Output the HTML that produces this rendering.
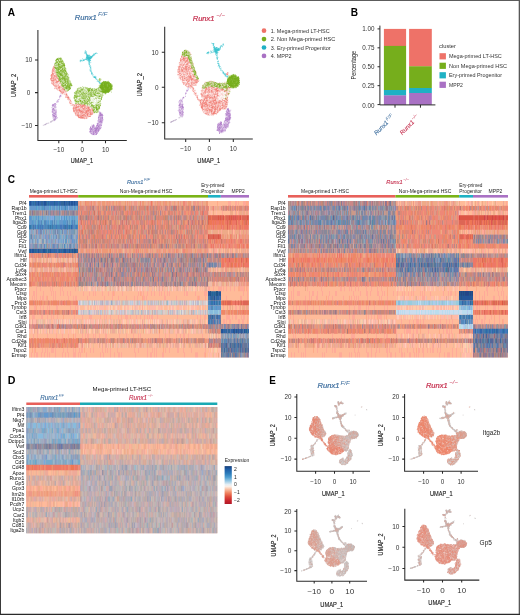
<!DOCTYPE html>
<html lang="en"><head><meta charset="utf-8"><title>Figure</title>
<style>
html,body{margin:0;padding:0;background:#fff}
body{width:520px;height:615px;overflow:hidden}
svg{display:block;font-family:"Liberation Sans", sans-serif;will-change:transform;transform:translateZ(0)}
</style></head><body>
<svg width="520" height="615" viewBox="0 0 520 615">
<rect width="520" height="615" fill="#fff"/>
<defs><filter id="hb" x="-1%" y="-4%" width="102%" height="108%"><feGaussianBlur stdDeviation="0.4 0.05"/></filter>
<filter id="ub" x="-5%" y="-5%" width="110%" height="110%"><feGaussianBlur stdDeviation="0.22"/></filter></defs>
<text x="7.7" y="16.2" font-size="11.2" font-weight="bold" textLength="7.3" lengthAdjust="spacingAndGlyphs" fill="#000">A</text><text x="74.8" y="19.8" font-size="8" font-style="italic" fill="#3f6f9f" stroke="#3f6f9f" stroke-width="0.22" textLength="21.9" lengthAdjust="spacingAndGlyphs">Runx1</text><text x="97.9" y="16" font-size="5.6" font-style="italic" fill="#3f6f9f" textLength="9.6" lengthAdjust="spacingAndGlyphs">F/F</text><text x="192.7" y="21.2" font-size="8" font-style="italic" fill="#c6304f" stroke="#c6304f" stroke-width="0.22" textLength="21.9" lengthAdjust="spacingAndGlyphs">Runx1</text><text x="216.3" y="17.4" font-size="5.6" font-style="italic" fill="#c6304f" textLength="8.7" lengthAdjust="spacingAndGlyphs">&#8722;/&#8722;</text><path d="M37.9 30V140.4H126.8M58.8 140.4v2.9M82.2 140.4v2.9M105.5 140.4v2.9M37.9 59.9h-2.9M37.9 92.6h-2.9M37.9 125.4h-2.9" stroke="#2b2b2b" stroke-width="1.05" fill="none"/><text x="58.8" y="151.7" font-size="6.4" text-anchor="middle" fill="#333">&#8722;10</text><text x="82.2" y="151.7" font-size="6.4" text-anchor="middle" fill="#333">0</text><text x="105.5" y="151.7" font-size="6.4" text-anchor="middle" fill="#333">10</text><text x="32.3" y="62.2" font-size="6.4" text-anchor="end" fill="#333">10</text><text x="30.4" y="94.9" font-size="6.4" text-anchor="end" fill="#333">0</text><text x="32.3" y="127.7" font-size="6.4" text-anchor="end" fill="#333">&#8722;10</text><text x="81.9" y="163.4" font-size="7.9" text-anchor="middle" textLength="22.3" lengthAdjust="spacingAndGlyphs" fill="#222" stroke="#222" stroke-width="0.15">UMAP_1</text><text transform="translate(16.1 85.5) rotate(-90)" font-size="7.9" text-anchor="middle" textLength="23.4" lengthAdjust="spacingAndGlyphs" fill="#222" stroke="#222" stroke-width="0.15">UMAP_2</text><g filter="url(#ub)"><path d="M54.6 64.7L55.8 59.5L58.7 57.6L61.5 58.4L63.9 62.4L66.2 70.5L69 78.6L71.9 84.9L70.8 88.4L67.9 91.3L65 90.7L61.5 85.5L58.7 79.7L56.4 73.9L55 68.8Z" fill="#76ae1c" fill-opacity="0.36"/><path d="M54.6 64.7L55 68.8L56.4 73.9L58.7 79.7L61.5 85.5L65 90.7L66.7 93.6L69.5 98.6L72.8 104.7L71.6 105.7L68 99.7L64.8 95.1L61.7 92.6L58.2 90.6L55.2 88.1L51.7 83.2L50.6 78.6L51.7 72.8L53.2 68.1Z" fill="#ee7268" fill-opacity="0.2"/><path d="M74.8 92.1L78.2 88L84 86.8L91 88.6L96.2 88.6L100.2 87.1L103.2 94.1L100.6 101.6L100 108.6L97.7 113.1L93.7 112.6L92.5 108.6L86.7 105.1L79.8 103.9L75.2 103.9L73.7 98.1Z" fill="#76ae1c" fill-opacity="0.26"/><path d="M73.2 104.1L79.8 103.9L86.7 105.1L92.5 108.6L93.7 113.1L90.2 116.6L84.4 118.9L78.7 117.8L75.2 114.3L72.7 109.1Z" fill="#ee7268" fill-opacity="0.3"/><ellipse cx="105.8" cy="87.2" rx="5.9" ry="5.7" fill="#76ae1c" fill-opacity="0.72"/><path d="M99.8 111.7L102.6 113.9L103.2 121.3L101 128.5L96.8 134.3L92.5 135.3L89.4 132.1L90.4 126.7L94 124.3L95.2 127.7L96.6 125.5L97.8 122.1L98.2 117.1Z" fill="#a971c4" fill-opacity="0.3"/><path d="M52.4 104.5L54.6 103.4L56.2 106.1L56.4 112.1L57 119.1L54.8 120.9L52.6 118.7L51.8 111.1Z" fill="#a971c4" fill-opacity="0.2"/><path transform="scale(.1)" d="M547 651h0m-6 13h0m-5 0h0m-8 19h0m3-2h0m5-1h0m2 2h0m3-9h0m0 4h0m3 0h0m1 1h0m-1 14h0m-1 4h0m-8-2h0m-9 0h0m-1 4h0m-3 9h0m2-4h0m1 1h0m5 0h0m3 8h0m1-11h0m2 2h0m4 5h0m5-8h0m1 0h0m13 27h0m-6-8h0m-1 5h0m0 1h0m-1-9h0m-1 0h0m-6 10h0m-14-12h0m-2 1h0m-2 0h0m0 6h0m-2-2h0m-5 2h0m5 19h0m1-8h0m2 5h0m2 0h0m0-4h0m8 0h0m3 1h0m11 4h0m7 3h0m6 9h0m-20 4h0m-7-4h0m-4 0h0m-1-5h0m-2 5h0m-4 5h0m-5-12h0m-2 4h0m-2-2h0m-1 7h0m-2 2h0m-2-2h0m-4 7h0m5-1h0m1 10h0m7-2h0m3-8h0m0 5h0m15 6h0m3-11h0m1 11h0m2-9h0m2 1h0m5-4h0m6 7h0m1 0h0m2-7h0m2 6h0m7-4h0m1 9h0m7 12h0m-1-1h0m-4 3h0m-4-7h0m-7 0h0m-9 2h0m-1 6h0m-3-12h0m0 9h0m0-3h0m-5 6h0m0-8h0m-7-3h0m-5 9h0m-1-7h0m-11 1h0m-1 8h0m-3-13h0m-2 4h0m-10 13h0m4-2h0m1 10h0m1 2h0m7-1h0m0-12h0m1 5h0m0-1h0m3-3h0m1-1h0m2 3h0m6-2h0m3 5h0m5-4h0m1 6h0m2 0h0m3 0h0m1 2h0m1 3h0m1-6h0m2 6h0m1-12h0m0 3h0m1 2h0m4 6h0m1-12h0m6 4h0m9 2h0m9-4h0m5 10h0m1-7h0m4 22h0m-4-12h0m-3 11h0m-12 0h0m-8-2h0m-1-9h0m-3 1h0m-3-2h0m-8 13h0m-4-13h0m-2 8h0m-6 2h0m-1-6h0m-2 5h0m-6-7h0m-2 7h0m-2 3h0m-2-6h0m-2 6h0m-3-5h0m-5-1h0m11 8h0m2 5h0m13-5h0m2 0h0m6 8h0m5-7h0m3 5h0m1-4h0m1 8h0m4 2h0m1 0h0m2-6h0m3-4h0m1 8h0m7-5h0m2 2h0m0 2h0m2 1h0m1-6h0m2 0h0m2-4h0m6 6h0m2-6h0m19 23h0m-7 4h0m-2-9h0m-8-3h0m-2 0h0m-13 7h0m-10 1h0m0-6h0m-10 0h0m-7 4h0m-9-3h0m-2 3h0m0 6h0m-2-12h0m-4 0h0m-6 2h0m-1 10h0m-4-1h0m-1-11h0m-1 5h0m-1-3h0m-1 3h0m14 10h0m5-2h0m1 5h0m10-5h0m8 2h0m6 6h0m9-5h0m11-2h0m2 0h0m2 11h0m3-9h0m32 18h0m-8 6h0m-1-6h0m-7 3h0m-4 3h0m-8 0h0m0-3h0m-3 3h0m-6-10h0m-10 6h0m-2-5h0m-8 2h0m-3-1h0m-6 6h0m-1 1h0m-3-7h0m0-3h0m-3 1h0m0 3h0m-12-6h0m13 25h0m8-9h0m3 11h0m1-1h0m4-11h0m6 8h0m5-6h0m0-3h0m1 5h0m7-5h0m2 13h0m0-4h0m0 0h0m4-1h0m1-6h0m2 9h0m2-3h0m2 4h0m11 1h0m3-8h0m0 8h0m0-7h0m10 4h0m3 2h0m13-1h0m8 12h0m-8-1h0m-4 5h0m-3-11h0m-8 11h0m-15-8h0m-16-1h0m-4 1h0m-7-4h0m-7 11h0m-3-11h0m-4 3h0m-2 2h0m-17-2h0m32 15h0m11 4h0m2-4h0m1 3h0m2-1h0m1-3h0m7 2h0m2 6h0m10 0h0m3 1h0m1-12h0m16 1h0m5-1h0m6 7h0m2 0h0m16 14h0m-10-3h0m-4 5h0m-8-2h0m0-7h0m-5 9h0m-1 3h0m-4-1h0m-1-12h0m-5 2h0m-10 7h0m-1 4h0m-4-8h0m-3 1h0m-5-3h0m0-2h0m-3 0h0m7 17h0m12 1h0m1 2h0m3-3h0m4 7h0m3-9h0m18 10h0m20 7h0m0-3h0m-3 3h0m-1 0h0m0 5h0m-12-2h0m-3-2h0m-3-5h0m-17 1h0m28 22h0m11-3h0m0-7h0m9 7h0m12 17h0m-3-9h0m-1 6h0m-1 4h0m-1 2h0m0 0h0m-3-4h0m-3-3h0m-2 5h0m-3-9h0m0 3h0m-2 3h0m-8-3h0m-7 3h0m20 18h0m9-2h0m1-2h0m10 3h0m3-10h0m7 24h0m-3-6h0m-3 8h0m-1-8h0m-2 2h0m-4-1h0m2 10h0m7 3h0m2 5h0m10-4h0m6 18h0m-9-1h0m-3 2h0m-1 0h0m-6-3h0m-1-2h0m0-4h0m3 13h0m13 0h0m8 9h0m11-1h0m20 2h0m1 0h0m0-4h0m5 1h0m6-6h0m6 7h0m0-1h0m1 5h0m5-5h0m2-3h0m8 2h0m0-2h0m6 4h0m7-4h0m1 6h0m20-7h0m19 8h0m35 9h0m0 2h0m-11 2h0m-1-11h0m-7 9h0m-1 0h0m-6-4h0m-2-5h0m-1 5h0m-1 5h0m-8-9h0m0 1h0m-2-2h0m-1 11h0m-2-3h0m-4-2h0m-1 0h0m-7 0h0m0-4h0m-10 10h0m-1-11h0m-3 2h0m-1 4h0m-4-3h0m-13 7h0m-4 1h0m-2-3h0m0-1h0m-18-3h0m-2 3h0m-17-4h0m-3-2h0m-7-1h0m-9 5h0m-16-3h0m22 24h0m6-6h0m7-4h0m8 2h0m0 3h0m4-2h0m6 5h0m1-11h0m4 11h0m1-2h0m2 2h0m3-10h0m7 6h0m1 1h0m5 0h0m7-7h0m1 6h0m2-2h0m3 6h0m0-3h0m1-6h0m10-2h0m0 2h0m0 1h0m0 7h0m3-10h0m2 4h0m3 1h0m1 6h0m4-10h0m2 3h0m1 8h0m1-12h0m5 2h0m5 3h0m3 2h0m1 2h0m3-6h0m9-2h0m2 0h0m1 3h0m6-2h0m1-1h0m5 8h0m6-6h0m4 10h0m3-6h0m1-3h0m2 7h0m1-6h0m3 4h0m1-2h0m0-7h0m18 11h0m16 8h0m-10 3h0m-3 2h0m-12-6h0m-4 9h0m-4-5h0m-2-5h0m-1 7h0m-1-5h0m-5 1h0m-3-1h0m-8-4h0m-4 1h0m-2 8h0m-2-3h0m-2-6h0m-3 2h0m-2 0h0m-1 0h0m-12 10h0m-2-10h0m-1 0h0m-4 1h0m0 1h0m-2 0h0m-5 5h0m-1 2h0m-5-9h0m-2-1h0m-2 7h0m-7 4h0m-7-2h0m-1 2h0m-5-2h0m-2-6h0m-2 6h0m-4-10h0m-5 8h0m-6 2h0m-7 0h0m-1-11h0m-3 2h0m-5 11h0m-2-4h0m-1-7h0m0 0h0m-3 2h0m-5-1h0m-2 10h0m-3-5h0m-5-7h0m-6 9h0m-3-8h0m-1 8h0m-3-1h0m4 16h0m2-11h0m3 7h0m7 2h0m1-7h0m2 3h0m7-2h0m3 10h0m2-6h0m0 0h0m1 1h0m4 1h0m4 1h0m5 2h0m5-11h0m3 7h0m1 3h0m1-10h0m2 1h0m2 7h0m3 2h0m2-4h0m0 6h0m4-6h0m1 1h0m1 3h0m7 1h0m4-5h0m16 3h0m7-2h0m3 2h0m1-10h0m13 0h0m1 9h0m11-7h0m6 5h0m5 5h0m2-10h0m8 11h0m0-13h0m1 8h0m2 5h0m5-7h0m1 4h0m2-3h0m2 2h0m2-9h0m2 3h0m1 5h0m4 3h0m1-2h0m6 0h0m5 4h0m0-3h0m1-10h0m2 5h0m1 0h0m1 5h0m6 1h0m-1 10h0m-1 1h0m-2-8h0m-1 9h0m0-3h0m-4-4h0m-2-2h0m-7 10h0m-2-7h0m-4 6h0m-7-4h0m-6-2h0m0 5h0m-2-4h0m-2-1h0m-2 6h0m0-4h0m-2 5h0m-5-1h0m0-5h0m-1 5h0m-1-7h0m-3 11h0m-1-10h0m-5 10h0m-2-12h0m-1 12h0m-2-12h0m0 7h0m-3 0h0m-2-1h0m-5 2h0m-3-6h0m-4 2h0m-3 5h0m-3-3h0m-3 2h0m-2 3h0m-9-12h0m-5 7h0m-3-2h0m-5 4h0m-1-1h0m-1-4h0m-1 5h0m0 4h0m-7-8h0m-2-2h0m-2 2h0m-3 1h0m-2 3h0m0-6h0m-4 6h0m-18-3h0m-8 3h0m-8-2h0m-1 5h0m-1-10h0m-7-1h0m0 2h0m-2 6h0m-4 4h0m-4-3h0m-4-6h0m0-2h0m18 22h0m0 1h0m6-11h0m9 9h0m5-7h0m9 0h0m3 2h0m2 9h0m8-12h0m0 9h0m0-9h0m4 5h0m0 0h0m7-3h0m4 10h0m4-11h0m2 4h0m5-4h0m0 0h0m2 2h0m1-2h0m2 4h0m1 0h0m2-5h0m1 2h0m2-2h0m7 10h0m4-5h0m1-6h0m9 9h0m5 1h0m2-6h0m4 1h0m0-2h0m0 0h0m2-1h0m1-2h0m4 7h0m3 5h0m2-10h0m6 11h0m6-5h0m1 2h0m1-6h0m2 1h0m3 5h0m2-7h0m1 5h0m3-2h0m4 4h0m1 0h0m0 0h0m11 2h0m2-12h0m1 13h0m3-13h0m4 4h0m2 2h0m2-6h0m4 11h0m-7 6h0m-2 1h0m-2 5h0m-11 0h0m-1 1h0m-3-7h0m-4 4h0m-1 5h0m0-4h0m-22-4h0m-7-1h0m0 8h0m-1-1h0m-1-2h0m-1 4h0m-5-7h0m-8-1h0m-4-4h0m-7 12h0m-2 0h0m-7-10h0m-1 1h0m-2 8h0m-5-9h0m-6-1h0m-11-1h0m-8 12h0m-17 1h0m-4-7h0m-1-3h0m-3 7h0m-2 1h0m-5-11h0m-3 8h0m-12-1h0m-1-3h0m-1 14h0m11 5h0m8-8h0m3 9h0m0-4h0m1-4h0m3 5h0m3-6h0m4 4h0m5 3h0m0-6h0m4 10h0m2-4h0m3 5h0m1-6h0m9-4h0m4-2h0m0 8h0m2 3h0m1-9h0m1 9h0m4-5h0m0 4h0m4-6h0m1 2h0m1-6h0m5-1h0m3 7h0m3 6h0m4-1h0m5 0h0m4-6h0m0 7h0m14-1h0m4 0h0m0-3h0m3-7h0m0 6h0m13-8h0m9 1h0m4 11h0m13-12h0m-11 17h0m-5-3h0m-2 2h0m-3-2h0m-5 1h0m-7 3h0m-5 5h0m0-3h0m-12 4h0m-9-3h0m-14 3h0m-1 2h0m-10-5h0m-1 0h0m-1 5h0m0-7h0m-4 7h0m-1-3h0m-1-8h0m-1 5h0m-3 3h0m-1 4h0m-3-5h0m-3-4h0m-1 1h0m-1 3h0m-2 0h0m-8-4h0m-4 0h0m-1 9h0m-1-3h0m-3-10h0m-1 11h0m-3-1h0m-1-3h0m-3-5h0m-1-1h0m8 14h0m3 1h0m13 2h0m1-2h0m2-2h0m3 8h0m2-5h0m11 5h0m4-7h0m3 5h0m5-4h0m7 9h0m4-7h0m12 6h0m4-3h0m6 1h0" stroke="#ee7268" stroke-width="5.5" stroke-linecap="round" fill="none"/><path transform="scale(.1)" d="M612 582h0m-5-2h0m-5 1h0m-5 4h0m-8-1h0m-6 2h0m-1 0h0m-3-2h0m-16 12h0m2-5h0m4 8h0m0-2h0m1 1h0m0-3h0m3-4h0m2 2h0m0 5h0m1-10h0m1 4h0m0 4h0m6-3h0m4 7h0m0-10h0m2 9h0m7-7h0m1-3h0m4 5h0m2 0h0m1-6h0m4 0h0m4 0h0m7 6h0m10 16h0m-3-2h0m-5 1h0m-1 3h0m0 2h0m-4-2h0m-4 1h0m-6-6h0m-4 7h0m-1-1h0m-3 2h0m-6-2h0m-1 0h0m0 2h0m-3-2h0m-2 0h0m-1-7h0m-6 1h0m-10 7h0m0-2h0m-3-10h0m-3 7h0m-3-5h0m-3 2h0m0 21h0m5-5h0m1 6h0m1 0h0m3 1h0m1-9h0m1-2h0m3 3h0m3 4h0m1-9h0m18 8h0m2-4h0m1 2h0m4 5h0m8-3h0m1 2h0m0-8h0m6 6h0m5-3h0m11-3h0m11 21h0m-1-5h0m-5-3h0m-2 2h0m-9 1h0m-1 5h0m-3 3h0m-1-4h0m-1-3h0m-6 5h0m-1-5h0m-3 8h0m-1-11h0m0-1h0m-1 11h0m-4-8h0m-2 3h0m-1-2h0m-1-4h0m-1 10h0m-2-2h0m-5-2h0m-2-3h0m-2 0h0m-2 5h0m-3 2h0m0-4h0m-9-7h0m-6 3h0m-1-1h0m-2 2h0m-4-3h0m0 10h0m-4-6h0m-1 6h0m0-7h0m-3 7h0m-5-8h0m0 9h0m1 15h0m1-10h0m5 6h0m1 3h0m8 1h0m4-9h0m6 3h0m5-4h0m2-1h0m1-1h0m1 3h0m4 4h0m1-2h0m1 6h0m4-9h0m1 5h0m8-5h0m1 4h0m1-6h0m5 5h0m4 6h0m0-12h0m1 7h0m1-7h0m0 5h0m8 2h0m1-3h0m3-1h0m4 8h0m3-10h0m0 7h0m4-5h0m0 7h0m2-9h0m2 9h0m2-5h0m0-1h0m2 7h0m3 2h0m-3 5h0m0-4h0m-1 6h0m-1-6h0m-2 0h0m-3 1h0m-8 4h0m-1-1h0m-1 5h0m-2-6h0m0-3h0m-8 10h0m-2-6h0m-2-4h0m-5 10h0m-3 3h0m-4-2h0m-2-8h0m-1-3h0m0 4h0m-7 2h0m0 0h0m-1 6h0m0-4h0m-1-7h0m-6 8h0m-29 2h0m0-11h0m-1 0h0m-2 13h0m-3-6h0m-2 6h0m0 2h0m4 4h0m0 1h0m4-5h0m1 9h0m1-1h0m0 2h0m3-7h0m5 7h0m2 0h0m3-1h0m1-6h0m2 1h0m4 5h0m5-9h0m5 9h0m2-1h0m1 0h0m4 2h0m2-4h0m3-1h0m1 4h0m3-6h0m3 0h0m0 7h0m1 2h0m1-4h0m5-8h0m1 6h0m0-6h0m6 0h0m8 11h0m3-7h0m11 3h0m3-6h0m3 6h0m1-1h0m2 4h0m3 2h0m4 5h0m-1 0h0m-4 9h0m-9-12h0m0 1h0m0 9h0m-1 0h0m-12-8h0m-3 2h0m0-2h0m-2 5h0m0-7h0m-1 3h0m-3 9h0m-1-12h0m0 4h0m-3 6h0m0 2h0m-3-6h0m-3 5h0m-11-10h0m-2 2h0m0 1h0m-1-5h0m-2 7h0m-2-3h0m-2-2h0m-2 6h0m0 5h0m-1-5h0m0-8h0m-2 2h0m0 7h0m-2-3h0m-3 6h0m-3-4h0m-4 2h0m-7-5h0m-2 8h0m-3-7h0m-4-3h0m-5 10h0m2 14h0m5-1h0m3 0h0m6-4h0m1-3h0m0 1h0m13-3h0m1 8h0m0-9h0m9 10h0m6 0h0m2-3h0m4-3h0m1 4h0m0-9h0m1 4h0m3 4h0m2 0h0m1-8h0m3 5h0m3 4h0m10-4h0m3 2h0m3 2h0m3-2h0m0 1h0m9-5h0m0 0h0m4 8h0m0-10h0m0 11h0m4-11h0m0 10h0m2 1h0m2 6h0m-2 5h0m-3-4h0m-3 0h0m-5 6h0m0-7h0m-5 6h0m-2 0h0m-8-2h0m-2-9h0m-2 2h0m-5 3h0m-1 6h0m0-3h0m-2-2h0m-4 3h0m-6 1h0m-4 2h0m-4-3h0m-1-3h0m-2 6h0m-3-5h0m-5-3h0m0 4h0m-4-3h0m0-4h0m-8 10h0m0-4h0m-2 5h0m-1-6h0m-3 0h0m-3-5h0m-1 1h0m-1 5h0m-1 2h0m-2 3h0m-1-8h0m-4 0h0m-1 7h0m4 10h0m5-6h0m4-1h0m4 3h0m5-3h0m5 8h0m0 2h0m4-6h0m3 6h0m1-9h0m4 0h0m1 4h0m5-4h0m0 5h0m2-2h0m2 3h0m3-7h0m3 10h0m5-2h0m2-6h0m11 9h0m5 2h0m3-12h0m1 9h0m1-2h0m0-3h0m2 4h0m2 3h0m1-6h0m2 0h0m2-1h0m0 7h0m6-9h0m5 1h0m1 5h0m2-7h0m2 6h0m1-4h0m2 4h0m1-3h0m10 13h0m-8-3h0m-7-1h0m0 7h0m-1-3h0m-1 3h0m-2-5h0m-8 11h0m-4-9h0m0-4h0m-4 6h0m-4 2h0m-8-7h0m-5 9h0m-2-3h0m0 1h0m-8 5h0m-6-11h0m-1 6h0m-1 1h0m-2-5h0m0 0h0m-2 1h0m0-2h0m-4-1h0m-2 3h0m0 8h0m-1-3h0m-3-8h0m-1 8h0m-6 1h0m-1 0h0m-1-3h0m-3 4h0m-5-4h0m0 2h0m-6-4h0m-3 4h0m-4-8h0m5 22h0m1 0h0m5-9h0m4 0h0m0 1h0m1-2h0m3 7h0m0-5h0m3-1h0m0 7h0m0-1h0m3 6h0m2 0h0m6 0h0m7-12h0m6 5h0m4-3h0m3-2h0m0 4h0m1-1h0m6 2h0m0-3h0m3 9h0m0 0h0m1-12h0m7 8h0m2 0h0m1-8h0m2 4h0m1-3h0m3 10h0m0-9h0m3 3h0m3 3h0m3-5h0m8-2h0m2 5h0m6 4h0m6-9h0m0 3h0m13 19h0m-6-2h0m-7-3h0m-1-2h0m-1 1h0m0 2h0m-1-2h0m-8 3h0m-7 7h0m-3-3h0m-1-6h0m-2 5h0m0-2h0m-4 6h0m-4-11h0m-1 2h0m-3 9h0m-6 0h0m0-4h0m-1-3h0m-7 1h0m-2-3h0m0 6h0m-3-6h0m-3 2h0m-6 7h0m-3 0h0m-6-13h0m-3 10h0m-3-4h0m-2 1h0m0 0h0m-2 4h0m-2 1h0m-1 0h0m-1 1h0m0-4h0m-9-8h0m-2 0h0m3 13h0m8 8h0m2 4h0m7 0h0m1-4h0m1 5h0m2-3h0m5-9h0m4 6h0m1 3h0m1-10h0m2 3h0m1-1h0m2-2h0m3 6h0m1 2h0m1-1h0m9-4h0m1 5h0m4-6h0m5-2h0m0 8h0m2 5h0m0-9h0m1 8h0m1-8h0m7-2h0m1 10h0m1-7h0m5-2h0m2 1h0m2 1h0m1 0h0m6-3h0m3 2h0m4 1h0m5 1h0m1 0h0m307-1h0m4 3h0m1-3h0m2 1h0m9 3h0m-3 10h0m-8 8h0m-2-10h0m0 8h0m-5-9h0m-4 0h0m-289 6h0m-8 3h0m-5-5h0m-4 3h0m-2-5h0m0-3h0m-4 7h0m-2-8h0m-5 3h0m-3 5h0m-5 4h0m-1-8h0m-1 1h0m-6-3h0m-1 3h0m-9-3h0m-1 5h0m-3 2h0m0 4h0m-1-4h0m-4 1h0m-10 2h0m-1 0h0m-4-9h0m-7 5h0m-3-8h0m-3 13h0m-6-11h0m-2 1h0m-5 4h0m-4-4h0m16 17h0m2-3h0m2 2h0m9 0h0m1-2h0m0 2h0m1 1h0m9-1h0m12 3h0m1-2h0m1-1h0m2-4h0m0 10h0m4-11h0m5 12h0m1-8h0m0 0h0m2 6h0m2 0h0m1-10h0m2 8h0m13 1h0m0-1h0m1 1h0m2-5h0m1-1h0m4 4h0m2 5h0m0-11h0m10 8h0m0-4h0m3-4h0m3 2h0m322 8h0m7-1h0m6-6h0m0 2h0m1-4h0m0 10h0m6-4h0m4 5h0m0-3h0m0 3h0m0-10h0m4 6h0m0-4h0m2-2h0m3 2h0m3 2h0m1 1h0m10-3h0m1 3h0m2 3h0m1 0h0m3 1h0m4-10h0m1-1h0m1 8h0m4 2h0m3 0h0m3 1h0m11 14h0m-3 0h0m-4-1h0m-1-9h0m-3 2h0m-2 9h0m-1 0h0m0-9h0m-4 4h0m-2 0h0m-1-8h0m-3 1h0m-1 6h0m-1-7h0m-1 7h0m-3-5h0m-2 4h0m0 0h0m0 0h0m-2-3h0m-1 10h0m-1-4h0m-1-9h0m0 11h0m-2-2h0m0-9h0m-3 7h0m-2 6h0m-2-1h0m-2-9h0m-2-3h0m-1 4h0m-3 4h0m-2-1h0m0 5h0m-1-3h0m0 1h0m-1 1h0m-1 2h0m-4-9h0m-1 1h0m-6-3h0m-2 1h0m-1 3h0m-1 6h0m0-11h0m-1 12h0m-6-1h0m0-9h0m0-3h0m0 1h0m-2-1h0m-2 3h0m-2 8h0m-1 0h0m-2-2h0m-1 2h0m-10 0h0m-293-2h0m-2-2h0m0-1h0m-8-4h0m-8 5h0m-1-1h0m-5-2h0m-1-4h0m0 12h0m-3-11h0m-5 9h0m-9 1h0m-3-1h0m-15-6h0m-6-2h0m0 0h0m-1 6h0m-2 1h0m0 0h0m-1 1h0m-4-2h0m-3 0h0m0-3h0m-2 2h0m-7-6h0m-1 12h0m-2-11h0m-1 1h0m0 7h0m-6 1h0m-2-10h0m-10 2h0m11 23h0m4-1h0m3-3h0m3-3h0m14 7h0m8-2h0m2 3h0m4-2h0m1 0h0m0-7h0m2 5h0m4-7h0m3 7h0m0 3h0m0-4h0m9 2h0m1-6h0m1 6h0m0-9h0m2 6h0m0 4h0m5 0h0m4-9h0m1 5h0m12 4h0m1 0h0m2-4h0m1-6h0m3 2h0m2 6h0m3-9h0m0 8h0m3 1h0m2-2h0m5 4h0m283-2h0m7-9h0m2 11h0m3-11h0m3 4h0m1 2h0m0 7h0m0-6h0m1-2h0m1 4h0m2-8h0m1 9h0m0-7h0m1-2h0m3-1h0m1 10h0m1-10h0m5 9h0m8-4h0m2 7h0m0-6h0m1 6h0m2-2h0m0-8h0m0 10h0m1-2h0m0-7h0m0-1h0m3 6h0m1 3h0m0-1h0m0-9h0m1 5h0m0 7h0m0-10h0m3 8h0m1-9h0m5 9h0m1-4h0m0 5h0m3 0h0m0 0h0m3-4h0m3-1h0m9 3h0m2-9h0m1 11h0m0-5h0m3-2h0m1-1h0m1 9h0m2-5h0m11-8h0m0 0h0m0 8h0m1-5h0m1 7h0m1-5h0m2-4h0m3 1h0m0 4h0m6-4h0m3 6h0m2 2h0m4 14h0m-4-8h0m-1 1h0m-1 3h0m-1 4h0m-2-1h0m-1-1h0m0-1h0m-1 0h0m-1 3h0m-2-8h0m-4-2h0m-1 5h0m0-2h0m-1 4h0m0 6h0m-1-13h0m-1 7h0m-2-6h0m-1-1h0m-1 7h0m-1 5h0m-1-11h0m0 12h0m-1-9h0m-3 0h0m-2 0h0m0-4h0m-1 2h0m0 2h0m-2 7h0m-1-9h0m0 10h0m-1-4h0m-2-7h0m-2 10h0m-9-6h0m-6 7h0m-1-9h0m-1 7h0m-3 1h0m0-5h0m-2 5h0m-3 0h0m0-2h0m-1 0h0m-3-5h0m-1-2h0m0 5h0m0-4h0m0 3h0m-3-3h0m-1-1h0m0 6h0m-1 0h0m-1 1h0m-1-4h0m-4 6h0m-2-7h0m-4 9h0m0-11h0m-2 0h0m-1-1h0m-1 0h0m0 0h0m-4 7h0m-1-2h0m0 1h0m-2-6h0m-1 9h0m0 3h0m-2-3h0m0 1h0m0-5h0m-2-5h0m-1 0h0m-1 5h0m-2 5h0m-1-9h0m-2 10h0m-3-12h0m-1 11h0m-1 1h0m-3-12h0m0 1h0m-5-1h0m-2 12h0m-5-7h0m-164 8h0m-105-11h0m-7-1h0m0-1h0m-6 1h0m-1 6h0m-8-4h0m-1 8h0m-2-7h0m-3 1h0m-1 8h0m-6-7h0m-3 1h0m-2 2h0m-1-7h0m-1 10h0m-2-6h0m-1 3h0m-2-9h0m-2 13h0m-2-12h0m-3 5h0m-1-3h0m-4 7h0m-1-6h0m-2 5h0m-8-7h0m-11 1h0m-1-2h0m0 10h0m-5-1h0m-1-6h0m-4-1h0m-1 9h0m-1-2h0m-7-7h0m0 1h0m-1-1h0m0-2h0m22 18h0m8-5h0m2 5h0m2 4h0m2-5h0m2 1h0m2 8h0m1 0h0m1-7h0m2 1h0m1 5h0m2-11h0m4 12h0m3-9h0m5 5h0m4 2h0m4-6h0m1 7h0m0-11h0m2 5h0m4-2h0m1 8h0m0 1h0m2-7h0m2 6h0m1-9h0m0 10h0m2-4h0m0 3h0m0 1h0m1-1h0m0-5h0m4-3h0m94 9h0m1-7h0m7 5h0m10 0h0m8 0h0m1 0h0m6-3h0m18-3h0m2 5h0m14 0h0m5 3h0m32 0h0m79-5h0m10-3h0m1 3h0m1-1h0m1-2h0m0-2h0m1 6h0m2-1h0m0 2h0m1 0h0m0 3h0m0-1h0m1 1h0m0-10h0m1 6h0m0-7h0m0 5h0m1-4h0m1 4h0m0 0h0m1 3h0m1-4h0m2-6h0m1 6h0m2-3h0m1 8h0m1-8h0m0 5h0m0 1h0m1 1h0m2-1h0m0-5h0m2 7h0m2-6h0m1 3h0m0-8h0m2 9h0m2 0h0m1-3h0m0 5h0m0-6h0m1 5h0m1-7h0m4 7h0m0 1h0m1-8h0m3-3h0m0 6h0m1 5h0m4-5h0m2-1h0m0-5h0m1 0h0m2 4h0m3 8h0m1-5h0m3 4h0m0-2h0m2 1h0m2 2h0m0-5h0m0 5h0m0-2h0m0 2h0m1-6h0m2-4h0m0-1h0m1 0h0m3 9h0m1 2h0m0 0h0m1-9h0m0-3h0m2 8h0m2-3h0m1-1h0m2-4h0m0 11h0m2-5h0m1 4h0m1-3h0m1 6h0m1-1h0m1-3h0m0-4h0m4 5h0m1-5h0m1-3h0m0 0h0m1 7h0m1-9h0m0 6h0m8 6h0m5-12h0m0 1h0m0 8h0m4-9h0m0 5h0m2 3h0m2-2h0m0 1h0m1 3h0m6-4h0m0 0h0m9 6h0m-5 5h0m-1 9h0m-2-1h0m-1 1h0m-1-10h0m0 7h0m-3-6h0m0-3h0m-4 13h0m-2-10h0m-1-3h0m0 0h0m-2 7h0m-4 4h0m-1-1h0m-1 2h0m-4-9h0m-1 10h0m-2-2h0m-2-3h0m-2-2h0m-4 5h0m0 1h0m-1 0h0m-1-11h0m0-1h0m-2 8h0m-2 1h0m0-8h0m-1 12h0m0-2h0m-1-10h0m0-1h0m0 8h0m-1-3h0m-1 4h0m0-7h0m-2 7h0m-1 2h0m-3-9h0m-1-1h0m-9 7h0m-1 3h0m0-3h0m-3-2h0m-3 5h0m-7-11h0m-2 13h0m-2-11h0m-1 4h0m-2 5h0m-4 1h0m0-12h0m0 6h0m-1-4h0m-1 6h0m-1 5h0m-1-10h0m-1 4h0m-1-4h0m-1 3h0m-3 6h0m-1-7h0m0 0h0m-2 3h0m-2 0h0m-4-1h0m0 3h0m-1-2h0m0 4h0m-1-11h0m-3 3h0m-1 9h0m-2-8h0m-1 8h0m-9-5h0m-6 1h0m-1-2h0m-1 3h0m0 0h0m-6-9h0m-4 7h0m-12 2h0m-3 2h0m-18-3h0m-1-6h0m-5 6h0m-10 1h0m0-5h0m-7 6h0m0-3h0m-2 4h0m-4 0h0m-2 1h0m-9-7h0m-1 5h0m-1-2h0m-3-4h0m-2-3h0m-5 7h0m-1 0h0m-1-7h0m-6 3h0m-1 6h0m-2 2h0m-1-4h0m-5 3h0m-6-10h0m-9-2h0m-22 10h0m-2-3h0m-10 1h0m-2-3h0m-13 7h0m-3-7h0m-3 6h0m-8-9h0m-8 3h0m-2-3h0m-3-2h0m0 3h0m-5 3h0m-6 0h0m-69-2h0m-6 9h0m-6-3h0m-1 2h0m0-3h0m-5 2h0m-9-10h0m-7 5h0m-4-4h0m-1 2h0m-3-4h0m-2 10h0m-4 0h0m-7-1h0m-3-4h0m-1 0h0m-1 7h0m-13-11h0m38 13h0m8 13h0m0-3h0m0-8h0m5-1h0m0 6h0m5-7h0m0 4h0m84 8h0m0-6h0m6-3h0m0 4h0m10-1h0m4-1h0m4 1h0m1-5h0m3 3h0m1 7h0m3 1h0m1-6h0m3 6h0m7-7h0m4-3h0m1-2h0m0 11h0m1-8h0m1 10h0m1 0h0m2 0h0m0-13h0m1 3h0m4-3h0m4 8h0m0-2h0m9-5h0m0 8h0m16 3h0m15-5h0m5 0h0m4 5h0m3-1h0m2-1h0m1 0h0m0-6h0m5 3h0m1 6h0m1-8h0m1 2h0m0-3h0m2 4h0m0 5h0m7-1h0m4-7h0m3-4h0m1 2h0m1 4h0m1 4h0m4-4h0m1 0h0m0 0h0m4 1h0m2 0h0m2 4h0m1-1h0m5 0h0m1-2h0m5 0h0m6-1h0m3-2h0m5-2h0m2 2h0m1-1h0m2 4h0m1-9h0m2 12h0m0-5h0m2-4h0m1 0h0m1 3h0m13 2h0m1 5h0m8-13h0m1 8h0m7 1h0m0-8h0m5 0h0m5 11h0m1-2h0m2 3h0m0-13h0m1 8h0m4-7h0m1 8h0m0-3h0m7 2h0m0-1h0m5-6h0m1 3h0m1-2h0m2 8h0m3-8h0m1-2h0m0 12h0m1 0h0m9-10h0m0 2h0m2 7h0m1-10h0m2 1h0m0 3h0m2 6h0m2 2h0m0-5h0m2 1h0m1 0h0m0 2h0m3-9h0m2 6h0m1 0h0m0 4h0m0-1h0m1-1h0m0 0h0m2 0h0m2-7h0m0-3h0m0 0h0m0 1h0m1 1h0m1 3h0m0 7h0m3-6h0m1 2h0m0-4h0m1 3h0m2 4h0m2-7h0m1 8h0m3 0h0m0-5h0m2 3h0m0-10h0m4 5h0m4-2h0m0-1h0m3 1h0m1 8h0m0 0h0m1-4h0m9-7h0m1 0h0m2 6h0m4 19h0m-13-9h0m-10 5h0m0-3h0m-4 9h0m-2-7h0m-2 3h0m-2-9h0m0 4h0m-1 6h0m-1-9h0m0 4h0m-1-2h0m-1 1h0m-2 1h0m-1 3h0m-1-3h0m0 7h0m-2-9h0m-1-3h0m0 10h0m-5 2h0m-1-11h0m0 5h0m-3 7h0m-2-5h0m0-5h0m0 3h0m-2 0h0m-4 0h0m0 6h0m-1-7h0m-1 5h0m0-9h0m-2 6h0m-1 2h0m0-4h0m-2-2h0m-1 4h0m-1-5h0m-5 2h0m-1 4h0m0 2h0m0 1h0m-1-7h0m-1-3h0m-3 4h0m-3 1h0m-1 3h0m0 2h0m-1-2h0m-1 4h0m-2-5h0m-2-1h0m-1-3h0m0 6h0m-3 3h0m-2-6h0m-1-1h0m-4 3h0m-1-7h0m-3 5h0m0 1h0m-2-4h0m-2-2h0m-3 2h0m0-3h0m-4 2h0m-1 4h0m-2 5h0m-6-8h0m-4 9h0m-15-2h0m-7-8h0m-3 8h0m-1-4h0m-3 3h0m-1 3h0m-5-13h0m-3 13h0m-1-9h0m-7 6h0m0 3h0m-2-7h0m-9-5h0m0 5h0m-4-2h0m-1-2h0m-7 2h0m-27-4h0m-3 9h0m0-2h0m-1 2h0m0-6h0m-18-1h0m-4 5h0m-2-7h0m-8 8h0m-4-7h0m-2 4h0m-10 2h0m-13 0h0m-1 4h0m-3 0h0m-8 0h0m-2-2h0m-2-3h0m0-3h0m-2 3h0m-1 0h0m-4-4h0m-1 1h0m-3 4h0m-2 2h0m-6-4h0m-5 3h0m-4 4h0m-3-6h0m-1-5h0m0 3h0m-1 6h0m-4-5h0m-3 6h0m-1 0h0m-1-4h0m-2-2h0m-3-2h0m-2 10h0m-88-11h0m73 18h0m3-4h0m6 10h0m1-3h0m2-2h0m0 0h0m1-5h0m4-2h0m5 13h0m0-2h0m0-5h0m4-1h0m9-4h0m2 9h0m3-10h0m6 10h0m0 2h0m9-3h0m4-2h0m8 4h0m0-2h0m1-4h0m2 7h0m7-2h0m0-6h0m4 3h0m3-2h0m3-5h0m3 5h0m2 3h0m1-3h0m7 8h0m1-7h0m2 4h0m4 0h0m2 0h0m3-5h0m5 5h0m5-3h0m6 5h0m3 1h0m3-7h0m3-6h0m3 7h0m8 0h0m3 6h0m1-1h0m3-11h0m0 1h0m3 2h0m4 2h0m3-6h0m1 7h0m3 2h0m3-5h0m1 3h0m6-6h0m5 5h0m4-6h0m4 12h0m5-4h0m6-1h0m7-2h0m2 6h0m7 0h0m1-7h0m2 5h0m7-1h0m0-1h0m1 5h0m2-5h0m0 0h0m1-5h0m2 11h0m6-2h0m2 2h0m2-6h0m1 3h0m7 0h0m2-3h0m2-2h0m1 1h0m11 2h0m9 3h0m3-1h0m2 3h0m2-4h0m6-7h0m0-1h0m1-1h0m6 8h0m1-8h0m1 3h0m3-2h0m3 3h0m3-2h0m1 3h0m1 0h0m2 6h0m1-11h0m1 12h0m5-6h0m19-6h0m0 1h0m-30 15h0m-23 8h0m-5-1h0m-2 2h0m-2 0h0m-3-3h0m-1-1h0m-3-6h0m0 5h0m-1-2h0m-12 8h0m-1-2h0m-11-1h0m-10-9h0m-4 5h0m-1 6h0m0-9h0m-4 4h0m-12-2h0m-1 0h0m-4 7h0m0-6h0m-4 1h0m-4 2h0m0-4h0m0 3h0m-3-6h0m-1 9h0m-3-1h0m-14 3h0m0-3h0m-5 1h0m-3-10h0m-1 10h0m-2-8h0m-7 8h0m-3-9h0m-1 5h0m-2-1h0m-5 1h0m-4-1h0m-1-2h0m0 2h0m-1-5h0m0 13h0m-1-10h0m-1-2h0m0 11h0m-10-4h0m-7 1h0m-3-8h0m-9 0h0m-1 2h0m-4-2h0m-10 11h0m0-1h0m-5-10h0m-5 11h0m-7-4h0m-5 1h0m-1-8h0m0 5h0m-4 2h0m-5 3h0m-3 0h0m-3-7h0m-2 6h0m-6-9h0m0 3h0m-1-1h0m-11 10h0m-10-6h0m-5-6h0m-2 7h0m-3-4h0m-2-4h0m-4 13h0m-1-8h0m-11 14h0m1-3h0m2 5h0m0-5h0m1 10h0m2-12h0m5 5h0m3 6h0m9-8h0m1 5h0m4 2h0m6-4h0m1 7h0m1 0h0m8-7h0m4 1h0m2 1h0m3 0h0m5-6h0m8 11h0m3-8h0m2-5h0m9 9h0m4-9h0m0 0h0m0 6h0m2 6h0m2-12h0m0 12h0m1-2h0m6-9h0m0 10h0m6-1h0m0-9h0m4 12h0m1-3h0m2-8h0m5 7h0m3-1h0m0-6h0m3 9h0m1-3h0m2-3h0m3 8h0m1-2h0m2 1h0m3-10h0m2-1h0m1 11h0m4-2h0m1 0h0m1-1h0m3 2h0m5-10h0m10-1h0m1 4h0m3-3h0m2 9h0m5-1h0m3-7h0m0 3h0m2 6h0m6 1h0m0-7h0m1 8h0m1 0h0m1-13h0m0 9h0m8 2h0m8-5h0m7-4h0m3 0h0m1 3h0m0 2h0m1-4h0m7 5h0m3-5h0m5 5h0m1-2h0m0 4h0m5-1h0m2-1h0m0 1h0m2 3h0m3-12h0m1 13h0m5 0h0m3 0h0m1-1h0m1-1h0m1-11h0m0 11h0m6 0h0m8-5h0m3 1h0m6-6h0m5 6h0m1 0h0m1-6h0m2 2h0m-9 20h0m-2-7h0m-2 4h0m-1-4h0m-7 2h0m-3-3h0m-12 11h0m-2 1h0m-2-10h0m-11 10h0m0-13h0m0 6h0m0 5h0m-2-6h0m-11 6h0m-14 0h0m-2 0h0m-1-6h0m-2 3h0m-3-8h0m-5 2h0m-6-2h0m-2 0h0m-3 6h0m-3 4h0m-13-5h0m-4 2h0m-3-5h0m-3 9h0m-3-2h0m-6-4h0m-2 0h0m-3 1h0m0 5h0m-15-11h0m-7 4h0m-3-3h0m-1 10h0m-5-8h0m-3 0h0m-5 6h0m-1 0h0m-2 2h0m-2-7h0m-4 0h0m-4 0h0m0-2h0m0 7h0m-1 1h0m-3 3h0m-9-2h0m0-4h0m-4 3h0m-9-10h0m-5 5h0m-1-2h0m-1-2h0m-1 0h0m-3 4h0m-2 2h0m-3-2h0m-1-2h0m-1 10h0m-10-8h0m-2-4h0m-8 6h0m-4 6h0m0-7h0m-1 0h0m0 3h0m-2-9h0m-2 7h0m-4-1h0m-4-4h0m-2 8h0m-4 3h0m-1-8h0m-4 3h0m-4-2h0m3 13h0m1 1h0m3 4h0m20-4h0m0-6h0m2 3h0m11 10h0m10-10h0m6 1h0m1-1h0m11-1h0m12 3h0m8 1h0m5 2h0m1 1h0m0-3h0m1 0h0m1-5h0m1 12h0m6-5h0m0-3h0m2 2h0m7-7h0m2 6h0m4-1h0m1 0h0m0 1h0m2-5h0m3 10h0m4-2h0m9-7h0m3 11h0m0-7h0m17-2h0m2 5h0m0-8h0m0 4h0m2 8h0m16-12h0m0 10h0m0-5h0m2-6h0m14 12h0m5-1h0m1-8h0m1 1h0m9 2h0m1 7h0m3-7h0m0-6h0m1 0h0m4 4h0m4-1h0m7-3h0m4 7h0m2-7h0m7 8h0m2 2h0m4 1h0m0-8h0m6 8h0m1-6h0m1-1h0m7 2h0m10-5h0m0 9h0m0-3h0m1-3h0m1 9h0m1 1h0m-2 2h0m-5-2h0m-14 12h0m-4-4h0m0 5h0m0-12h0m0 5h0m-3 7h0m-13 0h0m-3-1h0m-1-11h0m0-1h0m-4 7h0m-1-1h0m0 5h0m-5 0h0m-12-6h0m-2-5h0m-1 4h0m-2-3h0m-2 10h0m-1 1h0m-2-8h0m-6 1h0m-24 0h0m-4 2h0m0 3h0m-2-8h0m-1-1h0m-2 12h0m0-3h0m-3 3h0m-2-2h0m-2-10h0m-1 1h0m-2 11h0m-5-4h0m-1-2h0m-4-4h0m-6 4h0m-7 0h0m-3 5h0m-2-12h0m-4 13h0m-5-3h0m-2-9h0m-4 5h0m-2 6h0m-2-3h0m-2 1h0m0-1h0m-4 4h0m-3-3h0m0 3h0m-15-2h0m-1-1h0m-2-2h0m-3 0h0m-8 5h0m-2-2h0m-2-4h0m-1 6h0m-5-8h0m-4 0h0m-1-4h0m-1 1h0m-8 10h0m-18-6h0m-3-4h0m-2 6h0m-7-6h0m-1 6h0m-5-2h0m7 10h0m3 0h0m0-2h0m4 10h0m1-6h0m1 0h0m2-2h0m2 7h0m0-1h0m2 5h0m0-3h0m2-3h0m2-4h0m2 2h0m7 2h0m0 0h0m5-1h0m1 1h0m1 0h0m6-1h0m2-3h0m1 8h0m5-9h0m1-2h0m1 1h0m1-1h0m0 5h0m2-4h0m2-1h0m3 9h0m4-5h0m2 6h0m3-10h0m5 2h0m1 10h0m1-4h0m5-3h0m2 8h0m2-8h0m4-1h0m8 0h0m2-3h0m1 3h0m0 8h0m7-11h0m5 7h0m0 3h0m4 2h0m1-7h0m0-2h0m7 2h0m0 4h0m1-2h0m3-2h0m2-5h0m7 12h0m0-4h0m6 0h0m6 2h0m18 2h0m0 0h0m3-10h0m8 4h0m2 1h0m1-8h0m1 8h0m3-4h0m0 9h0m7-9h0m3 3h0m1-1h0m0-4h0m3 4h0m6-4h0m9 6h0m2 3h0m3-3h0m2-5h0m2 5h0m5-8h0m0 5h0m10 7h0m0-6h0m0-3h0m4 4h0m12-6h0m1 2h0m-3 22h0m-7 2h0m-6-7h0m-1-5h0m-1 7h0m-3-8h0m-4 7h0m-1-7h0m-2 5h0m-9 0h0m0 3h0m-1 2h0m-1 1h0m-8-1h0m-2-3h0m0 6h0m-2-7h0m-7 1h0m0-2h0m0 7h0m-2-1h0m-1 2h0m-1-6h0m-2-7h0m-7 4h0m-1 7h0m-6-5h0m-7-5h0m-5 10h0m-5-6h0m-4 7h0m-14-11h0m-1 7h0m-1-2h0m-2 2h0m0-7h0m-2 4h0m-11 2h0m-3 2h0m-7-4h0m-5-3h0m-7 9h0m-2-2h0m-1 1h0m-2-10h0m-9 4h0m0 7h0m-5-9h0m-2 4h0m-1 7h0m-1-3h0m-1-1h0m-3-2h0m-3 2h0m-7-2h0m0 4h0m-3-7h0m-1 8h0m-1-10h0m-4 8h0m-24-5h0m-1 5h0m-1 0h0m-9-7h0m-2 1h0m-1-4h0m-2 11h0m-1-4h0m-3-3h0m-1 9h0m-9 1h0m5 0h0m22 3h0m10-3h0m2 3h0m7 1h0m14-3h0m3 1h0m6 7h0m20-6h0m0 3h0m4 0h0m2 1h0m8-4h0m4-1h0m2 2h0m6 0h0m0 0h0m1-2h0m0 9h0m5 2h0m2-8h0m2 7h0m3-6h0m2 5h0m12 0h0m12-11h0m2 1h0m5 11h0m1-8h0m1 3h0m4 3h0m2 3h0m5-6h0m1 1h0m16 2h0m3-4h0m7 7h0m2-11h0m4 11h0m1 0h0m4-7h0m1 7h0m3-2h0m5-7h0m9 9h0m4-4h0m9-5h0m1 9h0m5-7h0m6-6h0m-4 19h0m-1-2h0m-3 0h0m-1 7h0m-2-2h0m-9 1h0m0 1h0m-2 3h0m-8-5h0m-4-4h0m-3 2h0m-3 1h0m-3 5h0m-2-4h0m-3-3h0m-8-2h0m-2-2h0m-5 7h0m-4 3h0m-6-5h0m-2 5h0m-4-2h0m-1-1h0m-3 1h0m0 2h0m-8-4h0m0 0h0m0 2h0m0-9h0m-2 8h0m-6-5h0m-2 2h0m-8 2h0m-1-6h0m-1 7h0m-3 1h0m-15-2h0m-3-7h0m-13 5h0m-1-5h0m39 19h0m2-2h0m2-2h0m16 9h0m4 1h0m0 1h0m1-8h0m1 5h0m5-3h0m1 0h0m0 1h0m1 6h0m9-13h0m0 4h0m2 9h0m5 0h0m1-1h0m1-11h0m1 7h0m0 2h0m1-3h0m1 3h0m4 2h0m6-5h0m0 2h0m3 3h0m1-2h0m0 0h0m3-5h0m14-3h0m1 3h0m2 8h0m2-3h0m1 1h0m2 1h0m1-11h0m2 18h0m-2-2h0m-5-3h0m0 12h0m-6-3h0m-4-1h0m0 2h0m-3 2h0m-8-1h0m-2 1h0m-1-10h0m-1 2h0m-1 7h0m0-8h0m-1-2h0m-11 5h0m-8-6h0m-4 5h0m-2-1h0m-2 0h0m-2 0h0m-1 2h0m-2-3h0m-5 5h0m10 15h0m0 2h0m3-11h0m1 13h0m1-11h0m0 0h0m1 0h0m4 6h0m1-5h0m0-2h0m10-1h0m1 11h0m0-11h0m2 1h0m0 1h0m2 2h0m5-2h0m0 0h0m1 7h0m1-5h0m0 2h0m4 7h0m2-2h0m1-9h0m1 0h0m1 2h0m1 3h0m1 4h0m6 5h0m-7 8h0m-10-2h0m-2-2h0m-4 0h0m-3 3h0m0-7h0m-6 8h0m-7-2h0m-1-2h0m-8-4h0m-1 4h0m-1-3h0m0 2h0m-1-5h0m6 18h0m2 4h0m1-4h0m3-2h0m14 2h0m2-1h0m5 3h0m11-5h0" stroke="#76ae1c" stroke-width="5.5" stroke-linecap="round" fill="none"/><path transform="scale(.1)" d="M850 513h0m4-7h0m8 9h0m104 14h0m-10 2h0m-92-7h0m-3 6h0m-3-11h0m-2 7h0m-1-5h0m-4 7h0m-5 2h0m5 2h0m7 5h0m4 4h0m3-5h0m1 4h0m1 5h0m1-2h0m68-3h0m7-1h0m3 1h0m6-1h0m6-3h0m0-1h0m0 0h0m14 0h0m-25 14h0m-5-2h0m-2 2h0m-1-1h0m-3 5h0m-2 6h0m-1-12h0m-3 7h0m-2 0h0m-3 1h0m-26 0h0m-6-1h0m0-3h0m-6 8h0m-2-6h0m-2 2h0m-1 2h0m-4-2h0m0-8h0m-2 8h0m-1 4h0m-1-3h0m0-6h0m0 8h0m-1 1h0m-4-3h0m0-1h0m-1-7h0m-5 25h0m4-12h0m1 9h0m1-10h0m1 0h0m0 13h0m0-3h0m3 1h0m2-1h0m1-8h0m1 4h0m0-4h0m2 6h0m1-4h0m0 6h0m1 2h0m0 0h0m3-5h0m3 6h0m1 0h0m1 0h0m0-5h0m9-5h0m0 8h0m0-9h0m2 8h0m0 2h0m1-7h0m5 4h0m0 3h0m1-1h0m0-4h0m1 5h0m4 1h0m0-3h0m1 1h0m0 2h0m1-6h0m0 3h0m1-7h0m1 1h0m0 8h0m1-3h0m6-4h0m0 4h0m1-8h0m2 2h0m-8 11h0m-1 1h0m-2 4h0m-4 0h0m-2 5h0m0-2h0m-3 0h0m0 3h0m0-1h0m-1-1h0m0 0h0m-1-1h0m-3-5h0m-1 0h0m0 7h0m0-9h0m-2 10h0m-1-9h0m0 3h0m-1 5h0m0-2h0m-1 4h0m0-8h0m0 7h0m0-9h0m0-1h0m-3 4h0m0 7h0m-1-11h0m0 4h0m0 1h0m-2 2h0m-1 3h0m0-4h0m0-4h0m-1 10h0m0-6h0m0 1h0m-1 4h0m-1-8h0m-1 9h0m-1-6h0m-1-1h0m0 6h0m0-5h0m-1-6h0m-1-1h0m-1 9h0m-1-6h0m-1 2h0m-2-1h0m-1 4h0m0-1h0m-1-6h0m-1 9h0m0-7h0m-1 0h0m-1 2h0m-1 4h0m-2-1h0m-1 2h0m0-10h0m-3 6h0m-54 21h0m16-13h0m11 13h0m2-2h0m3-5h0m1 5h0m1 1h0m10-9h0m4 4h0m2-4h0m0 2h0m3 2h0m4 0h0m4-7h0m0 7h0m0 5h0m1-1h0m3-10h0m1 0h0m4 1h0m1-1h0m0 0h0m1 2h0m4 5h0m1-6h0m1 4h0m0 6h0m1-7h0m0-3h0m1 1h0m2 4h0m1-5h0m0 2h0m1 6h0m1-4h0m0 5h0m2-7h0m0 0h0m1 5h0m2-4h0m0 6h0m1-3h0m0-8h0m7 20h0m-2-3h0m-1-1h0m-6 2h0m-3 9h0m-1-5h0m-1-5h0m-2 0h0m-3 5h0m-2 3h0m0-11h0m-4 2h0m-2 3h0m-1-5h0m-36 0h0m-10 3h0m0 1h0m-1-2h0m-1-1h0m-10 10h0m-1-9h0m-5 0h0m-3 2h0m-5 2h0m-1-1h0m-4-4h0m-1 8h0m2 6h0m88 0h0m0 12h0m0-6h0m1-3h0m4-1h0m1 10h0m11-4h0m-11 14h0m0 1h0m-4-10h0m-3 13h0m-3-11h0m5 16h0m3-3h0m4 10h0m3 1h0m7 13h0m-7 1h0m-2-3h0m-2-4h0m7 17h0m0-5h0m1 7h0m5 0h0m-1 12h0m-8 5h0m-2-7h0m1 13h0m7 0h0m3-1h0m8 22h0m-4-10h0m-5-1h0m-7 1h0m11 14h0m3 2h0m0-4h0m1 9h0m1-6h0m0 7h0m4-5h0m13 16h0m-10-6h0m-8 1h0m6 13h0m9 11h0m5 1h0m7-5h0m7-1h0m8 5h0m0 15h0m-2-8h0m-3 5h0m-1-10h0m0 7h0m-1-1h0m-2 1h0m-2-4h0m-2 2h0m-1 0h0m0-3h0m-2-2h0m-1 5h0m0-2h0m-4-3h0m19 16h0m3 5h0m3 2h0m7 2h0m5 9h0m-5 8h0m8 1h0m3 0h0m3 2h0m5 8h0m2-8h0m4 10h0m3-2h0m10 11h0m-8-2h0m-1-3h0m-4 2h0m-3-2h0" stroke="#3cc4cf" stroke-width="5.5" stroke-linecap="round" fill="none"/><path transform="scale(.1)" d="M611 939h0m-15 25h0m6-1h0m0-10h0m1 4h0m2 3h0m4-2h0m1 3h0m-12 11h0m-1 7h0m-6 16h0m-5 1h0m-8 6h0m-8 11h0m6 5h0m1-10h0m8 5h0m-6 9h0m-15 0h0m-37 23h0m4 0h0m1-2h0m7 4h0m1 2h0m4-9h0m2-4h0m9 2h0m0-2h0m4 9h0m0-3h0m-4 19h0m-2-7h0m-13-3h0m-1 9h0m-1-3h0m-2 0h0m-8 1h0m-2 2h0m-1-4h0m-3 1h0m-3 19h0m26-4h0m1-5h0m8 6h0m7-2h0m-20 20h0m-4-3h0m-1-3h0m-3 0h0m-1 2h0m-4 2h0m-5 6h0m3 4h0m3 5h0m3-3h0m4-7h0m5 4h0m4 5h0m13-1h0m5-1h0m436 18h0m-437-1h0m-2-1h0m-2 1h0m-9-12h0m-4 4h0m-12 9h0m-1-10h0m-6 7h0m-5-3h0m1 11h0m5-2h0m10 6h0m1 5h0m0-1h0m5-1h0m3 1h0m8-2h0m3-4h0m4-1h0m430-3h0m6 11h0m1-5h0m8 3h0m1-3h0m11 3h0m4 13h0m-3-1h0m-9 2h0m-4-7h0m-1 3h0m-1-7h0m-2 0h0m-1 10h0m0-6h0m-437 2h0m-7 1h0m-2-4h0m0 8h0m-8-4h0m-4-6h0m-5 11h0m-10-2h0m-4 4h0m3 13h0m2-13h0m5 8h0m2 0h0m3-1h0m0-3h0m2 2h0m2 7h0m1-7h0m5-2h0m7 9h0m11-8h0m423-3h0m5 0h0m3 4h0m2 5h0m3-4h0m1 1h0m2 1h0m2-8h0m1 12h0m2-12h0m0 0h0m1 10h0m2-11h0m2 5h0m6-4h0m0 6h0m0-1h0m1-4h0m7 5h0m-4 20h0m-1-3h0m-2-6h0m-5 8h0m-5 0h0m-15-12h0m-1 9h0m-8-9h0m-1 11h0m-2 0h0m0 1h0m-423-9h0m-2 1h0m-4 0h0m-2-3h0m-1 12h0m0-2h0m-7-6h0m-3-1h0m0 4h0m-10 0h0m-1-8h0m-1 18h0m17 5h0m5 1h0m7-7h0m7 3h0m6-5h0m409 6h0m8-3h0m15 6h0m0-7h0m1-2h0m11 9h0m3 0h0m3-2h0m3-8h0m0 10h0m4 11h0m-7 5h0m-1-2h0m-5-9h0m-4 9h0m-5-1h0m-4-2h0m-1-6h0m-9 6h0m-7-6h0m0 4h0m-436-4h0m-2 4h0m0 2h0m-4-2h0m0 5h0m-3-10h0m-8 6h0m9 10h0m433 3h0m6 1h0m6-4h0m3 6h0m9 2h0m0-3h0m1 2h0m2-3h0m1-3h0m6 9h0m2 1h0m2-9h0m4 8h0m0-8h0m1 14h0m-4 3h0m-7-3h0m-1-2h0m-5-2h0m-2 5h0m-5 4h0m-5-9h0m-2 9h0m-18 12h0m2-6h0m5 7h0m0 3h0m1-7h0m2-1h0m11 10h0m12-5h0m8-7h0m3 20h0m-1 0h0m-5-2h0m-1-3h0m-3 10h0m-10-7h0m-1 3h0m-12-1h0m-2-2h0m-5 2h0m-2-3h0m0 3h0m-2 4h0m-3 1h0m-1-3h0m-27-2h0m-3-2h0m-1 7h0m-2-8h0m-4 3h0m-11-1h0m-14 20h0m1-2h0m18-9h0m1 10h0m1-3h0m3 2h0m2-7h0m1 7h0m5-9h0m5 0h0m8 9h0m13-1h0m5-3h0m8 7h0m4-1h0m4-2h0m1-9h0m0 4h0m2-1h0m1 3h0m1-6h0m4 8h0m5 1h0m14 7h0m-7 10h0m-3-9h0m0 6h0m-7-4h0m-4 0h0m-1 3h0m-10-1h0m-1-1h0m-1-1h0m-2 3h0m-2 3h0m-3-7h0m0 2h0m-3-7h0m-1 12h0m0-4h0m-1 2h0m-2-2h0m-11-8h0m-2 9h0m-1 2h0m-1-3h0m-4 0h0m-6 3h0m-2-10h0m-11 5h0m-1 0h0m-8 5h0m0 1h0m-5 0h0m-6-3h0m-1-6h0m-1-1h0m-4 9h0m-3 7h0m5 2h0m1 6h0m7-9h0m1 5h0m1-1h0m0 2h0m5-8h0m3 10h0m1-4h0m2-2h0m13 4h0m5-2h0m8-2h0m4-5h0m2 8h0m1-7h0m1-1h0m1 11h0m8-1h0m0-4h0m0 7h0m1-5h0m3 4h0m0-3h0m3-5h0m10-1h0m1 9h0m2-2h0m0 0h0m7-10h0m2 4h0m-4 10h0m-3 1h0m-1 3h0m-2 5h0m-6-3h0m-4-1h0m-8 6h0m-3-4h0m-4 2h0m-2-6h0m-4 2h0m0-1h0m-1 6h0m0-4h0m0 0h0m-4-1h0m0 6h0m-3-5h0m-12 2h0m-6-6h0m-5 5h0m-13 2h0m-2-3h0m-1-1h0m-1 5h0m-2 3h0m-5 0h0m-4 5h0m12 9h0m0-1h0m5-12h0m9 0h0m0 6h0m13-2h0m0 0h0m2 9h0m1-10h0m1 4h0m6-3h0m6 1h0m4 4h0m1 3h0m1-6h0m5-2h0m4 1h0m5 0h0m1 8h0m8-11h0m5-2h0m-13 15h0m0 4h0m-6 4h0m0-7h0m-1 10h0m-8 1h0m-11-7h0m-6 6h0m-2-7h0m0 6h0m-5-5h0m-4-4h0m-11 8h0m0-5h0m-5-2h0m16 12h0m6 0h0m1 1h0m14 2h0m12-4h0m4 0h0" stroke="#a971c4" stroke-width="5.5" stroke-linecap="round" fill="none"/><path transform="scale(.1)" d="M554 1197h0m-4-1h0m-13 5h0m-26 15h0m1 1h0m2-1h0m5-7h0m3 0h0m5 0h0m1-1h0m6-2h0m-24 17h0m-5-4h0m0 1h0m-16 8h0m-41 17h0m6 0h0m2-2h0m1 0h0m2-1h0m2-1h0m6-5h0m0-2h0m5 2h0m6-4h0m9 1h0m-37 16h0m-1-2h0m-10 5h0m-7 1h0" stroke="#b9a9c4" stroke-width="5.5" stroke-linecap="round" fill="none"/><path transform="scale(.1)" d="M587 587h0m8 11h0m0 4h0m-18 3h0m-4 3h0m-2 2h0m-14 10h0m31-3h0m29 26h0m-9-13h0m-1 9h0m-7-4h0m-2-1h0m-24 6h0m-6-1h0m-6-7h0m-9 16h0m2 0h0m43 8h0m12-11h0m0 11h0m11-11h0m19 22h0m-80 1h0m-5-6h0m-6 4h0m66 19h0m16-5h0m18 3h0m9 10h0m-45 4h0m-6-5h0m-9-6h0m-41 12h0m-5-3h0m-11 1h0m-15 15h0m16-4h0m23 5h0m7 1h0m21-4h0m0-7h0m61 22h0m-34 2h0m-14-2h0m-48 1h0m-2-10h0m-13 9h0m19 12h0m72-2h0m15-2h0m21 6h0m7 12h0m-6 5h0m-25-7h0m-5 7h0m-7-12h0m-48 8h0m-39-8h0m-5-1h0m-13 17h0m46 4h0m20-7h0m23 10h0m21-6h0m35 18h0m-13 4h0m-2-5h0m-41-5h0m-12-2h0m-18 10h0m-9-5h0m-26 6h0m-3-2h0m0-5h0m-32 18h0m9-4h0m20-4h0m0 13h0m16-5h0m10 3h0m41-3h0m76-2h0m8 17h0m-11 3h0m-20-6h0m-33 7h0m-2-3h0m-5 3h0m-8 0h0m-43-7h0m-48 14h0m16 2h0m4 1h0m2-8h0m3 1h0m0 7h0m29 4h0m63-11h0m45 11h0m7-11h0m1 15h0m-52 9h0m-5-11h0m-22 7h0m-4-8h0m-7 7h0m-15-7h0m-1 0h0m-8 7h0m-1 4h0m-12-1h0m-9 3h0m-6-2h0m-15-1h0m-15-8h0m-7 2h0m28 11h0m13 8h0m18-7h0m3 4h0m18 2h0m0 0h0m1-4h0m65 0h0m1 4h0m3 1h0m39 15h0m-61-1h0m-31-4h0m-9 8h0m-25-4h0m-6 2h0m-26 9h0m4-5h0m11 12h0m6-6h0m3 1h0m39-6h0m9 4h0m30-5h0m53 4h0m115 4h0m5-1h0m0-2h0m5 4h0m20-2h0m145 4h0m11 15h0m-6-10h0m-10 5h0m-11 5h0m-36-7h0m-6-1h0m-4 6h0m-86-8h0m-4 5h0m-17-8h0m-22 4h0m-6-4h0m-6 12h0m-2-1h0m-4-9h0m-106 10h0m-21 1h0m-17-10h0m-30-1h0m-6 2h0m-25 9h0m0-11h0m5 19h0m28 6h0m44-13h0m12 4h0m1 9h0m96-9h0m30-4h0m1 4h0m6 0h0m25 2h0m6-1h0m3 2h0m19 6h0m7 0h0m5-3h0m37-9h0m3 4h0m27 5h0m23 2h0m1-5h0m19 5h0m15-11h0m14 7h0m4-3h0m-8 20h0m-14-2h0m0-4h0m-43 0h0m-20 2h0m0 2h0m-6-9h0m-64 6h0m-11-6h0m-2 6h0m-16-1h0m-8-5h0m-1 4h0m-9 5h0m-29-6h0m-10 3h0m-16 7h0m-112-7h0m0 16h0m6 3h0m122-7h0m19 3h0m10 4h0m2 1h0m14-8h0m9 0h0m24-3h0m4 9h0m20-3h0m10-1h0m6 2h0m7-5h0m16 3h0m34-3h0m13 8h0m8-9h0m4-1h0m25 1h0m10 6h0m4-1h0m3 0h0m5-1h0m9 10h0m-4 0h0m-6 9h0m0-11h0m-3 3h0m-18 6h0m-3 0h0m-11-7h0m-1 7h0m-3-4h0m-4 6h0m-1-4h0m-10-2h0m-1 1h0m-40 5h0m-29-7h0m-18-3h0m-11 7h0m-24-4h0m-24 6h0m-11-10h0m-10 10h0m-11-3h0m-10 1h0m-12-5h0m-3-1h0m-8 8h0m-100-4h0m-9-2h0m143 15h0m15 6h0m10-8h0m9 2h0m14 4h0m8-5h0m15 5h0m11-1h0m4-3h0m5-5h0m1 13h0m7-13h0m5 9h0m11-8h0m25 1h0m13-1h0m14 8h0m20-3h0m3 6h0m9-6h0m31 4h0m5-10h0m6 6h0m-20 15h0m-1 4h0m-2-5h0m-9 3h0m-12-6h0m-1 3h0m-5 4h0m-11-6h0m0 3h0m-8-5h0m-3 0h0m-1-1h0m-5 8h0m0-7h0m-1 5h0m0 3h0m-1-1h0m-1-1h0m-1 4h0m-1-9h0m-2 5h0m0-6h0m0 10h0m-5-8h0m-6 6h0m0-1h0m-1-2h0m-2 5h0m-3-8h0m-7 7h0m0 1h0m-1 1h0m-2-1h0m-2-2h0m0-3h0m-6 2h0m-27-2h0m-33-2h0m-11 7h0m-28-11h0m-5 7h0m-2 2h0m0-3h0m-2 3h0m-5 0h0m-9-3h0m0 3h0m0 1h0m-12-2h0m-101-8h0m21 25h0m51 0h0m13-9h0m2 5h0m7 0h0m14 2h0m3 0h0m4-8h0m11 6h0m51 5h0m4-12h0m11 7h0m1-4h0m21 1h0m20 4h0m6-4h0m1 5h0m1-3h0m6 3h0m1-7h0m3-1h0m2 7h0m0 3h0m6-12h0m1 12h0m4-2h0m1-2h0m3 0h0m8-3h0m1-3h0m3 7h0m4 4h0m5-13h0m8 13h0m5-6h0m2 0h0m2-7h0m0 7h0m2 4h0m12-7h0m14-4h0m2 16h0m-7 0h0m-2 0h0m-2 1h0m-2 5h0m-2 5h0m-1-8h0m-2-2h0m-2-2h0m-2 1h0m-4 1h0m0 10h0m-1-12h0m-1 4h0m-2 4h0m-1-6h0m-2-1h0m-4 8h0m-3-8h0m0 5h0m-5 0h0m-1 0h0m-5-2h0m-1-3h0m0 8h0m-2 1h0m-2-3h0m-3-3h0m0 0h0m-1 5h0m-3-1h0m-2 4h0m-2-9h0m-2 0h0m-3 2h0m-3 1h0m-3 2h0m-13-2h0m-1 1h0m0-6h0m-6 1h0m-1 0h0m-16 3h0m-22 6h0m-4-8h0m-14 6h0m-20-8h0m-7 8h0m-6-1h0m-6-6h0m0 10h0m-21 0h0m-8-4h0m-7-3h0m-3-5h0m-7 8h0m-26-5h0m-47 8h0m-2 3h0m1 0h0m17 11h0m39-6h0m42 1h0m21 6h0m21-9h0m1-4h0m3 9h0m28-1h0m23 5h0m11-10h0m4-1h0m1 8h0m6-8h0m2-2h0m1 2h0m4 5h0m4-7h0m2 2h0m1 6h0m0-5h0m3-2h0m4 7h0m2 1h0m2-7h0m1 2h0m4-1h0m1 10h0m0 0h0m0-11h0m3-1h0m2-1h0m1 8h0m3-2h0m0 6h0m1-4h0m2-3h0m0 2h0m2 0h0m3 1h0m3 1h0m0-5h0m3-3h0m1 10h0m5-8h0m2 3h0m1 1h0m0-7h0m6 2h0m2 3h0m5 3h0m7 13h0m-3 4h0m-7 2h0m-7-12h0m0 10h0m-11-5h0m-3 0h0m-2 4h0m-1-1h0m0-1h0m-8-6h0m-1 5h0m0 6h0m-1-7h0m-1-5h0m-2 0h0m-2 0h0m0 11h0m-6-10h0m0 3h0m-5 4h0m-10 4h0m-36-10h0m-3-1h0m0-1h0m-53 7h0m0 5h0m-21-3h0m-12-5h0m-1 6h0m-4-4h0m-5 2h0m-13 3h0m-4-12h0m-2 10h0m-4-8h0m-58 6h0m-1-8h0m7 15h0m1 9h0m27-3h0m14 3h0m4-7h0m17 10h0m46-11h0m30 11h0m12-1h0m2-4h0m19 0h0m15-5h0m10 7h0m7-10h0m7 3h0m1-2h0m5 6h0m4-6h0m2 4h0m0 2h0m3 0h0m0 4h0m2-6h0m2 0h0m1 0h0m2 1h0m1 0h0m0-4h0m1 0h0m0-1h0m2 3h0m2-2h0m9 2h0m8 0h0m22 1h0m8-5h0m-8 18h0m-38 1h0m-7 5h0m-40-6h0m-2 2h0m-1-6h0m-8 4h0m-1 9h0m-4-5h0m-1 2h0m-3-6h0m-15 4h0m0-8h0m-6 1h0m-3 3h0m-1 9h0m-52-1h0m-24-10h0m-10 2h0m-40-3h0m15 13h0m47 0h0m1 13h0m32 0h0m5-4h0m1-2h0m15-5h0m15 6h0m1-3h0m21-5h0m15 9h0m2-4h0m18 1h0m3 6h0m17-12h0m9 6h0m22-1h0m5 0h0m-24 22h0m-16-7h0m-8 2h0m-11-4h0m-15 6h0m-5-2h0m-1-5h0m-41 3h0m-37 6h0m-5-7h0m-10 5h0m-10-9h0m-2-1h0m-10 10h0m-5-9h0m-3 6h0m-9 3h0m-22 8h0m12 4h0m51-3h0m0-5h0m55 3h0m52-3h0m33 9h0m2-1h0m4-4h0m1 2h0m23 6h0m14-6h0m-4 8h0m-26 11h0m-1-5h0m-18-1h0m-15 2h0m-7 1h0m-7-5h0m-2-1h0m-16 2h0m-48 5h0m-7 0h0m-11-8h0m-77 7h0m-3 5h0m44 8h0m0-7h0m24 4h0m53-3h0m14 1h0m6-2h0m4 12h0m30-4h0m8 6h0m-97 3h0m-6 0h0m-33 5h0m-1-7h0m-11 6h0m-14-1h0m26 18h0m13-7h0m83 3h0m17 1h0m-34 17h0m-3-2h0m-21 3h0m-11-3h0m-20-5h0m-25-2h0" stroke="#fff" stroke-width="7" stroke-linecap="round" stroke-opacity="0.85" fill="none"/></g><path d="M164.7 26.8V139H252.8M185.7 139v2.9M209.4 139v2.9M233.3 139v2.9M164.7 52.2h-2.9M164.7 87.3h-2.9M164.7 122.7h-2.9" stroke="#2b2b2b" stroke-width="1.05" fill="none"/><text x="185.7" y="150.5" font-size="6.4" text-anchor="middle" fill="#333">&#8722;10</text><text x="209.4" y="150.5" font-size="6.4" text-anchor="middle" fill="#333">0</text><text x="233.3" y="150.5" font-size="6.4" text-anchor="middle" fill="#333">10</text><text x="158.5" y="54.5" font-size="6.4" text-anchor="end" fill="#333">10</text><text x="158.5" y="89.6" font-size="6.4" text-anchor="end" fill="#333">0</text><text x="158.5" y="125" font-size="6.4" text-anchor="end" fill="#333">&#8722;10</text><text x="208.8" y="162.6" font-size="7.9" text-anchor="middle" textLength="22.9" lengthAdjust="spacingAndGlyphs" fill="#222" stroke="#222" stroke-width="0.15">UMAP_1</text><text transform="translate(141.7 84.7) rotate(-90)" font-size="7.9" text-anchor="middle" textLength="23.4" lengthAdjust="spacingAndGlyphs" fill="#222" stroke="#222" stroke-width="0.15">UMAP_2</text><g filter="url(#ub)"><path d="M181.3 57.2L182.5 51.6L185.5 49.6L188.3 50.4L190.8 54.7L193.1 63.5L196 72.2L198.9 79L197.8 82.8L194.9 85.9L191.9 85.3L188.3 79.6L185.5 73.4L183.2 67.1L181.7 61.6Z" fill="#ee7268" fill-opacity="0.2"/><path d="M181.3 57.2L181.7 61.6L183.2 67.1L185.5 73.4L188.3 79.6L191.9 85.3L193.6 88.4L196.5 93.8L199.8 100.3L198.6 101.4L195 95L191.7 90L188.5 87.3L185 85.1L181.9 82.4L178.4 77.2L177.3 72.2L178.4 66L179.9 60.9Z" fill="#ee7268" fill-opacity="0.14"/><path d="M181.5 55L182.5 51.6L185.5 49.6L188.3 50.4L190.8 54.7L193.1 63.5L196 72.2L198.9 79L196.6 80.3L193.4 73.3L190.7 65.2L188.4 58.2L186.6 55.7L184.3 56.8Z" fill="#76ae1c" fill-opacity="0.3"/><path d="M201.9 86.8L205.3 82.3L211.2 81L218.4 83L223.6 83L227.7 81.4L230.8 88.9L228.1 97L227.5 104.5L225.2 109.4L221.1 108.9L219.9 104.5L214 100.8L207 99.5L202.3 99.5L200.8 93.2Z" fill="#ee7268" fill-opacity="0.26"/><path d="M200.2 99.7L207 99.5L214 100.8L219.9 104.5L221.1 109.4L217.5 113.2L211.6 115.6L205.8 114.5L202.3 110.7L199.7 105.1Z" fill="#ee7268" fill-opacity="0.26"/><path d="M201.9 86.8L205.3 82.3L211.2 81L218.4 83L223.6 83L227.7 81.4L228.7 87.3L225.7 88.9L220.6 88.4L215.5 87.1L209.4 86.5L205.3 87.6L202.9 90.5Z" fill="#76ae1c" fill-opacity="0.25"/><ellipse cx="233.4" cy="81.5" rx="6" ry="6.1" fill="#76ae1c" fill-opacity="0.72"/><path d="M227.3 107.9L230.1 110.3L230.8 118.2L228.5 126L224.2 132.2L219.9 133.3L216.7 129.9L217.7 124.1L221.4 121.5L222.6 125.1L224 122.8L225.3 119.1L225.7 113.7Z" fill="#a971c4" fill-opacity="0.3"/><path d="M179.1 100.1L181.3 98.9L183 101.9L183.2 108.3L183.8 115.9L181.5 117.8L179.3 115.4L178.5 107.2Z" fill="#a971c4" fill-opacity="0.2"/><path transform="scale(.1)" d="M1897 522h0m6 10h0m8 13h0m-91 11h0m-4 12h0m0-5h0m1 8h0m3-10h0m0 7h0m23 3h0m11-1h0m20 2h0m7 11h0m0-2h0m-13-2h0m0 4h0m-1-2h0m-12 1h0m-2 1h0m-12-9h0m0 12h0m0-1h0m-2-1h0m-4 3h0m0 0h0m-1-12h0m0 6h0m-3-4h0m-10 5h0m-9 2h0m-8 3h0m1 4h0m2-3h0m3 12h0m0-6h0m8 3h0m2-1h0m6-2h0m4 2h0m0-8h0m3 1h0m6 11h0m1-11h0m4 0h0m0 4h0m1 7h0m10-6h0m2-2h0m0 0h0m7 4h0m3-3h0m1 1h0m1-5h0m5 12h0m0-11h0m2 1h0m1-3h0m0 2h0m0-1h0m12 7h0m1 16h0m-11 0h0m0-1h0m-3 1h0m-1-6h0m-4 5h0m-6-9h0m0 6h0m-2-1h0m-1 0h0m0-5h0m0 0h0m-4 13h0m-9-13h0m-1 3h0m-11-3h0m-2 7h0m-3-2h0m-6 6h0m-9-8h0m-2 9h0m-6 0h0m-2-9h0m-1 0h0m-3-3h0m-8 24h0m11 1h0m1-11h0m9 0h0m0 12h0m3-11h0m1 9h0m20 2h0m3 1h0m5-11h0m2 7h0m2-9h0m0 9h0m3 0h0m6-9h0m3 4h0m4-4h0m6 8h0m2 4h0m2-8h0m6 6h0m12-4h0m2 6h0m35 11h0m-34-9h0m-11 0h0m-7 3h0m-2 1h0m-7 3h0m0 6h0m-3-9h0m-5 7h0m-19-4h0m-14 5h0m0-3h0m-8-6h0m-12 6h0m-7-8h0m-12 0h0m6 15h0m9-1h0m1 8h0m1-4h0m2-1h0m8-4h0m2 10h0m1 3h0m8-3h0m1 1h0m2-3h0m0-7h0m0 11h0m10-12h0m10 5h0m4 7h0m5-11h0m2-1h0m6 12h0m1-11h0m2 10h0m1-11h0m8 0h0m2 9h0m15 2h0m5-8h0m5 15h0m-4 2h0m-9-3h0m-4 5h0m-18-4h0m-1 1h0m-5 6h0m0-2h0m-3 4h0m-2-3h0m-1-10h0m-2 11h0m-4-8h0m-2 9h0m-2-10h0m-4 3h0m-6 8h0m-15-2h0m-2-6h0m-2-2h0m-16 2h0m-5-4h0m-4-1h0m-2 11h0m0-5h0m-4 2h0m-1 4h0m-9-3h0m3 7h0m11 5h0m4-7h0m5 8h0m7-2h0m6-1h0m9 0h0m1 0h0m2 6h0m1 0h0m6-1h0m1-8h0m10 8h0m0 3h0m2-5h0m4-7h0m2 12h0m0-2h0m1-11h0m2 1h0m5 8h0m7-2h0m14-5h0m1 1h0m6-1h0m3 3h0m3-3h0m9 10h0m6-7h0m5 14h0m-8-5h0m-5 0h0m-1 13h0m-13-10h0m0 3h0m-1-5h0m-1 10h0m-5-1h0m-4-10h0m-9 13h0m-1-9h0m-2 2h0m-1 1h0m-3-4h0m-1 2h0m-3 4h0m-4 1h0m-9 0h0m-3-9h0m-10 9h0m-1-10h0m-3 3h0m-8 5h0m-2-3h0m-7 7h0m0-11h0m0 6h0m-1-2h0m-17 8h0m-3-13h0m0 13h0m0-2h0m-1-9h0m-1 2h0m-1-4h0m-5 2h0m-2 9h0m-3 1h0m-3 14h0m11-11h0m4 2h0m1 6h0m3 3h0m4-10h0m0 10h0m7-9h0m1 8h0m1-4h0m8 4h0m2-3h0m1 5h0m3-5h0m1 0h0m0-6h0m1-1h0m1 2h0m1 8h0m4 2h0m8 0h0m1-9h0m14-3h0m5 11h0m4-1h0m4-7h0m5 8h0m7-3h0m4-4h0m1 4h0m5 3h0m13-11h0m4 0h0m2 5h0m18 2h0m353 18h0m-317-3h0m-4-8h0m-31 3h0m-11-4h0m-3 0h0m-3 8h0m-8-6h0m-9 3h0m-19 0h0m-2-1h0m-23 5h0m-4-9h0m0 9h0m-6-3h0m-7 6h0m-5-4h0m-9-3h0m-6 8h0m-2-6h0m-2-2h0m-14 3h0m-2-5h0m-4 1h0m-2 6h0m0-5h0m-6 6h0m17 11h0m1-2h0m2-3h0m4 1h0m4 3h0m15 4h0m1-4h0m0 1h0m7 1h0m0-4h0m19-3h0m9-2h0m0 3h0m2 3h0m9-6h0m3 8h0m4 3h0m1 2h0m3-8h0m17-3h0m1 9h0m1-10h0m2 9h0m4-4h0m9-1h0m15-1h0m1 8h0m6 1h0m330-1h0m2-4h0m7-6h0m2 1h0m5 0h0m-4 14h0m-2 0h0m-3-2h0m-3 1h0m-3 0h0m-336 9h0m-1-6h0m-5 2h0m-19 1h0m-5-2h0m-3 2h0m-1 1h0m0-9h0m-9 12h0m-17-7h0m-5 5h0m-5 3h0m-10-9h0m-2 0h0m-3 4h0m-2 5h0m-6-5h0m-4-5h0m-2-3h0m-17 3h0m-5 3h0m-5 7h0m-4-2h0m-8-6h0m-11-2h0m-1 3h0m-2 0h0m20 17h0m1-7h0m9 2h0m1 9h0m7-2h0m5-7h0m7 7h0m2 0h0m0-1h0m0 2h0m4-12h0m1 4h0m1 0h0m2 2h0m1-1h0m1 5h0m4 3h0m0-5h0m7-2h0m15-6h0m11 8h0m2 1h0m5-6h0m3 2h0m1-4h0m3 9h0m2 3h0m3 0h0m5-11h0m4 5h0m0 5h0m1-6h0m3-3h0m2 4h0m6-2h0m3 5h0m0-8h0m5 5h0m10 6h0m0-11h0m0 5h0m2-3h0m3 6h0m2-6h0m0-3h0m5 11h0m4 7h0m-8-5h0m-5 6h0m-2-4h0m-21-1h0m-3 6h0m-3-5h0m-3 4h0m0-4h0m0 10h0m-3-7h0m-4 4h0m0-7h0m-1 9h0m-4-2h0m-6-8h0m-8 7h0m-1-7h0m-3-1h0m-2 3h0m-1-2h0m-1 9h0m-7-7h0m-3 1h0m-3-2h0m-2 2h0m-11 4h0m-2 5h0m-5-8h0m0 8h0m-14-13h0m-3 12h0m0-6h0m-10-1h0m-5 0h0m-3 6h0m-9-2h0m-4 5h0m15 0h0m2 5h0m1 8h0m6-1h0m3-2h0m2 1h0m5-5h0m2-6h0m17 0h0m1 1h0m3 3h0m1 9h0m5-9h0m5-4h0m4 7h0m5 6h0m4-11h0m4-2h0m0 12h0m2-1h0m5 0h0m2-10h0m11 6h0m2 5h0m3-6h0m9 5h0m2-10h0m1 6h0m4 1h0m0 3h0m3-10h0m0 8h0m5-1h0m1-4h0m1 0h0m2 1h0m1 3h0m10 0h0m0-5h0m6 5h0m9-7h0m1 8h0m4 3h0m19-1h0m130 15h0m-121-3h0m-7 4h0m-2-2h0m-4-8h0m-3 5h0m-2 0h0m-6 5h0m-4-11h0m-1 4h0m-2 4h0m-8-5h0m-1-1h0m-3 4h0m0-8h0m-4 3h0m-9 2h0m0 7h0m-13-5h0m-3-2h0m0-5h0m-2 0h0m-18 6h0m-5 5h0m-3-2h0m-2-2h0m0-2h0m-2 8h0m-3-1h0m-4-12h0m0 5h0m-2-1h0m-6-2h0m-4 9h0m0-7h0m-1-2h0m-1 5h0m-11-5h0m-13 4h0m-1 0h0m0 4h0m-4-9h0m-3 4h0m-3 7h0m-4-8h0m-3 1h0m5 18h0m1-7h0m9 9h0m2 0h0m35-4h0m2 3h0m1-4h0m10-2h0m2 3h0m5-1h0m24 6h0m2-8h0m12 1h0m5-1h0m5 8h0m5-3h0m1-3h0m6 4h0m2-8h0m8 9h0m4-1h0m1-3h0m2-6h0m8-1h0m4 2h0m69 8h0m40-9h0m47 1h0m111 9h0m32 14h0m-83-8h0m-226-3h0m-6 4h0m-3-2h0m-1 5h0m-7-6h0m-3 5h0m-1 0h0m-6 0h0m-3-5h0m-6 8h0m-4-5h0m-4-1h0m-2 0h0m-10 9h0m-3-8h0m-2 4h0m-1-5h0m-2-2h0m-12 10h0m-9 2h0m0-3h0m-3 3h0m-10-4h0m-1-8h0m-8 12h0m-1-6h0m0 2h0m-1-2h0m-4 6h0m-6-9h0m-3 3h0m-8-4h0m-5 9h0m-8-10h0m6 13h0m2 0h0m10 6h0m6-7h0m4 6h0m7 4h0m2-6h0m9-1h0m2-1h0m6 2h0m8 2h0m8 6h0m4 1h0m9-6h0m4 0h0m3 6h0m8-4h0m1-5h0m3 9h0m10-1h0m3-11h0m2 12h0m7-1h0m4-10h0m4 10h0m325-8h0m14 21h0m-214 2h0m-59-12h0m-94-1h0m-11 9h0m-5-1h0m-1-6h0m0 11h0m-12-5h0m-1-3h0m-5-2h0m-10 6h0m-2-1h0m-1-4h0m-8 9h0m-9-1h0m-6-6h0m-2-5h0m-6 0h0m23 17h0m14-2h0m10 11h0m7-8h0m2-2h0m7-3h0m6 12h0m0 1h0m1-6h0m2 3h0m2-4h0m1 2h0m124 2h0m2-2h0m9 2h0m4 2h0m17-4h0m4 1h0m4-5h0m0 0h0m4 3h0m3 2h0m4-6h0m3 9h0m0-12h0m6 13h0m2-7h0m7-5h0m0 0h0m1 2h0m6 9h0m4-5h0m4-2h0m0 0h0m6 1h0m18 7h0m1-1h0m3-5h0m9 1h0m98 5h0m14-3h0m2-4h0m4 1h0m4 4h0m2-5h0m2-6h0m0 2h0m-2 22h0m-6 0h0m-7-9h0m-14 5h0m-5 3h0m-27-1h0m-14 5h0m-3-9h0m-2 8h0m-3 1h0m-1 0h0m-1 0h0m-2-8h0m0 3h0m-27-3h0m-3 2h0m-6 6h0m-3-8h0m-1-3h0m-1 9h0m-3-10h0m-2 7h0m-1 4h0m-3-9h0m-1 9h0m-5-9h0m-1 3h0m-3 7h0m-1-3h0m-1 3h0m-12-10h0m0 7h0m-3 1h0m-9-9h0m-1 2h0m-3-4h0m-11 6h0m-2 6h0m-7-1h0m-5-4h0m-4 2h0m0 3h0m-2-12h0m-11 2h0m-1 7h0m0 1h0m-2 2h0m-3-4h0m-9-6h0m-2 10h0m-2-9h0m-2 0h0m-8 10h0m-2-6h0m-4-1h0m-22 4h0m-4 0h0m-83-3h0m-1 0h0m-1 1h0m-1-3h0m-2 8h0m-2-8h0m-2 2h0m-2 17h0m5 2h0m16-3h0m2-3h0m62 6h0m7 1h0m9-4h0m11-2h0m9 6h0m4 0h0m2-6h0m1-7h0m2 8h0m4-5h0m5 7h0m1-7h0m16 5h0m6-3h0m0 8h0m2-4h0m1-1h0m4 5h0m0-9h0m2 3h0m6 3h0m5-5h0m6 7h0m0 1h0m0-2h0m2-1h0m10-7h0m4-3h0m1 4h0m10-3h0m4-1h0m4 2h0m7 5h0m1 2h0m0-6h0m2 0h0m4-2h0m1 12h0m3-10h0m5 5h0m0 3h0m2 1h0m1-2h0m0-4h0m5-3h0m3 2h0m1 5h0m9 0h0m1 3h0m4-11h0m1 3h0m6 6h0m2-7h0m1-4h0m4 10h0m0-1h0m1 3h0m2-10h0m2 5h0m2 4h0m1-8h0m3-3h0m1 4h0m1-1h0m7-3h0m7 9h0m5-1h0m14 3h0m4 2h0m3-9h0m1-4h0m7 9h0m6-8h0m4 8h0m1 18h0m0-4h0m-20-1h0m-12-4h0m-5 8h0m-3-7h0m0 5h0m-1-3h0m0-3h0m-3 8h0m0-1h0m-3 2h0m-6-2h0m-11-11h0m-15 2h0m0-1h0m-8 8h0m-1-4h0m-5-4h0m-3 7h0m-1-2h0m0-2h0m-11 2h0m-1 3h0m-1-8h0m0 1h0m-4 8h0m-2-6h0m-3-3h0m-4 12h0m0-12h0m-7 9h0m-6-8h0m-4 4h0m-2-5h0m-8 1h0m-5 8h0m-3-1h0m-7-8h0m-1-1h0m-1 12h0m-1-1h0m-3 2h0m-5-1h0m0-10h0m-6 11h0m-7-4h0m-2-1h0m-1 5h0m-6-4h0m-1 1h0m-8-7h0m-7 4h0m-2 6h0m-1-5h0m0 0h0m-14-4h0m-2 9h0m-3-3h0m-1-5h0m-1 6h0m-5-11h0m-11 7h0m-6-7h0m-74 13h0m-13-11h0m-3 4h0m-5-5h0m16 17h0m3-2h0m7 9h0m8-4h0m55 6h0m12-10h0m4 4h0m1 2h0m9-2h0m5 1h0m1 3h0m7-10h0m9 6h0m14-4h0m2 5h0m1 0h0m13-8h0m1 7h0m0-5h0m1 4h0m1 1h0m6-3h0m6 1h0m1-4h0m10 1h0m2 6h0m0 3h0m3-10h0m1 1h0m2 10h0m0-5h0m22-2h0m4 3h0m1 5h0m2-5h0m5 2h0m0 1h0m3-1h0m1-2h0m2 3h0m0-5h0m14 3h0m2 3h0m11-10h0m8 6h0m3 5h0m0-5h0m2-2h0m3-2h0m4 0h0m1 1h0m3-4h0m8 7h0m7-1h0m6-6h0m11 8h0m3 3h0m7-12h0m3 7h0m2 0h0m8 5h0m11-4h0m1 7h0m-7 6h0m-10 3h0m-6-5h0m0 7h0m-13-2h0m-1-10h0m-5 7h0m0-2h0m-1 0h0m0-5h0m-11 5h0m-8 5h0m-5-7h0m0 8h0m0 0h0m-11-4h0m-4 6h0m-9-3h0m-9-4h0m0 7h0m-4-1h0m-1-2h0m-5-2h0m0-7h0m0 0h0m-2 0h0m-1-1h0m-5 9h0m-8 1h0m-2-9h0m-4 7h0m-4-7h0m-1 11h0m-9-11h0m-1 3h0m-1 3h0m-2-4h0m-2 5h0m-3 3h0m-2 1h0m-2-9h0m-5 1h0m-2 1h0m-4 1h0m-3-1h0m-2 7h0m-5-8h0m-13 3h0m-5 4h0m-4 0h0m-2-11h0m-6 6h0m-6 4h0m-3 3h0m-8-2h0m0 0h0m-11-1h0m-2-9h0m-1 12h0m-7-10h0m-7 1h0m-7 3h0m-3 3h0m-5-2h0m-5 3h0m-1-9h0m0 1h0m-1-1h0m-4 0h0m-50 8h0m0 3h0m-2-13h0m-3 0h0m0 9h0m-3-6h0m-9-2h0m25 22h0m4 1h0m8-8h0m41-1h0m1 8h0m1 2h0m6-10h0m5 1h0m15 4h0m0 6h0m1-5h0m1 2h0m1 1h0m1-9h0m1 4h0m7 5h0m1-7h0m2 5h0m3 2h0m9 0h0m0-7h0m0 0h0m7-2h0m2 0h0m0 9h0m4 2h0m2-4h0m5 1h0m1 3h0m3-4h0m3-2h0m3-1h0m8 5h0m0 1h0m4-2h0m4-6h0m4-2h0m9 2h0m4 2h0m1 4h0m1-9h0m4 3h0m0 8h0m2 1h0m2-11h0m0 11h0m5-1h0m5 0h0m7-7h0m2 9h0m2-11h0m3-1h0m1 12h0m0-3h0m1-3h0m4 1h0m0-7h0m4-1h0m6 8h0m0-6h0m0 6h0m6-6h0m6 2h0m0 0h0m3-2h0m7 7h0m5-2h0m11 5h0m4-10h0m4 4h0m6 4h0m1-3h0m5-7h0m14 10h0m9-10h0m0 0h0m9 21h0m-8-1h0m0 7h0m-1-7h0m-2-3h0m-11 4h0m-23 0h0m0-3h0m-6 7h0m-8-2h0m-11-9h0m-9 8h0m-2-5h0m0 5h0m-6-5h0m-3 5h0m-4-8h0m-6 7h0m-2-5h0m-8 10h0m-11-1h0m-2-10h0m0 10h0m0-2h0m-2-9h0m-8 3h0m0 5h0m-3-2h0m-1-4h0m0 10h0m-7-9h0m-5 0h0m-1 9h0m-3-1h0m-4-6h0m-4-2h0m-1 9h0m0-11h0m-2 9h0m-3-10h0m-1 3h0m-4 4h0m0 2h0m-2 4h0m-5-8h0m-5-3h0m-1 11h0m-4-6h0m0 0h0m-1-7h0m-9 3h0m-2 0h0m-3 7h0m-2 1h0m-5-4h0m-3 1h0m-6 2h0m-3-3h0m-5 3h0m-4-10h0m-8 0h0m-3 12h0m-4-6h0m-5-4h0m-3 10h0m-4-10h0m-42 1h0m-1 5h0m-1 2h0m-1-4h0m-4 3h0m5 18h0m2-9h0m12 9h0m45-4h0m1 2h0m9-5h0m0-3h0m6 10h0m6-5h0m1-5h0m6 8h0m3-5h0m1 4h0m2-6h0m10 8h0m1-2h0m7-10h0m7 9h0m0-5h0m5 0h0m8-2h0m9 9h0m11 2h0m0-10h0m4 2h0m7 2h0m8-7h0m0 13h0m12-13h0m0 10h0m1-8h0m0 2h0m8 8h0m3-6h0m0-5h0m19 11h0m0-8h0m4 8h0m7-3h0m2 4h0m7-3h0m0-1h0m8-3h0m11 4h0m3 0h0m4 0h0m8-6h0m5 4h0m6 3h0m0-2h0m2-9h0m0 12h0m0-5h0m3 3h0m8-1h0m1-9h0m0 13h0m5-9h0m7 14h0m-4 5h0m0 3h0m-8-2h0m-7-8h0m-2 4h0m-10 2h0m-8-6h0m-1 9h0m-6-2h0m-3-3h0m-5-2h0m-2-1h0m-11 8h0m-1-11h0m-1 1h0m-3 11h0m-1-2h0m-4 1h0m-1-2h0m-2-2h0m-1-7h0m-3 13h0m-8-6h0m-2 2h0m-1 2h0m-4-4h0m-10 4h0m-8-11h0m-3 13h0m-1-2h0m0 0h0m-1-4h0m-2-3h0m-2-1h0m-5 0h0m-1 1h0m-2 6h0m-2 0h0m0-9h0m-2 12h0m-3-7h0m-4 0h0m-3 6h0m0-9h0m-1 9h0m-1-4h0m-31 3h0m-2 0h0m-4-5h0m-1 6h0m-1-9h0m-4-2h0m-2 11h0m-3 1h0m-2-1h0m-6 1h0m-2-4h0m-4 1h0m-8 3h0m-14-6h0m-1-5h0m0-2h0m-3 12h0m-1-7h0m-2 6h0m-1-4h0m-5-6h0m-14 2h0m-3 0h0m-3 3h0m-7 6h0m0 0h0m-3-6h0m-9 6h0m0-7h0m-5 7h0m-7-10h0m19 20h0m2 3h0m2-9h0m5 5h0m13-6h0m5 1h0m6 6h0m2-1h0m1 3h0m12 3h0m7-10h0m5 10h0m1-12h0m2 12h0m2-2h0m2-6h0m0-3h0m2 1h0m4 5h0m7-8h0m0 9h0m6-4h0m13 7h0m2 0h0m0-11h0m2 7h0m9-3h0m3-4h0m6 6h0m10-2h0m1 5h0m1 1h0m3-1h0m8-10h0m14 8h0m2-8h0m2 2h0m1 8h0m3 0h0m4-4h0m4-3h0m1 5h0m4-6h0m1 9h0m2-4h0m2 1h0m7-1h0m1 6h0m5-3h0m1-4h0m1-1h0m3 6h0m1-6h0m13 2h0m1 6h0m0-9h0m1-2h0m10 1h0m12-2h0m0 11h0m0-8h0m2-3h0m1 8h0m3-4h0m1-3h0m4 8h0m5-4h0m1-2h0m1-3h0m1-1h0m7 10h0m14 2h0m-7 8h0m-6-5h0m0 5h0m-2-6h0m-5 4h0m-3 6h0m-2-4h0m-15 5h0m-1-11h0m-4 4h0m-6 2h0m-4 6h0m-1-7h0m-2 3h0m-12 0h0m-8 1h0m-1-1h0m-4 2h0m-2-8h0m-1 7h0m-2-4h0m-1-5h0m-2 0h0m-1 7h0m-2-2h0m-3 1h0m-1 1h0m-6-5h0m-4 0h0m-7 0h0m-1 9h0m0-9h0m0 6h0m-5-7h0m-2 6h0m-3 2h0m-5 4h0m-1 0h0m-2-7h0m-3 0h0m-3-6h0m-5 0h0m-6 9h0m-10 1h0m-5-10h0m-5 7h0m-1 4h0m-1-8h0m-3-3h0m-9 5h0m-1-1h0m0 0h0m0 2h0m-7-4h0m-2-1h0m-10 5h0m-8 6h0m0 0h0m-3-6h0m-3-5h0m-3 0h0m-1 2h0m-6 1h0m-3-3h0m-4 10h0m-6-11h0m-1 9h0m-1 0h0m-5 2h0m-4-9h0m-5 4h0m0 6h0m0-11h0m-7-1h0m-6 12h0m-2-9h0m-1-2h0m-2 4h0m3 12h0m2 5h0m5 3h0m4-9h0m2-1h0m2 11h0m3 0h0m1 0h0m3-7h0m6 0h0m3 6h0m2-4h0m3-7h0m1 8h0m3-6h0m2 7h0m4-4h0m0-4h0m4 3h0m3 3h0m1 4h0m1-3h0m0 0h0m2-2h0m8 2h0m2-3h0m12 7h0m4-12h0m7 3h0m2 10h0m1 0h0m17-8h0m3 6h0m1-3h0m1-8h0m6 0h0m5 13h0m4-7h0m1 1h0m3-1h0m4 4h0m5-1h0m1-4h0m3-4h0m7 9h0m3-7h0m4 9h0m1-12h0m8 4h0m3 3h0m5-5h0m15 7h0m3-6h0m5 8h0m5-3h0m0-4h0m11 3h0m2-2h0m3 7h0m5-12h0m0 3h0m3 6h0m5-5h0m13 0h0m4-2h0m1 9h0m3-1h0m5-4h0m7 0h0m-4 19h0m-1-11h0m-7 10h0m-3-10h0m-1 5h0m-1-3h0m0 4h0m-1-5h0m-2 10h0m-3-9h0m-5 8h0m0-4h0m-3 5h0m-2-9h0m-4-1h0m-1 12h0m-2-8h0m0 3h0m-4-3h0m-4 0h0m-6 2h0m0 0h0m-3-5h0m-12 7h0m-9-7h0m0 0h0m-6-1h0m-1 6h0m-5-3h0m-2 8h0m-1-6h0m0 4h0m-1-9h0m-1 11h0m-10-10h0m-2 2h0m-8 7h0m-5-3h0m0-1h0m-23 0h0m-1-7h0m-1 8h0m-4 2h0m-6-5h0m-2-2h0m-3 5h0m-3 0h0m-2 3h0m-1-4h0m-5-5h0m-7 7h0m-1 1h0m-6-3h0m-2-5h0m-3 8h0m-8-10h0m0 7h0m0-3h0m-5-1h0m-3 2h0m0 6h0m-7-1h0m-1 0h0m-5-10h0m-1 8h0m-6-4h0m-2 3h0m-6 6h0m-1-10h0m-1 0h0m-2 9h0m-5-11h0m-1 7h0m-6 3h0m-2-5h0m0 3h0m-9 2h0m-2-4h0m-15-5h0m15 21h0m2-8h0m0 10h0m0-5h0m2 2h0m2-3h0m1 3h0m3 2h0m4-7h0m1 2h0m20-4h0m3 7h0m3-6h0m4 2h0m0-2h0m0 5h0m8-6h0m6 1h0m4 1h0m1 5h0m4 5h0m13-10h0m1-2h0m4 6h0m5 0h0m8-4h0m2 0h0m3 3h0m4 1h0m2 4h0m0-7h0m2-2h0m2 7h0m0-3h0m2 6h0m4-9h0m4-1h0m1 0h0m0 4h0m3-5h0m0 6h0m5 5h0m2 0h0m4-12h0m1 1h0m2 7h0m6-7h0m5 0h0m6 9h0m2 3h0m0-1h0m1-7h0m4 8h0m10-9h0m4 9h0m1 0h0m9-13h0m5 5h0m6 6h0m0-9h0m18 5h0m3-1h0m1 1h0m3 0h0m3-2h0m11-1h0m3 2h0m5-6h0m0 5h0m2 7h0m1-11h0m-4 18h0m-1-1h0m-6-2h0m-1 10h0m-3-5h0m-4 0h0m-2 2h0m0-1h0m-9-2h0m-2 7h0m-1-13h0m0 11h0m-6-10h0m-1 5h0m-1-6h0m-1 1h0m-1 4h0m-1-1h0m-6 0h0m-7 6h0m-4-5h0m-2 4h0m-3-8h0m-3 4h0m-18 1h0m-7-6h0m-10 8h0m-2 4h0m0-3h0m0-9h0m-5 7h0m-13-1h0m-5 7h0m-2-4h0m-6 0h0m0 4h0m-3-2h0m-1-11h0m-3 4h0m-3 6h0m-2-10h0m-1 0h0m-2 0h0m-3 10h0m0-10h0m-8 4h0m-1 7h0m-11 2h0m-1-7h0m-3-5h0m-11 7h0m-1 5h0m0-9h0m-8 6h0m0-4h0m-5-3h0m-1 8h0m0-3h0m-8-5h0m-4 8h0m-5-6h0m-14-2h0m-1 3h0m-1-5h0m-3 6h0m-3 0h0m-2-2h0m10 18h0m1-5h0m3 3h0m3-5h0m6 0h0m3 0h0m2 0h0m7 3h0m1-3h0m5 5h0m9 0h0m0 0h0m3-3h0m0-4h0m3 8h0m0 5h0m8-2h0m1-3h0m8-3h0m3-1h0m2 7h0m2-6h0m2 7h0m0-8h0m4 6h0m4-9h0m6 9h0m3-7h0m2 1h0m0 5h0m0-9h0m2 0h0m10 0h0m15 1h0m0 1h0m0-2h0m1 11h0m6-3h0m1-5h0m3 5h0m2 0h0m2-5h0m7-3h0m5 2h0m3 4h0m16 5h0m0-9h0m5 2h0m2 0h0m5 5h0m2-4h0m3-2h0m0 2h0m-14 10h0m-5-1h0m-4 12h0m-7-7h0m-2-4h0m-4 12h0m-4-1h0m-1-3h0m-9-8h0m-2 1h0m-1 6h0m-2 1h0m-1-9h0m-5 13h0m-2-3h0m-1 2h0m-1-5h0m-17-7h0m-5 4h0m-3 5h0m0-3h0m-2 7h0m-1-10h0m-1 7h0m0 2h0m0-8h0m-6 1h0m-3-1h0m-5 6h0m-1-6h0m-6 7h0m0-6h0m-17-4h0m-7 2h0m-10 1h0m-7 6h0m-2-10h0m0 2h0m-2 3h0m-8 2h0m-5 4h0m-3 0h0m8 10h0m10-1h0m10 3h0m4 3h0m2-12h0m1 2h0m4 11h0m0-5h0m3-5h0m4-1h0m4-2h0m7 8h0m10-4h0m7-2h0m8 8h0m2-1h0m0-3h0m5 7h0m11-9h0m1-4h0m4 11h0m3-2h0m1 3h0m1-11h0m1 7h0m0 1h0m2 0h0m2-3h0m3 2h0m3 4h0m20-4h0m0-6h0m4 3h0m-14 15h0m0-6h0m-2 5h0m-4-4h0m-16 5h0m-1-5h0m-2 5h0m-2-6h0m-2 8h0m0-4h0m-1 6h0m-2 1h0m0-1h0m-3 0h0m-4-9h0m-12 2h0m-24 1h0m-3 7h0m-4 2h0m-10-12h0m-4 6h0m-6-1h0m-5-4h0m-6-1h0m28 14h0m13 6h0m21-5h0m19 6h0" stroke="#ee7268" stroke-width="5.5" stroke-linecap="round" fill="none"/><path transform="scale(.1)" d="M1846 506h0m0 3h0m1-5h0m3 2h0m10-2h0m4 12h0m2-1h0m25 11h0m0 5h0m-1-6h0m-2-3h0m-6-4h0m-9 8h0m-2 1h0m-1-9h0m-2 3h0m0 2h0m-3 2h0m0 0h0m-2-7h0m-6 4h0m-4 4h0m-4-6h0m-2 11h0m-2-5h0m-1 3h0m-15-1h0m-2-3h0m-1 2h0m-1-4h0m-2 16h0m4 6h0m6-6h0m7 3h0m1-3h0m1 3h0m3 2h0m1-6h0m2 4h0m3-8h0m10-1h0m11-1h0m2 7h0m6-2h0m10 5h0m14 4h0m-3 3h0m-3 10h0m-4-12h0m-2 9h0m-1 2h0m-5-1h0m-2-7h0m-4 8h0m-1-2h0m-2 0h0m-2-10h0m-5 7h0m0 2h0m-2-4h0m-3-1h0m0-1h0m-2 4h0m-2 2h0m-1 0h0m-14 1h0m-16-10h0m-5 2h0m-2 4h0m14 9h0m5 4h0m5-2h0m10-2h0m23 11h0m3 1h0m1-2h0m3-4h0m5 1h0m13 4h0m5 0h0m2 2h0m-12 11h0m-4-4h0m-1 3h0m-1-10h0m-1 4h0m-3 7h0m-4-8h0m0 3h0m1 8h0m6 3h0m0 7h0m3-3h0m1 3h0m5-4h0m2 6h0m0-4h0m9-8h0m1 2h0m3 10h0m-4 6h0m-5-2h0m-1 11h0m-2-2h0m-5 1h0m0-11h0m-2 2h0m2 12h0m2 2h0m3 3h0m1 6h0m10 1h0m5-9h0m7 12h0m-13-1h0m-5 6h0m-1 9h0m5 11h0m6-8h0m2 7h0m8-5h0m3 14h0m-3-7h0m-7 10h0m0-8h0m-9 8h0m2 9h0m1 2h0m5 0h0m2-2h0m8-3h0m1 0h0m2-1h0m7 5h0m4 3h0m1 10h0m-2 8h0m-1-4h0m-2-1h0m-5 5h0m-15-12h0m21 19h0m1-3h0m4 9h0m2 1h0m0-3h0m4 6h0m0 4h0m-1 7h0m-1-3h0m-2-8h0m-3 3h0m-5-5h0m-1 10h0m-1-3h0m-3-7h0m-5 0h0m-1 0h0m-1 0h0m12 15h0m1 12h0m5-10h0m1-2h0m6 11h0m1-7h0m3-1h0m397 21h0m-1-3h0m-4 3h0m-3-1h0m-3-1h0m-5 4h0m-2-7h0m-1 2h0m-3 3h0m0-9h0m0 11h0m-4-9h0m-1 3h0m-2 5h0m-5 0h0m-10-2h0m-350 1h0m-7-2h0m-1-9h0m-3 5h0m-2-1h0m-1 0h0m-2 1h0m-1 8h0m-1-9h0m-1 4h0m-1-3h0m23 13h0m3 7h0m4 2h0m2-5h0m313-4h0m3 0h0m4 4h0m8-3h0m1-1h0m4 9h0m3-8h0m1 8h0m3-9h0m2-1h0m1-1h0m1 10h0m1-4h0m0 2h0m1-7h0m0 8h0m0-5h0m0 0h0m1-5h0m2 9h0m5-2h0m1 0h0m1-2h0m5 0h0m5 3h0m0-5h0m2 7h0m5-5h0m1 5h0m2 0h0m1-6h0m1-1h0m1 3h0m1-2h0m1 2h0m5 4h0m0 0h0m4-8h0m1 1h0m10 9h0m8-2h0m9 16h0m-2 0h0m-5-11h0m-1 11h0m0-9h0m-1-3h0m0 12h0m-1-9h0m-1 4h0m0-4h0m-2 8h0m0-6h0m-1 4h0m-1-4h0m-1 0h0m-1 5h0m-3-8h0m-1 7h0m-3-4h0m-7 3h0m0 4h0m0-3h0m-2 2h0m-4-2h0m0-3h0m-5 3h0m-1-9h0m-4 12h0m-2-4h0m-6 1h0m0-9h0m-4 2h0m-3-3h0m0 11h0m-4-10h0m-3 6h0m0 5h0m-2 0h0m0-2h0m-1 1h0m-1-3h0m0-5h0m-1 0h0m0-2h0m-2 0h0m-3 8h0m-2-5h0m0 2h0m-3 3h0m-1 0h0m-2-3h0m0 4h0m-3-5h0m-1-5h0m0 8h0m-4-6h0m-1 4h0m-1-2h0m0 1h0m-4-3h0m-2 6h0m-5 3h0m-2-1h0m-302 2h0m-5-5h0m-6 3h0m0-5h0m-7 0h0m-2-3h0m8 19h0m3 2h0m8-7h0m3-2h0m1 3h0m291-1h0m1 7h0m4 0h0m1 3h0m2 1h0m4-5h0m0-5h0m2 0h0m0 5h0m4-5h0m0-3h0m0 2h0m2 4h0m1-2h0m2 6h0m2-8h0m1 7h0m2-6h0m3 9h0m2 0h0m0-11h0m3 7h0m3-2h0m4-4h0m2 3h0m3-3h0m1 4h0m2 7h0m1-12h0m0 0h0m3 8h0m0 1h0m0-5h0m6 5h0m3-7h0m0 2h0m1-3h0m2 5h0m2-6h0m0 5h0m1-3h0m1 8h0m0-9h0m2 2h0m3-3h0m2 8h0m0-6h0m3-3h0m0 12h0m1-11h0m2 1h0m1 8h0m2-9h0m0 6h0m3-2h0m0 0h0m0-4h0m6 5h0m0 0h0m8-2h0m1 7h0m2-9h0m2 9h0m2-1h0m1-4h0m0 3h0m1 4h0m3-4h0m3 10h0m-1 2h0m-2 1h0m-1 5h0m-3-11h0m0 9h0m-1 0h0m-3-9h0m0-1h0m0 11h0m-3-3h0m0 3h0m0-8h0m-3-2h0m-1 3h0m-1 7h0m-4-11h0m-1 5h0m-1 3h0m-2-7h0m-2-2h0m-3 12h0m-1-3h0m-2-7h0m0-1h0m0-1h0m-3 7h0m-1 2h0m-1-7h0m-1-2h0m-3 13h0m-2-4h0m-2-6h0m-3 0h0m-2 7h0m-2 1h0m-1-4h0m-3 3h0m0 1h0m-2-7h0m-7 4h0m0-2h0m-5-2h0m-3 8h0m-1-7h0m-1 8h0m-2-9h0m-1 4h0m-2 1h0m-1 3h0m-1 0h0m-1-1h0m-5-10h0m-3 6h0m-1-1h0m-7 3h0m-1 0h0m-3-6h0m-1 9h0m-6-1h0m0-4h0m0 0h0m-1-2h0m-1-3h0m-1 8h0m-1-10h0m-1 13h0m-2-1h0m0-3h0m-204 16h0m2 2h0m19-4h0m1-1h0m2 4h0m18-9h0m13 0h0m2 5h0m8 4h0m130-2h0m6-3h0m5-5h0m0-1h0m0-1h0m1 3h0m1 6h0m1-9h0m0 9h0m4 1h0m1-10h0m1 13h0m1-4h0m0 1h0m1 3h0m5-11h0m1 4h0m1 0h0m7 6h0m0-12h0m1 0h0m1 0h0m1 8h0m5-1h0m1-3h0m0 3h0m2 3h0m0-1h0m0-3h0m1 0h0m1-3h0m5 4h0m1-2h0m1 8h0m1-8h0m10-4h0m1 4h0m0 3h0m0 5h0m2-11h0m0 4h0m1-3h0m1-1h0m1 11h0m1 0h0m4-10h0m1 0h0m1 8h0m2 0h0m0-10h0m1 4h0m2 0h0m1 4h0m0-8h0m4 3h0m1 1h0m3 0h0m4 1h0m1-6h0m9 3h0m3 4h0m3 6h0m5-12h0m1 4h0m0-1h0m2-3h0m1 2h0m0-2h0m5 11h0m2-1h0m2 5h0m-3-1h0m-3 1h0m-1 0h0m0 1h0m-2 6h0m-1 2h0m-4 1h0m-2-11h0m-3 6h0m0-7h0m0 8h0m-1 0h0m0-4h0m-1-2h0m-4 0h0m-1 9h0m-2 0h0m-1 0h0m0 0h0m-3-9h0m-1 8h0m0 3h0m-2-3h0m-1-2h0m-1-5h0m0 3h0m0 0h0m-1-1h0m-1 0h0m-4 1h0m-5 1h0m-4-1h0m-1 0h0m0-1h0m0 5h0m-3 2h0m-6-4h0m-4-2h0m0 6h0m-2-4h0m0 1h0m-1-4h0m-1 0h0m-1 1h0m-1 7h0m-3-6h0m-4-2h0m-2-1h0m-3 0h0m0 4h0m0-1h0m-1 6h0m-2-6h0m0-1h0m-2-6h0m-1 4h0m0 8h0m-1-5h0m-2 2h0m-1-6h0m-1 0h0m-1 1h0m-1 7h0m-3-9h0m0 4h0m-2 2h0m0 4h0m-2-3h0m-2-3h0m-2 7h0m-2-8h0m-1 0h0m-5 8h0m-2 0h0m-1-1h0m0-1h0m-1 1h0m0-6h0m-2 1h0m-5 3h0m-3-4h0m-4-6h0m0 10h0m-16-1h0m-10-1h0m-7 3h0m-5-6h0m-10 3h0m-1 5h0m-5 0h0m-15-7h0m-5 4h0m-10 3h0m-2-1h0m-2-3h0m-10 0h0m-1-4h0m-2 6h0m0 0h0m-4-6h0m-1-4h0m-2 0h0m-7 0h0m-2 12h0m-5-1h0m0-10h0m-2 8h0m-6-3h0m-6-5h0m-10 6h0m-2-4h0m-11 6h0m-4-4h0m-4 2h0m-2-5h0m-2 2h0m-1 6h0m-2-10h0m0 0h0m-4 5h0m-2 3h0m-3-5h0m-4 1h0m-7-2h0m-5 1h0m-2 1h0m-14 3h0m-15 16h0m13-2h0m9-3h0m1-3h0m2 3h0m4 8h0m1-6h0m13-2h0m1-5h0m5 11h0m1-6h0m5 5h0m2-10h0m3 13h0m0 0h0m2-2h0m1-8h0m1 10h0m5-5h0m8-5h0m4-3h0m13 8h0m0 0h0m1 1h0m17-8h0m5 1h0m0 10h0m1-6h0m5 1h0m1 0h0m2 6h0m0-2h0m8-11h0m1 1h0m0 6h0m1 2h0m2-8h0m3 8h0m1-8h0m6 6h0m0 2h0m5-7h0m1 1h0m1 1h0m2 2h0m4 2h0m3 2h0m1-9h0m1 3h0m0 8h0m3-11h0m2 8h0m0-5h0m4 2h0m15-3h0m3 3h0m2 4h0m12-2h0m1-5h0m1 6h0m15 3h0m0-12h0m1 10h0m4-5h0m5 1h0m12-3h0m1-3h0m0 0h0m7 0h0m2 0h0m1 12h0m1-1h0m0 1h0m0-4h0m0 5h0m2-12h0m4 12h0m1-4h0m2 4h0m0-5h0m2 0h0m2-1h0m0-1h0m1-3h0m3 9h0m1-6h0m3 7h0m2-6h0m1 2h0m2 2h0m1-6h0m1-4h0m2 3h0m2-4h0m4 8h0m2-1h0m4 4h0m2-4h0m1-1h0m3-6h0m10 11h0m4 2h0m0-2h0m1-3h0m3 1h0m1 0h0m0 4h0m1-3h0m2-5h0m1 3h0m1-7h0m1 9h0m0 2h0m4 1h0m3-9h0m1 2h0m2 5h0m6-5h0m6 2h0m9-3h0m0-3h0m-8 16h0m-7 3h0m-1-6h0m0 1h0m-1 9h0m-4-2h0m-1-6h0m-1-3h0m-7 0h0m-1 1h0m-2 11h0m-2-9h0m0 4h0m-3-5h0m-2 0h0m-2 2h0m-3 2h0m-4-4h0m-4 10h0m-2-12h0m0 5h0m-6-1h0m0 5h0m-2-9h0m0 12h0m-1-11h0m-2 8h0m-1 0h0m-1-5h0m-3 0h0m-1-2h0m0-1h0m-4 1h0m-1 3h0m0 1h0m-1-1h0m0-5h0m-3 5h0m-1-1h0m0 0h0m-2 1h0m-1 0h0m0-2h0m-1 0h0m-4 6h0m-1-6h0m-1 3h0m0-1h0m-2-4h0m-2 9h0m0-5h0m0 5h0m-2-10h0m-1 10h0m-1-9h0m0 12h0m-1-9h0m-1 6h0m-1-8h0m-1 3h0m0 1h0m-2 3h0m-4-4h0m-1 3h0m-1-4h0m-3 5h0m0-3h0m-1 7h0m-2-2h0m-3 1h0m-7-4h0m0-5h0m-1 4h0m-1-5h0m-2 10h0m-1-5h0m-3-2h0m-3 0h0m-1 3h0m-1 0h0m-1 1h0m-7 0h0m-5 1h0m-3-6h0m-12-2h0m-1 2h0m-3 1h0m-2 8h0m-12-11h0m0 1h0m-3-3h0m-5 3h0m-1 0h0m0 6h0m0 0h0m-4-2h0m0 0h0m-8 6h0m-11-4h0m-3-8h0m-5 8h0m-1-8h0m0 2h0m-1 2h0m-2-2h0m0 9h0m0-7h0m-2 5h0m-4-1h0m-1-5h0m-3 6h0m-2-1h0m-1-5h0m-4-4h0m-1 13h0m-3-6h0m-2 1h0m-1 5h0m0-12h0m-2 6h0m-7-1h0m-2 5h0m-6-11h0m-3 13h0m-3-7h0m-1-6h0m-1 11h0m-16-5h0m-2 0h0m-4-5h0m-6 1h0m-2 11h0m-8-13h0m-7 1h0m-1 3h0m-5 9h0m-1-3h0m-4 1h0m-5-8h0m-14 1h0m-3-4h0m-3 12h0m-7 1h0m0-8h0m-3 16h0m10-5h0m0 7h0m2-3h0m6 6h0m1-8h0m0 8h0m1-3h0m6-5h0m4 4h0m9-3h0m8-5h0m2 0h0m5 1h0m66 1h0m1-1h0m4-1h0m16 2h0m11 0h0m9-2h0m1 7h0m4-7h0m2 3h0m0 4h0m1-7h0m0 2h0m5 7h0m0 4h0m1-8h0m14 8h0m0-5h0m6-6h0m0 11h0m2-6h0m10-3h0m2 0h0m3-1h0m2 7h0m8 3h0m0-6h0m1 6h0m1-11h0m5 0h0m3 2h0m1-1h0m5 5h0m1-6h0m2 6h0m6-6h0m0 8h0m1 2h0m3-12h0m3 8h0m7-5h0m9-3h0m1 1h0m6 3h0m2-2h0m1 0h0m0 2h0m3 2h0m8-3h0m3-2h0m1 7h0m1 0h0m1 4h0m3-8h0m3-4h0m1 0h0m2 12h0m2-5h0m1-4h0m2 4h0m0-4h0m1 6h0m0-8h0m2 4h0m1 7h0m1-9h0m6-3h0m1 8h0m6-5h0m6 7h0m0-4h0m2 0h0m3-6h0m0 5h0m-91 12h0m-6-2h0m-11 1h0m-28 0h0m-9-1h0m-15-1h0m-162 4h0m-4 3h0m197 7h0m15 6h0m8 0h0m5 3h0m8-8h0m2 9h0m7-5h0m8 4h0m1-1h0m12 13h0m-5-7h0m-15 13h0m-29-4h0m-24 11h0m7-1h0m26 3h0m24 1h0m3 2h0m5 1h0m-10 10h0m-27-1h0m-20 17h0m5 3h0m10-4h0m2 3h0m2-8h0m9 1h0m9 8h0m1 4h0m-6 1h0m-13 5h0m-25-8h0m-3 13h0m5 12h0m22-4h0m1-6h0m9 12h0" stroke="#76ae1c" stroke-width="5.5" stroke-linecap="round" fill="none"/><path transform="scale(.1)" d="M2114 432h0m121 11h0m-2-3h0m-2 5h0m-2-3h0m-88-4h0m-7 8h0m-1-10h0m-1 0h0m-1 0h0m0 3h0m-2-1h0m-1-2h0m3 19h0m3-7h0m0 1h0m2 6h0m74 2h0m2 2h0m0 2h0m8-7h0m17 0h0m-13 14h0m0-6h0m-10 0h0m-9 7h0m-2-1h0m0 3h0m-35 4h0m-21-12h0m-1 2h0m0 8h0m-3 1h0m-2 0h0m-2-6h0m-4 7h0m0-6h0m5 19h0m3-8h0m1 8h0m1-12h0m1 7h0m0 6h0m2-9h0m1 5h0m1 4h0m2-5h0m0 1h0m2 4h0m2-12h0m1 10h0m0-4h0m2 3h0m2-6h0m1 1h0m1-3h0m1-1h0m2 1h0m3 7h0m1-4h0m1-5h0m0 5h0m7 6h0m2 1h0m3 0h0m5-4h0m1 2h0m1 3h0m1-8h0m4 8h0m4-6h0m3-5h0m2 5h0m1-7h0m1 17h0m-12 4h0m-1 3h0m-2-4h0m0 7h0m-1-9h0m0 6h0m-1 0h0m-2-10h0m-1 10h0m0-9h0m-1 10h0m-1-10h0m0 2h0m0 2h0m-1-1h0m-1-2h0m0 9h0m-1-1h0m0-7h0m-1 5h0m0-2h0m0 6h0m-1 0h0m-2-7h0m-1 0h0m0 4h0m-1-4h0m0-1h0m-1 3h0m-2-5h0m-2 8h0m0-5h0m0 8h0m-1-5h0m-1-4h0m0 3h0m0 0h0m-1-2h0m-1 1h0m0-1h0m-2-1h0m-2 8h0m0-1h0m0 1h0m-2-2h0m-1-1h0m0 2h0m0-1h0m0-10h0m-2 5h0m-1 3h0m0 0h0m0-2h0m-1-2h0m0 5h0m0-3h0m-1 3h0m-1 3h0m-4-12h0m-1 0h0m-2 13h0m0-8h0m-1 1h0m-1 7h0m-1-5h0m-2 3h0m-1 2h0m-4-12h0m-30 20h0m5 0h0m1 6h0m17-10h0m10 9h0m4-2h0m4-1h0m1 1h0m3 2h0m1-12h0m0 5h0m1-2h0m1 8h0m0 1h0m1-7h0m0 5h0m2-3h0m1 5h0m1 0h0m0-4h0m0 0h0m1 0h0m0 2h0m0-8h0m1 1h0m0-3h0m0 1h0m0 9h0m0 1h0m1-10h0m0-1h0m1 13h0m0-9h0m0 0h0m4-1h0m0 5h0m1-2h0m1 6h0m1-7h0m3-4h0m1 12h0m0-13h0m2 3h0m2-2h0m0-1h0m2 0h0m2 2h0m-1 17h0m-4-1h0m0 9h0m-3-7h0m-3 5h0m-1-3h0m-4-5h0m0-1h0m0 7h0m0-2h0m-2-7h0m0 6h0m-1 7h0m-2-4h0m0 1h0m-1-3h0m-1-1h0m-2-5h0m-2 2h0m-1 9h0m0-12h0m-6 6h0m-11-3h0m-6-1h0m-8 5h0m-5 3h0m-4-8h0m-1 4h0m-9 7h0m-14-3h0m-1-8h0m-3 7h0m-1-7h0m-1 3h0m-1 2h0m-4 0h0m-1 2h0m-1-1h0m-1 3h0m-3-5h0m-6 9h0m4 1h0m7 3h0m5 0h0m72 1h0m8 1h0m1-2h0m3-3h0m3 7h0m6-1h0m-6 12h0m-1 5h0m-1-5h0m-3 7h0m-10-12h0m19 16h0m6 11h0m-4 6h0m-1-1h0m-4 6h0m-3-8h0m0-3h0m2 15h0m2 0h0m2 0h0m1 3h0m11 22h0m-2-4h0m-6 4h0m-2 4h0m4 2h0m11 18h0m-5 5h0m-1-8h0m0-1h0m-4 0h0m-7 1h0m11 20h0m0-3h0m4 5h0m2-11h0m5 11h0m5 8h0m-2 0h0m-1 6h0m-4-10h0m-13 1h0m11 10h0m2 7h0m7 6h0m10-4h0m-2 12h0m-3-4h0m2 16h0m4-4h0m10 4h0m0 6h0m14 9h0m0 7h0m-1-3h0m-5 0h0m-1-9h0m1 14h0m1 2h0m1-1h0m5 4h0m4 1h0m2-3h0m5 7h0m8-1h0m14 17h0m-13-4h0m-1-9h0m0 8h0m-4-2h0m-1 6h0m-2-11h0m-6 2h0m-1 1h0m10 15h0m4 0h0m3-4h0m6 11h0m2-3h0m5-5h0m2 7h0m0 2h0m3-5h0m-3 14h0" stroke="#3cc4cf" stroke-width="5.5" stroke-linecap="round" fill="none"/><path transform="scale(.1)" d="M1887 874h0m-2 17h0m-6-2h0m-11 14h0m0 0h0m4 3h0m2 3h0m5-6h0m-11 12h0m-13 20h0m2-6h0m3 4h0m3-2h0m-9 17h0m2 17h0m-17 7h0m-1 7h0m-4-2h0m0-3h0m-2 3h0m-4 2h0m-19 14h0m18-6h0m-1 11h0m-11 9h0m-4-4h0m-13 4h0m-11 13h0m10-10h0m7 1h0m14 1h0m3 9h0m1-9h0m-16 19h0m-4-4h0m-7 13h0m1 2h0m2 3h0m5-5h0m3 3h0m5-1h0m3 6h0m13-3h0m1-2h0m1-1h0m-2 15h0m-3 3h0m0-1h0m-3 2h0m-2-3h0m-3 5h0m-13-7h0m-5 1h0m-3-5h0m-1 3h0m-3 3h0m-2-4h0m2 23h0m8-9h0m3 6h0m4-9h0m1 7h0m11 3h0m0-7h0m5-3h0m0 2h0m2 10h0m2-6h0m1-5h0m1 4h0m1 2h0m2 4h0m3-3h0m448 11h0m-1 4h0m-4-2h0m-447 2h0m0-8h0m-3 8h0m-8 0h0m-3-1h0m-3 0h0m-5-9h0m-11 1h0m-16 26h0m8-12h0m4 5h0m3 1h0m13-1h0m3 1h0m19-5h0m440 3h0m1 2h0m1-5h0m4 3h0m2-4h0m3 6h0m0 6h0m2-4h0m0 4h0m2-9h0m21 6h0m-8 7h0m-1 7h0m-7-6h0m-5 5h0m-2-4h0m-5 6h0m-1 2h0m-11-12h0m-1 5h0m-5 3h0m-433-2h0m-4 3h0m-1-10h0m-2 12h0m-8 0h0m-8-10h0m-5 9h0m-1-11h0m-6 7h0m-7-2h0m6 16h0m3-1h0m0 6h0m4-4h0m4 2h0m1-4h0m1 6h0m4-2h0m1-10h0m14 7h0m4 5h0m1-11h0m6 4h0m428-3h0m6 1h0m4 6h0m0-4h0m6 3h0m8 2h0m4-7h0m12 20h0m-2-9h0m-6 4h0m-2-2h0m-3 8h0m-2-10h0m-3 0h0m-1 2h0m-4 10h0m-1 1h0m0-10h0m-2 1h0m-4 3h0m-2-1h0m-3 7h0m-5-2h0m-1-6h0m-1-4h0m-7 1h0m-427 11h0m-4-13h0m-2 6h0m-8 6h0m-1-12h0m-10 3h0m-5 8h0m3 7h0m6 2h0m12-6h0m0 10h0m5-7h0m6-3h0m423 1h0m10 0h0m3 6h0m12 0h0m4 4h0m5-3h0m3 4h0m3-7h0m1 0h0m1 5h0m5-10h0m1 13h0m0-13h0m3 8h0m-5 14h0m-1 4h0m0-1h0m-6-7h0m0 2h0m-3-4h0m-1 3h0m-6 8h0m-5-13h0m-16 13h0m-436-7h0m431 16h0m2 4h0m0-2h0m10-9h0m1 4h0m3 8h0m3-10h0m3 3h0m1 5h0m10-4h0m1-3h0m5 3h0m1-2h0m3 7h0m2-11h0m1 11h0m1-11h0m5 0h0m-8 13h0m-6 0h0m-1 5h0m-1 2h0m-1 4h0m0-11h0m-3 10h0m-2-7h0m-3-1h0m-4 5h0m-2 1h0m-3 1h0m-1-3h0m-1-6h0m-8 8h0m0-2h0m-2-6h0m-1 0h0m-7 7h0m-47 20h0m39-1h0m4-10h0m2-2h0m2 2h0m4-2h0m8 1h0m2 12h0m4-8h0m2 7h0m4-4h0m1-1h0m8-6h0m11 20h0m-1-5h0m-10 4h0m-5 4h0m-23-1h0m-17-8h0m-1 10h0m-26-2h0m-2 2h0m-1-7h0m-1 0h0m-2 5h0m-9 0h0m-21 13h0m9-4h0m1-4h0m3 8h0m1 5h0m11-8h0m0 3h0m1-5h0m0-2h0m3 8h0m1 2h0m2-6h0m1-4h0m6 12h0m18-5h0m13 5h0m4-2h0m4-7h0m9 4h0m7 2h0m8-2h0m5-6h0m4-1h0m-4 20h0m-6-6h0m-4 5h0m-1-3h0m-9-1h0m-3 5h0m-5 1h0m-2 4h0m-10-10h0m0 4h0m-4-6h0m0 6h0m-15 7h0m-10-13h0m-1 2h0m-6 2h0m-5 9h0m-4-9h0m-1 2h0m0 1h0m-7-7h0m-3 2h0m-3 0h0m-2 10h0m-4-5h0m-2 2h0m-3-9h0m-2 24h0m1-4h0m3 2h0m1-7h0m8-1h0m8 11h0m3-8h0m0 7h0m5 1h0m8 1h0m3-5h0m3 4h0m21 0h0m8-9h0m1 0h0m2 10h0m5-2h0m6-3h0m0-5h0m5 10h0m3-3h0m2-8h0m4 7h0m7 0h0m0 1h0m-19 15h0m-6-8h0m-3 1h0m-12 3h0m-7-5h0m-8 11h0m-5-8h0m-17 3h0m-3 0h0m-1 1h0m-1-3h0m-4-1h0m-1-4h0m-3 0h0m-2 9h0m-5-3h0m0-1h0m-10 2h0m-1-6h0m-2 26h0m2-9h0m6 6h0m0 3h0m4-9h0m5-4h0m2 4h0m0-2h0m1 9h0m2-6h0m1 0h0m5 1h0m12-5h0m8 12h0m1-4h0m7 1h0m2 2h0m1-12h0m12 13h0m8-3h0m5 4h0m-3 10h0m-1-7h0m-13 3h0m-5-6h0m-6 3h0m-1 7h0m-2-1h0m-6-2h0m-3-2h0m-2 5h0m-2 3h0m-2-3h0m-1-5h0m-7-2h0m-4-2h0m-1 11h0m-6-7h0m-6 0h0m-6-2h0m-8 0h0m24 19h0m5 3h0m12-8h0m5-1h0m2 10h0m11-10h0m-34 17h0m-1-1h0" stroke="#a971c4" stroke-width="5.5" stroke-linecap="round" fill="none"/><path transform="scale(.1)" d="M1816 1162h0m-7 5h0m-7 0h0m-15 11h0m8 0h0m3-2h0m-34 19h0m-3 1h0m-1 1h0m-6 5h0m-4-3h0m-33 17h0m1 1h0m3-2h0m2-1h0m1 1h0m3-5h0m9 0h0m0-1h0m1-1h0m2-2h0m0-1h0m9 1h0m2-1h0m-34 16h0m0-3h0m-3 2h0m-2-2h0m-4 6h0m-1-2h0" stroke="#b9a9c4" stroke-width="5.5" stroke-linecap="round" fill="none"/><path transform="scale(.1)" d="M1881 517h0m11 11h0m-16-6h0m-3 19h0m1 0h0m16 3h0m16 6h0m-7 2h0m-80 2h0m42 11h0m15 3h0m27-8h0m3 7h0m7 10h0m-20 2h0m-24 8h0m-49 0h0m-8 0h0m44 9h0m7-1h0m0 3h0m49-2h0m-6 18h0m-78-3h0m-14 4h0m-7 9h0m10 0h0m27 3h0m26-4h0m7-2h0m27 22h0m-14-4h0m-29-6h0m-23-2h0m-3 1h0m-13 6h0m-17-1h0m-4 19h0m26-3h0m25-1h0m8 1h0m13 0h0m19-8h0m16 0h0m3 12h0m21-5h0m-5 12h0m-27 5h0m-60-6h0m-1 0h0m-9 2h0m-25 19h0m19 1h0m5-2h0m19-5h0m82 0h0m17 15h0m-158-5h0m-2 20h0m13-5h0m3 0h0m78 6h0m18-2h0m2-6h0m8 0h0m11-1h0m22 20h0m-20 6h0m-13-4h0m-3-8h0m-62 11h0m-26 2h0m-9-11h0m-6 8h0m-25 1h0m44 3h0m3 5h0m5 5h0m23-2h0m51 4h0m16-7h0m5 1h0m9-2h0m2 0h0m33 12h0m-13 8h0m-24-3h0m-37 3h0m-26 2h0m-42-7h0m-46 7h0m15 8h0m10 5h0m32-5h0m1-6h0m0 0h0m10 2h0m7 4h0m8-1h0m11 8h0m6-12h0m38 1h0m2 6h0m5-2h0m17-6h0m21 7h0m6-3h0m-11 11h0m-5 12h0m-9-5h0m-11-1h0m-62-4h0m-23 3h0m-14-6h0m-18 8h0m-21 7h0m17 3h0m2 7h0m45-2h0m18-9h0m69 3h0m7-2h0m6 0h0m23 18h0m-3 7h0m-36-12h0m-11 13h0m-53-13h0m0 7h0m-49 5h0m-15-3h0m-1 2h0m16 7h0m0-1h0m9 0h0m19-1h0m36 5h0m41-3h0m8 5h0m143-3h0m12 6h0m22-7h0m8 8h0m126-1h0m6 1h0m-9 7h0m-29 5h0m-51 1h0m-15 0h0m-22-1h0m-39-5h0m-37-2h0m0 3h0m-98 3h0m-2-1h0m-52-5h0m-44 2h0m-7 3h0m-10 13h0m13-6h0m17-1h0m5 6h0m38 3h0m17 3h0m4-9h0m6 6h0m89 0h0m14-7h0m9 3h0m41 7h0m19-11h0m5 6h0m42 2h0m1-6h0m40-2h0m9-1h0m3 9h0m16-9h0m9 12h0m11-2h0m18-4h0m1 1h0m24 18h0m-3-1h0m-8-11h0m-7 7h0m-56 4h0m-4 1h0m-35 1h0m-27-12h0m-9 12h0m-9-3h0m-6-2h0m-42-6h0m-1 5h0m-18 3h0m-5 1h0m-20-10h0m-7 5h0m-18 4h0m-99-3h0m-58-5h0m44 19h0m16 4h0m108-8h0m9 9h0m32-7h0m21-4h0m11 9h0m6-3h0m38 0h0m3 6h0m12-4h0m20 4h0m14-5h0m14 2h0m10-8h0m51-2h0m26 24h0m-3 1h0m-9 0h0m-5-9h0m-29 8h0m-3 0h0m-3-1h0m-3-3h0m-2-2h0m-31 3h0m-23 5h0m-15 1h0m-37-1h0m-4-8h0m-9-3h0m-17 12h0m-4-10h0m-4-1h0m-21 5h0m-29 3h0m-2 3h0m-9-3h0m-10 1h0m-12 0h0m-1-1h0m-87-8h0m-14 8h0m17 15h0m9-10h0m3 3h0m82 0h0m8-4h0m1 4h0m11 8h0m20 1h0m32-6h0m9 0h0m12-7h0m20 11h0m12-6h0m50 1h0m2 3h0m10-4h0m27 3h0m40 1h0m3-1h0m8-1h0m0 4h0m9-9h0m-14 20h0m-2-8h0m-13 11h0m-13 2h0m-7 0h0m-2 0h0m-14 0h0m0-1h0m-3-9h0m-2 2h0m-2 8h0m-1-11h0m-8 11h0m-1-4h0m-4-8h0m-1-1h0m0 8h0m-1 1h0m-7 0h0m-8-8h0m-8 8h0m0 1h0m-9-1h0m-33-2h0m-6-7h0m-39 2h0m-15 10h0m-16-10h0m-6 11h0m-32-7h0m0-2h0m-12 6h0m-93-7h0m12 14h0m15-2h0m85 6h0m4 5h0m23-1h0m6 0h0m17 1h0m5-2h0m5-6h0m3 2h0m4 6h0m1-6h0m2-2h0m11 1h0m1 1h0m2 3h0m19-6h0m9 7h0m12-4h0m3-6h0m1 11h0m22-2h0m2 2h0m2-10h0m3 5h0m3 4h0m9 0h0m0-5h0m1 2h0m2-6h0m1-1h0m3 8h0m2-5h0m0-3h0m5 10h0m6 3h0m1-12h0m0 3h0m1-3h0m2 8h0m1-9h0m4 7h0m4 6h0m0-3h0m0-8h0m6 5h0m1 6h0m1-11h0m0 11h0m3-8h0m1 6h0m3 0h0m4 1h0m1-10h0m22 0h0m2 0h0m-16 23h0m-8-7h0m-8 8h0m-3 0h0m-3-8h0m-4 8h0m-2-12h0m-3 7h0m-1-4h0m0 2h0m-7-4h0m-8 11h0m0-2h0m-1 0h0m-7 1h0m-7-8h0m-2 0h0m-2 8h0m-1-9h0m-7 5h0m-4 2h0m-1-3h0m-2-5h0m-5 5h0m0 2h0m-2-7h0m-43 12h0m0-11h0m-11 4h0m-2-6h0m-10 11h0m-2-4h0m-22-3h0m-11-3h0m-12-1h0m0 6h0m0 5h0m-5-10h0m-1 10h0m-9 1h0m0-5h0m-4 0h0m-17 2h0m-11-6h0m-64 4h0m-8-5h0m14 24h0m84-3h0m2-5h0m43-4h0m3 8h0m12 5h0m4-12h0m9 5h0m11-6h0m5 6h0m2-4h0m14 1h0m8 1h0m1-1h0m1-2h0m26 0h0m8 3h0m1 7h0m1-10h0m2 8h0m7-8h0m1 8h0m0-9h0m1 9h0m2 4h0m2-3h0m4-6h0m1-1h0m3 6h0m1-1h0m8 2h0m4 0h0m1-8h0m1 6h0m4 2h0m1-6h0m2-2h0m2 11h0m1-7h0m0 3h0m8 4h0m1 0h0m13-3h0m0 0h0m4-1h0m2-9h0m3 10h0m1 4h0m-14 6h0m-1 6h0m-4-6h0m-3 1h0m-8 2h0m-2-6h0m0 0h0m-2 5h0m0 0h0m-1-2h0m0 3h0m-3-1h0m-2 0h0m-1-6h0m-5-2h0m-1 3h0m0 5h0m-2-2h0m-1-4h0m-4 1h0m-2 8h0m0-10h0m-1 12h0m-7-10h0m-1 2h0m-5 1h0m-3-6h0m0 6h0m-1-4h0m-6 2h0m-5 5h0m-2-2h0m-6 3h0m0-10h0m-1 2h0m-2 8h0m-1-2h0m-4-3h0m-5-4h0m-12 2h0m-5-3h0m-23 1h0m-16 0h0m-30 1h0m-54 6h0m-3 2h0m-6-5h0m-3-1h0m-39 1h0m44 14h0m7 1h0m7-4h0m46 2h0m2 2h0m31 6h0m37-12h0m10 10h0m16-9h0m5 12h0m1-3h0m5-2h0m0-7h0m0 7h0m1-8h0m1 8h0m1-8h0m1 12h0m0 1h0m2-12h0m1-1h0m4 5h0m2 4h0m0-7h0m9 1h0m6 6h0m1-1h0m0-4h0m1-3h0m4 1h0m4 2h0m10 7h0m2 0h0m5 0h0m13 11h0m-5-1h0m-11-6h0m-8 0h0m-2-1h0m-1 0h0m-15 7h0m-1-5h0m0 8h0m-5-10h0m0 8h0m-5-8h0m-3 13h0m-1-12h0m-1 0h0m-11 2h0m0 0h0m-9 8h0m-7 1h0m-10 0h0m-1-12h0m-20 0h0m-13 2h0m-38 11h0m-2-10h0m-4 4h0m-4-5h0m-28 2h0m-21-2h0m-50 14h0m27 4h0m12 2h0m23-3h0m20 6h0m14 1h0m1-2h0m0-5h0m7-4h0m75 2h0m13 8h0m1-8h0m6-3h0m7 7h0m41 5h0m6-10h0m0 6h0m3 0h0m12 6h0m-23 6h0m-17 0h0m-20 4h0m-13-1h0m-86 3h0m-16-8h0m-62 0h0m19 23h0m7-4h0m38-6h0m27 10h0m31-2h0m27 0h0m14-2h0m19 1h0m6 1h0m8-8h0m1 5h0m3 3h0m17-5h0m2-4h0m8 3h0m24 12h0m-7 3h0m-7 5h0m-3-4h0m-14 2h0m-36-3h0m-18 1h0m-16 3h0m-4 0h0m-21 0h0m-10-5h0m-41 3h0m-30 2h0m-1-1h0m-8 14h0m20-4h0m19 2h0m19-6h0m9-1h0m76 11h0m20-3h0m1-5h0m2 1h0m18 9h0m20 4h0m-14 7h0m-5 1h0m-12-1h0m-104 2h0m-7-6h0m-5 1h0m0-7h0m-11 4h0m-28 5h0m-15-6h0m-3 6h0m-11-3h0m-22 2h0m30 7h0m3 9h0m22-7h0m59-1h0m6-1h0m24 12h0m6 11h0m-5-4h0m-61 3h0m-14-5h0m-29 4h0m-13 5h0m-6-9h0m-1-1h0m-1 4h0m8 11h0m9-3h0m9 0h0m6 8h0m11 0h0m23 3h0m2-2h0m5-2h0m42-5h0m16 6h0m-36 16h0m-32-5h0m2 8h0" stroke="#fff" stroke-width="7" stroke-linecap="round" stroke-opacity="0.85" fill="none"/></g><circle cx="264" cy="30.7" r="2.35" fill="#ee7268"/><text x="270.8" y="32.7" font-size="5.65" textLength="58.8" lengthAdjust="spacingAndGlyphs" fill="#333">1. Mega-primed LT-HSC</text><circle cx="264" cy="39.1" r="2.35" fill="#76ae1c"/><text x="270.8" y="41.1" font-size="5.65" textLength="64.6" lengthAdjust="spacingAndGlyphs" fill="#333">2. Non Mega-primed HSC</text><circle cx="264" cy="47.5" r="2.35" fill="#1fb1c4"/><text x="270.8" y="49.5" font-size="5.65" textLength="59.8" lengthAdjust="spacingAndGlyphs" fill="#333">3. Ery-primed Progenitor</text><circle cx="264" cy="55.9" r="2.35" fill="#a971c4"/><text x="270.8" y="57.9" font-size="5.65" textLength="20.8" lengthAdjust="spacingAndGlyphs" fill="#333">4. MPP2</text><text x="350.8" y="16.2" font-size="11.2" font-weight="bold" textLength="7.3" lengthAdjust="spacingAndGlyphs" fill="#000">B</text><rect x="383.9" y="28.9" width="22.2" height="17.2" fill="#ee7268"/><rect x="383.9" y="45.9" width="22.2" height="44.3" fill="#76ae1c"/><rect x="383.9" y="90" width="22.2" height="5.6" fill="#1fb1c4"/><rect x="383.9" y="95.4" width="22.2" height="9.4" fill="#a971c4"/><rect x="409.1" y="28.9" width="22.7" height="37.6" fill="#ee7268"/><rect x="409.1" y="66.3" width="22.7" height="21.9" fill="#76ae1c"/><rect x="409.1" y="88" width="22.7" height="5.2" fill="#1fb1c4"/><rect x="409.1" y="93" width="22.7" height="11.8" fill="#a971c4"/><text x="374.4" y="107.5" font-size="6.3" text-anchor="end" fill="#333">0.00</text><text x="374.4" y="88.48" font-size="6.3" text-anchor="end" fill="#333">0.25</text><text x="374.4" y="69.45" font-size="6.3" text-anchor="end" fill="#333">0.50</text><text x="374.4" y="50.43" font-size="6.3" text-anchor="end" fill="#333">0.75</text><text x="374.4" y="31.4" font-size="6.3" text-anchor="end" fill="#333">1.00</text><path d="M379.9 25.6V104.9H435.4M379.9 104.6h-2.4M379.9 85.67h-2.4M379.9 66.75h-2.4M379.9 47.83h-2.4M379.9 28.9h-2.4M395 104.9v2.8M420.45 104.9v2.8" stroke="#2b2b2b" stroke-width="1" fill="none"/><text transform="translate(355.6 65.2) rotate(-90)" font-size="7.4" text-anchor="middle" textLength="28.6" lengthAdjust="spacingAndGlyphs" fill="#222">Percentage</text><g transform="translate(376.4 135.6) rotate(-45.5)" font-style="italic" fill="#3f6f9f"><text font-size="6.2" textLength="17.6" lengthAdjust="spacingAndGlyphs" stroke="#3f6f9f" stroke-width="0.12">Runx1</text><text x="18.3" y="-2.7" font-size="4.4" textLength="7.4" lengthAdjust="spacingAndGlyphs">F/F</text></g><g transform="translate(402.2 135.2) rotate(-45.5)" font-style="italic" fill="#c6304f"><text font-size="6.2" textLength="17.6" lengthAdjust="spacingAndGlyphs" stroke="#c6304f" stroke-width="0.12">Runx1</text><text x="18.3" y="-2.7" font-size="4.4" textLength="6.6" lengthAdjust="spacingAndGlyphs">&#8722;/&#8722;</text></g><text x="439" y="48.2" font-size="5.8" textLength="17" lengthAdjust="spacingAndGlyphs" fill="#333">cluster</text><rect x="439.5" y="53.2" width="6.4" height="6.2" fill="#ee7268"/><text x="449" y="58.3" font-size="5.6" textLength="52.8" lengthAdjust="spacingAndGlyphs" fill="#333">Mega-primed LT-HSC</text><rect x="439.5" y="62.7" width="6.4" height="6.2" fill="#76ae1c"/><text x="449" y="67.8" font-size="5.6" textLength="58" lengthAdjust="spacingAndGlyphs" fill="#333">Non Mega-primed HSC</text><rect x="439.5" y="72.2" width="6.4" height="6.2" fill="#1fb1c4"/><text x="449" y="77.3" font-size="5.6" textLength="53" lengthAdjust="spacingAndGlyphs" fill="#333">Ery-primed Progenitor</text><rect x="439.5" y="81.7" width="6.4" height="6.2" fill="#a971c4"/><text x="449" y="86.8" font-size="5.6" textLength="13.9" lengthAdjust="spacingAndGlyphs" fill="#333">MPP2</text><text x="7.7" y="182.7" font-size="11.2" font-weight="bold" textLength="7.3" lengthAdjust="spacingAndGlyphs" fill="#000">C</text><rect x="29" y="201.2" width="220" height="156.09" fill="#f3ad96"/><g transform="translate(29 201.2) scale(1 4.73)" stroke-width="1.04" fill="none" filter="url(#hb)"><path stroke="#36a" d="M0 0.5h1m1 0h1m1 0h1m2 0h2m1 0h2m2 0h1m4 0h1m1 0h4m1 0h3m1 0h2m4 0h1m1 0h1m2 0h1m2 0h1m1 0h2M42 5.5h1M2 10.5h1m5 0h1m3 0h1m9 0h3m1 0h2m1 0h1m1 0h1m1 0h1m3 0h1m1 0h1M181 20.5h1m6 0h2m1 0h1M185 21.5h1M194 27.5h1m1 0h1m5 0h2m2 0h1m3 0h1m8 0h1"/><path stroke="#259" d="M1 0.5h1m7 0h1m5 0h2m18 0h1m4 0h1m1 0h2m1 0h1M1 10.5h1m1 0h2m4 0h1m4 0h2m5 0h1m13 0h2m3 0h1m2 0h1m2 0h1M180 19.5h1m9 0h2M185 20.5h1M192 27.5h2m10 0h1m2 0h1m7 0h1"/><path stroke="#37a" d="M3 0.5h1m1 0h1m12 0h1m1 0h1m8 0h1M0 5.5h2m19 0h1m14 0h1m3 0h1M182 21.5h2m3 0h1m2 0h1"/><path stroke="#369" d="M6 0.5h1m5 0h2m3 0h1m14 0h3m2 0h1m1 0h1m8 0h1M0 10.5h1m4 0h1m1 0h1m2 0h2m1 0h1m3 0h1m2 0h1m4 0h1m6 0h1m5 0h1m2 0h2m1 0h1m2 0h2M182 19.5h1m1 0h1m1 0h1m2 0h1M182 20.5h2m3 0h1M183 24.5h1M195 27.5h1m1 0h1m1 0h2m7 0h1m2 0h1m1 0h1m2 0h1"/><path stroke="#269" d="M25 0.5h1M6 10.5h1m9 0h1m2 0h1m10 0h1m3 0h1M183 19.5h1m1 0h1M217 27.5h1"/><path stroke="#e98" d="M49 0.5h1m10 0h2m2 0h1m1 0h1m4 0h1m5 0h1m1 0h1m1 0h1m1 0h1m5 0h1m1 0h1m8 0h1m1 0h1m2 0h3m11 0h1m1 0h1m4 0h1m2 0h2m4 0h1m5 0h1m3 0h1m5 0h1m4 0h2m6 0h3m1 0h2m3 0h1M72 1.5h1m8 0h1m51 0h1m5 0h1m36 0h1m6 0h1M67 2.5h1m69 0h1M99 5.5h1m17 0h1M129 6.5h1m73 0h1m6 0h1m3 0h1m2 0h1M167 7.5h1m9 0h2m13 0h1m3 0h1m8 0h1m5 0h2m2 0h1m1 0h2M109 8.5h1m47 0h1M185 9.5h1m4 0h1m1 0h1m5 0h1m12 0h1m4 0h1M51 10.5h1m2 0h1m3 0h2m3 0h2m2 0h1m15 0h1m1 0h2m2 0h1m2 0h1m3 0h2m2 0h2m4 0h1m1 0h1m6 0h2m4 0h1m1 0h1m3 0h1m1 0h1m1 0h1m3 0h1m3 0h1m1 0h1m1 0h2m4 0h1m3 0h1m5 0h3m6 0h3m1 0h1m2 0h1m1 0h2m5 0h1M23 11.5h1M6 12.5h1m39 0h1M38 13.5h1M6 14.5h1m15 0h1m23 0h1m149 0h2m4 0h1M12 16.5h1m201 0h1M184 17.5h1m12 0h1m12 0h1m1 0h1m1 0h2m1 0h1m1 0h1M30 21.5h1M13 23.5h1m182 0h1M102 27.5h1M67 29.5h1m19 0h1m32 0h1m25 0h1m4 0h1m4 0h1m21 0h1M11 30.5h1m16 0h1m24 0h1m57 0h1m64 0h1"/><path stroke="#ea8" d="M50 0.5h1m1 0h1m1 0h2m7 0h1m4 0h1m7 0h1m5 0h1m2 0h2m1 0h1m3 0h4m3 0h1m1 0h1m7 0h2m4 0h2m1 0h1m1 0h1m4 0h1m1 0h1m4 0h2m4 0h2m3 0h2m1 0h1m1 0h1m3 0h2m4 0h1m8 0h1m2 0h2m2 0h3M182 1.5h1m3 0h1m1 0h2M184 2.5h1m16 0h3m6 0h3m1 0h2m1 0h2M90 4.5h1M179 6.5h3m2 0h5m1 0h2m1 0h6m1 0h3m3 0h4m2 0h2m1 0h2m1 0h1M195 7.5h1m1 0h1m1 0h2m3 0h1m1 0h1m2 0h1M56 10.5h1m4 0h1m7 0h1m9 0h1m2 0h1m1 0h1m3 0h1m4 0h1m4 0h2m2 0h2m6 0h1m1 0h1m1 0h1m4 0h1m2 0h1m1 0h3m5 0h1m4 0h2m3 0h1m3 0h1m3 0h2m12 0h2m1 0h1m5 0h2m15 0h1m5 0h1m1 0h2m3 0h1m3 0h1m2 0h1m1 0h1m1 0h1m1 0h1m1 0h1M3 12.5h1m3 0h1m3 0h1m2 0h1m3 0h1m9 0h1m5 0h1m4 0h1m3 0h1M7 14.5h1m4 0h2m6 0h1m10 0h1m5 0h1m2 0h1m3 0h1m136 0h1m2 0h1m8 0h1m4 0h2m1 0h1m1 0h1m2 0h3m1 0h1m5 0h1m1 0h2M183 17.5h1m1 0h1m7 0h2m4 0h1m3 0h1m9 0h1M198 22.5h1m2 0h1m1 0h1m7 0h1m1 0h3m1 0h2M158 25.5h1M114 27.5h1m25 0h1m35 0h1M134 29.5h1M70 30.5h1m10 0h1m2 0h1m15 0h1m5 0h1m11 0h1m11 0h1m3 0h1m20 0h1m4 0h1M189 32.5h1"/><path stroke="#e97" d="M51 0.5h1m5 0h3m5 0h1m3 0h2m2 0h3m2 0h1m1 0h1m3 0h1m2 0h1m2 0h1m5 0h1m1 0h1m14 0h2m8 0h1m4 0h1m2 0h1m2 0h1m1 0h2m2 0h1m8 0h1m9 0h3m15 0h2M70 1.5h1m37 0h1m39 0h1m6 0h1m5 0h1m40 0h1m4 0h1m1 0h1M51 2.5h1m20 0h2m3 0h1m17 0h1m34 0h1m3 0h1m3 0h1m9 0h1m2 0h1m5 0h2m1 0h1M49 4.5h1m3 0h1m3 0h1m8 0h1m11 0h1m4 0h2m16 0h1m14 0h1m15 0h1m1 0h1m5 0h1m9 0h1m5 0h2m10 0h1m2 0h1m5 0h1M49 5.5h1m59 0h1m1 0h1m4 0h1m19 0h1m37 0h1m1 0h1M54 6.5h1m33 0h1m12 0h2m15 0h1m18 0h1m12 0h1m2 0h1m1 0h1M49 7.5h1m28 0h2m9 0h1m7 0h1m7 0h1m3 0h1m3 0h1m16 0h2m9 0h1m14 0h1m12 0h1m6 0h1m16 0h2m3 0h1m4 0h1m9 0h2m1 0h1m2 0h1M49 8.5h1m9 0h1m36 0h1m34 0h1m2 0h1m6 0h1m35 0h1m4 0h1m1 0h1m22 0h2m6 0h1M179 9.5h2m6 0h1m7 0h1m8 0h1M49 10.5h1m2 0h2m3 0h1m2 0h1m1 0h1m3 0h1m3 0h2m1 0h6m1 0h1m6 0h1m2 0h2m12 0h2m5 0h1m1 0h1m3 0h2m9 0h1m1 0h1m3 0h1m1 0h1m3 0h1m4 0h1m2 0h1m7 0h3m3 0h1m3 0h1m4 0h1m4 0h1M6 11.5h1m1 0h1m6 0h1m6 0h1m1 0h1m12 0h1m2 0h1m1 0h1m2 0h2M2 13.5h1m4 0h1m4 0h1m5 0h2m3 0h2m1 0h1m10 0h1m2 0h1m2 0h1m1 0h1M2 15.5h1m3 0h2m1 0h1m2 0h1m9 0h1m1 0h1m6 0h1m4 0h2m4 0h2M0 16.5h1m1 0h1m1 0h2m2 0h1m6 0h1m1 0h1m2 0h2m5 0h2m1 0h1m5 0h1m3 0h2m2 0h1M6 17.5h2m38 0h1m171 0h1M7 21.5h1m1 0h1m3 0h2m1 0h3m2 0h1m20 0h2M7 23.5h1m10 0h1m12 0h2m8 0h1m4 0h1m150 0h2m2 0h1m2 0h1M130 27.5h1M7 29.5h1m18 0h1m4 0h1m7 0h1m18 0h1m20 0h1m6 0h1m13 0h1m13 0h2m1 0h2m17 0h1m7 0h1m9 0h1m13 0h1m7 0h2M2 30.5h1m2 0h1m1 0h1m5 0h1m1 0h5m2 0h1m3 0h1m7 0h2m1 0h1m1 0h2"/><path stroke="#ea9" d="M53 0.5h1m13 0h1m4 0h1m24 0h1m5 0h2m3 0h1m3 0h1m4 0h1m6 0h1m17 0h1m4 0h1m2 0h1m11 0h1m9 0h1M181 1.5h1m3 0h1m1 0h1m2 0h2M179 2.5h1m26 0h1m6 0h1M183 6.5h1m35 0h1M50 10.5h1m4 0h1m9 0h1m6 0h1m22 0h1m24 0h1m12 0h1m29 0h1m15 0h1m5 0h1m8 0h1m2 0h1m3 0h1m4 0h1m1 0h1m4 0h1m1 0h1m3 0h1M0 12.5h1m3 0h2m3 0h2m6 0h1m4 0h1m6 0h1m1 0h1m6 0h1m5 0h1m3 0h1M0 14.5h1m1 0h2m1 0h1m2 0h1m2 0h1m3 0h4m2 0h1m3 0h4m3 0h1m1 0h1m3 0h2m1 0h2m2 0h1m1 0h2m130 0h2m5 0h1m1 0h1m3 0h1m1 0h1m9 0h2m5 0h1m2 0h1m2 0h1M187 17.5h2m3 0h1m5 0h1m2 0h2m2 0h1m1 0h1m1 0h1m1 0h1m4 0h1M81 18.5h1m7 0h1m7 0h1m4 0h1m27 0h1m2 0h1m14 0h1m6 0h1m20 0h2M219 22.5h1M0 25.5h1m2 0h1m3 0h1m21 0h1m60 0h1m22 0h1m19 0h1m4 0h1m15 0h1m4 0h1m11 0h1M5 27.5h1m2 0h1m11 0h1m30 0h1m1 0h1m3 0h1m8 0h1m1 0h1m5 0h1m6 0h1m1 0h3m3 0h1m13 0h1m1 0h2m14 0h1m3 0h1m1 0h1m20 0h2m4 0h1m1 0h1m15 0h1m4 0h1M187 28.5h1M49 30.5h1m2 0h1m6 0h1m13 0h1m2 0h2m5 0h1m8 0h1m6 0h1m2 0h1m2 0h1m4 0h1m1 0h1m1 0h1m5 0h3m5 0h1m2 0h1m5 0h2m2 0h1m2 0h1m1 0h4m4 0h1m6 0h1m4 0h3m1 0h1"/><path stroke="#e87" d="M56 0.5h1m5 0h1m48 0h1m42 0h2M68 1.5h1m60 0h1m30 0h1m18 0h1m4 0h1m7 0h1m5 0h1m6 0h1m9 0h1m3 0h1M49 2.5h1m3 0h2m6 0h1m12 0h1m3 0h1m2 0h1m2 0h1m1 0h1m9 0h2m2 0h1m3 0h2m5 0h1m3 0h1m3 0h1m16 0h1m4 0h1m4 0h1m2 0h1m5 0h2m2 0h1m1 0h1m2 0h1m2 0h2m3 0h1m2 0h3M55 4.5h1m3 0h2m1 0h1m7 0h1m1 0h1m2 0h1m9 0h1m9 0h1m9 0h1m2 0h2m8 0h1m1 0h2m2 0h1m4 0h2m5 0h1m7 0h1m3 0h2m8 0h1m2 0h1M53 5.5h2m2 0h1m13 0h1m1 0h1m5 0h1m4 0h1m1 0h1m5 0h1m3 0h2m2 0h1m1 0h1m11 0h1m7 0h1m7 0h1m3 0h1m15 0h1m4 0h2m1 0h2m1 0h1m11 0h1m3 0h1m3 0h1m1 0h1m1 0h1m1 0h1m5 0h1m8 0h1m1 0h1m1 0h1m12 0h1M51 6.5h1m20 0h1m3 0h2m1 0h2m2 0h1m2 0h1m6 0h1m2 0h1m9 0h1m2 0h1m1 0h1m22 0h1m11 0h1m5 0h1m13 0h2m1 0h1m5 0h1m2 0h1M51 7.5h1m4 0h1m1 0h1m8 0h1m7 0h2m4 0h1m1 0h1m1 0h1m1 0h2m4 0h1m1 0h2m9 0h1m1 0h1m6 0h2m4 0h3m12 0h1m3 0h1m3 0h1m3 0h1m2 0h1m2 0h1m3 0h1m7 0h1m3 0h4m1 0h1m26 0h1m4 0h1m2 0h1M61 8.5h1m43 0h1m73 0h1m9 0h1m1 0h1m2 0h1m3 0h2m1 0h1m1 0h2m1 0h1m2 0h2m2 0h1m4 0h1M181 9.5h1m1 0h1m2 0h1m1 0h2m3 0h1m2 0h2m1 0h1m1 0h3m1 0h3m5 0h1m1 0h1M68 10.5h1m38 0h1m1 0h1m37 0h1m6 0h2M0 11.5h1m1 0h1m2 0h1m1 0h1m2 0h2m8 0h1m9 0h3m1 0h2m5 0h1m6 0h1M3 13.5h1m7 0h1m2 0h4m4 0h1m5 0h1m1 0h2m4 0h1m2 0h1m4 0h1m1 0h1m148 0h2m7 0h1m3 0h1m4 0h1M1 15.5h1m2 0h2m5 0h1m3 0h2m1 0h3m5 0h2m2 0h1m1 0h2m1 0h1m3 0h3m2 0h2M1 16.5h1m4 0h2m2 0h2m1 0h1m2 0h1m1 0h2m2 0h1m2 0h1m3 0h1m2 0h1m1 0h2m1 0h1m4 0h2m2 0h1M3 17.5h3m6 0h1m5 0h1m2 0h2m3 0h1m1 0h1m4 0h1m3 0h1m6 0h1M0 21.5h1m4 0h1m5 0h1m3 0h1m4 0h1m2 0h1m4 0h1m2 0h1m1 0h1m2 0h1m4 0h1m2 0h3m1 0h1M3 23.5h2m5 0h1m5 0h2m1 0h1m2 0h2m3 0h1m12 0h1m3 0h2m2 0h1m143 0h1m10 0h1m6 0h1m1 0h1m4 0h1M1 29.5h1m2 0h1m5 0h1m1 0h2m1 0h1m4 0h1m1 0h1m1 0h1m4 0h2m1 0h2m2 0h1m1 0h1m4 0h1m1 0h2m6 0h3m21 0h1m2 0h1m15 0h1m48 0h1M0 30.5h1m3 0h1m3 0h1m3 0h1m1 0h1m6 0h1m3 0h1m3 0h1m1 0h1m4 0h1m4 0h1m1 0h2m2 0h2"/><path stroke="#e76" d="M122 0.5h1M195 3.5h1m16 0h1M183 4.5h1m1 0h1m1 0h3m2 0h1m3 0h2m1 0h1m3 0h4m2 0h2m3 0h1m3 0h1M184 5.5h1m7 0h1m1 0h1m5 0h1m2 0h1m3 0h1m2 0h1m2 0h1m1 0h4M181 8.5h1m5 0h1m14 0h1m8 0h2M182 9.5h1m1 0h1m6 0h1m8 0h1m9 0h1m3 0h1m3 0h1M193 12.5h2m2 0h3m1 0h4m4 0h2m2 0h1m2 0h1m2 0h1M193 13.5h2m3 0h2m1 0h1m3 0h1m1 0h1m2 0h1m1 0h1m2 0h5M34 21.5h1m157 0h1m10 0h3m1 0h2m1 0h1m2 0h1M214 23.5h1M25 29.5h1m2 0h1"/><path stroke="#eb9" d="M163 0.5h1M182 6.5h1M208 7.5h1M94 10.5h1m57 0h1m30 0h1m5 0h1m2 0h1M12 12.5h1m2 0h1m4 0h1m12 0h1m1 0h1m9 0h1M24 14.5h1m4 0h1m3 0h1m9 0h1m139 0h1m1 0h1m3 0h1m1 0h1m8 0h1m14 0h1M179 17.5h1m9 0h1m5 0h2m7 0h1M49 18.5h1m3 0h1m14 0h1m7 0h1m7 0h1m7 0h1m7 0h2m3 0h1m19 0h1m1 0h1m10 0h1m2 0h1m5 0h1m9 0h1m10 0h1m6 0h1M8 25.5h1m5 0h2m25 0h1m10 0h1m13 0h1m3 0h1m2 0h1m1 0h1m8 0h2m1 0h1m3 0h1m23 0h1m54 0h1m2 0h1m1 0h1M11 27.5h1m37 0h1m4 0h1m1 0h1m2 0h1m3 0h1m3 0h1m1 0h1m6 0h1m5 0h1m3 0h2m5 0h1m2 0h1m7 0h1m3 0h1m3 0h1m13 0h1m7 0h1m1 0h1m7 0h1m12 0h1m9 0h2m9 0h1M180 28.5h1m3 0h1m4 0h1M55 30.5h1m1 0h1m6 0h1m14 0h1m8 0h1m2 0h1m1 0h1m1 0h1m1 0h1m6 0h1m12 0h1m1 0h1m3 0h1m3 0h1m5 0h1m1 0h2m15 0h1m6 0h1m3 0h1m1 0h1m3 0h1m2 0h2M184 32.5h1"/><path stroke="#fb9" d="M179 0.5h9m1 0h10m3 0h4m2 0h1m1 0h4M180 1.5h1M180 2.5h2m1 0h1m1 0h2m1 0h5m1 0h7m3 0h2m2 0h1M199 6.5h1m4 0h1M180 10.5h2m11 0h1m1 0h1m4 0h1m3 0h2m3 0h1m1 0h1M2 12.5h1m5 0h1m7 0h1m6 0h2m1 0h1m5 0h1m3 0h1M4 14.5h1m4 0h2m19 0h1m159 0h1m4 0h1m13 0h1m2 0h1M0 18.5h7m1 0h3m1 0h9m1 0h1m1 0h7m1 0h1m1 0h12m1 0h2m3 0h1m24 0h1m36 0h1m5 0h3m11 0h1m1 0h1m7 0h1m9 0h1m16 0h1m1 0h1m7 0h3m1 0h4m4 0h1m1 0h2m1 0h3m1 0h3m1 0h3m7 0h1m2 0h1M1 19.5h3m2 0h1m1 0h6m1 0h7m1 0h1m1 0h1m1 0h4m1 0h2m1 0h3m1 0h2m1 0h12m1 0h5m1 0h3m1 0h1m1 0h6m1 0h5m1 0h3m3 0h7m1 0h15m1 0h1m2 0h1m1 0h3m1 0h3m1 0h2m1 0h4m1 0h1m1 0h2m1 0h2m1 0h1m1 0h14m1 0h1m2 0h7m1 0h8m3 0h1m13 0h22m1 0h3m1 0h1M0 20.5h3m1 0h1m1 0h1m1 0h3m1 0h1m2 0h2m2 0h5m1 0h1m1 0h12m1 0h4m1 0h1m2 0h10m1 0h16m1 0h7m1 0h5m1 0h7m1 0h7m1 0h2m1 0h4m3 0h1m1 0h17m2 0h10m1 0h20m3 0h5m1 0h2m13 0h5m1 0h13m2 0h5m1 0h1M1 22.5h4m3 0h3m1 0h2m1 0h3m1 0h1m1 0h6m2 0h12m1 0h4m1 0h1m3 0h4m4 0h1m1 0h1m4 0h1m8 0h2m4 0h1m2 0h1m4 0h1m1 0h2m2 0h1m7 0h1m6 0h1m7 0h1m1 0h1m11 0h1m2 0h3m2 0h1m7 0h2m4 0h2m3 0h1m8 0h2m1 0h1m1 0h2m1 0h1m1 0h1m13 0h2m1 0h3m1 0h1m2 0h1m1 0h2m2 0h2m2 0h1M1 24.5h2m3 0h6m2 0h4m1 0h3m1 0h1m1 0h3m1 0h5m1 0h10m1 0h7m1 0h6m3 0h8m1 0h3m1 0h1m1 0h3m1 0h7m1 0h2m1 0h3m3 0h2m1 0h5m1 0h3m1 0h3m1 0h2m1 0h1m1 0h1m2 0h4m1 0h19m1 0h19m1 0h2m1 0h3m2 0h2m13 0h5m4 0h2m1 0h2m2 0h4m1 0h1m2 0h2m1 0h1M22 25.5h2m22 0h1m6 0h1m24 0h1m2 0h1m7 0h1m2 0h1m4 0h1m7 0h1m15 0h1m1 0h1m10 0h1m1 0h1m7 0h1m8 0h1m15 0h1m6 0h1m15 0h2m2 0h1m1 0h2m2 0h7m2 0h2m2 0h3m1 0h1M2 27.5h1m3 0h2m6 0h1m3 0h1m5 0h1m2 0h2m2 0h1m4 0h3m1 0h2m4 0h3m6 0h1m6 0h1m7 0h1m1 0h1m6 0h1m10 0h1m1 0h1m4 0h2m1 0h1m8 0h1m1 0h1m1 0h1m2 0h1m5 0h1m6 0h1m1 0h3m5 0h1m5 0h1m9 0h1m3 0h2m13 0h2M0 28.5h4m1 0h3m1 0h9m1 0h8m1 0h5m1 0h5m1 0h4m1 0h1m1 0h6m1 0h2m1 0h1m2 0h4m1 0h1m1 0h3m1 0h5m2 0h12m1 0h6m1 0h6m1 0h4m1 0h1m1 0h18m1 0h5m1 0h3m1 0h6m1 0h3m1 0h2m2 0h3m1 0h13m1 0h5m11 0h1M51 30.5h1m4 0h1m3 0h1m1 0h2m1 0h4m2 0h1m2 0h2m11 0h1m13 0h1m1 0h1m21 0h1m6 0h1m7 0h1m4 0h1m11 0h2m3 0h1m1 0h1M0 31.5h3m1 0h1m2 0h6m1 0h2m1 0h1m1 0h3m3 0h1m1 0h7m1 0h3m1 0h5m1 0h1m1 0h3m1 0h1m2 0h1m1 0h5m1 0h2m1 0h8m1 0h2m1 0h1m1 0h2m1 0h6m1 0h16m1 0h3m1 0h8m1 0h4m1 0h1m1 0h1m1 0h6m1 0h1m1 0h3m1 0h7m2 0h4m1 0h7m1 0h13m1 0h3m1 0h1m2 0h1m3 0h1M0 32.5h2m1 0h2m1 0h1m2 0h3m1 0h2m1 0h2m1 0h1m1 0h5m1 0h6m1 0h2m1 0h2m1 0h4m3 0h2m1 0h1m1 0h5m1 0h13m1 0h2m1 0h6m1 0h3m1 0h3m2 0h1m1 0h13m1 0h11m1 0h2m2 0h2m1 0h1m1 0h5m2 0h20m1 0h10m3 0h6m2 0h2m1 0h1m2 0h1m3 0h1"/><path stroke="#fa8" d="M188 0.5h1m28 0h2M207 2.5h1M209 18.5h2m4 0h1m1 0h1M84 19.5h1m26 0h1M18 20.5h1m94 0h1m55 0h1M7 22.5h1M34 24.5h1M218 25.5h1M44 28.5h1M3 31.5h1m2 0h1m48 0h1m78 0h1M176 32.5h1"/><path stroke="#fa9" d="M199 0.5h3m4 0h2m1 0h1m4 0h3m2 0h1M193 2.5h1m15 0h1m6 0h1m2 0h1M189 6.5h1m2 0h1m12 0h1m5 0h1M182 10.5h1m3 0h2m3 0h1m10 0h1m14 0h1M7 18.5h1m3 0h1m9 0h1m1 0h1m7 0h1m1 0h1m12 0h1m132 0h2m3 0h1m4 0h4m1 0h1m2 0h1m3 0h1m3 0h1m5 0h4m3 0h1M0 19.5h1m3 0h2m1 0h1m6 0h1m7 0h1m1 0h1m1 0h1m4 0h1m2 0h1m3 0h1m2 0h1m12 0h1m5 0h1m3 0h1m1 0h1m6 0h1m5 0h1m3 0h1m1 0h1m7 0h1m15 0h1m2 0h1m1 0h1m3 0h1m3 0h1m2 0h1m4 0h1m1 0h1m2 0h1m2 0h1m1 0h1m14 0h1m1 0h2m7 0h1m8 0h3m36 0h1m3 0h1M3 20.5h1m1 0h1m1 0h1m3 0h1m1 0h2m2 0h1m6 0h1m1 0h1m12 0h1m4 0h1m1 0h2m10 0h1m16 0h1m7 0h1m5 0h1m7 0h1m7 0h1m2 0h1m5 0h2m1 0h1m17 0h2m10 0h1m20 0h1m1 0h1m5 0h1m20 0h1m13 0h2m5 0h1M0 22.5h1m4 0h2m4 0h1m2 0h1m3 0h1m1 0h1m6 0h2m12 0h1m4 0h1m1 0h1m64 0h1m80 0h1m5 0h1m5 0h2m2 0h1m5 0h1M0 24.5h1m2 0h3m6 0h2m4 0h1m3 0h1m1 0h1m3 0h1m16 0h1m7 0h1m6 0h3m8 0h1m3 0h1m1 0h1m3 0h1m7 0h1m2 0h1m3 0h3m2 0h1m5 0h1m3 0h1m3 0h1m2 0h1m1 0h1m1 0h2m4 0h1m19 0h1m19 0h1m2 0h1m3 0h2m20 0h4m2 0h1m2 0h2m4 0h1m1 0h2m2 0h1M194 25.5h2m1 0h1m2 0h2m7 0h2m2 0h2M4 28.5h1m3 0h1m9 0h1m8 0h1m5 0h1m5 0h1m6 0h1m6 0h1m2 0h1m1 0h2m4 0h1m1 0h1m3 0h1m5 0h2m12 0h1m6 0h1m6 0h1m4 0h1m1 0h1m18 0h1m5 0h1m3 0h1m6 0h1m3 0h1m2 0h2m3 0h1m13 0h1M5 31.5h1m7 0h1m2 0h1m1 0h1m3 0h3m1 0h1m7 0h1m3 0h1m5 0h1m1 0h1m3 0h1m1 0h2m7 0h1m2 0h1m8 0h1m2 0h1m1 0h1m2 0h1m6 0h1m16 0h1m3 0h1m8 0h1m4 0h1m1 0h1m1 0h1m8 0h1m3 0h1m7 0h2m4 0h1m7 0h1m13 0h1M2 32.5h1m2 0h1m1 0h2m3 0h1m2 0h1m2 0h1m1 0h1m5 0h1m6 0h1m2 0h1m2 0h1m4 0h3m2 0h1m1 0h1m5 0h1m13 0h1m2 0h1m6 0h1m3 0h1m3 0h2m1 0h1m13 0h1m11 0h1m2 0h2m2 0h1m1 0h1m5 0h2m20 0h1m10 0h3m6 0h1"/><path stroke="#8bd" d="M0 1.5h1M31 3.5h1M181 23.5h3m1 0h4m2 0h1"/><path stroke="#69c" d="M1 1.5h6m2 0h2m1 0h1m3 0h4m3 0h2m2 0h2m4 0h2m2 0h1m2 0h4m2 0h1M0 3.5h1m1 0h1m4 0h1m5 0h1m18 0h1m7 0h1m2 0h1m1 0h1M0 4.5h3m1 0h1m1 0h1m4 0h1m6 0h1m8 0h1m2 0h4m3 0h1m6 0h1M37 8.5h1m5 0h1M179 22.5h3m3 0h2m1 0h3"/><path stroke="#59c" d="M7 1.5h1m6 0h1m6 0h1m3 0h1m6 0h1m2 0h1m2 0h1m6 0h1m2 0h1M1 3.5h1m7 0h1m15 0h1m11 0h1M3 4.5h1m6 0h1m6 0h1m1 0h1m1 0h2m11 0h3m5 0h1M7 5.5h1M187 22.5h1m3 0h1"/><path stroke="#6ac" d="M8 1.5h1m2 0h1m8 0h1m8 0h1M4 3.5h1m1 0h1m23 0h1m11 0h1m1 0h1M5 4.5h1m2 0h1m4 0h1m14 0h2m16 0h1m1 0h1M184 22.5h1"/><path stroke="#59b" d="M13 1.5h1M35 3.5h1"/><path stroke="#58b" d="M15 1.5h1m14 0h1M9 4.5h1m2 0h1m2 0h2m6 0h1m1 0h1m12 0h1m4 0h1m1 0h1M3 5.5h1m1 0h1m8 0h2m1 0h1m15 0h1m10 0h2M35 9.5h1M179 21.5h1m9 0h1M182 22.5h2M181 25.5h1m8 0h1M195 29.5h1m1 0h1"/><path stroke="#7ac" d="M22 1.5h1m3 0h1m17 0h1m2 0h1M3 3.5h1m1 0h1m2 0h1m1 0h2m2 0h3m2 0h1m6 0h4m8 0h2m6 0h2M7 4.5h1m6 0h1m5 0h1m3 0h1m1 0h1m12 0h1m1 0h1m5 0h1M0 6.5h1m14 0h1m5 0h1m10 0h1M0 7.5h1m3 0h1m1 0h1m15 0h1m3 0h1m4 0h1m2 0h1m3 0h1M20 8.5h1m11 0h1m6 0h1M16 9.5h1m19 0h1"/><path stroke="#7ad" d="M31 1.5h1M12 3.5h1m5 0h1m2 0h1m1 0h1m9 0h2m1 0h1m4 0h1m6 0h1"/><path stroke="#48b" d="M36 1.5h1M2 5.5h1m5 0h1m1 0h1m1 0h1m3 0h1m1 0h1m1 0h1m1 0h1m1 0h3m1 0h3m8 0h1m1 0h1m4 0h1m1 0h1M180 21.5h1m5 0h1m4 0h1"/><path stroke="#8ad" d="M39 1.5h1M22 3.5h1m1 0h1"/><path stroke="#d87" d="M49 1.5h1m1 0h3m4 0h3m1 0h1m12 0h2m15 0h1m8 0h1m1 0h1m7 0h4m2 0h1m1 0h1m2 0h2m1 0h1m2 0h1m1 0h1m1 0h1m5 0h1m1 0h1m11 0h1m1 0h1m2 0h2m9 0h1m1 0h2m1 0h2m2 0h2m20 0h1m8 0h1m1 0h3m5 0h1M55 2.5h3m6 0h1m5 0h1m8 0h2m8 0h1m11 0h1m5 0h1m1 0h1m8 0h1m7 0h1m6 0h1m1 0h1m6 0h2m6 0h1m12 0h1m2 0h1m4 0h1m6 0h1M63 3.5h1m1 0h3m2 0h1m4 0h1m1 0h2m3 0h3m3 0h1m14 0h1m2 0h1m4 0h1m2 0h1m3 0h1m3 0h1m4 0h2m1 0h4m10 0h1m1 0h1m1 0h1m11 0h1m4 0h3m2 0h1m4 0h1M54 4.5h1m8 0h1m1 0h1m1 0h1m5 0h1m3 0h1m8 0h1m5 0h1m7 0h1m3 0h1m2 0h1m6 0h1m2 0h1m13 0h1m3 0h1m1 0h2m16 0h1m8 0h1m2 0h1m4 0h1m3 0h1M50 5.5h1m9 0h2m7 0h1m5 0h2m1 0h1m4 0h1m1 0h1m1 0h1m1 0h1m1 0h1m3 0h1m2 0h1m7 0h1m6 0h1m6 0h1m3 0h1m4 0h1m1 0h1m3 0h1m2 0h1m1 0h1m11 0h2m11 0h1m4 0h1M61 6.5h1m3 0h1m1 0h1m2 0h2m2 0h2m6 0h1m8 0h2m5 0h3m3 0h1m25 0h1m8 0h3m9 0h1m5 0h1m1 0h1m3 0h1m12 0h2M62 7.5h2m2 0h1m2 0h4m1 0h1m37 0h1m1 0h1m4 0h1m8 0h2m2 0h1m2 0h1m3 0h1m2 0h1m2 0h1m11 0h1m3 0h1m3 0h1M52 8.5h2m10 0h1m3 0h1m1 0h1m5 0h2m1 0h1m1 0h1m3 0h1m1 0h1m5 0h1m1 0h1m2 0h1m3 0h1m3 0h1m4 0h3m11 0h1m1 0h1m4 0h2m8 0h1m1 0h2m7 0h1m1 0h1m3 0h1m1 0h1m6 0h1m1 0h3m2 0h1m7 0h1m9 0h1m1 0h2m8 0h1m8 0h1m1 0h2m1 0h1M52 9.5h1m2 0h1m14 0h1m2 0h3m2 0h2m6 0h1m15 0h1m6 0h1m1 0h1m3 0h1m1 0h1m2 0h1m2 0h1m1 0h1m1 0h1m7 0h1m2 0h1m2 0h1m16 0h4m10 0h1m5 0h1M9 11.5h1m6 0h1m4 0h1m4 0h1m11 0h2m33 0h1m25 0h1m24 0h1m5 0h1m2 0h1m34 0h1m36 0h1m6 0h1M179 12.5h1M4 13.5h1m4 0h1m3 0h1m6 0h1m4 0h1m6 0h1m8 0h1m108 0h1M49 14.5h1m51 0h1m5 0h1m35 0h1M0 15.5h1m12 0h1m11 0h1m3 0h1m18 0h2m34 0h1m4 0h1m20 0h1m3 0h1m1 0h1m4 0h1m18 0h1m20 0h1m22 0h1m22 0h1M23 16.5h1m2 0h1m21 0h1m34 0h1m14 0h1m26 0h1m33 0h1m24 0h1m1 0h2m2 0h1m1 0h1m3 0h1m7 0h1m6 0h3m3 0h1M0 17.5h1m9 0h1m3 0h2m1 0h1m1 0h2m3 0h1m4 0h1m2 0h1m1 0h1m3 0h1m3 0h1m5 0h1M4 21.5h1m14 0h1m12 0h1m4 0h1M1 23.5h2m2 0h2m1 0h1m2 0h1m17 0h1m5 0h1m2 0h1M5 26.5h1m2 0h1m13 0h1m21 0h1m1 0h2m5 0h1m2 0h1m9 0h1m1 0h1m3 0h1m18 0h1m3 0h1m1 0h1m8 0h1m2 0h1m4 0h1m13 0h1m15 0h1m9 0h1m7 0h1m3 0h1m1 0h1m3 0h1m3 0h1m1 0h1M181 27.5h1m3 0h1m3 0h2M3 29.5h1m38 0h1m8 0h1m5 0h1m1 0h1m21 0h1m3 0h1m5 0h3m8 0h1m1 0h1m2 0h1m1 0h1m11 0h1m3 0h1m2 0h5m4 0h1m29 0h1m7 0h1m3 0h1m4 0h1M1 30.5h1m1 0h1m5 0h1m13 0h2m5 0h1m11 0h1m141 0h2m1 0h1m1 0h1"/><path stroke="#b99" d="M50 1.5h1M12 2.5h1m19 0h1m132 0h1M64 3.5h1m51 0h1m35 0h1m15 0h1M63 5.5h1m13 0h1M94 6.5h1M77 7.5h1M97 8.5h1m10 0h1M146 9.5h1M70 11.5h1m15 0h1m8 0h1m39 0h1m15 0h1m18 0h1m24 0h1m12 0h1m6 0h1M61 12.5h1m2 0h1m15 0h1m19 0h1m1 0h2m3 0h1m16 0h1m8 0h1M53 13.5h1m1 0h1m28 0h1m2 0h1m26 0h1m16 0h1m3 0h1m3 0h1m13 0h1m34 0h1M52 14.5h1m11 0h1m16 0h1m21 0h1m17 0h1m12 0h1m2 0h1m19 0h1m1 0h1m3 0h1M52 15.5h1m11 0h1m5 0h2m3 0h1m51 0h2m5 0h1m46 0h2m9 0h1m3 0h1m7 0h1M53 16.5h1m2 0h1m7 0h1m43 0h1m11 0h1m56 0h1M61 17.5h1m3 0h1m15 0h1m1 0h1m28 0h1m2 0h1m5 0h2m15 0h1m1 0h1m2 0h1m3 0h1m21 0h2M15 26.5h1m19 0h1m52 0h1m21 0h1m6 0h1m9 0h1m6 0h1m16 0h1m37 0h1m4 0h1m16 0h1M179 27.5h1m7 0h1M101 29.5h1m48 0h1m11 0h1"/><path stroke="#d88" d="M54 1.5h1m38 0h1m102 0h1m6 0h1m13 0h1M50 2.5h1m11 0h1m36 0h1M162 3.5h1m13 0h1M51 4.5h1m51 0h1m15 0h1M141 5.5h1M73 6.5h1m16 0h1m23 0h1m58 0h1M129 8.5h1m43 0h1M71 9.5h1m27 0h1m74 0h1M3 11.5h1m23 0h1M86 13.5h1m49 0h1M197 15.5h1M34 23.5h1M3 26.5h1m78 0h2m23 0h1m8 0h1M119 29.5h1m19 0h1M181 30.5h1"/><path stroke="#d98" d="M55 1.5h2m9 0h2m29 0h3m31 0h1m2 0h2m14 0h2m4 0h1m9 0h1m5 0h1m20 0h1m1 0h1m4 0h1m3 0h1m8 0h2M66 2.5h1m21 0h1m1 0h1m23 0h1m2 0h1m2 0h1m7 0h1m3 0h1m11 0h1m9 0h1m14 0h1M49 3.5h1m31 0h1m3 0h1m7 0h1m11 0h1m18 0h1m28 0h1m5 0h1m11 0h1M68 4.5h2m9 0h1m8 0h1m5 0h1m1 0h1m1 0h1m3 0h1m3 0h1m3 0h1m16 0h1m13 0h1m1 0h1m2 0h1m4 0h1m8 0h1m14 0h1M51 5.5h1m4 0h1m10 0h1m6 0h1m13 0h1m15 0h1m5 0h1m7 0h1m6 0h1m1 0h1m16 0h3m16 0h1m2 0h1m1 0h1M49 6.5h1m7 0h1m8 0h1m28 0h1m11 0h1m2 0h1m10 0h1m10 0h1m2 0h1m13 0h1m4 0h1m9 0h1m9 0h1M52 7.5h1m2 0h1m5 0h1m22 0h1m6 0h1m10 0h1m15 0h1m1 0h1m16 0h2m4 0h1m2 0h1m13 0h1M72 8.5h1m9 0h2m2 0h1m1 0h1m3 0h1m7 0h1m3 0h1m2 0h1m14 0h1m5 0h1m10 0h1m7 0h1m10 0h1m8 0h1m1 0h1M49 9.5h1m1 0h1m6 0h2m1 0h1m6 0h1m21 0h2m34 0h1m1 0h1m15 0h1m3 0h1m7 0h1m6 0h1m4 0h1M1 11.5h1m2 0h1m7 0h1m1 0h1m2 0h1m7 0h1m3 0h1m14 0h1m44 0h1m10 0h1m13 0h2m15 0h1M127 12.5h1M0 13.5h1m41 0h1m21 0h1m79 0h1m31 0h1M146 14.5h1M10 15.5h1m149 0h1m5 0h1m39 0h1M182 16.5h1M9 17.5h1m25 0h1m4 0h1m2 0h1m84 0h1m28 0h1M0 23.5h1m8 0h1m2 0h1m8 0h1m3 0h1m10 0h1m6 0h1m164 0h1M1 26.5h2m11 0h1m12 0h1m23 0h1m6 0h2m16 0h1m2 0h1m19 0h1m12 0h1m23 0h1m6 0h1m21 0h1M180 27.5h1M62 29.5h3m1 0h1m3 0h1m5 0h1m1 0h1m10 0h2m6 0h1m10 0h1m1 0h2m4 0h1m5 0h1m1 0h1m10 0h1m6 0h2m4 0h1m4 0h1m6 0h2m1 0h1M10 30.5h1m9 0h1m6 0h1m10 0h1m144 0h1"/><path stroke="#c88" d="M57 1.5h1m28 0h2m1 0h1m17 0h1m29 0h1m37 0h1m30 0h1M58 2.5h1m12 0h1m4 0h1m6 0h1m8 0h1m9 0h1m10 0h1m7 0h1m40 0h1M50 3.5h1m9 0h1m28 0h1m18 0h1m6 0h1m5 0h1m1 0h1m30 0h1m17 0h1m5 0h1M56 4.5h1m1 0h1m23 0h1m8 0h1m20 0h2m12 0h1m15 0h1m19 0h1m2 0h1M82 5.5h1m74 0h1m11 0h1M50 6.5h1m27 0h1m5 0h1m2 0h1m29 0h1m20 0h1m6 0h1m1 0h1m23 0h1M59 7.5h1m43 0h1m45 0h1m18 0h1M80 8.5h1m3 0h1m14 0h1m3 0h1m10 0h1m1 0h1m1 0h1m30 0h1m2 0h1m1 0h1m5 0h1m17 0h1M53 9.5h1m26 0h1m3 0h2m1 0h1m7 0h1m1 0h1m5 0h1m9 0h1m5 0h1m16 0h1m6 0h1m20 0h1m10 0h1M28 11.5h1m7 0h1m27 0h1m14 0h1m1 0h1m2 0h2m1 0h1m10 0h1m2 0h1m2 0h1m2 0h1m2 0h1m1 0h1m4 0h1m7 0h1m3 0h1m12 0h1m16 0h1m19 0h1m9 0h1m6 0h1m5 0h1m7 0h2m6 0h1M51 12.5h1m33 0h1m24 0h1m77 0h1M35 13.5h1m26 0h1m3 0h1m9 0h1m5 0h1m7 0h1m32 0h1m6 0h1m20 0h1m20 0h1M70 14.5h1m2 0h1m22 0h1m14 0h1m41 0h1m1 0h1m5 0h2M61 15.5h2m18 0h1m16 0h1m4 0h1m3 0h1m18 0h1m4 0h1m5 0h2m9 0h1m6 0h2m5 0h1m5 0h1m4 0h1m2 0h1m2 0h1m3 0h1m3 0h1m5 0h2m7 0h2m8 0h1m3 0h1M52 16.5h1m6 0h1m1 0h1m6 0h1m6 0h1m4 0h1m10 0h1m1 0h1m1 0h1m3 0h1m1 0h1m3 0h2m10 0h2m8 0h1m2 0h1m7 0h1m15 0h1m3 0h1m10 0h1m3 0h1m11 0h1m2 0h1m6 0h1m12 0h1m9 0h1M13 17.5h1m2 0h1m53 0h1m19 0h1m10 0h1m4 0h1m13 0h1m13 0h1m21 0h1m19 0h1M14 23.5h1m32 0h1M0 26.5h1m3 0h1m1 0h1m4 0h1m5 0h1m2 0h1m3 0h1m13 0h4m21 0h3m1 0h1m10 0h1m19 0h1m4 0h2m3 0h1m2 0h1m6 0h1m14 0h1m1 0h1m2 0h1m16 0h1m4 0h1m14 0h1M184 27.5h1M52 29.5h1m12 0h1m2 0h1m6 0h1m19 0h1m2 0h1m60 0h1"/><path stroke="#b88" d="M61 1.5h1m1 0h1m16 0h1m21 0h1m1 0h1m19 0h1m11 0h1m5 0h1M11 2.5h1m22 0h1m17 0h1m7 0h1m26 0h1m5 0h1m14 0h1m18 0h1m25 0h1m20 0h1M54 3.5h1m1 0h1m1 0h1m3 0h1m5 0h1m3 0h1m1 0h1m19 0h1m3 0h2m1 0h1m10 0h1m6 0h1m21 0h2m8 0h1m3 0h2m4 0h1m11 0h1M61 4.5h1m83 0h1m1 0h1m4 0h1M65 5.5h1m6 0h1m35 0h1m10 0h1M60 6.5h1m3 0h1m61 0h2m5 0h1m2 0h1m6 0h1m14 0h1M53 7.5h1m3 0h1m2 0h1m21 0h1m17 0h1m9 0h1m52 0h1M50 8.5h1m4 0h1m7 0h1m1 0h1m1 0h1m1 0h1m4 0h1m19 0h1m15 0h1m4 0h1m3 0h1m1 0h1m40 0h1m11 0h1M50 9.5h1m9 0h1m2 0h1m8 0h1m4 0h1m10 0h2m3 0h1m13 0h1m4 0h1m1 0h1m1 0h1m1 0h1m11 0h1m18 0h3m2 0h1m7 0h1m8 0h1M43 11.5h1m7 0h1m3 0h2m1 0h1m3 0h1m5 0h1m2 0h1m2 0h1m1 0h1m16 0h1m14 0h1m10 0h1m7 0h1m16 0h2m9 0h1m2 0h1m1 0h1m5 0h1m9 0h2m4 0h1m18 0h1m14 0h1m2 0h1M50 12.5h1m7 0h1m7 0h2m13 0h1m15 0h1m1 0h1m9 0h1m20 0h1m6 0h2m3 0h1m6 0h2m5 0h1m2 0h1m12 0h2m7 0h2m2 0h2m4 0h1M73 13.5h1m3 0h1m1 0h1m1 0h1m18 0h2m5 0h1m5 0h1m10 0h1m3 0h1m3 0h1m7 0h2m4 0h1m10 0h1m4 0h1m3 0h1M58 14.5h1m13 0h1m2 0h1m1 0h1m7 0h1m1 0h2m4 0h1m1 0h1m14 0h1m3 0h1m8 0h1m1 0h1m6 0h1m14 0h2m16 0h1m6 0h1m2 0h1M56 15.5h1m2 0h1m3 0h1m9 0h1m2 0h1m1 0h2m6 0h1m1 0h1m1 0h2m3 0h1m8 0h2m2 0h1m2 0h1m6 0h1m1 0h1m3 0h1m10 0h2m2 0h1m5 0h1m4 0h2m1 0h1m9 0h1m1 0h1m1 0h1m1 0h1m2 0h1m4 0h2m1 0h1m8 0h1m5 0h1m3 0h1m13 0h2m4 0h1M49 16.5h1m7 0h2m3 0h1m6 0h2m6 0h2m5 0h1m3 0h1m7 0h2m4 0h1m13 0h1m9 0h1m4 0h1m4 0h1m7 0h1m7 0h1m4 0h1m4 0h1m18 0h1m1 0h1m23 0h1M36 17.5h1m12 0h1m4 0h1m3 0h1m4 0h1m10 0h1m5 0h1m3 0h1m13 0h1m15 0h1m3 0h1m4 0h1m1 0h1m1 0h1m5 0h1m15 0h1m5 0h1m6 0h1m1 0h1m7 0h3M15 23.5h1M10 26.5h1m1 0h2m18 0h1m9 0h1m9 0h1m8 0h1m27 0h1m25 0h1m6 0h2m8 0h1m17 0h1m5 0h1m1 0h1m5 0h1m9 0h1m2 0h1m6 0h2m4 0h1m1 0h1m4 0h1m17 0h1M183 27.5h1M69 29.5h1m12 0h1m40 0h1m3 0h1m5 0h1m18 0h1m13 0h1m7 0h1m11 0h1m1 0h4M179 30.5h1m11 0h1"/><path stroke="#b77" d="M64 1.5h1m80 0h1M51 3.5h1m97 0h1M159 4.5h1m13 0h1M147 7.5h1M57 9.5h1m9 0h1m28 0h1m11 0h1m23 0h1m32 0h1M96 11.5h1m75 0h1M93 12.5h1M105 13.5h1M71 14.5h1m61 0h1M109 15.5h1m54 0h1m9 0h1M76 16.5h1m132 0h1M88 17.5h1m2 0h1M39 23.5h1M19 26.5h1m3 0h1m10 0h1m95 0h1m86 0h1M126 29.5h1m58 0h1M190 30.5h1"/><path stroke="#c99" d="M65 1.5h1m40 0h1m13 0h1M85 2.5h1M140 3.5h1m2 0h1M50 4.5h1m82 0h1M52 5.5h1m28 0h1M58 8.5h1M65 9.5h1m28 0h1M53 11.5h1m94 0h1m34 0h1M53 12.5h1m129 0h1M59 13.5h1m25 0h1m40 0h1M74 14.5h1M85 15.5h1m89 0h1M79 16.5h1m1 0h1m63 0h1M95 17.5h1M42 23.5h1M26 26.5h1m86 0h1m25 0h1"/><path stroke="#c87" d="M69 1.5h1m4 0h1m13 0h1m2 0h1m18 0h1m4 0h1m5 0h1m5 0h1m21 0h1m9 0h1m3 0h1m3 0h1m26 0h1m2 0h1m3 0h1m14 0h1M75 2.5h1m15 0h1m2 0h1m8 0h1m2 0h1m3 0h1m11 0h2m1 0h1m3 0h1m9 0h2m4 0h1M52 3.5h2m7 0h1m9 0h1m4 0h1m9 0h1m9 0h1m5 0h1m4 0h1m9 0h1m11 0h1m4 0h1m2 0h2m11 0h1m6 0h1M64 4.5h1m15 0h1m18 0h1m11 0h1m3 0h1m9 0h1m44 0h1m7 0h1M58 5.5h2m2 0h1m1 0h1m1 0h1m1 0h1m24 0h2m8 0h1m1 0h1m1 0h1m4 0h1m8 0h1m6 0h1m3 0h2m8 0h1m4 0h1m6 0h1m9 0h1m2 0h1m3 0h2m2 0h1M52 6.5h1m3 0h1m2 0h1m9 0h1m42 0h2m6 0h1m3 0h2m2 0h1m2 0h1m12 0h1m15 0h1m7 0h1m3 0h1M54 7.5h1m31 0h1m3 0h1m3 0h1m3 0h2m1 0h1m24 0h1m6 0h2m24 0h1m2 0h1m11 0h1M51 8.5h1m4 0h1m5 0h1m8 0h1m1 0h1m1 0h1m2 0h1m10 0h3m25 0h1m12 0h1m4 0h2m1 0h1m7 0h1m4 0h1m4 0h1m6 0h2m11 0h1M54 9.5h1m1 0h1m5 0h1m1 0h1m35 0h1m3 0h1m1 0h1m3 0h1m11 0h1m8 0h1m21 0h1m23 0h1M184 11.5h1m24 0h1m3 0h1M70 12.5h1m6 0h1m12 0h1m31 0h1m35 0h1m21 0h1m3 0h1m5 0h1M111 13.5h1m36 0h1m24 0h1M130 14.5h1M51 15.5h1m2 0h1m19 0h1m38 0h1m16 0h1m15 0h1m2 0h1m9 0h1m10 0h1m17 0h1m28 0h1M113 16.5h1m14 0h1m41 0h1m8 0h1m9 0h1m1 0h1m1 0h2m2 0h2m1 0h1m1 0h2m2 0h1M11 17.5h1m11 0h1m21 0h1m98 0h1M20 23.5h1m12 0h1m3 0h1M7 26.5h1m10 0h1m12 0h1m5 0h1m7 0h1m4 0h1m3 0h1m15 0h1m4 0h1m1 0h1m3 0h1m4 0h2m2 0h1m2 0h1m7 0h1m17 0h1m20 0h2m5 0h1m4 0h1m6 0h1m1 0h1m9 0h1M188 27.5h1M71 29.5h1m1 0h2m8 0h1m4 0h1m10 0h1m5 0h2m5 0h2m24 0h1m1 0h2m5 0h1m7 0h1m1 0h1m7 0h1m3 0h5M180 30.5h1"/><path stroke="#c98" d="M71 1.5h1m1 0h1m4 0h1m4 0h1m21 0h1m3 0h1m16 0h1m14 0h1M63 2.5h1m4 0h1m13 0h1m29 0h1m3 0h1m30 0h1m4 0h1M55 3.5h1m31 0h1m2 0h1m1 0h1m7 0h1m8 0h1m10 0h1m42 0h1m5 0h1m4 0h1M153 4.5h1M143 5.5h1m5 0h1m10 0h1M55 6.5h1m2 0h1m44 0h1m4 0h1m6 0h2m44 0h1m3 0h1m4 0h1M107 7.5h1m17 0h1m1 0h1m25 0h1m10 0h1M60 8.5h1m76 0h1m2 0h1m2 0h1m22 0h1M76 9.5h1m4 0h1m10 0h1m36 0h1m4 0h1m10 0h1m9 0h1m14 0h1m2 0h1M33 11.5h1m27 0h1m4 0h1m8 0h1m30 0h1m15 0h1m15 0h1m61 0h1M92 12.5h1m13 0h1m16 0h1m24 0h1m29 0h1m8 0h1M70 13.5h2m17 0h1m19 0h1m12 0h1m22 0h1m12 0h1M76 14.5h1m7 0h1m1 0h1m5 0h1m35 0h1m6 0h1M58 15.5h1m10 0h1m30 0h1m21 0h1m9 0h1m8 0h1m12 0h1m54 0h2m4 0h1m2 0h1M71 16.5h1m28 0h1m11 0h1m27 0h2m7 0h1m21 0h1m8 0h1m18 0h1m10 0h1m5 0h1M66 17.5h1m19 0h1m13 0h1m3 0h1m25 0h1m27 0h1M24 23.5h1M16 26.5h1m26 0h1m27 0h1m1 0h2m5 0h1m3 0h2m8 0h1m1 0h1m3 0h1m1 0h1m2 0h1m20 0h1m2 0h1m12 0h1m2 0h2m2 0h1m7 0h1m9 0h1m1 0h1m3 0h1M182 27.5h1M50 29.5h1m9 0h2m10 0h1m76 0h1m14 0h1M186 30.5h1m1 0h1"/><path stroke="#a88" d="M77 1.5h1m18 0h1m49 0h1m22 0h1M4 2.5h1m22 0h1m5 0h1m13 0h1M79 3.5h1m65 0h1m1 0h1m16 0h1M142 6.5h1M50 7.5h1M120 8.5h1m27 0h1M121 9.5h1m11 0h1m5 0h1m7 0h1M65 11.5h1m12 0h1m9 0h1m24 0h1m18 0h1m10 0h1m8 0h1m1 0h1m6 0h1m3 0h1m3 0h1m5 0h1m4 0h1m25 0h1M55 12.5h1m1 0h1m13 0h1m1 0h1m10 0h1m11 0h1m47 0h1m8 0h2m2 0h1m5 0h2m1 0h1m1 0h1m7 0h1m12 0h1M51 13.5h1m2 0h1m33 0h1m3 0h1m1 0h1m3 0h2m3 0h1m4 0h1m46 0h2m7 0h1m10 0h1M53 14.5h1m3 0h1m10 0h2m9 0h1m9 0h1m7 0h1m8 0h1m1 0h1m7 0h1m3 0h1m20 0h1m32 0h1M101 15.5h1m13 0h1m1 0h1m82 0h1m7 0h1m2 0h1M86 16.5h1m2 0h1m21 0h1m7 0h1m30 0h1m10 0h1M52 17.5h1m16 0h1m19 0h1m3 0h1m2 0h1m8 0h1m2 0h1m26 0h2m2 0h1m1 0h1m8 0h1m8 0h1m1 0h1m15 0h1M57 26.5h1m67 0h1m37 0h1m18 0h1m4 0h1m12 0h1m12 0h2M186 27.5h1M94 29.5h1m8 0h1m78 0h1M210 32.5h1m4 0h1"/><path stroke="#d86" d="M79 1.5h1m14 0h2m4 0h1M59 2.5h1m38 0h1M135 3.5h1M74 4.5h1m47 0h1m31 0h1m11 0h1m7 0h1M55 5.5h1m81 0h1m40 0h1M68 6.5h1m12 0h1m23 0h1m16 0h1m25 0h1M64 7.5h1m3 0h1m11 0h1m11 0h1m11 0h1M66 8.5h1m56 0h1M205 16.5h1M28 23.5h1M49 26.5h1M40 29.5h1m15 0h1m101 0h1"/><path stroke="#a89" d="M82 1.5h1m1 0h1M22 2.5h2m1 0h1m3 0h1m6 0h1m87 0h1m6 0h1M126 5.5h1M117 7.5h1M98 9.5h1M59 11.5h1m45 0h1m5 0h1m6 0h1m2 0h1m4 0h1m14 0h1m25 0h1m3 0h1m13 0h1m13 0h1m14 0h1M52 12.5h1m10 0h1m4 0h1m20 0h1m15 0h1m15 0h1m6 0h2m2 0h1m10 0h1m2 0h1M50 13.5h1m6 0h1m2 0h1m2 0h1m32 0h1m5 0h1m9 0h1m7 0h2m7 0h1m17 0h1m4 0h1m6 0h1m17 0h1M78 14.5h1m1 0h1m9 0h1m9 0h1m1 0h1m1 0h1m4 0h1m3 0h1m5 0h1m4 0h1m45 0h1M57 15.5h1m8 0h1m5 0h1m10 0h1m12 0h1m2 0h1m19 0h1m9 0h1m3 0h1m18 0h1m4 0h1m27 0h1m15 0h1M50 16.5h1m3 0h1m5 0h1m4 0h1m16 0h1m4 0h1m2 0h1m18 0h1m5 0h1m16 0h1m4 0h1m13 0h1m1 0h1m1 0h1m4 0h1m5 0h1M60 17.5h1m10 0h1m3 0h1m3 0h1m7 0h1m9 0h1m11 0h1m6 0h2m1 0h1m4 0h1m4 0h1m2 0h1m9 0h1m28 0h1m3 0h1M9 26.5h1m23 0h1m2 0h1m142 0h1m26 0h1M181 29.5h1m1 0h1m3 0h1M217 32.5h1"/><path stroke="#c77" d="M85 1.5h1m58 0h1m2 0h1M59 3.5h1M93 4.5h1m3 0h1m65 0h1m5 0h1M90 5.5h1m24 0h1M62 6.5h1m26 0h1m29 0h1m3 0h1M73 7.5h1m78 0h1M101 8.5h1m24 0h1m38 0h1M66 9.5h1m15 0h1m93 0h1M19 11.5h1m171 0h1M191 15.5h1M201 16.5h1M167 17.5h1M182 30.5h1"/><path stroke="#b87" d="M90 1.5h1m62 0h1m8 0h1M91 3.5h1m3 0h1m14 0h1m25 0h1M71 4.5h1m9 0h1m57 0h1M80 5.5h1m20 0h1m21 0h1m15 0h1m11 0h1m10 0h1M63 6.5h1m98 0h1M65 7.5h1m58 0h1m25 0h1M54 8.5h1m2 0h1M13 11.5h1m122 0h1m20 0h1M162 12.5h1M127 14.5h1m10 0h1m27 0h1M186 15.5h1M104 16.5h1m18 0h1m11 0h1m28 0h1m54 0h1M27 17.5h1m28 0h1m97 0h1M60 26.5h1m63 0h1M84 29.5h1"/><path stroke="#b98" d="M116 1.5h1M14 2.5h1M125 3.5h1M83 9.5h1m17 0h1m67 0h1M72 11.5h1m4 0h1m139 0h1M51 14.5h1M60 15.5h1m129 0h1M168 16.5h1m5 0h1m1 0h1M62 26.5h1m74 0h1M191 27.5h1"/><path stroke="#d76" d="M118 1.5h1M69 2.5h1m103 0h1M97 3.5h1M52 4.5h1m70 0h1m91 0h1M70 5.5h1m140 0h1M53 6.5h1m43 0h1M155 7.5h1M150 8.5h1M157 9.5h1M214 12.5h1M47 16.5h1m167 0h1M1 17.5h1m23 0h1m13 0h1M28 26.5h2M35 29.5h1"/><path stroke="#a99" d="M143 1.5h1M0 2.5h1m9 0h1m5 0h1m1 0h1m7 0h1m13 0h1m5 0h1M139 3.5h1M18 9.5h1M50 11.5h1m32 0h1m32 0h1m11 0h1m5 0h1m12 0h1m2 0h1m13 0h1m27 0h1m4 0h1M74 12.5h1m4 0h1m6 0h1m4 0h1m12 0h1m6 0h1m27 0h1m7 0h1m7 0h1m4 0h1m16 0h1M52 13.5h1m15 0h1m11 0h1m36 0h1M55 14.5h2m9 0h1m82 0h1m28 0h1M50 15.5h1m17 0h1m28 0h1m44 0h1m55 0h1M73 16.5h1m18 0h1m29 0h1m16 0h1m7 0h2m7 0h1m6 0h1M55 17.5h1m3 0h1m50 0h1m20 0h1m36 0h1M48 26.5h1m104 0h1m47 0h1m8 0h1M202 32.5h1"/><path stroke="#989" d="M164 1.5h1M7 2.5h3m18 0h1m12 0h2m2 0h1m2 0h1M137 9.5h1M52 11.5h1m1 0h1m12 0h1m14 0h1m7 0h1m1 0h1m44 0h1m2 0h1m33 0h1m6 0h1m6 0h1m4 0h2m9 0h1M49 12.5h1m6 0h1m2 0h2m8 0h1m18 0h1m6 0h1m2 0h1m14 0h2m3 0h1m6 0h2m7 0h1m1 0h1m4 0h1m9 0h1m17 0h2M58 13.5h1m32 0h1m3 0h1m10 0h1m3 0h1m4 0h2m16 0h1m9 0h1m17 0h1m1 0h1m1 0h1m2 0h1m10 0h1m9 0h1M59 14.5h1m22 0h2m42 0h1m4 0h1m7 0h1m12 0h1m1 0h1m3 0h1m1 0h1m8 0h1m7 0h1M65 15.5h1m14 0h1m11 0h1m1 0h1m30 0h1m45 0h1M66 16.5h1m5 0h1m34 0h1m13 0h1m20 0h2m28 0h1m2 0h1M72 17.5h1m12 0h1m6 0h1m6 0h1m7 0h1m5 0h1m12 0h1m18 0h1m14 0h1m4 0h1M180 26.5h1m2 0h1m4 0h1m2 0h1m1 0h1m4 0h1m5 0h1m2 0h1m8 0h1M180 29.5h1"/><path stroke="#a78" d="M165 1.5h1M124 8.5h1M49 11.5h1m10 0h1m2 0h1m5 0h1m116 0h1M131 12.5h1m35 0h1M49 13.5h1m54 0h1m13 0h1M61 14.5h1m55 0h1M77 15.5h1m80 0h1M111 17.5h1M30 26.5h1m24 0h1"/><path stroke="#988" d="M1 2.5h1m3 0h1m31 0h1M57 3.5h1m68 0h1M91 11.5h1m11 0h1m19 0h1m32 0h1m30 0h1M75 12.5h1m32 0h1m52 0h1M93 13.5h1m55 0h1m20 0h1M54 14.5h1m44 0h1m50 0h1m13 0h1M67 15.5h1M55 16.5h1m47 0h1m63 0h1M51 17.5h1m1 0h1m94 0h1"/><path stroke="#99a" d="M2 2.5h1m12 0h1m15 0h1M38 6.5h1M5 7.5h1m5 0h1M6 8.5h1m19 0h1M20 9.5h1m1 0h1m24 0h1M94 11.5h1m14 0h1m43 0h1m53 0h1M54 12.5h1m60 0h1m4 0h1m24 0h1M56 13.5h1m10 0h1m6 0h1m44 0h1m40 0h1m10 0h1m12 0h1M62 14.5h1m35 0h1m16 0h1m13 0h1m26 0h1M102 15.5h1M74 16.5h1M77 17.5h1m4 0h1m69 0h2M186 26.5h1M192 28.5h2m13 0h1m3 0h1m2 0h1m3 0h1M213 32.5h1"/><path stroke="#879" d="M3 2.5h1m40 0h1M80 11.5h1m58 0h1M174 12.5h1M61 13.5h1m13 0h1m7 0h1m50 0h1M133 16.5h1M209 26.5h1m2 0h1"/><path stroke="#999" d="M6 2.5h1M136 14.5h1m34 0h1M112 15.5h1M94 16.5h1m39 0h1M202 26.5h1M214 32.5h1"/><path stroke="#88a" d="M13 2.5h1m5 0h1m18 0h1M7 6.5h1M6 9.5h2m21 0h1M163 11.5h1M178 13.5h1m3 0h1m4 0h1M65 14.5h1m28 0h1m17 0h1m29 0h1M93 15.5h1M129 16.5h1M68 17.5h1m33 0h1M189 25.5h1M196 26.5h1m6 0h1m14 0h1M216 32.5h1m2 0h1"/><path stroke="#878" d="M17 2.5h1M82 12.5h1m52 0h1m29 0h1M167 14.5h1M82 15.5h1m60 0h1m3 0h1M85 16.5h1M151 17.5h1m11 0h1M201 31.5h1M204 32.5h2"/><path stroke="#89b" d="M20 2.5h1M41 6.5h1m6 0h1M7 7.5h1m2 0h1m6 0h1m18 0h1m2 0h2m6 0h1M0 8.5h1m21 0h1m19 0h1M0 9.5h2m1 0h1m15 0h1m6 0h2m14 0h1M196 28.5h1m4 0h1m4 0h1m10 0h1M212 32.5h1"/><path stroke="#889" d="M21 2.5h1m2 0h1m10 0h1m3 0h1m3 0h1M57 11.5h1M87 12.5h1m24 0h1m3 0h2m1 0h1m51 0h1M65 13.5h1m31 0h1m27 0h1m12 0h1M60 14.5h1m83 0h1M87 15.5h1M67 16.5h1m46 0h1M50 17.5h1m6 0h1m45 0h1M181 26.5h1m26 0h1M207 29.5h1m1 0h1M209 32.5h1"/><path stroke="#78a" d="M30 2.5h1M11 6.5h1m14 0h1m1 0h1m4 0h1M12 9.5h1M181 13.5h1m3 0h2M186 24.5h1M195 26.5h1m9 0h1M198 29.5h1m1 0h1m1 0h1m1 0h1m1 0h1m3 0h1m3 0h1m1 0h1M199 30.5h1m18 0h1M195 32.5h2m14 0h1"/><path stroke="#c76" d="M65 2.5h1M76 4.5h1M192 8.5h1M49 29.5h1"/><path stroke="#ca9" d="M170 2.5h1M156 6.5h1M102 11.5h1M25 26.5h1"/><path stroke="#fba" d="M182 2.5h1m4 0h1M188 10.5h1M1 12.5h1m11 0h1m5 0h1m5 0h1m14 0h1m1 0h1M19 14.5h1m15 0h2m150 0h1M186 17.5h1M56 18.5h1m1 0h1m5 0h2m6 0h2m1 0h1m14 0h1m15 0h2m2 0h2m3 0h2m7 0h1m3 0h1m2 0h2m4 0h1m2 0h1m4 0h2m3 0h1m9 0h2m4 0h2m2 0h1m1 0h1m1 0h1m3 0h1M49 22.5h1m5 0h1m2 0h1m3 0h1m1 0h2m2 0h1m1 0h5m2 0h2m6 0h1m2 0h1m1 0h1m5 0h1m1 0h2m5 0h1m1 0h2m2 0h1m3 0h1m3 0h1m1 0h6m2 0h3m1 0h1m4 0h1m2 0h1m1 0h2m2 0h1m2 0h3m3 0h2m4 0h3m1 0h2m7 0h1M1 25.5h1m2 0h3m9 0h1m2 0h1m4 0h1m1 0h1m4 0h1m2 0h1m2 0h1m1 0h1m4 0h2m3 0h1m4 0h1m1 0h2m1 0h1m2 0h3m2 0h2m2 0h2m1 0h1m4 0h1m3 0h1m2 0h1m6 0h1m4 0h2m2 0h1m1 0h1m1 0h1m1 0h1m2 0h1m2 0h1m4 0h1m7 0h1m2 0h2m3 0h1m4 0h2m1 0h1m6 0h1m1 0h1m11 0h1m1 0h1m1 0h1m3 0h1m1 0h1m3 0h1M0 27.5h2m1 0h1m5 0h1m3 0h1m1 0h2m4 0h2m2 0h2m5 0h3m4 0h1m2 0h1m1 0h1m13 0h1m5 0h1m8 0h1m1 0h1m1 0h1m23 0h1m15 0h1m1 0h2m14 0h1m1 0h2m7 0h2m2 0h1m1 0h1m8 0h1m3 0h2m3 0h1M179 28.5h1m8 0h1M50 30.5h1m3 0h1m6 0h1m7 0h1m2 0h1m5 0h1m1 0h1m4 0h1m4 0h1m7 0h1m10 0h1m14 0h1m1 0h1m12 0h1m2 0h1m7 0h1m2 0h1m20 0h1M180 31.5h1m2 0h1m5 0h3M179 32.5h1m1 0h2m2 0h2m1 0h1m1 0h1"/><path stroke="#8ac" d="M17 3.5h1m2 0h1M1 6.5h1m2 0h1m8 0h1m25 0h1M9 7.5h1m3 0h1m1 0h1m9 0h1m6 0h1m2 0h1M1 8.5h1m2 0h1m4 0h1m9 0h1m1 0h1m3 0h1m4 0h2m1 0h1m12 0h1M21 9.5h1m21 0h1M216 28.5h1"/><path stroke="#a77" d="M69 3.5h1M120 11.5h1m41 0h1m10 0h1m16 0h1m7 0h1M63 14.5h1m3 0h1m100 0h1M53 15.5h1M51 16.5h1M73 17.5h1"/><path stroke="#d97" d="M73 3.5h1m6 0h1m23 0h1m8 0h1m44 0h1m18 0h1M87 4.5h1m1 0h1M85 6.5h1M69 9.5h1m35 0h1m18 0h1m15 0h1m1 0h1m9 0h1m13 0h2M106 15.5h1M45 16.5h1M8 17.5h1M30 23.5h1M120 26.5h1m27 0h1m21 0h1M32 30.5h1m12 0h1"/><path stroke="#d64" d="M179 3.5h1"/><path stroke="#d65" d="M180 3.5h2m1 0h6m1 0h1m1 0h2m3 0h3m1 0h1m1 0h1m1 0h1m1 0h2m1 0h1m2 0h5m1 0h1M179 4.5h1m18 0h1m2 0h1m5 0h1m9 0h1M198 5.5h1M180 7.5h4m1 0h4m1 0h2M200 12.5h1m11 0h1m4 0h1M194 21.5h1m1 0h1m1 0h4m4 0h1m2 0h1m2 0h1m1 0h5"/><path stroke="#e75" d="M182 3.5h1M180 4.5h3m1 0h1m1 0h1m3 0h2m1 0h2m7 0h1m10 0h1m5 0h1M196 12.5h1m10 0h1m10 0h1M203 13.5h1m2 0h1m2 0h1M195 21.5h1m1 0h1m4 0h1"/><path stroke="#d54" d="M189 3.5h1m1 0h1m2 0h1m5 0h1m1 0h1m8 0h1m6 0h1M179 7.5h1m4 0h1m4 0h1"/><path stroke="#d75" d="M196 3.5h1M200 4.5h1m15 0h1M206 12.5h1M202 13.5h1m11 0h1M193 21.5h1m17 0h1m7 0h1"/><path stroke="#d55" d="M204 3.5h1m1 0h1"/><path stroke="#e65" d="M209 3.5h1"/><path stroke="#69b" d="M40 4.5h1M37 7.5h1M36 8.5h1M28 9.5h1"/><path stroke="#e86" d="M128 4.5h1m66 0h1m12 0h1m2 0h2M179 5.5h2m1 0h1m3 0h1m1 0h4m3 0h3m1 0h1m1 0h1m3 0h1m2 0h2m2 0h1m1 0h1M111 7.5h1m89 0h1M180 8.5h1m5 0h1m1 0h1m1 0h1m6 0h1m2 0h1M194 9.5h1m13 0h2m2 0h1m4 0h1m1 0h1M81 10.5h1M18 11.5h1M192 12.5h1m2 0h1m9 0h1m2 0h1m2 0h1m3 0h1M1 13.5h1m3 0h2m1 0h1m1 0h1m10 0h1m5 0h1m1 0h1m3 0h1m13 0h2m143 0h1m4 0h1m2 0h1m10 0h1M3 15.5h1m4 0h1m5 0h1m2 0h1m3 0h1m1 0h1m4 0h1m5 0h1m3 0h1m7 0h2M3 16.5h1m5 0h1m4 0h1m9 0h1m6 0h1m1 0h1m4 0h2M2 17.5h1m27 0h2m9 0h1m5 0h1M1 21.5h3m2 0h1m1 0h1m1 0h1m1 0h1m9 0h1m1 0h4m1 0h1m5 0h1m2 0h3m6 0h1M26 23.5h1m166 0h3m3 0h2m1 0h1m2 0h3m1 0h1m1 0h1m1 0h1m1 0h2m1 0h2M0 29.5h1m1 0h1m2 0h2m1 0h2m1 0h1m2 0h1m1 0h4m1 0h1m1 0h1m3 0h1m6 0h1m2 0h1m3 0h1m2 0h1m2 0h2M6 30.5h1m26 0h1m12 0h1"/><path stroke="#47a" d="M4 5.5h1m14 0h1m3 0h1m11 0h1m2 0h1M18 10.5h1m9 0h1M179 20.5h2m5 0h1m3 0h1M188 21.5h1M180 24.5h1m1 0h1m2 0h1m1 0h1m2 0h1M179 25.5h2m1 0h1M206 30.5h1m1 0h1m3 0h1M205 31.5h1"/><path stroke="#47b" d="M6 5.5h1m2 0h1m1 0h1m1 0h1m13 0h1m3 0h2m1 0h1m2 0h1m5 0h1m3 0h1M181 21.5h1m2 0h1M189 24.5h1M185 25.5h1"/><path stroke="#da8" d="M148 5.5h1"/><path stroke="#99b" d="M2 6.5h1m17 0h1m1 0h1M3 7.5h1m10 0h1m3 0h1M18 8.5h1m4 0h1m17 0h1M2 9.5h1m7 0h1m3 0h1"/><path stroke="#8ab" d="M3 6.5h1m15 0h1m3 0h1m7 0h1M44 7.5h1M24 8.5h1m15 0h1M9 9.5h1m3 0h1m17 0h2M194 28.5h1m13 0h2"/><path stroke="#aab" d="M5 6.5h1M12 8.5h1m25 0h1M195 28.5h1m14 0h1m1 0h2m1 0h1"/><path stroke="#9ab" d="M6 6.5h1m11 0h1m15 0h1m11 0h2M8 7.5h1m3 0h1m8 0h1m6 0h1m4 0h1m12 0h1M7 8.5h1m40 0h1M30 9.5h1m3 0h1m2 0h1m1 0h1M197 28.5h1m2 0h1m18 0h1"/><path stroke="#a9a" d="M8 6.5h1m7 0h1M46 9.5h1M146 11.5h1M140 12.5h1m34 0h1M127 13.5h1m9 0h1m31 0h1m20 0h1M140 14.5h1m4 0h1M55 15.5h1m149 0h1M63 16.5h1M64 17.5h1M219 26.5h1"/><path stroke="#79c" d="M9 6.5h2m24 0h2M16 7.5h1m2 0h1m23 0h1m4 0h1M8 8.5h1m20 0h1m4 0h1m9 0h1"/><path stroke="#78b" d="M12 6.5h1M27 7.5h1M25 9.5h1m14 0h1"/><path stroke="#89a" d="M14 6.5h1m25 0h1M20 7.5h1m8 0h1M5 9.5h1M191 13.5h1M198 28.5h1M194 29.5h1m8 0h1"/><path stroke="#79b" d="M17 6.5h1m6 0h2m3 0h2m6 0h1m4 0h3M1 7.5h1m22 0h1m5 0h1m10 0h1M3 8.5h1m9 0h2m2 0h1m27 0h1m1 0h1M4 9.5h1m3 0h1m2 0h1m11 0h1m9 0h1m4 0h1m5 0h2m2 0h1M187 25.5h1M199 28.5h1m2 0h1m1 0h2M192 29.5h1m24 0h1"/><path stroke="#9ac" d="M27 6.5h1M23 7.5h1m21 0h1M2 8.5h1m13 0h1m10 0h2M82 21.5h1"/><path stroke="#79a" d="M45 6.5h1M17 9.5h1M50 14.5h1"/><path stroke="#68a" d="M2 7.5h1M41 9.5h1M183 13.5h1M186 25.5h1M193 29.5h1m2 0h1m4 0h1m17 0h1M200 30.5h1M194 31.5h1m1 0h1M194 32.5h1m8 0h1"/><path stroke="#68b" d="M42 7.5h1M15 9.5h1m8 0h1"/><path stroke="#9bc" d="M5 8.5h1m29 0h1M138 21.5h1"/><path stroke="#abc" d="M10 8.5h1M65 21.5h1M60 23.5h1m51 0h1m51 0h1"/><path stroke="#abb" d="M11 8.5h1m3 0h1"/><path stroke="#d77" d="M185 8.5h1M34 13.5h1"/><path stroke="#258" d="M45 10.5h1M181 19.5h1m5 0h2"/><path stroke="#da9" d="M47 11.5h1"/><path stroke="#b9a" d="M97 11.5h1M173 14.5h1"/><path stroke="#978" d="M149 11.5h1m53 0h1M62 12.5h1m13 0h1m1 0h1m4 0h1m17 0h1m50 0h1M78 13.5h1m63 0h1m11 0h1M91 14.5h1m13 0h1m12 0h1m3 0h1m28 0h1m24 0h1M123 15.5h1M178 16.5h1M76 17.5h1m17 0h1m42 0h1m8 0h1m19 0h1m11 0h1M199 26.5h1M218 32.5h1"/><path stroke="#789" d="M178 11.5h1M174 13.5h1M165 16.5h1M62 17.5h1m15 0h1M212 29.5h1m2 0h1m2 0h1M193 32.5h1m6 0h1m7 0h1"/><path stroke="#eba" d="M21 12.5h1m5 0h1m2 0h1m6 0h1m3 0h1m5 0h1M1 14.5h1m12 0h1m8 0h1m158 0h1m30 0h1M180 17.5h3m7 0h2m8 0h1m5 0h1m1 0h1M51 18.5h1m3 0h1m1 0h1m4 0h2m2 0h1m2 0h2m9 0h1m2 0h1m1 0h2m1 0h1m4 0h1m4 0h2m8 0h1m4 0h1m4 0h2m3 0h1m5 0h1m5 0h1m6 0h1m6 0h1m1 0h1m1 0h1m2 0h1m2 0h1m3 0h1M106 22.5h1m63 0h1M9 25.5h1m1 0h1m1 0h1m4 0h1m1 0h2m3 0h1m1 0h1m5 0h1m9 0h1m3 0h1m2 0h2m9 0h1m14 0h2m4 0h1m5 0h1m36 0h1m6 0h1m4 0h1m9 0h2m6 0h3m2 0h1m2 0h1m1 0h1M17 27.5h1m5 0h1m5 0h1m22 0h1m38 0h1m2 0h1m12 0h1m2 0h1m12 0h1m4 0h1m12 0h3m9 0h1m10 0h1m4 0h1m1 0h1m1 0h1M182 28.5h1m3 0h1m4 0h1M86 30.5h1m2 0h1m4 0h1m1 0h1m10 0h2m4 0h1m1 0h2m12 0h1m13 0h1m12 0h1m14 0h1m3 0h1m1 0h1"/><path stroke="#779" d="M65 12.5h1m6 0h1m21 0h1M69 13.5h1M124 16.5h1M191 24.5h1M184 25.5h1M198 30.5h1m15 0h1M210 31.5h1M197 32.5h1m3 0h1"/><path stroke="#b89" d="M72 13.5h1m94 0h1M110 16.5h1M69 26.5h1m22 0h1m28 0h1"/><path stroke="#67a" d="M180 13.5h1M194 30.5h1M207 32.5h1"/><path stroke="#b78" d="M144 15.5h1M146 16.5h1"/><path stroke="#baa" d="M67 17.5h1"/><path stroke="#eca" d="M50 18.5h1m20 0h1m6 0h2m2 0h1m34 0h1m44 0h1M177 22.5h1M10 25.5h1m1 0h1m87 0h1m41 0h1m6 0h1m1 0h1M78 27.5h1m36 0h1m46 0h1M82 30.5h1M185 31.5h1"/><path stroke="#fca" d="M54 18.5h1m4 0h1m1 0h1m12 0h1m21 0h1m6 0h1m22 0h1m25 0h1m5 0h1m5 0h2m3 0h1M56 22.5h2m2 0h1m2 0h1m3 0h1m1 0h1m9 0h1m3 0h1m2 0h1m6 0h1m3 0h1m2 0h2m2 0h1m4 0h1m2 0h1m1 0h1m1 0h2m9 0h2m5 0h1m4 0h1m5 0h2m11 0h1m1 0h1m4 0h1M2 25.5h1m14 0h1m14 0h1m2 0h1m2 0h1m3 0h1m52 0h2m4 0h1m7 0h2m1 0h1m3 0h1m1 0h1m3 0h1m5 0h1m10 0h1m6 0h1m15 0h1m4 0h1m9 0h1M10 27.5h1m1 0h1m6 0h1m10 0h1m12 0h1m1 0h1m4 0h1m10 0h1m3 0h1m14 0h1m7 0h1m6 0h1m3 0h1m18 0h1m32 0h1m6 0h1M181 28.5h1m3 0h1M58 30.5h1m92 0h1m26 0h1M182 31.5h1m3 0h2"/><path stroke="#fcb" d="M60 18.5h1m26 0h1m3 0h1m3 0h1m8 0h1m4 0h1m2 0h1m30 0h1M50 22.5h1m29 0h1m1 0h1m4 0h1m6 0h1m7 0h1m39 0h1m10 0h1m7 0h1m10 0h1M36 25.5h1m11 0h1m9 0h1m1 0h1m8 0h1m24 0h1m8 0h1m16 0h1m3 0h1m1 0h1m2 0h1m15 0h1M4 27.5h1m55 0h1m10 0h1m91 0h1M191 32.5h1"/><path stroke="#ecb" d="M67 18.5h1m26 0h1m44 0h1M85 23.5h1m82 0h1M28 25.5h1m1 0h1m9 0h1m14 0h1m9 0h1m14 0h1m26 0h1m9 0h1m43 0h1M35 27.5h1m88 0h1M183 28.5h1"/><path stroke="#359" d="M179 19.5h1M209 27.5h1m2 0h1"/><path stroke="#469" d="M184 20.5h1M188 24.5h1M197 30.5h1m3 0h1m3 0h1m3 0h1m1 0h1M195 31.5h1m20 0h1"/><path stroke="#dcc" d="M49 21.5h1m8 0h1m3 0h1m3 0h1m1 0h1m1 0h1m9 0h1m8 0h1m10 0h1m3 0h1m1 0h1m5 0h1m23 0h1m3 0h2m12 0h1m3 0h1m16 0h2m1 0h1M51 23.5h1m1 0h1m4 0h1m4 0h2m1 0h1m12 0h1m1 0h1m2 0h1m4 0h1m10 0h1m33 0h2m18 0h1m6 0h1m10 0h1m2 0h1m1 0h1"/><path stroke="#bbc" d="M50 21.5h1m20 0h2m4 0h2m40 0h1m2 0h1m19 0h1m4 0h1m3 0h1m12 0h1m3 0h2M54 23.5h1m14 0h1m1 0h1m31 0h1m5 0h1m9 0h1m6 0h1m14 0h1m1 0h1m4 0h1m3 0h1m23 0h1"/><path stroke="#ccd" d="M51 21.5h1m3 0h1m46 0h1m21 0h1m8 0h1m5 0h1m23 0h1m3 0h1M62 23.5h1m28 0h1m2 0h1"/><path stroke="#ddd" d="M52 21.5h1m11 0h1m100 0h1m11 0h1M117 23.5h1m35 0h1"/><path stroke="#ccc" d="M53 21.5h1m2 0h2m11 0h1m4 0h1m1 0h1m4 0h1m2 0h2m9 0h1m3 0h1m7 0h1m12 0h1m5 0h1m1 0h1m6 0h1m7 0h2m1 0h1m1 0h1m3 0h1m9 0h1m8 0h2m1 0h1M55 23.5h3m3 0h1m15 0h1m5 0h1m4 0h1m4 0h1m4 0h2m1 0h1m5 0h2m6 0h1m5 0h1m2 0h1m4 0h3m6 0h1m1 0h1m1 0h1m4 0h1m1 0h2m5 0h1m3 0h1m5 0h1m2 0h2m2 0h1"/><path stroke="#bcc" d="M54 21.5h1m39 0h1m20 0h1m29 0h1M102 23.5h1m29 0h1"/><path stroke="#cbb" d="M59 21.5h1m3 0h1m23 0h1m5 0h1m2 0h3m22 0h1m1 0h1m1 0h1m6 0h1m17 0h1m15 0h1M67 23.5h1m27 0h1m8 0h1m1 0h1m6 0h1m4 0h1m9 0h1m4 0h1m21 0h1m7 0h1m14 0h1"/><path stroke="#bcd" d="M60 21.5h1m40 0h1m1 0h1m6 0h1m5 0h1M49 23.5h1m22 0h1m94 0h1"/><path stroke="#cdd" d="M61 21.5h1m99 0h1M50 23.5h1m29 0h1"/><path stroke="#cbc" d="M67 21.5h1m11 0h1m8 0h1m1 0h1m18 0h1m17 0h1M52 23.5h1m6 0h1m5 0h1m9 0h1m16 0h1m23 0h1m54 0h1"/><path stroke="#bab" d="M73 21.5h1"/><path stroke="#dbb" d="M75 21.5h1m10 0h1m18 0h1m5 0h1m6 0h1m15 0h1m14 0h1m6 0h1m16 0h1M68 23.5h1m7 0h1m1 0h1m8 0h1m2 0h1m5 0h1m17 0h1m5 0h1m6 0h1m16 0h2m19 0h1m8 0h1"/><path stroke="#bbb" d="M83 21.5h1m24 0h1m20 0h1m1 0h1m5 0h1m15 0h1m3 0h1M82 23.5h1m42 0h1"/><path stroke="#dcb" d="M91 21.5h1m22 0h1m2 0h1m12 0h1m28 0h1M70 23.5h1m3 0h1m11 0h1m18 0h1m4 0h2m10 0h1m13 0h2m19 0h2"/><path stroke="#dba" d="M92 21.5h1m20 0h1M73 23.5h1m85 0h1"/><path stroke="#cab" d="M155 21.5h1"/><path stroke="#dcd" d="M160 21.5h1"/><path stroke="#ddc" d="M170 21.5h1M151 23.5h1"/><path stroke="#ecc" d="M97 23.5h1m48 0h1"/><path stroke="#caa" d="M123 23.5h1m38 0h1M131 26.5h1"/><path stroke="#daa" d="M139 23.5h1"/><path stroke="#9cd" d="M179 23.5h1m4 0h1m4 0h1"/><path stroke="#9bd" d="M180 23.5h1m9 0h1"/><path stroke="#579" d="M179 24.5h1M192 30.5h1m3 0h1m6 0h2M192 31.5h1m4 0h1m19 0h1"/><path stroke="#569" d="M181 24.5h1M202 31.5h1m8 0h1m7 0h1"/><path stroke="#57a" d="M184 24.5h1M183 25.5h1m4 0h1M198 27.5h1m2 0h1m12 0h1M205 29.5h1m2 0h1m4 0h1M195 30.5h1m23 0h1M198 31.5h1m4 0h1m3 0h1M199 32.5h1m6 0h1"/><path stroke="#679" d="M191 25.5h1M199 29.5h1M193 30.5h1m8 0h1m4 0h1m2 0h1m2 0h1m1 0h3M193 31.5h1m6 0h1m3 0h1m1 0h1m2 0h1m4 0h1m3 0h1M192 32.5h1m5 0h1"/><path stroke="#d99" d="M21 26.5h1"/><path stroke="#358" d="M205 27.5h1"/><path stroke="#479" d="M218 27.5h1"/><path stroke="#aaa" d="M203 28.5h1"/><path stroke="#58a" d="M211 29.5h1M208 31.5h1m3 0h1"/><path stroke="#668" d="M199 31.5h1"/><path stroke="#669" d="M213 31.5h1"/><path stroke="#778" d="M215 31.5h1"/></g><rect x="29" y="195" width="49.2" height="2.6" fill="#e8605a"/><rect x="78.2" y="195" width="129.8" height="2.6" fill="#7ab317"/><rect x="208" y="195" width="12.8" height="2.6" fill="#1fb1c4"/><rect x="220.8" y="195" width="28.2" height="2.6" fill="#a971c4"/><text x="26.6" y="205.37" font-size="5.1" text-anchor="end" fill="#111">Pf4</text><text x="26.6" y="210.09" font-size="5.1" text-anchor="end" fill="#111">Rap1b</text><text x="26.6" y="214.82" font-size="5.1" text-anchor="end" fill="#111">Trem1</text><text x="26.6" y="219.56" font-size="5.1" text-anchor="end" fill="#111">Pbx1</text><text x="26.6" y="224.28" font-size="5.1" text-anchor="end" fill="#111">Itga2b</text><text x="26.6" y="229.01" font-size="5.1" text-anchor="end" fill="#111">Cd9</text><text x="26.6" y="233.75" font-size="5.1" text-anchor="end" fill="#111">Gp9</text><text x="26.6" y="238.47" font-size="5.1" text-anchor="end" fill="#111">Gp5</text><text x="26.6" y="243.21" font-size="5.1" text-anchor="end" fill="#111">F2r</text><text x="26.6" y="247.94" font-size="5.1" text-anchor="end" fill="#111">Fli1</text><text x="26.6" y="252.67" font-size="5.1" text-anchor="end" fill="#111">Vwf</text><text x="26.6" y="257.39" font-size="5.1" text-anchor="end" fill="#111">Ifitm1</text><text x="26.6" y="262.12" font-size="5.1" text-anchor="end" fill="#111">Hlf</text><text x="26.6" y="266.86" font-size="5.1" text-anchor="end" fill="#111">Cd34</text><text x="26.6" y="271.58" font-size="5.1" text-anchor="end" fill="#111">Ly6a</text><text x="26.6" y="276.31" font-size="5.1" text-anchor="end" fill="#111">Sox4</text><text x="26.6" y="281.05" font-size="5.1" text-anchor="end" fill="#111">Apobec3</text><text x="26.6" y="285.78" font-size="5.1" text-anchor="end" fill="#111">Mecom</text><text x="26.6" y="290.5" font-size="5.1" text-anchor="end" fill="#111">Procr</text><text x="26.6" y="295.24" font-size="5.1" text-anchor="end" fill="#111">Ctsg</text><text x="26.6" y="299.96" font-size="5.1" text-anchor="end" fill="#111">Mpo</text><text x="26.6" y="304.69" font-size="5.1" text-anchor="end" fill="#111">Prtn3</text><text x="26.6" y="309.43" font-size="5.1" text-anchor="end" fill="#111">Tyrobp</text><text x="26.6" y="314.16" font-size="5.1" text-anchor="end" fill="#111">Cst3</text><text x="26.6" y="318.88" font-size="5.1" text-anchor="end" fill="#111">Irf8</text><text x="26.6" y="323.62" font-size="5.1" text-anchor="end" fill="#111">Slpi</text><text x="26.6" y="328.35" font-size="5.1" text-anchor="end" fill="#111">Cdk1</text><text x="26.6" y="333.07" font-size="5.1" text-anchor="end" fill="#111">Car1</text><text x="26.6" y="337.81" font-size="5.1" text-anchor="end" fill="#111">Rhd</text><text x="26.6" y="342.54" font-size="5.1" text-anchor="end" fill="#111">Cd24a</text><text x="26.6" y="347.27" font-size="5.1" text-anchor="end" fill="#111">Klf1</text><text x="26.6" y="352" font-size="5.1" text-anchor="end" fill="#111">Tspo2</text><text x="26.6" y="356.73" font-size="5.1" text-anchor="end" fill="#111">Ermap</text><text x="127" y="183.7" font-size="5.7" font-style="italic" fill="#3f6f9f" stroke="#3f6f9f" stroke-width="0.12" textLength="16.4" lengthAdjust="spacingAndGlyphs">Runx1</text><text x="143.9" y="180.8" font-size="3.9" font-style="italic" fill="#3f6f9f" textLength="6.3" lengthAdjust="spacingAndGlyphs">F/F</text><text x="29.7" y="192.7" font-size="4.95" textLength="48" lengthAdjust="spacingAndGlyphs" fill="#222">Mega-primed LT-HSC</text><text x="119.8" y="192.7" font-size="4.95" textLength="52.7" lengthAdjust="spacingAndGlyphs" fill="#222">Non-Mega-primed HSC</text><text x="201.2" y="187.3" font-size="4.95" textLength="23.3" lengthAdjust="spacingAndGlyphs" fill="#222">Ery-primed</text><text x="201.2" y="192.8" font-size="4.95" textLength="22.6" lengthAdjust="spacingAndGlyphs" fill="#222">Progenitor</text><text x="231.5" y="192.8" font-size="4.95" textLength="13.3" lengthAdjust="spacingAndGlyphs" fill="#222">MPP2</text><rect x="288" y="201.2" width="220" height="156.09" fill="#f3ad96"/><g transform="translate(288 201.2) scale(1 4.73)" stroke-width="1.04" fill="none" filter="url(#hb)"><path stroke="#a88" d="M0 0.5h1m1 0h1m19 0h1m12 0h1m8 0h1m20 0h1m9 0h1m10 0h1m1 0h2M47 1.5h1M6 2.5h1m20 0h1m28 0h1m3 0h1m8 0h1m1 0h1m21 0h1m10 0h1M20 3.5h1m32 0h1M65 4.5h1M0 5.5h2m17 0h1m8 0h1m9 0h1m33 0h1m7 0h1m14 0h1M1 6.5h1m3 0h1m9 0h1m3 0h1m6 0h1m17 0h1m11 0h1m34 0h1m9 0h1M50 7.5h1m37 0h1m2 0h1m1 0h1m5 0h1m5 0h1m60 0h1m21 0h2m11 0h1m1 0h1m9 0h1M10 8.5h1m7 0h1m49 0h1m28 0h1m87 0h2m4 0h1m14 0h1m4 0h1M1 9.5h1m25 0h4m1 0h1m3 0h1m6 0h1m2 0h1m7 0h2m7 0h2m2 0h1m11 0h1m12 0h1M74 10.5h1m8 0h1m3 0h1m17 0h1M179 11.5h1m13 0h1M118 12.5h1M3 14.5h1m3 0h1m35 0h1m30 0h1m6 0h1m10 0h1M124 15.5h1m26 0h1m26 0h1m29 0h1M6 16.5h1m15 0h1m15 0h1m1 0h1m15 0h1m27 0h1m20 0h1m18 0h1m5 0h1m4 0h1m8 0h1m30 0h1M116 17.5h1m11 0h1m4 0h2m12 0h1m3 0h1m12 0h1M28 23.5h1m8 0h1m4 0h1m2 0h1m2 0h1m28 0h1m23 0h1M6 26.5h1m7 0h1m95 0h1m41 0h1m39 0h1m1 0h1m23 0h1M81 29.5h1m58 0h1m6 0h1M197 31.5h1m5 0h1m2 0h2M189 32.5h1m3 0h1m5 0h1m8 0h1m2 0h1m4 0h1"/><path stroke="#b98" d="M1 0.5h1m6 0h1m43 0h1m8 0h1m41 0h1M63 2.5h1m14 0h1m19 0h1M120 8.5h1M40 10.5h1m16 0h1M70 14.5h1m31 0h1M174 15.5h1M114 16.5h1m62 0h1m27 0h1M6 23.5h1m97 0h1"/><path stroke="#b99" d="M3 0.5h1m2 0h1m4 0h1m24 0h1m22 0h1m9 0h1m3 0h1m6 0h1m4 0h1m1 0h1m6 0h1M190 1.5h1m9 0h1M2 2.5h1m19 0h1m8 0h1m29 0h1m5 0h1m29 0h1m1 0h1m3 0h1M6 5.5h2m6 0h1m7 0h1m1 0h1m1 0h1m10 0h1m10 0h1m1 0h1m2 0h1m3 0h1m44 0h1m1 0h2M24 6.5h1m22 0h1m13 0h1m3 0h1m39 0h1M21 7.5h1m9 0h1m153 0h1M25 8.5h1m59 0h1m84 0h1m16 0h1m8 0h1m5 0h1m4 0h1M38 9.5h1m5 0h1m17 0h1m25 0h1m1 0h2M1 10.5h1m1 0h2m2 0h1m1 0h1m1 0h1m2 0h1m10 0h1m18 0h1m9 0h1m15 0h1m19 0h1m5 0h2M172 11.5h1m8 0h2m3 0h1m11 0h1m4 0h2m3 0h1M33 14.5h1m10 0h1m2 0h1m10 0h1m27 0h1m4 0h1M120 15.5h1m31 0h1m20 0h1m20 0h1m1 0h2m1 0h1m16 0h1M7 16.5h1m5 0h1m9 0h1m12 0h1m12 0h1m3 0h1m3 0h1m10 0h1m4 0h1m20 0h1m24 0h1m83 0h1M115 17.5h1m23 0h1m1 0h1m3 0h1m2 0h1m3 0h1m9 0h1m7 0h1M13 23.5h1m37 0h1m33 0h1M90 26.5h1m54 0h1m43 0h1m6 0h1m4 0h1m9 0h1m2 0h1M71 29.5h1m97 0h1m9 0h1M219 32.5h1"/><path stroke="#b89" d="M4 0.5h1M0 2.5h1m27 0h1m55 0h1M11 5.5h1m55 0h1M25 6.5h1m34 0h1M47 8.5h1m151 0h1m14 0h1M119 9.5h1M172 12.5h1M95 14.5h1M103 16.5h1m44 0h1m4 0h1M130 17.5h1"/><path stroke="#b88" d="M5 0.5h1m9 0h1m8 0h3m5 0h1m7 0h1m17 0h1m1 0h1m6 0h1m4 0h1m17 0h1m2 0h1m6 0h1m6 0h1M61 1.5h1m27 0h1m19 0h1m23 0h1m48 0h1M110 2.5h2M13 3.5h1M154 4.5h1M2 5.5h2m4 0h1m4 0h1m15 0h1m4 0h1m4 0h2m4 0h1m5 0h1m8 0h3m8 0h1m6 0h2m8 0h1m7 0h1m3 0h1M29 6.5h1m33 0h1m26 0h1m3 0h1m45 0h1M195 7.5h1m9 0h1m13 0h1M28 8.5h1m24 0h1m12 0h1m11 0h2m19 0h1m89 0h1m4 0h1m13 0h1M2 9.5h1m4 0h1m2 0h1m8 0h1m1 0h1m49 0h1m6 0h1m1 0h1m17 0h2m15 0h1m50 0h1m1 0h1M8 10.5h1m4 0h1m3 0h1m4 0h1m3 0h1m3 0h1m5 0h1m5 0h1m6 0h1m3 0h1m1 0h1m3 0h1m2 0h1m15 0h1m6 0h1m2 0h1m18 0h1M128 11.5h1m48 0h1m7 0h1m3 0h3m4 0h2m3 0h2m4 0h1m5 0h1m2 0h1M176 12.5h1m2 0h1M2 14.5h1m1 0h1m9 0h1m5 0h1m13 0h1m4 0h1m2 0h1m2 0h2m4 0h1m2 0h1m4 0h2m5 0h1m9 0h1m5 0h1m1 0h1m3 0h2m17 0h1M121 15.5h1m6 0h1m6 0h1m22 0h1m10 0h1m15 0h1m1 0h1m1 0h1m1 0h1m6 0h1m8 0h1m1 0h3M2 16.5h1m5 0h1m3 0h1m11 0h1m2 0h1m9 0h1m10 0h1m6 0h1m2 0h1m3 0h2m1 0h2m18 0h1m1 0h1m1 0h1m3 0h1m3 0h2m28 0h1m9 0h1m17 0h1m23 0h1m1 0h1m5 0h1m4 0h1m5 0h1m2 0h2m6 0h1m4 0h1m4 0h1M8 17.5h1m102 0h1m1 0h2m9 0h1m11 0h1m9 0h1m8 0h1m9 0h1m3 0h1M9 23.5h1m1 0h2m6 0h1m1 0h1m1 0h1m8 0h1m1 0h1m4 0h1m1 0h1m1 0h1m2 0h1m11 0h1m6 0h1m5 0h1m12 0h1m1 0h1m3 0h1m1 0h1m9 0h2M11 26.5h1m7 0h1m16 0h1m13 0h3m9 0h1m18 0h1m21 0h1m2 0h1m10 0h1m4 0h1m2 0h1m15 0h1m23 0h1m31 0h1m1 0h1m3 0h1m1 0h1m4 0h1m1 0h2M176 27.5h1m3 0h1M6 29.5h1m37 0h1m41 0h1m25 0h1m6 0h1m10 0h1m2 0h1m3 0h1m5 0h1m21 0h1m7 0h1m2 0h1m1 0h1m4 0h1M214 31.5h1M186 32.5h3m1 0h1m3 0h1"/><path stroke="#a89" d="M7 0.5h1m5 0h1m5 0h1m10 0h1m15 0h1m1 0h2m1 0h1m3 0h2m24 0h1m10 0h1M21 1.5h1m20 0h1m21 0h1M17 2.5h1m2 0h1m4 0h1m3 0h1m6 0h1m1 0h1m41 0h1M63 3.5h1m8 0h1M17 4.5h1m3 0h1m77 0h1M4 5.5h1m10 0h1m5 0h1m5 0h1m28 0h1m2 0h1m5 0h2m9 0h1m15 0h1m14 0h1M12 6.5h1m7 0h1m21 0h1m2 0h1m34 0h1M16 7.5h1m23 0h1m10 0h1m43 0h1m5 0h1m96 0h1m9 0h1m2 0h1M3 8.5h1m13 0h1m42 0h1m2 0h1m25 0h1m1 0h1m2 0h1m98 0h1m3 0h1m6 0h1m8 0h1M5 9.5h1m3 0h1m2 0h1m9 0h1m1 0h2m22 0h1m1 0h1m10 0h1m8 0h1m2 0h1m11 0h2m2 0h1M15 10.5h1m11 0h1m9 0h1m23 0h1m7 0h1m1 0h1m5 0h1m6 0h1m7 0h1m13 0h1M124 11.5h1m11 0h1m55 0h1m7 0h1M128 12.5h1M129 15.5h1m31 0h1m24 0h1m13 0h1m4 0h1M1 16.5h1m33 0h1m59 0h1m24 0h1m8 0h1m1 0h1m10 0h1m14 0h1m8 0h1m2 0h1M120 17.5h2m4 0h1m15 0h2m19 0h1m3 0h1M106 23.5h1M84 26.5h1m102 0h1m2 0h2m16 0h1m10 0h1M120 29.5h1M218 32.5h1"/><path stroke="#d87" d="M9 0.5h1m69 0h1m19 0h1M112 1.5h1m18 0h1m10 0h2m3 0h1m6 0h1m2 0h2m3 0h2m5 0h1m1 0h1m11 0h1m14 0h1m8 0h1m1 0h1m3 0h1M112 2.5h2m1 0h1m1 0h1m6 0h1m1 0h1m2 0h2m1 0h1m5 0h1m3 0h1m1 0h1m3 0h1M110 3.5h1m2 0h1m3 0h1m4 0h1m8 0h1m5 0h1m2 0h1m5 0h1m9 0h2m1 0h1M113 4.5h1m8 0h1m4 0h1m1 0h1m5 0h1m3 0h1m12 0h1m5 0h1m8 0h3M17 5.5h1m92 0h1m16 0h1m10 0h1m4 0h1m2 0h1m11 0h1M114 6.5h2m1 0h4m6 0h1m6 0h1m23 0h1m7 0h1M109 7.5h2m11 0h1m3 0h1m6 0h1m16 0h1m4 0h2m4 0h1m2 0h1M117 8.5h1m3 0h1m2 0h2m5 0h1m4 0h1m6 0h2m10 0h1m1 0h2m7 0h1M108 9.5h1m1 0h1m10 0h1m9 0h1m8 0h2m1 0h1m5 0h1m4 0h1m35 0h1m7 0h1m6 0h1M31 10.5h1M178 12.5h1M1 13.5h2m6 0h1m9 0h2m9 0h1m9 0h1m1 0h1m10 0h1m2 0h1m7 0h1m9 0h1m3 0h1m19 0h1m3 0h1m2 0h1M5 14.5h1m7 0h1m5 0h1m5 0h1m5 0h2m28 0h1m2 0h2m1 0h2m3 0h1m10 0h1m1 0h1m10 0h2M11 15.5h2m1 0h1m18 0h1m6 0h1m4 0h1m14 0h1m5 0h1m1 0h1m25 0h2m76 0h1m20 0h1m21 0h1M3 16.5h1m12 0h1m14 0h1m7 0h1m29 0h2m117 0h1m4 0h1m13 0h1M0 17.5h1m6 0h1m5 0h1m6 0h2m2 0h1m1 0h2m2 0h1m17 0h1m3 0h1m14 0h1m4 0h1m1 0h1m17 0h1m1 0h1m37 0h1m38 0h1m7 0h1m8 0h3m18 0h1m3 0h1M1 21.5h1m20 0h1m13 0h1m9 0h1m12 0h1m9 0h1m17 0h1M24 23.5h1m2 0h1m27 0h1m1 0h1m2 0h1m6 0h2m9 0h1m4 0h1m5 0h1m7 0h1m2 0h1M0 26.5h1m6 0h2m1 0h1m4 0h2m4 0h2m15 0h1m1 0h1m1 0h3m4 0h1m3 0h1m1 0h1m4 0h1m4 0h1m4 0h2m6 0h3m2 0h1m1 0h1m2 0h1m2 0h1m15 0h1m6 0h1m1 0h1m4 0h1m7 0h1m4 0h4m4 0h2m4 0h1m11 0h1m2 0h1m3 0h1M18 27.5h1m2 0h1m13 0h1m3 0h1m3 0h3m4 0h2m4 0h1m6 0h1m3 0h1m2 0h1m6 0h1m4 0h1m4 0h1m5 0h1m84 0h1M3 29.5h1m7 0h1m17 0h1m7 0h1m1 0h1m3 0h1m6 0h1m4 0h2m3 0h1m1 0h1m5 0h1m28 0h1m6 0h1m1 0h2m1 0h1m6 0h2m4 0h1m2 0h1m3 0h1m15 0h1m7 0h1m1 0h2m27 0h1"/><path stroke="#b77" d="M10 0.5h1m57 0h1M172 1.5h1M141 4.5h1M124 6.5h1M160 9.5h1M9 14.5h1m17 0h1m12 0h1m53 0h1m5 0h1M136 15.5h1M102 16.5h1m6 0h1M1 26.5h1m43 0h1M76 27.5h1M180 29.5h1M196 31.5h1m14 0h1"/><path stroke="#d98" d="M12 0.5h1m4 0h1m5 0h1m72 0h1M115 1.5h1m8 0h1m16 0h1m4 0h1m3 0h2m22 0h1m14 0h1m21 0h2M146 2.5h2m9 0h1m10 0h1M123 3.5h1m1 0h1m24 0h2m11 0h2m1 0h2M126 4.5h1m6 0h1m8 0h1m4 0h1m7 0h1M55 5.5h1M108 6.5h1m21 0h1m12 0h1m24 0h1M108 7.5h1m32 0h1m28 0h1M112 8.5h1m9 0h1m9 0h2m4 0h1m8 0h1M112 9.5h2m9 0h2m38 0h1M199 11.5h1M173 12.5h1m7 0h1M12 13.5h1m24 0h1m9 0h1m3 0h1m24 0h1m6 0h1M21 14.5h1m4 0h1m2 0h1m25 0h1m37 0h1m4 0h1M58 15.5h1m129 0h1m23 0h1M5 16.5h1m24 0h1m68 0h1m71 0h1m4 0h1m40 0h1M22 17.5h2m4 0h1m4 0h1m47 0h1m23 0h1m55 0h1m12 0h1m2 0h1m19 0h1m14 0h1M54 21.5h1M30 23.5h1m2 0h1m6 0h1m8 0h1m3 0h1m9 0h2m14 0h1M18 26.5h1m5 0h1m1 0h1m1 0h2m1 0h1m2 0h1m11 0h1m11 0h2m4 0h1m3 0h1m17 0h1m11 0h1m3 0h1m1 0h1m8 0h1m4 0h1m19 0h2m13 0h1M3 27.5h1m2 0h1m16 0h1m8 0h1m20 0h1m3 0h1m114 0h1m9 0h2M2 29.5h1m6 0h1m5 0h1m4 0h1m13 0h1m3 0h1m8 0h1m9 0h1m60 0h1m7 0h1m8 0h1m12 0h1m1 0h1m15 0h1m3 0h1"/><path stroke="#988" d="M14 0.5h1m27 0h1m23 0h1M52 2.5h1m5 0h1M5 3.5h1M22 4.5h1m66 0h1M10 5.5h1m12 0h1m69 0h1m4 0h1M18 7.5h1m172 0h1m2 0h1M174 11.5h1m1 0h1M123 16.5h1M202 26.5h1M187 28.5h1M214 30.5h1M203 32.5h1m3 0h1m5 0h1"/><path stroke="#b87" d="M16 0.5h1m17 0h1M86 5.5h1M114 7.5h1m99 0h1m3 0h1M109 8.5h1M6 10.5h1m3 0h1m56 0h1M184 11.5h1M10 13.5h1M35 14.5h1M40 17.5h1m62 0h1m21 0h1m34 0h1M16 23.5h1m70 0h1M169 26.5h1M81 27.5h1M4 29.5h1m37 0h1m88 0h1M206 32.5h1"/><path stroke="#c88" d="M18 0.5h1m2 0h1m9 0h1m5 0h2m8 0h1m6 0h1m2 0h1m4 0h3m9 0h1m8 0h1m7 0h1m12 0h1M108 1.5h1m29 0h1m47 0h1m1 0h1M167 2.5h1M115 3.5h1m25 0h2M108 4.5h1m8 0h1m1 0h1m44 0h1M5 5.5h1m64 0h1m20 0h1M99 6.5h1m11 0h1m14 0h1m11 0h1M118 7.5h1m12 0h1m5 0h1m27 0h1m33 0h1m10 0h1M5 8.5h1m199 0h1M17 9.5h1m118 0h1m27 0h1M2 10.5h1m18 0h1m1 0h1m41 0h2m12 0h2m13 0h1M211 11.5h2m1 0h1m3 0h1M175 12.5h1m1 0h1m4 0h1m1 0h1M32 13.5h1m25 0h2m22 0h1M8 14.5h1m2 0h1m3 0h1m20 0h1m1 0h1m10 0h1m21 0h1m7 0h1m21 0h1m1 0h2m1 0h1M180 15.5h2m2 0h1m17 0h1m10 0h2m3 0h1M14 16.5h1m10 0h1m2 0h1m3 0h1m11 0h1m1 0h1m3 0h2m8 0h1m3 0h1m6 0h1m11 0h1m2 0h1m1 0h1m2 0h2m3 0h1m75 0h1m1 0h1m5 0h1m14 0h3m6 0h1m1 0h1m3 0h1m7 0h1M3 17.5h1m31 0h1m21 0h1m17 0h2m5 0h1m23 0h1m1 0h1m20 0h1m8 0h1m37 0h1m5 0h1m18 0h1m17 0h1M49 21.5h1M1 23.5h1m5 0h1m30 0h1m13 0h1m1 0h1m1 0h1m9 0h1m15 0h1m13 0h1m2 0h1M25 26.5h1m11 0h1m1 0h1m14 0h1m8 0h1m18 0h1m12 0h1m4 0h1m8 0h1m9 0h2m10 0h1m1 0h1m16 0h1m5 0h2m30 0h1m6 0h1m10 0h1m8 0h1M10 27.5h1m3 0h1m90 0h1M5 29.5h1m27 0h1m81 0h1m7 0h2m11 0h1m1 0h1m20 0h1m2 0h1m12 0h1m5 0h1"/><path stroke="#c87" d="M20 0.5h1m12 0h1m11 0h1M117 1.5h1m1 0h2m7 0h1m1 0h1m35 0h1m18 0h1m6 0h1M124 3.5h1m8 0h1M157 6.5h1M110 8.5h1m24 0h1m1 0h1m3 0h1M120 9.5h1m12 0h1m13 0h1m11 0h1M68 10.5h1m30 0h1M215 11.5h1M171 12.5h1m2 0h1m5 0h1m2 0h1M57 13.5h1M0 14.5h1m9 0h1m11 0h2m4 0h1m1 0h1m21 0h1m4 0h1m19 0h1m12 0h1M179 15.5h1m2 0h2m33 0h1M9 16.5h1m1 0h1m6 0h3m13 0h1m12 0h1m24 0h1m9 0h1m7 0h1m9 0h1m5 0h1m11 0h1m54 0h1m4 0h1m6 0h1m3 0h1m1 0h1m2 0h1M4 17.5h1m6 0h1m2 0h1m41 0h1m21 0h1m11 0h1m68 0h1m13 0h1m9 0h1m14 0h1m9 0h1M4 21.5h1M5 23.5h1m9 0h1m1 0h1m7 0h1m5 0h1m56 0h1m2 0h1m1 0h3m2 0h1m6 0h1M2 26.5h1m14 0h1m2 0h1m2 0h1m17 0h1m6 0h1m8 0h1m11 0h1m6 0h1m10 0h1m8 0h1m2 0h1m5 0h1m18 0h1m5 0h1m13 0h1m2 0h1m7 0h1m10 0h1M94 27.5h2m85 0h1M1 29.5h1m6 0h1m10 0h1m1 0h1m2 0h1m16 0h1m4 0h1m2 0h1m2 0h1m1 0h1m3 0h2m9 0h1m5 0h1m1 0h1m13 0h1m21 0h2m12 0h1m4 0h1m1 0h1m4 0h1m12 0h1m8 0h1m1 0h2m2 0h2m2 0h2M187 31.5h1"/><path stroke="#c98" d="M27 0.5h1m1 0h1M114 1.5h1m8 0h1m2 0h1m21 0h1M11 2.5h1m52 0h3m29 0h1m10 0h1M111 3.5h1M111 4.5h1m12 0h1M44 5.5h1m44 0h1m4 0h1m4 0h1M98 6.5h1m65 0h1M115 7.5h1m26 0h1m3 0h2m39 0h1m8 0h1M2 8.5h1m108 0h1m28 0h1m13 0h1M5 10.5h1m12 0h1m10 0h1m4 0h1m25 0h1m30 0h1m12 0h1M171 11.5h1m15 0h1m18 0h1m3 0h1M6 13.5h1m32 0h1m10 0h1m33 0h1M6 14.5h1m11 0h1m22 0h1m8 0h1m27 0h1m26 0h1M175 15.5h2m26 0h1m2 0h1M0 16.5h1m16 0h1m3 0h1m7 0h1m11 0h3m8 0h1m27 0h1m32 0h1m38 0h1m30 0h1m29 0h1M49 17.5h1m68 0h1m34 0h1m14 0h1m6 0h1M0 23.5h1m2 0h1m4 0h1m11 0h1m5 0h1m17 0h1m17 0h1m7 0h1m2 0h3m4 0h2M9 26.5h1m22 0h1m2 0h1m20 0h1m20 0h1m71 0h1m9 0h1m33 0h1m13 0h1M8 27.5h1m6 0h1m36 0h1m38 0h1m81 0h1M14 29.5h1m48 0h1m12 0h1m25 0h1m7 0h2m29 0h2m8 0h1m2 0h1m5 0h1"/><path stroke="#d88" d="M28 0.5h1M143 3.5h1M20 5.5h1M123 8.5h1M66 13.5h1M66 26.5h1m8 0h1m16 0h2M179 27.5h1"/><path stroke="#989" d="M39 0.5h1m1 0h1m28 0h1m6 0h1m4 0h1m12 0h1M3 1.5h1m8 0h1m3 0h1m8 0h1m2 0h1m9 0h1m13 0h1m5 0h1m3 0h1m2 0h1m1 0h1m1 0h1m15 0h1m2 0h1m8 0h1m7 0h1M5 2.5h1m3 0h1m13 0h1m6 0h1m3 0h2m7 0h3m1 0h1m2 0h1m11 0h1m14 0h1m5 0h1m3 0h1m4 0h1m9 0h1m3 0h1M11 3.5h2m3 0h1m9 0h1m20 0h1m12 0h2m6 0h1m4 0h1m14 0h1M5 4.5h1m2 0h1m54 0h2m13 0h1m9 0h1m4 0h2M9 5.5h1m2 0h1m5 0h1m13 0h1m10 0h1m62 0h1M2 6.5h2m5 0h1m6 0h2m5 0h1m3 0h1m3 0h3m1 0h1m5 0h1m6 0h2m3 0h1m1 0h1m8 0h1m1 0h1m6 0h2m3 0h1m3 0h1m1 0h1m1 0h2m5 0h1m8 0h1m4 0h1M1 7.5h1m1 0h1m1 0h1m2 0h1m8 0h1m1 0h1m5 0h1m11 0h1m4 0h1m10 0h2m3 0h1m4 0h1m3 0h1m1 0h1m7 0h1m4 0h2m3 0h1m1 0h1m6 0h1m1 0h1m93 0h1m4 0h1m2 0h1m3 0h1m2 0h1m1 0h1m2 0h1m3 0h1M1 8.5h1m4 0h2m16 0h1m1 0h1m2 0h1m3 0h1m3 0h1m1 0h1m5 0h1m3 0h2m4 0h1m1 0h1m3 0h1m5 0h1m3 0h1m14 0h1m1 0h1m3 0h1m3 0h1m4 0h1m101 0h1M13 9.5h3m24 0h1m11 0h1m5 0h1m28 0h1m5 0h1m2 0h1m4 0h2m2 0h1M12 10.5h1m25 0h2m1 0h1m1 0h1m6 0h1m13 0h1m37 0h2M126 11.5h1m4 0h1m26 0h1m14 0h1m4 0h1m1 0h1m2 0h1M121 12.5h1M173 13.5h1m8 0h1M56 14.5h1m59 0h1M116 15.5h1m1 0h1m13 0h1m7 0h1m7 0h1m17 0h1m10 0h1m12 0h1m1 0h1m8 0h1M15 16.5h1m29 0h1m13 0h1m21 0h1m22 0h1m6 0h2m3 0h1m4 0h1m4 0h1m5 0h1m12 0h2m7 0h1m3 0h1m11 0h1m15 0h1m29 0h1M112 17.5h1m14 0h1m7 0h1m20 0h1m1 0h1M74 26.5h1m110 0h1m14 0h1M205 28.5h1M187 30.5h1m3 0h1m19 0h1m1 0h1M204 31.5h1m13 0h1M202 32.5h1m6 0h1m5 0h1m1 0h1"/><path stroke="#88a" d="M43 0.5h1M23 1.5h1m5 0h1m1 0h1m7 0h1m4 0h1m29 0h1m18 0h1m13 0h1M40 2.5h1m41 0h1M18 3.5h1m13 0h1m9 0h1m6 0h1m1 0h1m3 0h2m22 0h1m7 0h1m2 0h1m12 0h1M9 4.5h1m5 0h1m3 0h1m6 0h1m2 0h1m5 0h1m8 0h1m22 0h1m8 0h1m10 0h1m2 0h1M58 5.5h1m15 0h1m8 0h1M14 6.5h1m56 0h1m28 0h1M12 7.5h1m1 0h1m11 0h1m38 0h2m9 0h1m125 0h1M77 8.5h1m3 0h1m2 0h1m103 0h1m3 0h1m23 0h1M53 9.5h1m49 0h1M81 10.5h1M139 11.5h2m13 0h1m8 0h2M124 12.5h1m22 0h1M116 13.5h1m66 0h1M108 15.5h1m14 0h1m22 0h1m13 0h1m4 0h1m2 0h1M143 16.5h1m5 0h1m18 0h1M122 17.5h1M172 25.5h1M204 26.5h1M186 28.5h1M185 30.5h1"/><path stroke="#978" d="M50 0.5h1m47 0h1m2 0h1M99 1.5h1M17 3.5h1m10 0h1M138 4.5h1M36 5.5h1M72 7.5h1m113 0h1M11 8.5h1m28 0h1m3 0h1M16 9.5h1m25 0h1m4 0h1m12 0h1m43 0h1M45 10.5h1m40 0h1M125 12.5h1M195 15.5h1M4 16.5h1m28 0h1m41 0h1M131 17.5h1M47 23.5h1M140 26.5h1m45 0h1M190 28.5h1M192 31.5h1m19 0h1M196 32.5h1m1 0h1"/><path stroke="#879" d="M53 0.5h1m43 0h1M17 1.5h1m17 0h1m30 0h1m11 0h1M19 2.5h1M38 3.5h1M16 5.5h1M13 6.5h1m43 0h1M14 8.5h1m85 0h1m100 0h1M31 9.5h1m44 0h1m23 0h1M82 10.5h1M109 12.5h1m34 0h1M154 14.5h1m1 0h1M115 16.5h1M194 28.5h1M202 30.5h1M185 31.5h1m3 0h1m3 0h1m6 0h1M197 32.5h1m3 0h1m2 0h2"/><path stroke="#89a" d="M71 0.5h1M5 1.5h1m21 0h1m21 0h1m36 0h1m3 0h1m4 0h1m6 0h1M7 2.5h1m40 0h1m2 0h1m2 0h1m15 0h1M7 3.5h1m21 0h1m36 0h1m26 0h1m1 0h2m8 0h1M6 4.5h2m3 0h1m4 0h1m32 0h1m23 0h1m3 0h1m5 0h1m19 0h1M49 5.5h1m19 0h1M7 6.5h1M7 7.5h1m19 0h1m4 0h1m6 0h1m4 0h1m36 0h1m12 0h1M9 8.5h1m6 0h1m24 0h1m28 0h1m4 0h1m7 0h1m20 0h1m1 0h1m88 0h1M51 9.5h1m4 0h1m49 0h1M146 11.5h1m1 0h1m8 0h1m3 0h1M112 12.5h1m50 0h1M126 14.5h1m12 0h1M110 15.5h1m1 0h1m25 0h1M110 16.5h1m39 0h1M216 26.5h1"/><path stroke="#a78" d="M76 0.5h1m1 0h1m5 0h1M90 2.5h1M31 5.5h1m14 0h1M190 7.5h1m15 0h1m8 0h1M19 8.5h1m1 0h1M94 9.5h1M35 10.5h1m15 0h1M195 11.5h1M12 14.5h1m122 0h1M147 15.5h1m23 0h1M215 16.5h1M144 17.5h1M10 23.5h1m25 0h1M149 29.5h1M199 31.5h1m10 0h1M185 32.5h1m28 0h1"/><path stroke="#779" d="M102 0.5h1M56 1.5h1M24 3.5h1m34 0h1m5 0h1m38 0h1M3 4.5h1m67 0h1m10 0h1M0 6.5h1m74 0h1M102 7.5h1M54 8.5h1m38 0h1M49 9.5h1M135 11.5h1m5 0h1m9 0h1M117 12.5h1m16 0h1m18 0h1m1 0h1M118 13.5h2m10 0h1m4 0h1m26 0h1m1 0h1m9 0h1M113 14.5h1m10 0h1m5 0h1m9 0h1m11 0h1M117 15.5h1m12 0h1m14 0h1m21 0h1M74 16.5h1M191 28.5h1m5 0h1m3 0h1m6 0h1m10 0h1M193 29.5h1m11 0h1m3 0h2m4 0h1M188 30.5h1m3 0h1m17 0h1m7 0h2M191 31.5h1m27 0h1M192 32.5h1"/><path stroke="#a99" d="M105 0.5h2M0 1.5h2m16 0h1m15 0h1m28 0h1m19 0h1M12 2.5h1m3 0h1m4 0h1m66 0h2m1 0h1M99 3.5h1m7 0h1M25 5.5h1m7 0h1m7 0h2m4 0h1m6 0h1m20 0h1m9 0h1m1 0h1m9 0h1M10 6.5h1m11 0h1m16 0h1m3 0h1m2 0h1m32 0h1m24 0h1M13 7.5h1m6 0h1m7 0h1m1 0h1m37 0h1m1 0h1m36 0h1m3 0h1m81 0h1m23 0h1M23 8.5h1m6 0h1m3 0h1m1 0h1m36 0h1m13 0h1m110 0h1m13 0h1m4 0h1M0 9.5h1m36 0h1m31 0h1m4 0h1m9 0h1M16 10.5h1m2 0h2m3 0h1m22 0h1m24 0h2m19 0h1m4 0h1m1 0h2M167 11.5h1m41 0h1m7 0h1m1 0h1M171 13.5h1M48 14.5h1m20 0h1M109 15.5h1m4 0h1m28 0h1m11 0h1m1 0h1M54 16.5h1m12 0h1m9 0h1m23 0h1m23 0h1m7 0h1m7 0h1m9 0h1m7 0h2m2 0h1m1 0h1m16 0h1m1 0h1m15 0h1M110 17.5h1m26 0h1m2 0h1m16 0h1M59 23.5h1M111 26.5h1M188 31.5h1"/><path stroke="#ea8" d="M108 0.5h1m12 0h1m1 0h1m10 0h4m1 0h2m1 0h1m2 0h4m2 0h2m1 0h2m5 0h1m4 0h1m4 0h1m15 0h1m6 0h1m12 0h1M187 2.5h1m2 0h2m1 0h1m6 0h1m4 0h2m3 0h2m3 0h1M130 4.5h1M153 6.5h1m17 0h2m1 0h1m1 0h1m6 0h1m1 0h2m3 0h1m2 0h1m4 0h2m1 0h2m1 0h2m5 0h5m1 0h3M114 10.5h2m6 0h2m6 0h1m1 0h2m1 0h1m16 0h1m1 0h1m3 0h2m3 0h1m7 0h1m15 0h1m5 0h1m16 0h1m3 0h1m2 0h1M3 11.5h1m44 0h1m10 0h1m15 0h2m29 0h1M173 14.5h1m4 0h1m17 0h1m2 0h1m5 0h2m3 0h1m2 0h1m2 0h1m1 0h1M81 15.5h1M17 18.5h1m138 0h1M90 25.5h1M130 28.5h1m21 0h1M4 30.5h1m2 0h1m8 0h1m1 0h1m1 0h5m1 0h1m9 0h1m3 0h2m2 0h1m1 0h1m3 0h1m3 0h2m6 0h3m4 0h1m2 0h1m5 0h3m2 0h2m3 0h1m1 0h4m4 0h1m5 0h1m2 0h1m24 0h1m2 0h1"/><path stroke="#ea9" d="M109 0.5h1m1 0h1m1 0h3m3 0h2m1 0h1m4 0h3m8 0h1m10 0h1m3 0h1m6 0h1m2 0h2m2 0h1m15 0h2m5 0h1m24 0h1M186 2.5h1m2 0h1m7 0h1m1 0h1m2 0h1m9 0h1m1 0h1M180 6.5h1m7 0h1m3 0h1m4 0h1m2 0h1m2 0h1m3 0h2m7 0h1M109 10.5h1m3 0h1m2 0h1m2 0h1m4 0h1m2 0h1m6 0h1m5 0h5m11 0h2m4 0h1m3 0h3m3 0h1m27 0h1m5 0h1m4 0h1M97 11.5h1M171 14.5h2m1 0h1m4 0h1m3 0h3m2 0h1m1 0h1m2 0h1m3 0h1m2 0h4m8 0h1m2 0h1m1 0h1M136 18.5h1M128 20.5h1m29 0h1M163 24.5h1M1 25.5h1m3 0h1m10 0h1m48 0h1m3 0h1m8 0h1m20 0h1m4 0h1M108 28.5h1m16 0h1m8 0h2m17 0h1m7 0h1M1 30.5h3m1 0h1m3 0h1m9 0h1m11 0h1m3 0h1m2 0h1m3 0h1m2 0h1m1 0h3m1 0h1m5 0h2m7 0h1m3 0h1m2 0h1m1 0h2m4 0h2m2 0h1m1 0h1m6 0h3m4 0h3m20 0h1m13 0h1m6 0h1m4 0h1m1 0h1m5 0h1m15 0h1"/><path stroke="#fba" d="M110 0.5h1m59 0h1m7 0h1m2 0h2m17 0h1m7 0h1M171 2.5h1m4 0h1m1 0h1m29 0h1M125 10.5h2m2 0h1m18 0h1m15 0h1m8 0h1m3 0h1m1 0h2m1 0h2m2 0h1m3 0h1m18 0h1m3 0h1m5 0h1M198 14.5h1M109 18.5h2m1 0h2m1 0h1m8 0h1m1 0h2m5 0h2m5 0h2m1 0h2m2 0h1m3 0h1m2 0h2m3 0h2m3 0h1m1 0h1m1 0h2M108 20.5h1m3 0h3m3 0h3m2 0h2m4 0h1m1 0h1m1 0h1m3 0h1m5 0h3m2 0h1m1 0h1m2 0h3m1 0h1m1 0h1m1 0h1m4 0h1m1 0h1M109 22.5h3m1 0h1m4 0h1m2 0h2m1 0h1m3 0h1m2 0h2m2 0h1m8 0h1m3 0h3m1 0h1m2 0h1m2 0h1m1 0h1m1 0h1m2 0h1m3 0h1M108 24.5h1m2 0h2m3 0h2m1 0h1m2 0h1m3 0h2m1 0h2m3 0h1m2 0h1m1 0h1m2 0h3m1 0h2m2 0h1m2 0h3m1 0h2m1 0h3m2 0h5M3 25.5h2m3 0h1m11 0h3m2 0h1m6 0h2m1 0h1m3 0h1m6 0h3m2 0h1m3 0h1m2 0h2m1 0h1m1 0h1m6 0h1m9 0h1m2 0h1m1 0h2m1 0h2m2 0h1m1 0h1m1 0h1m5 0h1m2 0h1m1 0h1M110 28.5h2m2 0h1m3 0h1m3 0h1m3 0h1m2 0h1m7 0h1m4 0h1m2 0h2m3 0h2m2 0h1m1 0h1m2 0h1m2 0h1m6 0h2m2 0h2m1 0h1m1 0h3m2 0h1M28 30.5h1m3 0h1m10 0h1m66 0h1m1 0h1m2 0h2m1 0h1m2 0h1m1 0h1m1 0h2m3 0h1m2 0h2m1 0h1m4 0h1m4 0h2m1 0h1m1 0h1m5 0h1m2 0h1m7 0h1m1 0h2m8 0h1m1 0h1M173 31.5h1m2 0h2m3 0h1m2 0h1M174 32.5h3m1 0h4m2 0h1"/><path stroke="#fb9" d="M112 0.5h1m5 0h1m5 0h1m1 0h1m35 0h1m9 0h5m2 0h1m6 0h1m1 0h1m2 0h1m1 0h1m1 0h2m1 0h1m2 0h3m1 0h1m3 0h6m1 0h2m1 0h1M173 2.5h3m3 0h1m1 0h3m8 0h1m1 0h1m1 0h1m1 0h1m2 0h1m1 0h2m2 0h1m1 0h1m6 0h1m1 0h1M173 6.5h1m3 0h1m1 0h1m2 0h1M131 10.5h1m6 0h1m7 0h2m3 0h1m8 0h1m4 0h1m3 0h1m4 0h1m1 0h1m1 0h1m5 0h1m3 0h2m2 0h1m5 0h2m1 0h4m7 0h1m2 0h2M177 14.5h1m3 0h1m10 0h1m11 0h1M1 18.5h4m1 0h11m1 0h1m1 0h13m1 0h18m2 0h2m1 0h4m1 0h1m1 0h3m1 0h2m1 0h7m1 0h4m1 0h5m1 0h3m1 0h5m1 0h8m8 0h1m1 0h2m1 0h1m1 0h1m4 0h5m2 0h1m1 0h1m1 0h1m5 0h1m2 0h3m1 0h2m3 0h2m2 0h3m3 0h1m4 0h6m2 0h8m1 0h9m2 0h6m1 0h2m1 0h4m1 0h5M0 19.5h3m1 0h1m1 0h3m3 0h9m1 0h2m2 0h3m1 0h4m1 0h6m1 0h5m2 0h16m1 0h6m1 0h5m2 0h2m1 0h6m2 0h3m1 0h1m1 0h2m1 0h5m1 0h3m1 0h4m1 0h1m1 0h3m1 0h2m1 0h1m1 0h6m1 0h1m1 0h1m1 0h5m1 0h12m1 0h4m1 0h1m2 0h3m1 0h3m14 0h2m1 0h3m1 0h4m1 0h2m1 0h10m1 0h2m1 0h1m1 0h4M0 20.5h1m1 0h1m1 0h1m1 0h11m1 0h3m1 0h1m1 0h4m2 0h8m1 0h1m1 0h3m1 0h10m1 0h5m1 0h1m1 0h2m1 0h1m1 0h1m1 0h8m1 0h11m1 0h1m1 0h5m1 0h8m1 0h1m11 0h2m2 0h2m3 0h1m1 0h1m6 0h4m3 0h1m4 0h2m3 0h1m5 0h1m2 0h1m1 0h1m1 0h1m15 0h2m1 0h3m1 0h2m1 0h1m1 0h8m2 0h4m1 0h3m1 0h2m1 0h1M0 22.5h5m1 0h2m1 0h2m1 0h5m1 0h1m1 0h5m1 0h5m1 0h29m1 0h4m1 0h3m3 0h5m1 0h1m1 0h5m1 0h9m1 0h2m1 0h8m11 0h1m25 0h1m7 0h1m2 0h1m29 0h2m2 0h1m1 0h5m1 0h1m1 0h5m3 0h2m1 0h9M0 24.5h2m1 0h2m1 0h11m1 0h25m1 0h4m1 0h12m1 0h2m3 0h11m1 0h1m1 0h2m1 0h2m1 0h2m5 0h2m1 0h1m1 0h9m5 0h1m1 0h1m8 0h1m3 0h1m3 0h1m2 0h1m13 0h1m2 0h1m3 0h1m7 0h1m20 0h3m1 0h2m1 0h4m2 0h5m1 0h2m1 0h4m1 0h8M6 25.5h2m1 0h1m32 0h1m1 0h1m9 0h1m5 0h1m5 0h1m12 0h1m28 0h5m1 0h7m1 0h3m1 0h2m3 0h1m1 0h2m1 0h16m1 0h5m1 0h2m1 0h2m1 0h6m15 0h1m1 0h1m1 0h3m2 0h1m1 0h4m1 0h4m1 0h4m1 0h2m2 0h4M109 27.5h7m1 0h1m5 0h2m1 0h2m2 0h2m1 0h7m1 0h10m1 0h3m1 0h2m2 0h1m1 0h1m1 0h7M0 28.5h5m1 0h1m1 0h9m1 0h2m1 0h8m1 0h14m1 0h8m1 0h2m1 0h6m4 0h12m1 0h8m1 0h7m1 0h1m2 0h8m1 0h1m2 0h1m3 0h2m1 0h1m1 0h1m1 0h1m3 0h2m3 0h2m4 0h3m2 0h2m3 0h2m5 0h1m1 0h2m4 0h1m1 0h1m1 0h2m2 0h2m4 0h1M6 30.5h1m4 0h1m1 0h3m11 0h1m5 0h1m22 0h1m2 0h1m14 0h1m2 0h1m22 0h1m7 0h2m1 0h1m1 0h1m5 0h2m6 0h3m7 0h1m1 0h1m2 0h2m4 0h1m4 0h4m2 0h1m1 0h4m1 0h1m2 0h1m3 0h1M0 31.5h10m1 0h6m1 0h7m1 0h3m1 0h8m1 0h5m1 0h1m2 0h18m1 0h3m1 0h7m1 0h4m1 0h4m1 0h2m1 0h6m2 0h1m1 0h9m1 0h1m1 0h5m1 0h5m1 0h2m1 0h1m2 0h2m2 0h3m1 0h2m1 0h1m2 0h3m1 0h2m1 0h11m1 0h3m1 0h4m1 0h1m5 0h1m2 0h1M0 32.5h3m1 0h2m1 0h6m1 0h1m1 0h1m1 0h16m1 0h1m1 0h14m3 0h7m1 0h1m1 0h3m1 0h1m1 0h1m1 0h7m2 0h2m1 0h3m1 0h11m1 0h2m2 0h3m1 0h5m2 0h1m1 0h4m2 0h3m1 0h1m1 0h1m1 0h4m1 0h15m1 0h4m1 0h2m3 0h2m1 0h3m1 0h3m1 0h1m8 0h2"/><path stroke="#e98" d="M116 0.5h1m8 0h1m4 0h3m11 0h1m11 0h2m1 0h1m5 0h1M125 2.5h1M136 3.5h1M132 4.5h1M186 5.5h1M160 6.5h1m2 0h1m25 0h1m6 0h1m13 0h1M123 7.5h1m14 0h2M119 8.5h1m9 0h1M139 9.5h1m2 0h1M117 10.5h2m9 0h1m26 0h1M0 11.5h1m5 0h1m13 0h1m1 0h2m6 0h1m1 0h1m2 0h2m2 0h1m10 0h1m3 0h1m1 0h1m5 0h1m14 0h1m3 0h1m2 0h1m8 0h1M96 13.5h1M187 14.5h1m19 0h1m6 0h1M7 15.5h1M1 17.5h1m56 0h1m2 0h1m8 0h1m30 0h1m105 0h1M5 26.5h1m83 0h1m18 0h1m18 0h1m36 0h1m5 0h1M5 27.5h1m168 0h1M28 29.5h1m7 0h1m58 0h1M0 30.5h1m9 0h1m6 0h1m11 0h2m3 0h1m17 0h2m6 0h2m5 0h1m3 0h1m17 0h1m9 0h1"/><path stroke="#eb9" d="M117 0.5h1m50 0h2m27 0h1m8 0h1M195 2.5h1M110 10.5h1m1 0h1m8 0h1m15 0h1m7 0h1m3 0h1m3 0h1m7 0h1m8 0h1m20 0h1m4 0h1M175 14.5h1m4 0h1m1 0h1m3 0h1m2 0h1m1 0h1m3 0h1m13 0h1m1 0h1M125 18.5h1M127 20.5h1m32 0h1m9 0h1M10 25.5h1m2 0h1m3 0h1m5 0h2m3 0h1m5 0h1m17 0h1m11 0h1m2 0h1m3 0h1M131 28.5h1m4 0h1m29 0h1M12 30.5h1m24 0h1m30 0h1m37 0h1m7 0h1m7 0h1m42 0h1m6 0h1M172 32.5h1"/><path stroke="#eba" d="M133 0.5h1m7 0h1M120 10.5h1M194 14.5h1M115 20.5h1m22 0h1M134 22.5h1m29 0h1M136 24.5h1M14 25.5h1m3 0h1m7 0h1m9 0h1m3 0h2m1 0h1m1 0h1m3 0h1m12 0h1m12 0h1m6 0h1m4 0h1m5 0h1m9 0h1M183 30.5h2M178 31.5h1"/><path stroke="#e97" d="M143 0.5h1m14 0h1M111 1.5h1m13 0h1m3 0h1m22 0h1m12 0h1m1 0h1m5 0h1m3 0h1m2 0h1m13 0h1m8 0h1m2 0h1m7 0h1M108 2.5h1m10 0h1m8 0h1m6 0h1m5 0h1m9 0h1m8 0h1m3 0h1m1 0h1M108 3.5h2m6 0h1m1 0h3m6 0h1m4 0h1m2 0h1m2 0h1m13 0h1m1 0h1m13 0h1M131 4.5h1m4 0h1m6 0h1m2 0h1M114 5.5h2m13 0h2m1 0h1m17 0h1m16 0h2m23 0h1m1 0h1m5 0h1m16 0h1m1 0h1M109 6.5h2m2 0h1m14 0h1m3 0h1m19 0h1m8 0h2m24 0h1m3 0h1m14 0h1m2 0h1M112 7.5h2m3 0h1m1 0h1m7 0h3m4 0h1m9 0h1m14 0h1m3 0h1M108 8.5h1m25 0h1m11 0h1m2 0h1m15 0h1m2 0h1m6 0h1m1 0h1m5 0h1M116 9.5h2m14 0h1m12 0h1m4 0h1m2 0h1m2 0h1m10 0h1m1 0h1m3 0h1m3 0h1m5 0h1m1 0h1m11 0h1m10 0h3M136 10.5h1M1 11.5h2m1 0h1m6 0h3m1 0h1m3 0h1m1 0h1m2 0h1m1 0h3m4 0h1m6 0h1m1 0h2m1 0h1m1 0h1m9 0h2m9 0h1m1 0h2m2 0h1m5 0h1m6 0h1m14 0h1M39 12.5h1m4 0h1m14 0h1m9 0h1m3 0h2m9 0h1m7 0h1m7 0h1M7 13.5h1m9 0h1m4 0h1m5 0h1m7 0h1m8 0h1m8 0h2m4 0h1m19 0h1m12 0h1m10 0h1M13 15.5h1m4 0h3m11 0h1m1 0h1m3 0h1m2 0h1m1 0h1m2 0h1m4 0h2m2 0h3m3 0h1m8 0h1m2 0h1m1 0h2m3 0h1m1 0h4m2 0h3m2 0h1m6 0h1M10 17.5h1m5 0h1m2 0h1m19 0h1m1 0h1m4 0h1m3 0h1m3 0h1m9 0h1m1 0h1m4 0h1m14 0h1m2 0h1m94 0h1m2 0h1m3 0h1m2 0h1m16 0h1M3 21.5h1m1 0h3m3 0h1m1 0h2m3 0h1m5 0h1m1 0h1m1 0h2m1 0h1m2 0h1m3 0h1m6 0h1m9 0h1m8 0h1m1 0h1m1 0h1m4 0h1m2 0h2m2 0h1m2 0h2m3 0h2m13 0h1m2 0h1M192 23.5h1M27 26.5h1m2 0h1m2 0h1m27 0h1m5 0h1m5 0h1m38 0h1m2 0h1m7 0h1m4 0h1m29 0h1m2 0h2m5 0h1M0 27.5h1m12 0h1m5 0h1m4 0h1m5 0h2m2 0h1m6 0h1m7 0h1m8 0h1m9 0h1m6 0h1m2 0h2m4 0h1m13 0h1m4 0h2m70 0h1m1 0h1M0 29.5h1m6 0h1m4 0h1m4 0h2m47 0h2m26 0h1m1 0h1M8 30.5h1m16 0h1m39 0h1m20 0h1m10 0h1"/><path stroke="#fa9" d="M150 0.5h1m29 0h1m8 0h1m9 0h1m18 0h1M172 2.5h1m7 0h1m3 0h2m2 0h1m24 0h1m3 0h1m1 0h1M175 6.5h1m5 0h1m2 0h1m9 0h2M150 10.5h1m34 0h1m8 0h2m1 0h1m7 0h1m1 0h2m9 0h1M0 18.5h1m4 0h1m13 0h1m13 0h1m18 0h2m2 0h1m4 0h1m1 0h1m3 0h1m2 0h1m7 0h1m4 0h1m5 0h1m3 0h1m84 0h2m18 0h2m6 0h1m2 0h1m4 0h1M3 19.5h1m1 0h1m3 0h3m9 0h1m2 0h2m3 0h1m4 0h1m6 0h1m5 0h2m16 0h1m6 0h1m5 0h2m2 0h1m6 0h2m3 0h1m1 0h1m8 0h1m3 0h1m4 0h1m1 0h1m3 0h1m2 0h1m1 0h1m6 0h1m1 0h1m1 0h1m5 0h1m12 0h1m4 0h1m1 0h2m3 0h1m19 0h1m3 0h1m4 0h1m2 0h1m10 0h1m2 0h1m1 0h1M1 20.5h1m1 0h1m1 0h1m11 0h1m3 0h1m1 0h1m4 0h2m10 0h1m3 0h1m10 0h1m7 0h1m2 0h1m1 0h1m1 0h1m8 0h1m11 0h1m1 0h1m5 0h1m16 0h1m17 0h3m50 0h1m3 0h1m2 0h1m1 0h1m8 0h2m4 0h1m3 0h1m2 0h1M5 22.5h1m2 0h1m2 0h1m5 0h1m1 0h1m5 0h1m5 0h1m29 0h1m4 0h1m3 0h3m5 0h1m1 0h1m5 0h1m9 0h1m2 0h1m85 0h1m2 0h2m1 0h1m5 0h1m1 0h1m5 0h3m2 0h1M2 24.5h1m2 0h1m37 0h1m4 0h1m12 0h1m2 0h3m13 0h1m2 0h1m2 0h1m3 0h4m2 0h1m91 0h1m2 0h1m4 0h2m5 0h1m7 0h1M113 25.5h1m7 0h1m3 0h1m2 0h3m1 0h1m2 0h1m16 0h1m5 0h1m2 0h1m2 0h1m20 0h1m1 0h1m1 0h1m3 0h2m1 0h1m4 0h1m4 0h1m4 0h1m3 0h1M108 27.5h1m7 0h1m1 0h5m2 0h1m2 0h2m10 0h1m14 0h1m2 0h2m1 0h1m1 0h1M5 28.5h1m1 0h1m9 0h1m2 0h1m8 0h1m14 0h1m8 0h1m2 0h1m6 0h4m12 0h1m8 0h1m7 0h1m1 0h2m13 0h1m10 0h1m35 0h1m3 0h1M39 30.5h1m65 0h1m38 0h1M10 31.5h1m6 0h1m11 0h1m8 0h1m5 0h1m1 0h2m18 0h1m3 0h1m7 0h1m4 0h1m4 0h1m2 0h1m6 0h2m1 0h1m9 0h1m1 0h1m5 0h1m5 0h1m4 0h2m2 0h2m3 0h1m2 0h1m1 0h2m3 0h1m2 0h1m11 0h1m3 0h1M3 32.5h1m2 0h1m6 0h1m1 0h1m1 0h1m16 0h1m1 0h1m14 0h3m7 0h1m1 0h1m3 0h1m1 0h1m1 0h1m7 0h2m2 0h1m3 0h1m11 0h1m2 0h2m3 0h1m5 0h2m1 0h1m4 0h2m3 0h1m1 0h1m1 0h1m4 0h1m15 0h1m4 0h1m2 0h3m2 0h1m3 0h1"/><path stroke="#fca" d="M177 0.5h1m7 0h1m6 0h1m11 0h1M177 2.5h1M111 10.5h1m27 0h1m35 0h1m5 0h1M176 14.5h1m31 0h1M108 18.5h1m2 0h1m2 0h1m2 0h1m2 0h1m1 0h1m19 0h1m3 0h1m18 0h1m4 0h1M110 20.5h2m5 0h1m29 0h1m1 0h1m13 0h2M112 22.5h1m1 0h1m1 0h1m3 0h1m2 0h1m1 0h3m1 0h2m6 0h1m1 0h5m2 0h1m14 0h1m1 0h1m3 0h2M114 24.5h1m3 0h1m1 0h2m1 0h1m1 0h1m7 0h1m4 0h1m2 0h1m3 0h1m2 0h1m2 0h1M11 25.5h2m2 0h1m3 0h1m7 0h1m1 0h2m7 0h1m14 0h1m14 0h1m4 0h1m17 0h1m5 0h2M115 28.5h1m25 0h1m5 0h1m27 0h1m5 0h1m2 0h1M131 30.5h1m8 0h1m26 0h1m7 0h2m2 0h1M175 31.5h1m3 0h1m2 0h1M177 32.5h1"/><path stroke="#99a" d="M2 1.5h1m8 0h1m12 0h1m54 0h2m10 0h1m8 0h1m3 0h1M4 2.5h1m3 0h1m6 0h1m8 0h1m7 0h1m13 0h1m8 0h1m1 0h1m36 0h1M19 3.5h1m7 0h1m42 0h1m9 0h1m13 0h1m7 0h1M10 4.5h1m26 0h1m28 0h1m12 0h1m22 0h1M30 5.5h1m4 0h1m37 0h1M11 6.5h1m42 0h1m21 0h1m4 0h1m6 0h1M15 7.5h1m18 0h1m1 0h1m9 0h2m9 0h1m3 0h1m2 0h1m10 0h1m3 0h1m6 0h1m13 0h1M8 8.5h1m11 0h1m21 0h1m15 0h1m5 0h1m38 0h1m114 0h1M8 9.5h1m9 0h1m56 0h1M0 10.5h1m27 0h1m47 0h1M112 11.5h1m5 0h3m6 0h1m2 0h1m11 0h1m6 0h1m9 0h1m9 0h1M115 14.5h1m12 0h1M127 15.5h1m9 0h1m6 0h1m4 0h1m4 0h1m8 0h1M136 16.5h1m3 0h1m15 0h1m7 0h1M18 23.5h1"/><path stroke="#78a" d="M4 1.5h1m15 0h1m5 0h1m10 0h1m2 0h1m4 0h2m1 0h1m1 0h1m24 0h1m8 0h1M74 2.5h1m25 0h2M3 3.5h1m29 0h4m21 0h1m10 0h1m1 0h1m4 0h3m5 0h1m6 0h2M0 4.5h2m22 0h1m2 0h2m7 0h1m1 0h1m1 0h1m1 0h1m3 0h1m7 0h1m6 0h1m6 0h1m5 0h2m15 0h1m9 0h1m3 0h1M8 6.5h1m9 0h1m9 0h1m21 0h2m6 0h1m10 0h1m22 0h1M0 7.5h1m3 0h1m17 0h1m10 0h1m4 0h1m2 0h1m1 0h1m4 0h1m6 0h1m17 0h1m4 0h1m13 0h1m4 0h1M32 8.5h1m2 0h1m2 0h1m59 0h1m3 0h1m2 0h1m84 0h1m24 0h1M3 9.5h1m2 0h1m52 0h1m8 0h1M56 10.5h1M111 11.5h1m2 0h1m2 0h1m3 0h1m11 0h1m28 0h1m2 0h1M113 12.5h1m2 0h1m2 0h2m6 0h1m1 0h1m5 0h1m5 0h1m7 0h1m6 0h1m5 0h1m2 0h1M117 13.5h1m7 0h1m3 0h1m30 0h1m16 0h1m3 0h1M109 14.5h1m1 0h1m20 0h1m8 0h1m6 0h1m4 0h1m7 0h1m3 0h1m4 0h1M115 15.5h1m6 0h1m2 0h2m14 0h1m8 0h1m5 0h1m5 0h1M147 16.5h1m14 0h1M171 25.5h1M210 28.5h1m4 0h1M197 30.5h1m5 0h1"/><path stroke="#68b" d="M6 1.5h1m25 0h1m26 0h1M6 3.5h1m2 0h1m65 0h1m24 0h1M57 4.5h1M156 11.5h1M131 12.5h1M148 13.5h1M183 25.5h1M208 30.5h1"/><path stroke="#79b" d="M7 1.5h1M59 2.5h1M50 3.5h1M2 4.5h1m17 0h1m2 0h1m17 0h1m3 0h1m2 0h1m23 0h1M113 11.5h1m8 0h1m37 0h1M148 12.5h1m2 0h1M164 14.5h1M184 25.5h1"/><path stroke="#878" d="M8 1.5h1m89 0h1M2 3.5h1M10 7.5h1M72 9.5h1M111 13.5h1M134 15.5h1M193 28.5h1m5 0h1m17 0h2M211 29.5h1M196 30.5h1M195 31.5h1m9 0h1m3 0h1m5 0h2M195 32.5h1m16 0h1"/><path stroke="#a9a" d="M9 1.5h1m50 0h1M3 2.5h1m9 0h1m12 0h1m10 0h1m1 0h1m2 0h1m32 0h1m3 0h1M83 3.5h1M96 4.5h1M77 5.5h1M6 6.5h1M9 7.5h1M12 8.5h1m2 0h1M26 9.5h1M32 10.5h1m30 0h1M152 11.5h1M153 15.5h1M108 16.5h1m29 0h1m28 0h1M149 17.5h2"/><path stroke="#889" d="M10 1.5h1m2 0h1m1 0h1m3 0h1m2 0h1m7 0h1m2 0h1m20 0h2m1 0h1m10 0h1m1 0h1m1 0h1m4 0h1m9 0h1m4 0h1m1 0h1m6 0h1m1 0h1M1 2.5h1m8 0h1m3 0h1m3 0h1m14 0h1m7 0h1m7 0h1m18 0h1m4 0h1m2 0h1m18 0h1m9 0h1M8 3.5h1m14 0h1m1 0h1m14 0h1m3 0h1m9 0h1m34 0h1m8 0h1M13 4.5h1m11 0h1m21 0h1m5 0h1m4 0h1m1 0h1M68 5.5h1m12 0h1m21 0h1M4 6.5h1m16 0h1m12 0h1m1 0h3m1 0h1m21 0h1m4 0h2m1 0h1m1 0h1m12 0h1m3 0h1m5 0h3m5 0h1m2 0h1M2 7.5h1m8 0h1m17 0h1m5 0h1m13 0h1m9 0h2m1 0h1m8 0h1m2 0h1m5 0h1m9 0h1m12 0h2M22 8.5h1m20 0h1m25 0h1m2 0h1m1 0h1m5 0h1m9 0h1m16 0h1m92 0h1m8 0h1M4 9.5h1m30 0h1m3 0h1m1 0h1m3 0h1m20 0h1m14 0h2M33 10.5h1m61 0h1M123 11.5h1m1 0h1m8 0h1m3 0h1m5 0h2m7 0h1m12 0h1m8 0h1M136 12.5h1m22 0h1m4 0h1m4 0h1M128 13.5h1m3 0h1m20 0h1m18 0h1m5 0h1m1 0h1m3 0h1M75 14.5h1m34 0h1m7 0h1m6 0h1m8 0h1m1 0h1m8 0h1m5 0h1M113 15.5h1m17 0h1m7 0h1m2 0h1m16 0h1M10 16.5h1m15 0h1m49 0h1m40 0h1m4 0h1m11 0h1m4 0h1M117 17.5h1M76 23.5h1M196 28.5h1m5 0h3m2 0h1m3 0h1M186 29.5h1m19 0h1M190 30.5h1m3 0h1m10 0h3m4 0h1M194 31.5h1m3 0h1m2 0h2m14 0h1M191 32.5h1m8 0h1"/><path stroke="#789" d="M14 1.5h1m67 0h1M14 3.5h1m15 0h1m6 0h1m1 0h1m6 0h1m17 0h1m9 0h1m11 0h1m10 0h1m3 0h1M18 4.5h1m37 0h1m28 0h1M219 8.5h1M57 9.5h1m19 0h1m5 0h1m13 0h1M115 12.5h1m16 0h1m4 0h1m4 0h1m11 0h1M145 13.5h1M108 14.5h1M216 28.5h1"/><path stroke="#68a" d="M36 1.5h1m34 0h1m9 0h1M4 3.5h1m10 0h1m32 0h1m32 0h2m2 0h1M4 4.5h1m7 0h1m17 0h2m7 0h1m11 0h1m3 0h1m3 0h1m9 0h1m16 0h1m10 0h1m2 0h1m5 0h1M59 6.5h1m17 0h1M6 7.5h1m49 0h1M62 8.5h1M108 11.5h1m1 0h1m36 0h1m2 0h1m17 0h1m1 0h1M122 12.5h1m10 0h1m11 0h1m11 0h1m3 0h1M112 13.5h1m8 0h1m1 0h1m26 0h1m18 0h1m5 0h1M121 14.5h1m1 0h1m5 0h1m3 0h1m4 0h1m4 0h1M178 25.5h1M192 28.5h1M196 29.5h1m16 0h1M193 30.5h1m6 0h1m15 0h2M190 31.5h1"/><path stroke="#98a" d="M41 1.5h1M30 6.5h1m21 0h1M85 7.5h1M56 8.5h1M33 9.5h2m60 0h1M119 15.5h1M161 16.5h1"/><path stroke="#999" d="M43 1.5h1m52 0h1M85 2.5h1M41 3.5h1M34 4.5h1M64 5.5h1M83 6.5h1M24 7.5h1m81 0h1M27 8.5h1m24 0h1M89 10.5h1M129 11.5h1M176 13.5h1M219 15.5h1M109 17.5h1M209 26.5h1m7 0h1"/><path stroke="#67a" d="M51 1.5h1M10 3.5h1m95 0h1M43 4.5h1M59 8.5h1M138 12.5h2m3 0h1m22 0h3M124 13.5h1m29 0h1M122 14.5h1m4 0h1m14 0h1m3 0h1m3 0h1m12 0h1m3 0h3M185 28.5h1m2 0h1m11 0h1m11 0h1m1 0h1M189 29.5h1m26 0h1M198 30.5h1"/><path stroke="#8ab" d="M53 1.5h1M76 8.5h1M180 25.5h1"/><path stroke="#89b" d="M73 1.5h1M21 3.5h1m9 0h1m25 0h1M14 4.5h1m18 0h1m58 0h1m2 0h1m8 0h1m2 0h1M52 7.5h1M210 8.5h1M137 11.5h1m17 0h1M150 12.5h1M111 15.5h1m58 0h1M198 26.5h1"/><path stroke="#57a" d="M76 1.5h1M22 3.5h1M110 12.5h1m12 0h1m46 0h1M120 13.5h1m20 0h1m13 0h3m8 0h1M114 14.5h1m2 0h1m19 0h1m17 0h1m10 0h1M184 24.5h1M186 27.5h1m7 0h1m16 0h1M213 28.5h1M186 30.5h1m12 0h1m1 0h1m2 0h1m4 0h1"/><path stroke="#99b" d="M106 1.5h1M4 8.5h1m43 0h1"/><path stroke="#d97" d="M110 1.5h1m49 0h1m55 0h1M139 2.5h1m10 0h1M144 4.5h1M148 9.5h1M85 13.5h1M1 14.5h1m15 0h1m19 0h1m25 0h1m23 0h1M37 15.5h1M79 16.5h1M45 17.5h1m42 0h1m103 0h1m2 0h1m20 0h1M32 21.5h1m11 0h1m51 0h1M14 23.5h1m7 0h1m6 0h1m20 0h1m56 0h1M88 27.5h1M144 29.5h1m12 0h2m15 0h1"/><path stroke="#e87" d="M113 1.5h1m2 0h1m4 0h2m4 0h1m6 0h4m2 0h1m3 0h2m3 0h1m3 0h1m1 0h1m8 0h1m3 0h1m1 0h1m4 0h2m2 0h1m11 0h1m1 0h1m1 0h2m4 0h1m2 0h2m4 0h1m4 0h1m1 0h3M109 2.5h1m4 0h1m1 0h1m1 0h1m1 0h3m8 0h1m1 0h2m1 0h2m5 0h1m1 0h1m3 0h1m2 0h4m2 0h1m2 0h3m1 0h1m3 0h1M112 3.5h1m1 0h1m11 0h1m1 0h1m5 0h1m4 0h1m4 0h1m2 0h3m3 0h1m4 0h1m2 0h1m3 0h1m3 0h2M109 4.5h2m5 0h1m1 0h1m1 0h2m3 0h1m2 0h1m5 0h1m2 0h1m2 0h1m4 0h1m2 0h2m1 0h1m1 0h1m2 0h2m1 0h5m1 0h2m3 0h1M116 5.5h1m1 0h2m1 0h1m3 0h1m2 0h1m2 0h1m3 0h1m1 0h1m3 0h1m2 0h1m2 0h1m1 0h1m1 0h1m2 0h3m6 0h1m2 0h1m2 0h1m7 0h1m1 0h1m5 0h1m7 0h1m1 0h2m1 0h1m5 0h2m2 0h2m1 0h1m1 0h1M112 6.5h1m8 0h1m3 0h1m3 0h1m1 0h1m1 0h1m2 0h2m3 0h2m1 0h8m2 0h3m2 0h1m5 0h1m1 0h1M116 7.5h1m3 0h2m2 0h2m4 0h1m1 0h1m2 0h1m4 0h1m2 0h1m1 0h1m2 0h2m1 0h3m6 0h1m6 0h2M113 8.5h2m3 0h1m7 0h3m1 0h1m8 0h1m5 0h1m5 0h3m6 0h4m3 0h1m6 0h1m1 0h1m3 0h1m1 0h1m1 0h1M109 9.5h1m4 0h1m3 0h1m3 0h1m2 0h2m1 0h3m3 0h2m1 0h2m7 0h1m4 0h2m2 0h1m1 0h2m2 0h2m2 0h1m4 0h1m3 0h2m5 0h2m1 0h1m2 0h3m6 0h1m2 0h3m1 0h1m3 0h1m3 0h1m1 0h6M7 11.5h4m3 0h1m1 0h1m1 0h1m6 0h1m3 0h1m4 0h1m2 0h2m2 0h1m2 0h1m1 0h1m5 0h1m7 0h1m3 0h1m4 0h1m3 0h1m4 0h1m3 0h1m3 0h1m2 0h4m1 0h3m1 0h4m1 0h3M0 12.5h1m2 0h2m2 0h1m2 0h1m3 0h1m7 0h3m2 0h1m4 0h1m2 0h1m1 0h1m8 0h1m2 0h1m8 0h1m3 0h1m4 0h1m2 0h2m3 0h3m5 0h1m3 0h1m3 0h1m5 0h1m4 0h2m1 0h1m98 0h1M0 13.5h1m2 0h1m1 0h1m10 0h1m1 0h1m2 0h1m3 0h2m2 0h1m3 0h2m3 0h1m2 0h1m1 0h2m4 0h1m2 0h1m10 0h1m1 0h1m1 0h1m2 0h1m2 0h1m1 0h1m1 0h1m1 0h1m1 0h1m8 0h3m8 0h1m1 0h1m2 0h1m91 0h1m20 0h1M0 15.5h3m1 0h1m5 0h1m5 0h1m5 0h2m2 0h4m5 0h1m6 0h1m1 0h1m3 0h2m3 0h2m4 0h1m2 0h2m1 0h1m1 0h1m1 0h1m1 0h2m1 0h1m11 0h1m5 0h1m3 0h1m2 0h1m4 0h1m1 0h2M5 17.5h1m3 0h1m2 0h1m2 0h1m2 0h1m6 0h1m5 0h2m1 0h1m1 0h2m4 0h1m8 0h1m1 0h1m5 0h2m2 0h1m1 0h1m2 0h2m3 0h1m3 0h1m1 0h2m2 0h3m5 0h1m1 0h1m2 0h4m2 0h1m4 0h1m64 0h1m5 0h1m2 0h1m11 0h1m5 0h1m2 0h2m1 0h1m8 0h1m2 0h2M0 21.5h1m1 0h1m5 0h2m2 0h1m2 0h3m1 0h1m1 0h1m15 0h1m2 0h3m5 0h1m1 0h1m1 0h1m3 0h1m3 0h4m3 0h1m2 0h1m1 0h1m2 0h1m6 0h1m3 0h1m4 0h1m1 0h1m3 0h3m5 0h1m96 0h1M186 23.5h1m6 0h1m1 0h1m8 0h1M12 26.5h2m87 0h1M1 27.5h1m2 0h1m4 0h1m1 0h2m3 0h1m5 0h1m4 0h3m3 0h1m2 0h2m4 0h1m3 0h3m5 0h2m5 0h1m2 0h1m4 0h1m2 0h2m6 0h1m2 0h1m1 0h2m3 0h1m1 0h1m3 0h2m3 0h1m4 0h2m63 0h1m12 0h1M13 29.5h1m2 0h1m5 0h1m3 0h2m2 0h1m1 0h1m2 0h1m4 0h1m4 0h1m2 0h1m2 0h1m1 0h1m10 0h2m4 0h1m1 0h1m5 0h1m4 0h1m1 0h1m1 0h2m3 0h2m4 0h4"/><path stroke="#e86" d="M118 1.5h1m13 0h1m6 0h1m21 0h1m16 0h1m5 0h1m2 0h1m11 0h1m2 0h1m5 0h1M123 2.5h1m3 0h1m12 0h1m15 0h1m2 0h1M129 3.5h2m14 0h1m9 0h1m4 0h1m1 0h1M123 4.5h1m95 0h1M108 5.5h2m1 0h3m3 0h1m2 0h1m1 0h1m1 0h1m1 0h1m6 0h2m1 0h1m2 0h2m4 0h1m2 0h1m3 0h2m5 0h2m1 0h1m1 0h2m4 0h1m2 0h3m6 0h1m1 0h1m4 0h2m6 0h1m1 0h1m2 0h1m3 0h1m5 0h1m2 0h2m1 0h1M116 6.5h1m5 0h2m11 0h1m3 0h1m29 0h2M136 7.5h1m17 0h1m2 0h2m10 0h1M115 8.5h2m25 0h1m5 0h1m7 0h1m2 0h1m9 0h1m2 0h2m4 0h1m2 0h1M127 9.5h1m48 0h1m1 0h2m6 0h1m4 0h5m6 0h1m1 0h1m1 0h1m5 0h1m6 0h1M5 11.5h1m11 0h1m37 0h1m5 0h1m1 0h1m1 0h3m11 0h1m3 0h1m1 0h1m2 0h1m18 0h1M1 12.5h2m3 0h1m1 0h2m1 0h2m3 0h1m1 0h1m6 0h1m2 0h1m2 0h1m1 0h2m3 0h1m2 0h3m1 0h1m1 0h1m2 0h3m1 0h4m3 0h1m2 0h3m1 0h1m3 0h1m5 0h1m2 0h2m2 0h1m2 0h1m1 0h1m2 0h2m1 0h1m4 0h1m4 0h2m81 0h1m1 0h1m1 0h1m4 0h1m1 0h1m7 0h2m6 0h1m2 0h1M4 13.5h1m6 0h1m1 0h1m1 0h1m7 0h1m3 0h1m3 0h1m3 0h1m10 0h1m1 0h1m13 0h1m5 0h2m2 0h1m14 0h3m4 0h1m4 0h2m6 0h1m80 0h2m3 0h2m13 0h2m8 0h1M3 15.5h1m1 0h2m1 0h2m5 0h1m5 0h1m2 0h2m4 0h2m4 0h1m10 0h1m16 0h1m12 0h3m7 0h1m3 0h1m6 0h1m2 0h3m1 0h1M29 17.5h1m13 0h2m2 0h1m7 0h1m31 0h1m7 0h1m4 0h1m3 0h1m81 0h1m17 0h1m5 0h1m4 0h1M10 21.5h1m9 0h1m2 0h1m1 0h1m1 0h1m2 0h1m2 0h1m1 0h1m3 0h1m3 0h1m3 0h1m3 0h1m1 0h1m3 0h2m6 0h1m5 0h1m2 0h1m3 0h2m5 0h1m4 0h1m1 0h1m1 0h2m4 0h3m1 0h1m2 0h1m92 0h1m8 0h1M185 23.5h1m2 0h1m1 0h1m9 0h1m2 0h1m5 0h2m1 0h1m3 0h1M2 27.5h1m4 0h1m9 0h1m7 0h2m11 0h1m21 0h1m1 0h1m2 0h2m4 0h1m2 0h1m14 0h1m9 0h2m1 0h1M61 29.5h1"/><path stroke="#d76" d="M156 1.5h1M121 3.5h1M123 5.5h1M162 7.5h1M144 9.5h1M190 12.5h1m5 0h1m14 0h1M61 13.5h1M6 17.5h1m10 0h1m167 0h1M193 21.5h1m17 0h1m7 0h1M211 23.5h1M47 26.5h1m98 0h1M73 29.5h1m5 0h2m3 0h1m43 0h1"/><path stroke="#d86" d="M159 1.5h1M114 4.5h1m35 0h1M180 17.5h1M4 23.5h1M3 26.5h1m68 0h1m21 0h1m31 0h1m5 0h1M31 29.5h1m50 0h1m6 0h2m14 0h1m40 0h1"/><path stroke="#e76" d="M181 1.5h1M177 4.5h1m3 0h1m3 0h1m2 0h1m1 0h1m3 0h1m14 0h1M142 5.5h1m14 0h1m3 0h1m14 0h1m1 0h1m2 0h1m1 0h1m4 0h1m2 0h1m9 0h1m1 0h1m3 0h1m2 0h1m3 0h1M176 7.5h2M171 8.5h1m7 0h1M171 9.5h2m7 0h1M31 11.5h1m17 0h1m1 0h1m1 0h1m18 0h1M13 12.5h1m1 0h1m1 0h1m1 0h3m4 0h1m2 0h2m5 0h1m3 0h1m7 0h1m11 0h1m2 0h1m15 0h1m6 0h1m2 0h1m5 0h1m2 0h2m4 0h1m80 0h4m3 0h1m6 0h1m1 0h1m1 0h1m1 0h1m1 0h1m2 0h1m1 0h1m2 0h1m1 0h2M8 13.5h1m15 0h1m70 0h1m89 0h3m2 0h2m4 0h2m1 0h4m1 0h4m2 0h4m1 0h2M17 15.5h1m21 0h1m10 0h1m46 0h1M38 17.5h1m167 0h1M186 21.5h1m1 0h1m1 0h1m1 0h1m2 0h1m5 0h1m1 0h1M187 23.5h1m1 0h1m4 0h1m2 0h3m1 0h1m4 0h3m6 0h1m2 0h2M20 27.5h1"/><path stroke="#c99" d="M197 1.5h1M86 2.5h1M52 5.5h1M23 7.5h1M65 8.5h1M20 9.5h1M46 10.5h1m1 0h1m9 0h1m16 0h1M188 11.5h1m5 0h1m10 0h1M24 14.5h1m48 0h1m25 0h1M78 16.5h1m120 0h1m12 0h1M69 23.5h1m2 0h1"/><path stroke="#b9a" d="M53 2.5h1M101 5.5h1M166 17.5h1"/><path stroke="#aaa" d="M72 2.5h1m8 0h1M63 5.5h1M107 9.5h1M128 16.5h1"/><path stroke="#d99" d="M170 2.5h1M53 14.5h1M35 23.5h1M151 26.5h1"/><path stroke="#79a" d="M0 3.5h1m51 0h1m9 0h1m4 0h1M81 4.5h1M84 5.5h1M45 7.5h1M82 8.5h1M109 11.5h1M158 12.5h1M164 15.5h1"/><path stroke="#58a" d="M1 3.5h1M32 4.5h1m17 0h1m19 0h1m13 0h1M160 12.5h1M138 13.5h1M157 14.5h1m4 0h1M174 24.5h1M201 29.5h1"/><path stroke="#69b" d="M43 3.5h1M52 4.5h1M177 24.5h1"/><path stroke="#569" d="M45 3.5h1M110 13.5h1m2 0h1m26 0h1m26 0h2M144 14.5h1M188 29.5h1m3 0h1m9 0h3"/><path stroke="#d44" d="M171 3.5h1m35 0h1m3 0h1"/><path stroke="#d54" d="M172 3.5h13m2 0h3m1 0h5m4 0h4m1 0h2m1 0h1m1 0h1m1 0h3m3 0h2M214 21.5h1"/><path stroke="#d65" d="M185 3.5h2m3 0h1m7 0h1m17 0h2M171 4.5h6m2 0h2m3 0h1m2 0h1m1 0h1m1 0h1m1 0h1m2 0h1m1 0h1m2 0h1m2 0h1m1 0h2m2 0h3m1 0h2m1 0h2M172 7.5h3m3 0h3m1 0h1m1 0h1M5 12.5h1m188 0h1m18 0h2M214 13.5h1M187 21.5h1m1 0h1m4 0h1m2 0h1m7 0h2m1 0h1m1 0h1m5 0h1M196 23.5h1m5 0h1m11 0h1m2 0h1"/><path stroke="#c44" d="M196 3.5h1m2 0h1m4 0h1m10 0h1"/><path stroke="#d55" d="M197 3.5h1m11 0h1M203 4.5h1"/><path stroke="#9ab" d="M62 4.5h1m17 0h1m17 0h1M115 11.5h2m15 0h1"/><path stroke="#c77" d="M112 4.5h1m2 0h1M31 8.5h1M111 9.5h1M86 13.5h1m10 0h1M16 14.5h1m45 0h1m17 0h1M190 16.5h1m17 0h1m2 0h1M62 17.5h1m133 0h1m3 0h1M81 21.5h1M2 23.5h1m58 0h1M97 26.5h1m56 0h1M40 27.5h1M10 29.5h1m12 0h1m1 0h1m48 0h1m33 0h1m12 0h1"/><path stroke="#e65" d="M178 4.5h1M175 7.5h1M195 13.5h1"/><path stroke="#e75" d="M182 4.5h2m2 0h1m8 0h1m1 0h1m1 0h1m2 0h1m5 0h1M171 5.5h2m7 0h1m6 0h1M171 7.5h1m9 0h1m1 0h1M53 12.5h1m26 0h1m114 0h1m10 0h1M192 13.5h1m10 0h1m13 0h1M191 21.5h1m6 0h1m13 0h2"/><path stroke="#d64" d="M192 4.5h1"/><path stroke="#d75" d="M200 4.5h1m4 0h1m7 0h1m2 0h1M197 12.5h1m4 0h1M185 21.5h1m10 0h1m2 0h1m4 0h1m2 0h1m7 0h1m1 0h2M191 23.5h1m13 0h1m7 0h1"/><path stroke="#ba9" d="M82 5.5h1"/><path stroke="#baa" d="M90 5.5h1M46 8.5h1M11 9.5h1M154 17.5h1M177 29.5h1"/><path stroke="#fa8" d="M178 6.5h1M99 18.5h1m71 0h1m16 0h1M99 19.5h1M38 20.5h1m22 0h1M17 24.5h1m60 0h1m10 0h1m8 0h1m107 0h1M214 25.5h1M132 27.5h1m18 0h1M25 31.5h1m102 0h1"/><path stroke="#679" d="M84 7.5h1M0 8.5h1m50 0h1m43 0h1M143 11.5h1M108 12.5h1m2 0h1m14 0h1m3 0h1m9 0h1M114 13.5h1m12 0h1m6 0h1m2 0h1m4 0h1m1 0h1m4 0h1m1 0h2m12 0h1m13 0h1M112 14.5h1m6 0h1m11 0h1M209 28.5h1M185 29.5h1m5 0h1m5 0h2m19 0h2M195 30.5h1m19 0h1M208 31.5h1m4 0h1"/><path stroke="#979" d="M13 8.5h1"/><path stroke="#c76" d="M150 8.5h1M14 13.5h1m56 0h1M2 17.5h1M103 29.5h1"/><path stroke="#da8" d="M164 8.5h1"/><path stroke="#a77" d="M23 9.5h1M204 15.5h1M107 16.5h1M119 17.5h1m3 0h1M59 27.5h1M182 29.5h1M210 32.5h1"/><path stroke="#caa" d="M65 9.5h1"/><path stroke="#ca9" d="M52 10.5h1"/><path stroke="#ecb" d="M108 10.5h1M108 22.5h1M0 25.5h1m36 0h1m19 0h1m42 0h1"/><path stroke="#579" d="M114 12.5h1m31 0h1M109 13.5h1m33 0h1m2 0h2m10 0h1M149 14.5h1m9 0h1M187 29.5h1m6 0h2m11 0h1M186 31.5h1"/><path stroke="#47a" d="M152 12.5h1M108 13.5h1m17 0h1m4 0h1m4 0h1m26 0h1m6 0h1M120 14.5h1M175 21.5h2m6 0h1M175 24.5h2m1 0h1m1 0h1m2 0h1M177 25.5h1M189 27.5h1m1 0h1m3 0h2m3 0h1m6 0h1m2 0h1"/><path stroke="#669" d="M115 13.5h1"/><path stroke="#469" d="M122 13.5h1m10 0h1m25 0h1m1 0h1M147 14.5h1M195 28.5h1m2 0h1M200 29.5h1m11 0h1"/><path stroke="#668" d="M139 13.5h1M160 14.5h1M199 29.5h1m17 0h1"/><path stroke="#479" d="M158 14.5h1"/><path stroke="#eca" d="M219 14.5h1M159 24.5h1M2 25.5h1m28 0h1m18 0h1m21 0h1m1 0h1m20 0h1M178 30.5h1m2 0h1"/><path stroke="#9aa" d="M133 15.5h1"/><path stroke="#d77" d="M61 16.5h1"/><path stroke="#fcb" d="M138 18.5h1M115 22.5h1m1 0h1m15 0h1m2 0h1m1 0h1m8 0h1m3 0h1m2 0h1m2 0h1m1 0h1m6 0h1m3 0h1M109 24.5h2m20 0h1m8 0h1m29 0h1M56 25.5h1m19 0h2m3 0h1m2 0h1m16 0h1m4 0h1M120 28.5h1m61 0h1M117 30.5h1m59 0h1"/><path stroke="#248" d="M171 19.5h1m1 0h1m1 0h1m1 0h4m1 0h1m1 0h1"/><path stroke="#258" d="M172 19.5h1m1 0h1m1 0h1m4 0h1m1 0h1M173 20.5h1"/><path stroke="#259" d="M171 20.5h2m1 0h11"/><path stroke="#9cd" d="M108 21.5h1m3 0h1m1 0h2m4 0h4m5 0h1m6 0h1m3 0h1m3 0h1m3 0h1m2 0h1m1 0h1m1 0h2m1 0h1m3 0h1m5 0h3M171 22.5h1m6 0h1"/><path stroke="#acd" d="M109 21.5h1m6 0h2m1 0h1m4 0h4m5 0h3m2 0h1m3 0h2m3 0h1m2 0h1m1 0h1m8 0h1m3 0h3M172 22.5h1m11 0h1M177 26.5h1m1 0h1"/><path stroke="#8bd" d="M110 21.5h2M173 22.5h1m1 0h3m1 0h2m2 0h1"/><path stroke="#ace" d="M113 21.5h1m4 0h1m9 0h1m2 0h1m5 0h1m1 0h1m5 0h2m10 0h1m2 0h1m2 0h2M183 23.5h1M176 26.5h1m6 0h1"/><path stroke="#bde" d="M130 21.5h1m1 0h1m26 0h1M109 23.5h1m2 0h1m1 0h1m1 0h1m4 0h1m6 0h1m2 0h1m1 0h1m3 0h1m2 0h1m1 0h2m1 0h1m1 0h4m3 0h1m2 0h1m1 0h1m1 0h1m3 0h1m4 0h1m3 0h5m1 0h3m1 0h1M171 26.5h1m1 0h2m5 0h1m3 0h1"/><path stroke="#9bd" d="M141 21.5h1m12 0h1M174 22.5h1m7 0h1"/><path stroke="#bce" d="M149 21.5h1M110 23.5h1m68 0h1M175 26.5h1m5 0h1"/><path stroke="#48b" d="M171 21.5h3M179 24.5h1"/><path stroke="#36a" d="M174 21.5h1M187 27.5h1m4 0h2m4 0h1m2 0h1m2 0h1m1 0h1m2 0h1m5 0h1"/><path stroke="#37a" d="M177 21.5h1m6 0h1M172 24.5h1m8 0h1M197 27.5h1m1 0h1m2 0h1m2 0h1m8 0h1m1 0h1m2 0h1"/><path stroke="#58b" d="M178 21.5h2m1 0h1M171 24.5h1m1 0h1m8 0h1M173 25.5h3m3 0h1m1 0h1M188 27.5h1"/><path stroke="#47b" d="M180 21.5h1M185 27.5h1m4 0h1m12 0h1m8 0h2m3 0h2"/><path stroke="#369" d="M182 21.5h1M208 27.5h1"/><path stroke="#7ad" d="M181 22.5h1"/><path stroke="#cde" d="M108 23.5h1m2 0h1m1 0h1m1 0h1m1 0h4m1 0h6m1 0h2m3 0h3m1 0h2m1 0h1m2 0h1m1 0h1m4 0h3m1 0h2m1 0h1m1 0h1m1 0h3m1 0h4m1 0h3"/><path stroke="#dde" d="M132 23.5h1"/><path stroke="#69c" d="M176 25.5h1m5 0h1"/><path stroke="#da9" d="M4 26.5h1"/><path stroke="#bdd" d="M172 26.5h1"/><path stroke="#bcd" d="M178 26.5h1m3 0h1"/><path stroke="#778" d="M189 28.5h1M190 29.5h1m23 0h1"/><path stroke="#967" d="M206 28.5h1"/><path stroke="#568" d="M208 29.5h1"/><path stroke="#678" d="M189 30.5h1"/></g><rect x="288" y="195" width="107.5" height="2.6" fill="#e8605a"/><rect x="395.5" y="195" width="63.7" height="2.6" fill="#7ab317"/><rect x="459.2" y="195" width="13.8" height="2.6" fill="#1fb1c4"/><rect x="473" y="195" width="35" height="2.6" fill="#a971c4"/><text x="285.6" y="205.37" font-size="5.1" text-anchor="end" fill="#111">Pf4</text><text x="285.6" y="210.09" font-size="5.1" text-anchor="end" fill="#111">Rap1b</text><text x="285.6" y="214.82" font-size="5.1" text-anchor="end" fill="#111">Trem1</text><text x="285.6" y="219.56" font-size="5.1" text-anchor="end" fill="#111">Pbx1</text><text x="285.6" y="224.28" font-size="5.1" text-anchor="end" fill="#111">Itga2b</text><text x="285.6" y="229.01" font-size="5.1" text-anchor="end" fill="#111">Cd9</text><text x="285.6" y="233.75" font-size="5.1" text-anchor="end" fill="#111">Gp9</text><text x="285.6" y="238.47" font-size="5.1" text-anchor="end" fill="#111">Gp5</text><text x="285.6" y="243.21" font-size="5.1" text-anchor="end" fill="#111">F2r</text><text x="285.6" y="247.94" font-size="5.1" text-anchor="end" fill="#111">Fli1</text><text x="285.6" y="252.67" font-size="5.1" text-anchor="end" fill="#111">Vwf</text><text x="285.6" y="257.39" font-size="5.1" text-anchor="end" fill="#111">Ifitm1</text><text x="285.6" y="262.12" font-size="5.1" text-anchor="end" fill="#111">Hlf</text><text x="285.6" y="266.86" font-size="5.1" text-anchor="end" fill="#111">Cd34</text><text x="285.6" y="271.58" font-size="5.1" text-anchor="end" fill="#111">Ly6a</text><text x="285.6" y="276.31" font-size="5.1" text-anchor="end" fill="#111">Sox4</text><text x="285.6" y="281.05" font-size="5.1" text-anchor="end" fill="#111">Apobec3</text><text x="285.6" y="285.78" font-size="5.1" text-anchor="end" fill="#111">Mecom</text><text x="285.6" y="290.5" font-size="5.1" text-anchor="end" fill="#111">Procr</text><text x="285.6" y="295.24" font-size="5.1" text-anchor="end" fill="#111">Ctsg</text><text x="285.6" y="299.96" font-size="5.1" text-anchor="end" fill="#111">Mpo</text><text x="285.6" y="304.69" font-size="5.1" text-anchor="end" fill="#111">Prtn3</text><text x="285.6" y="309.43" font-size="5.1" text-anchor="end" fill="#111">Tyrobp</text><text x="285.6" y="314.16" font-size="5.1" text-anchor="end" fill="#111">Cst3</text><text x="285.6" y="318.88" font-size="5.1" text-anchor="end" fill="#111">Irf8</text><text x="285.6" y="323.62" font-size="5.1" text-anchor="end" fill="#111">Slpi</text><text x="285.6" y="328.35" font-size="5.1" text-anchor="end" fill="#111">Cdk1</text><text x="285.6" y="333.07" font-size="5.1" text-anchor="end" fill="#111">Car1</text><text x="285.6" y="337.81" font-size="5.1" text-anchor="end" fill="#111">Rhd</text><text x="285.6" y="342.54" font-size="5.1" text-anchor="end" fill="#111">Cd24a</text><text x="285.6" y="347.27" font-size="5.1" text-anchor="end" fill="#111">Klf1</text><text x="285.6" y="352" font-size="5.1" text-anchor="end" fill="#111">Tspo2</text><text x="285.6" y="356.73" font-size="5.1" text-anchor="end" fill="#111">Ermap</text><text x="386.3" y="183.7" font-size="5.7" font-style="italic" fill="#c6304f" stroke="#c6304f" stroke-width="0.12" textLength="16.4" lengthAdjust="spacingAndGlyphs">Runx1</text><text x="403.2" y="180.9" font-size="3.9" font-style="italic" fill="#c6304f" textLength="5.8" lengthAdjust="spacingAndGlyphs">&#8722;/&#8722;</text><text x="301" y="192.7" font-size="4.95" textLength="48" lengthAdjust="spacingAndGlyphs" fill="#222">Mega-primed LT-HSC</text><text x="398.8" y="192.7" font-size="4.95" textLength="52.5" lengthAdjust="spacingAndGlyphs" fill="#222">Non-Mega-primed HSC</text><text x="459.3" y="187.3" font-size="4.95" textLength="23.1" lengthAdjust="spacingAndGlyphs" fill="#222">Ery-primed</text><text x="459.3" y="192.8" font-size="4.95" textLength="22.6" lengthAdjust="spacingAndGlyphs" fill="#222">Progenitor</text><text x="488.6" y="192.8" font-size="4.95" textLength="13.7" lengthAdjust="spacingAndGlyphs" fill="#222">MPP2</text><text x="7.7" y="384" font-size="11.2" font-weight="bold" textLength="7.7" lengthAdjust="spacingAndGlyphs" fill="#000">D</text><text x="92.6" y="391.3" font-size="5.95" textLength="58.6" lengthAdjust="spacingAndGlyphs" fill="#111">Mega-primed LT-HSC</text><text x="40.2" y="400.2" font-size="6.3" font-style="italic" fill="#3f6f9f" stroke="#3f6f9f" stroke-width="0.12" textLength="18.1" lengthAdjust="spacingAndGlyphs">Runx1</text><text x="58.8" y="397.2" font-size="4" font-style="italic" fill="#3f6f9f" textLength="5" lengthAdjust="spacingAndGlyphs">F/F</text><text x="129" y="400.2" font-size="6.3" font-style="italic" fill="#c6304f" stroke="#c6304f" stroke-width="0.12" textLength="18.1" lengthAdjust="spacingAndGlyphs">Runx1</text><text x="147.8" y="397.3" font-size="4" font-style="italic" fill="#c6304f" textLength="5.4" lengthAdjust="spacingAndGlyphs">&#8722;/&#8722;</text><rect x="26.3" y="407" width="191" height="126.24" fill="#f3ad96"/><g transform="translate(26.3 407) scale(1 5.26)" stroke-width="1.04" fill="none" filter="url(#hb)"><path stroke="#9ac" d="M0 0.5h1m14 0h1m8 0h1m2 0h1M21 2.5h1m4 0h1m9 0h2m2 0h1m7 0h1m1 0h1m2 0h1M5 4.5h1m6 0h2m39 0h1M15 6.5h1m1 0h1m23 0h1M0 8.5h1m4 0h1m20 0h1M25 9.5h1M65 11.5h1m13 0h1m9 0h1m3 0h1m27 0h1m32 0h1m1 0h1m8 0h1m1 0h1m1 0h1m4 0h1m2 0h1M63 12.5h1m15 0h1m6 0h1m34 0h1m14 0h1m16 0h1m8 0h1m12 0h2M99 13.5h1m29 0h1m7 0h1m5 0h1m25 0h1M82 14.5h1m86 0h1M156 15.5h2m8 0h1m1 0h1M82 16.5h1m48 0h1m12 0h1M64 17.5h1m35 0h1m36 0h1m14 0h1m3 0h1M124 19.5h1m45 0h1M175 20.5h1M56 21.5h1m41 0h1m22 0h1m18 0h1m17 0h1M82 22.5h1m43 0h1m10 0h1M34 23.5h1m44 0h1m109 0h1"/><path stroke="#8ac" d="M1 0.5h1m4 0h1m1 0h1m4 0h1m2 0h4m9 0h1m4 0h1m3 0h2m10 0h1m1 0h2M1 2.5h1m1 0h1M2 4.5h1m5 0h1m2 0h1m2 0h1m5 0h1m8 0h1m4 0h1m2 0h1m1 0h1m1 0h1m3 0h1M25 5.5h1M4 6.5h2m5 0h2m3 0h1m3 0h1m1 0h1m7 0h1m4 0h1m1 0h1m6 0h1M2 8.5h1m4 0h1M0 9.5h3m4 0h3m2 0h1m2 0h1m1 0h2m5 0h1m2 0h1m5 0h1m3 0h1m8 0h1m1 0h1m4 0h1M15 10.5h1M83 11.5h1m68 0h1M57 12.5h1m85 0h1m16 0h1M55 13.5h1m44 0h1m25 0h1m33 0h1M99 14.5h1M64 15.5h1m71 0h1m49 0h1M95 16.5h1m64 0h1M68 17.5h1M68 21.5h1m15 0h1m4 0h1M166 22.5h1M83 23.5h1m43 0h1m58 0h1"/><path stroke="#79c" d="M2 0.5h1m39 0h1M0 4.5h1M19 6.5h1M16 9.5h1m2 0h2m11 0h1"/><path stroke="#7ac" d="M3 0.5h1m8 0h1m7 0h1m4 0h1m4 0h1m1 0h2m6 0h1m2 0h1M2 1.5h1m32 0h1m15 0h1M0 3.5h1m9 0h1m3 0h1m14 0h1m2 0h1m3 0h2m6 0h1m5 0h1M4 4.5h1m1 0h2m1 0h1m5 0h3m5 0h1m1 0h2m3 0h3m7 0h1m3 0h1m1 0h1m4 0h1M1 5.5h1m3 0h2m1 0h1m14 0h1m8 0h1m3 0h3m5 0h2m6 0h1M7 6.5h1m2 0h1m3 0h1m8 0h1m1 0h2m1 0h2m1 0h4m3 0h2m3 0h1m1 0h2m1 0h3m1 0h2M33 8.5h1m15 0h1M26 9.5h1m1 0h2m5 0h1m4 0h1m1 0h1m1 0h1m7 0h1M0 10.5h1m2 0h2m1 0h2m8 0h1m2 0h7m2 0h1m1 0h1m2 0h1m4 0h2m3 0h2m6 0h3M55 11.5h1"/><path stroke="#7ab" d="M4 0.5h1m43 0h1"/><path stroke="#8ab" d="M5 0.5h1m3 0h1M4 2.5h1m1 0h1m8 0h1M3 4.5h1M25 8.5h1m16 0h2m8 0h1M11 9.5h1m18 0h1m8 0h1M130 11.5h1m5 0h1m5 0h1m20 0h1M99 12.5h1m9 0h1m4 0h1m11 0h1m32 0h1m6 0h1M121 13.5h1m11 0h1m1 0h2m4 0h1m28 0h1M110 14.5h1m9 0h1m53 0h1m12 0h1M84 15.5h1m15 0h1m8 0h1m25 0h1M71 17.5h1m21 0h1m8 0h1m1 0h2m7 0h1m73 0h1M99 18.5h1m87 0h1M89 19.5h1M160 21.5h1M85 22.5h1M170 23.5h1"/><path stroke="#99b" d="M7 0.5h1M67 12.5h1m102 0h1M89 13.5h1M76 17.5h1m104 0h1M189 18.5h1M57 19.5h1m71 0h1M66 21.5h1m33 0h1M55 22.5h1m27 0h1M55 23.5h1m66 0h1m11 0h1"/><path stroke="#aac" d="M10 0.5h1M55 17.5h1m29 0h1"/><path stroke="#79b" d="M11 0.5h1m11 0h1m7 0h1M42 4.5h1m4 0h1M27 6.5h1M14 8.5h1M47 9.5h1M96 11.5h1m3 0h1m25 0h1m18 0h1M55 12.5h1M78 13.5h1M83 15.5h1m46 0h1M79 17.5h1M137 20.5h1M119 21.5h1"/><path stroke="#8bc" d="M14 0.5h1M24 4.5h1"/><path stroke="#9bd" d="M21 0.5h1m4 0h1m24 0h1M27 3.5h1M27 5.5h1m13 0h1M2 6.5h1M10 9.5h1m3 0h1m8 0h1m14 0h1"/><path stroke="#9ab" d="M22 0.5h1m12 0h1m1 0h1m7 0h1M0 2.5h1m6 0h1m4 0h1m5 0h2m10 0h1m12 0h1m3 0h1M82 6.5h1M3 8.5h2m1 0h1m3 0h1m5 0h2m2 0h3m15 0h1m5 0h1m2 0h1M41 9.5h1M57 11.5h1m1 0h1m4 0h1m10 0h1m9 0h1m2 0h1m2 0h1m3 0h1m2 0h1m8 0h1m3 0h1m4 0h2m2 0h1m1 0h1m1 0h1m3 0h2m9 0h1m15 0h1m1 0h2m5 0h1m1 0h1m20 0h2M56 12.5h1m1 0h1m2 0h2m2 0h1m2 0h2m8 0h1m1 0h1m2 0h1m1 0h1m3 0h1m3 0h1m1 0h1m7 0h1m16 0h1m1 0h2m1 0h1m12 0h1m2 0h1m8 0h1m23 0h1m2 0h1m5 0h1m5 0h2M56 13.5h1m5 0h2m19 0h1m1 0h2m3 0h1m13 0h1m1 0h2m11 0h2m3 0h1m2 0h1m12 0h1m9 0h2m14 0h1m1 0h1m2 0h1m2 0h1m5 0h2M76 14.5h1m6 0h1m5 0h1m14 0h1m8 0h1m10 0h1m17 0h1m20 0h1m3 0h1M68 15.5h1m4 0h1m14 0h1m7 0h1m2 0h1m6 0h1m1 0h1m6 0h1m11 0h2m4 0h1m4 0h2m7 0h2m15 0h1m10 0h1m3 0h1m1 0h1m8 0h1M99 16.5h1m21 0h1m3 0h1m3 0h1m5 0h1m4 0h1m6 0h1m17 0h1m9 0h1m3 0h1M58 17.5h1m7 0h1m14 0h3m2 0h2m7 0h1m3 0h1m11 0h1m4 0h1m1 0h1m4 0h2m6 0h1m1 0h1m14 0h1m4 0h1m1 0h1m2 0h1m1 0h1m29 0h1M54 18.5h1m25 0h1m2 0h1m2 0h1m2 0h1m36 0h1m7 0h1m21 0h1m12 0h1m4 0h1m2 0h1M28 19.5h1m40 0h2m20 0h1m8 0h2m4 0h1m4 0h1m11 0h1m9 0h1m2 0h1m4 0h1m13 0h2m1 0h1m1 0h1m5 0h1m2 0h1m14 0h1M1 20.5h1m7 0h1m9 0h2m1 0h1m17 0h1m19 0h1m8 0h1m15 0h1m3 0h1m17 0h1m5 0h1m18 0h1m6 0h1m45 0h1m4 0h1M54 21.5h1m33 0h1m27 0h1m6 0h2m5 0h1m22 0h1m1 0h1m9 0h1m5 0h2m1 0h1m5 0h1m2 0h1M61 22.5h1m5 0h1m4 0h1m4 0h1m9 0h1m3 0h1m2 0h1m1 0h1m16 0h1m2 0h1m3 0h2m14 0h1m3 0h1m15 0h1m1 0h1m17 0h1m6 0h1M0 23.5h1m17 0h1m5 0h1m27 0h1m5 0h1m6 0h1m4 0h1m7 0h1m10 0h1m24 0h1m11 0h1m3 0h2m9 0h1m2 0h1m11 0h1m16 0h1"/><path stroke="#69b" d="M28 0.5h1M28 1.5h1M8 6.5h1M51 9.5h1"/><path stroke="#9bc" d="M36 0.5h1m10 0h1M34 2.5h1M10 4.5h1m16 0h1m10 0h1M3 6.5h1m5 0h1m3 0h1m7 0h1m2 0h1m15 0h1M9 8.5h1m2 0h1m5 0h1m8 0h1m6 0h1M3 9.5h1m9 0h1m8 0h1m20 0h1M67 11.5h1m10 0h1m1 0h1m27 0h2m41 0h1m9 0h1m21 0h1M129 12.5h1M132 13.5h1m9 0h1m32 0h1M55 14.5h1m124 0h1M60 15.5h1m17 0h1m104 0h1M150 17.5h1M160 18.5h1M147 19.5h1m16 0h1m9 0h1m6 0h1M68 20.5h1M166 21.5h1M129 22.5h1M73 23.5h1m26 0h1"/><path stroke="#abc" d="M41 0.5h1m2 0h1m4 0h1M2 2.5h1m5 0h1m1 0h1m3 0h1m5 0h1m8 0h1m3 0h1m8 0h1m2 0h2m5 0h1M8 8.5h1m10 0h1m8 0h1M56 11.5h1m1 0h1m4 0h1m22 0h1m15 0h1m7 0h1m2 0h1m5 0h1m18 0h1m2 0h1m1 0h1m26 0h1m7 0h1m2 0h1m8 0h1M135 12.5h1m20 0h1m28 0h1m1 0h1M58 13.5h1m16 0h1m38 0h1m23 0h2m36 0h1M58 14.5h1m2 0h1m25 0h1m21 0h1m11 0h1m11 0h1m19 0h1m12 0h1m8 0h1M55 15.5h1m2 0h1m7 0h1m10 0h1m1 0h1m14 0h1m17 0h1m6 0h1m17 0h1m5 0h1m6 0h1m7 0h1m11 0h1m2 0h2m7 0h1M83 16.5h1m5 0h1m21 0h1m4 0h1m33 0h1m19 0h1m17 0h1M57 17.5h1m1 0h1m70 0h1m5 0h1m28 0h1m6 0h1M186 18.5h1M77 19.5h1m5 0h1m38 0h1m39 0h1m26 0h1M4 20.5h1m75 0h1m18 0h1m19 0h1m4 0h1m2 0h1m12 0h1m2 0h1m38 0h1M57 21.5h1m11 0h1m12 0h1m3 0h1m19 0h1m30 0h1M110 22.5h1m51 0h1m7 0h1m4 0h1M68 23.5h1m13 0h1m36 0h1m15 0h1"/><path stroke="#69c" d="M46 0.5h1M0 1.5h1m4 0h1m3 0h1m1 0h3m1 0h1m1 0h5m1 0h3m1 0h1m3 0h1m1 0h1m5 0h1m1 0h1m1 0h1m2 0h1m2 0h1m2 0h2M4 3.5h1M1 4.5h1m16 0h1m24 0h1M1 6.5h1m40 0h1m4 0h1m3 0h1M36 9.5h1m8 0h1m3 0h1M10 10.5h1m18 0h1m7 0h1m7 0h2"/><path stroke="#dba" d="M54 0.5h2m2 0h2m35 0h1m1 0h1m16 0h3m5 0h2m4 0h1m4 0h2m4 0h1m4 0h1m1 0h1m2 0h2m2 0h1m8 0h1m18 0h1m1 0h2M62 1.5h1m1 0h1m2 0h1m6 0h1m4 0h1m1 0h1m15 0h1m19 0h1m1 0h1m17 0h2m15 0h1m1 0h1m1 0h1m2 0h1m2 0h1m15 0h1m6 0h1M60 2.5h1m5 0h1m8 0h3m12 0h1m3 0h1m29 0h1m2 0h1m2 0h3m6 0h1m5 0h1m2 0h1m5 0h1m6 0h1m10 0h1m8 0h2m6 0h1M56 3.5h1m5 0h1m1 0h1m13 0h1m2 0h1m14 0h1m6 0h1m6 0h1m12 0h1m6 0h3m11 0h1m1 0h1m2 0h1m12 0h1m2 0h1m19 0h1m2 0h1M58 4.5h1m8 0h1m2 0h1m26 0h2m6 0h1m1 0h1m8 0h1m3 0h1m8 0h1m1 0h1m3 0h1m21 0h1m5 0h1m6 0h1m4 0h1m8 0h1M55 5.5h2m6 0h2m1 0h1m14 0h1m1 0h1m5 0h1m8 0h1m2 0h1m2 0h2m3 0h1m2 0h2m3 0h1m1 0h1m4 0h2m3 0h2m3 0h1m1 0h1m3 0h1m3 0h1m3 0h1m5 0h2m2 0h1m15 0h1m6 0h1m2 0h1m1 0h3M61 6.5h1m1 0h1m8 0h1m12 0h1m1 0h1m14 0h1m7 0h2m6 0h1m11 0h1m1 0h1m10 0h1m15 0h1m12 0h1m9 0h1M65 9.5h1m6 0h1m24 0h1m5 0h1m3 0h2m7 0h1m1 0h2m9 0h1m3 0h1m8 0h2m2 0h1m5 0h1m11 0h1m7 0h1m12 0h1m4 0h1M55 10.5h1m6 0h1m1 0h1m4 0h1m1 0h1m28 0h1m3 0h2m5 0h1m22 0h1m14 0h1m4 0h1m4 0h1m2 0h1m13 0h1m3 0h1m6 0h2M18 12.5h1M0 13.5h1m22 0h1m3 0h1m11 0h1m1 0h1m8 0h2M0 14.5h1m6 0h1m9 0h1m2 0h2m1 0h1m2 0h1m4 0h1m9 0h2m9 0h1M12 17.5h1m2 0h1m6 0h1m6 0h1m1 0h1m1 0h1m2 0h2m1 0h2m9 0h1M69 18.5h1M5 19.5h1m7 0h1m8 0h1m1 0h1m38 0h1M2 20.5h1m2 0h1M0 21.5h1m2 0h1m4 0h1m5 0h4m4 0h1m6 0h1m1 0h2m8 0h1m11 0h1M24 22.5h1m7 0h1m6 0h1m7 0h1m5 0h1M115 23.5h1m9 0h1"/><path stroke="#baa" d="M56 0.5h1m10 0h1m2 0h1m18 0h1m21 0h1m31 0h1m36 0h1m4 0h1m4 0h1M54 1.5h1m2 0h2m6 0h2m3 0h1m24 0h2m3 0h1m40 0h1m9 0h2m7 0h1m27 0h1M9 2.5h1m31 0h1m40 0h1m3 0h1m13 0h1m5 0h1m4 0h1m11 0h1m13 0h1m6 0h1m1 0h2m5 0h1m4 0h1m1 0h1m5 0h1m3 0h2M95 3.5h1m4 0h1m12 0h1m20 0h1m12 0h1m7 0h1m2 0h1m7 0h1m2 0h1M56 4.5h1m2 0h2m2 0h1m4 0h1m10 0h1m10 0h1m2 0h1m16 0h2m1 0h2m3 0h1m8 0h1m5 0h1m2 0h1m2 0h1m2 0h1m1 0h2m1 0h1m5 0h3m13 0h1m11 0h1m1 0h1m2 0h1m3 0h1M80 5.5h1m41 0h1m18 0h1M59 6.5h2m5 0h1m17 0h1m6 0h1m21 0h1m9 0h2m8 0h1m3 0h1m3 0h1m11 0h1m15 0h1m5 0h1M59 9.5h1m19 0h1m9 0h1m10 0h1m10 0h1m16 0h1m12 0h1m19 0h1m9 0h1M61 10.5h1m8 0h1m3 0h1m5 0h2m8 0h1m8 0h1m2 0h1m5 0h1m1 0h1m20 0h1m13 0h1m6 0h2m6 0h1m8 0h1m4 0h1m7 0h1M162 11.5h1m17 0h1M66 12.5h1m5 0h1m4 0h1m16 0h1m6 0h1m16 0h1m15 0h1m7 0h1m38 0h1M16 13.5h1m3 0h1m1 0h1m9 0h1m3 0h1m5 0h1m3 0h1m5 0h1m4 0h1m6 0h1m7 0h1m1 0h1m16 0h1m1 0h1m22 0h1m1 0h1m30 0h1m7 0h1m6 0h1m7 0h1M10 14.5h1m11 0h1m5 0h2m24 0h1m11 0h1m10 0h1m29 0h1m22 0h2m6 0h2m4 0h1m10 0h1m1 0h1m1 0h1m4 0h1m18 0h1m2 0h1M76 15.5h1m4 0h1m5 0h1m9 0h1m23 0h1m3 0h1m18 0h2m31 0h1m10 0h1M58 16.5h1m1 0h2m10 0h1m4 0h1m34 0h1m14 0h1m33 0h2m21 0h1M60 17.5h1m9 0h1m46 0h1m2 0h1m17 0h1m5 0h1m2 0h1m3 0h1m15 0h1m3 0h1M57 18.5h1m3 0h1m1 0h1m1 0h2m7 0h1m2 0h1m1 0h1m1 0h1m11 0h1m15 0h2m4 0h1m24 0h1m1 0h1m2 0h2m2 0h1M3 19.5h1m3 0h1m2 0h1m1 0h1m17 0h2m2 0h2m5 0h1m1 0h1m2 0h1m1 0h2m5 0h1m15 0h1m3 0h1m9 0h1m1 0h1m9 0h1m5 0h1m1 0h1m12 0h1m6 0h1m1 0h1m9 0h1m1 0h1m27 0h1m5 0h1m3 0h1m2 0h1m5 0h1M13 20.5h1m14 0h1m2 0h1m1 0h1m15 0h3m4 0h1m5 0h1m1 0h1m5 0h1m5 0h2m3 0h1m1 0h1m3 0h1m5 0h1m16 0h1m4 0h1m4 0h2m4 0h1m2 0h1m15 0h1m1 0h3m2 0h1m1 0h1m1 0h1m13 0h1M7 21.5h1m25 0h1m21 0h1m5 0h1m1 0h1m6 0h1m1 0h1m12 0h1m4 0h1m3 0h2m43 0h1m8 0h2m18 0h1m16 0h1M4 22.5h1m5 0h1m2 0h1m7 0h1m1 0h1m4 0h1m4 0h1m2 0h2m18 0h2m10 0h1m10 0h1m1 0h1m11 0h1m23 0h1m21 0h1m12 0h1m11 0h1m2 0h1m5 0h1M4 23.5h1m7 0h1m8 0h1m9 0h1m3 0h2m4 0h1m8 0h1m9 0h1m1 0h1m4 0h1m6 0h2m8 0h1m3 0h1m4 0h1m7 0h1m21 0h1m15 0h1m14 0h1m6 0h1m5 0h1m1 0h1m4 0h1"/><path stroke="#bab" d="M57 0.5h1m8 0h1m27 0h1m84 0h1M56 1.5h1m29 0h1M78 2.5h1m37 0h1m3 0h1M152 3.5h1M57 4.5h1m4 0h1m39 0h1m31 0h1m16 0h1M160 5.5h1M147 6.5h1M23 8.5h1M78 9.5h1m48 0h1M128 10.5h1m10 0h1m16 0h1m26 0h1M118 11.5h1m54 0h1m12 0h1M75 12.5h1m14 0h1m25 0h1m52 0h1M35 13.5h1m18 0h1m12 0h1m13 0h1m30 0h1m4 0h1m5 0h1m34 0h1M59 14.5h1m7 0h1m17 0h1m11 0h1m16 0h1m3 0h1m17 0h1m4 0h1m9 0h1m16 0h1m8 0h1M61 15.5h2m7 0h1m11 0h1m43 0h1m5 0h1m7 0h1m1 0h1M63 16.5h2m2 0h1m10 0h1m5 0h1m7 0h1m9 0h1m2 0h1m9 0h1m1 0h1m24 0h1m10 0h1m14 0h1m9 0h1m8 0h1M62 17.5h1m43 0h1m63 0h1m7 0h1m7 0h1m2 0h1M60 18.5h1m10 0h1m4 0h1m24 0h1m1 0h1m1 0h1m1 0h1m8 0h1m4 0h2m5 0h1m2 0h1m16 0h1m9 0h1m13 0h2m2 0h1m13 0h1M4 19.5h1m3 0h2m6 0h2m5 0h1m29 0h1m11 0h1m1 0h1m10 0h1m11 0h1m23 0h1m1 0h1m4 0h1m21 0h2m1 0h1m1 0h2m1 0h1m1 0h1m7 0h1m17 0h1m3 0h1M23 20.5h1m10 0h1m12 0h1m5 0h1m9 0h1m3 0h1m11 0h1m22 0h1m11 0h1m3 0h1m43 0h1m1 0h1m18 0h1M62 21.5h1m13 0h1m1 0h1m1 0h1m18 0h1m12 0h1m7 0h1m33 0h1m4 0h1m26 0h1M71 22.5h1m26 0h1m12 0h2m41 0h1m16 0h2m12 0h1M5 23.5h2m2 0h1m75 0h1m1 0h1m32 0h1m38 0h1m3 0h1m24 0h1"/><path stroke="#cbb" d="M60 0.5h1m15 0h1m3 0h1m19 0h1m36 0h1m7 0h1m19 0h1m8 0h2M61 1.5h1m21 0h1m5 0h1m20 0h1m5 0h1m58 0h1m10 0h1M67 2.5h1m27 0h1m25 0h1m52 0h1M93 3.5h1m15 0h1m64 0h1M80 4.5h1m14 0h1m75 0h1M59 5.5h1m1 0h1m17 0h1m7 0h2m4 0h1m2 0h1m50 0h1m2 0h1M57 6.5h1m10 0h1m1 0h2m17 0h1m6 0h1m31 0h1m32 0h1m24 0h1M64 9.5h1m23 0h1m51 0h1m9 0h1m14 0h1m8 0h1M67 10.5h1m9 0h1m10 0h2m7 0h1m9 0h1m12 0h1m8 0h1m2 0h1m18 0h1m3 0h1m7 0h1m4 0h1M60 11.5h1m31 0h1m89 0h1m6 0h1M74 12.5h1m16 0h1m20 0h1m18 0h1m15 0h1m1 0h1m22 0h1M15 13.5h1m2 0h1m18 0h1M6 14.5h1m38 0h1m48 0h1m28 0h1m28 0h1M66 16.5h1m30 0h1m3 0h1m1 0h1m39 0h1m12 0h1m9 0h1m22 0h1M75 17.5h1m49 0h1m8 0h1M67 18.5h1m70 0h1m25 0h1M6 19.5h1m12 0h1m7 0h1m26 0h1m13 0h1m29 0h1m9 0h1m8 0h1m36 0h1m2 0h1M12 20.5h1m8 0h1m13 0h1m25 0h1m13 0h1m15 0h1m12 0h2m36 0h1m16 0h1m1 0h1m18 0h1m8 0h1M23 21.5h1m80 0h1m30 0h1m25 0h1M0 22.5h1m5 0h1m10 0h1m47 0h1m10 0h1m24 0h1M23 23.5h1m15 0h1m2 0h1m8 0h1m19 0h1m68 0h1m7 0h1m19 0h1m9 0h1m1 0h1"/><path stroke="#caa" d="M61 0.5h1m10 0h1m10 0h1m6 0h1m5 0h1m8 0h3m1 0h1m2 0h1m4 0h2m8 0h1m1 0h1m1 0h1m3 0h1m12 0h1m3 0h1m11 0h1m6 0h1m1 0h1m15 0h1M68 1.5h1m8 0h1m6 0h2m1 0h2m17 0h1m6 0h2m6 0h1m9 0h1m2 0h1m5 0h1m2 0h5m2 0h1m4 0h1m11 0h1m1 0h1m1 0h1m5 0h1M58 2.5h1m6 0h1m14 0h1m2 0h2m2 0h1m1 0h1m9 0h1m3 0h2m8 0h1m5 0h1m8 0h2m5 0h2m4 0h1m1 0h1m7 0h1m3 0h2m6 0h1m4 0h1m9 0h1m9 0h1m1 0h1M60 3.5h1m6 0h1m5 0h1m1 0h1m1 0h1m2 0h1m2 0h1m1 0h1m4 0h2m7 0h1m4 0h1m2 0h1m13 0h1m4 0h1m2 0h1m6 0h1m2 0h2m9 0h1m6 0h1m2 0h1m14 0h1m2 0h1m4 0h1m3 0h1m1 0h1M54 4.5h1m9 0h1m6 0h2m2 0h2m4 0h1m6 0h1m5 0h1m9 0h1m4 0h1m16 0h1m10 0h2m2 0h1m1 0h1m4 0h1m1 0h1m1 0h1m3 0h1m3 0h3m2 0h1m2 0h1m7 0h1m1 0h1m6 0h1M70 5.5h1m15 0h1m3 0h1m4 0h1m4 0h1m7 0h1m17 0h1m5 0h1m4 0h1m5 0h1m7 0h1m1 0h1m11 0h2m13 0h1m4 0h1m3 0h1M54 6.5h1m14 0h1m6 0h1m9 0h1m1 0h1m4 0h1m1 0h1m2 0h2m3 0h1m2 0h2m9 0h1m3 0h2m2 0h3m6 0h2m22 0h1m3 0h1m3 0h1m3 0h1m2 0h2m2 0h3m1 0h1m3 0h1m4 0h1M55 9.5h2m11 0h1m4 0h2m2 0h1m7 0h1m1 0h1m4 0h1m6 0h1m2 0h1m7 0h1m3 0h1m5 0h1m1 0h1m1 0h1m6 0h2m1 0h1m1 0h2m6 0h2m7 0h1m2 0h2m9 0h3m5 0h1m2 0h2m2 0h1m5 0h1M57 10.5h2m1 0h1m2 0h1m1 0h2m8 0h1m9 0h2m5 0h2m1 0h1m2 0h1m2 0h1m1 0h1m2 0h1m2 0h1m2 0h1m1 0h1m1 0h1m5 0h1m1 0h2m11 0h1m2 0h2m2 0h1m5 0h1m6 0h1m6 0h3m4 0h3m1 0h1m2 0h1m10 0h1M74 11.5h1M81 12.5h1m24 0h1m26 0h1M1 13.5h1m4 0h3m2 0h2m21 0h1m10 0h1m46 0h1m12 0h1m38 0h1m40 0h1M1 14.5h1m6 0h1m10 0h1m13 0h2m1 0h1m35 0h1m20 0h1m12 0h1m12 0h1m8 0h1m33 0h1M74 15.5h1m5 0h1m68 0h1M69 16.5h1m1 0h1m2 0h1m6 0h1m4 0h1m46 0h1m17 0h1M9 17.5h1m34 0h2m1 0h1m4 0h1m12 0h1m75 0h1M64 18.5h1m43 0h1m9 0h1m1 0h1m4 0h1m11 0h1m3 0h1m9 0h1m9 0h1m3 0h1m19 0h1M2 19.5h1m15 0h1m2 0h1m15 0h1m4 0h1m1 0h1m11 0h1m19 0h1m4 0h1m33 0h1m14 0h1m41 0h1m9 0h1M15 20.5h2m1 0h1m13 0h1m11 0h1m1 0h1m45 0h1m2 0h1m16 0h1m4 0h1m7 0h1m25 0h1m20 0h1m4 0h2M12 21.5h1m12 0h2m10 0h1m6 0h1m4 0h1m24 0h1m4 0h1m12 0h1m4 0h1m12 0h1M3 22.5h1m5 0h1m5 0h1m2 0h1m3 0h1m2 0h3m2 0h1m7 0h1m7 0h1m1 0h1m1 0h1m12 0h1m28 0h1m2 0h1m6 0h1m74 0h1M3 23.5h1m16 0h1m4 0h1m4 0h1m1 0h1m13 0h1m2 0h1m3 0h1m7 0h1m1 0h2m1 0h1m38 0h1m6 0h1m11 0h1m8 0h1m19 0h1m10 0h1m19 0h1"/><path stroke="#eba" d="M62 0.5h1m18 0h1m10 0h1m64 0h1m9 0h2m3 0h1M72 1.5h1m17 0h1m3 0h1m6 0h1m27 0h1m9 0h1m8 0h1m23 0h1m6 0h1M85 2.5h1m23 0h1m8 0h1m40 0h1M74 3.5h1m7 0h1m1 0h1m48 0h1m27 0h1m6 0h1m2 0h2m11 0h1M62 5.5h1m5 0h1m5 0h2m1 0h1m7 0h1m21 0h1m20 0h1m16 0h1m6 0h1m6 0h1m4 0h1m6 0h1m6 0h1m3 0h1M74 6.5h1M89 7.5h1m6 0h1m3 0h1m13 0h1m33 0h1m2 0h1m4 0h1M61 8.5h1m14 0h1m12 0h1m5 0h1m4 0h1m11 0h1m4 0h1m6 0h1m7 0h2m9 0h1m2 0h1m8 0h2m2 0h1m13 0h1m1 0h1m2 0h1m7 0h1M75 9.5h2M45 12.5h1M31 13.5h1M2 14.5h1m10 0h2m9 0h1m5 0h1m12 0h1m4 0h1M11 17.5h1m8 0h1m4 0h1m15 0h1M22 18.5h1m25 0h1M5 21.5h1m5 0h1m6 0h2m18 0h1m1 0h1m4 0h1m2 0h1"/><path stroke="#da9" d="M63 0.5h1m7 0h1m3 0h1m1 0h1m23 0h1m2 0h1m5 0h1m8 0h1m21 0h2m4 0h1m7 0h1m3 0h1m1 0h1m15 0h1m4 0h1M78 1.5h1m13 0h2m8 0h1m1 0h1m2 0h2m9 0h1m6 0h1m4 0h1m2 0h1m15 0h1m3 0h1m3 0h1m7 0h1m2 0h1m1 0h1m7 0h1m10 0h2M55 2.5h1m3 0h1m1 0h1m1 0h1m6 0h1m1 0h1m1 0h1m17 0h1m4 0h2m2 0h1m5 0h1m7 0h1m9 0h1m41 0h1m1 0h1m3 0h1m6 0h1m3 0h2M63 3.5h1m28 0h1m4 0h1m3 0h1m6 0h1m2 0h2m1 0h2m11 0h1m9 0h1m13 0h1m2 0h1m8 0h1m3 0h1m9 0h1m1 0h1m1 0h2M61 4.5h1m4 0h1m7 0h1m7 0h1m9 0h1m6 0h1m6 0h1m1 0h1m3 0h1m4 0h1m4 0h1m2 0h1m20 0h1m2 0h1m17 0h1M72 5.5h2m8 0h1m1 0h1m6 0h2m4 0h1m12 0h1m3 0h1m1 0h1m21 0h1m10 0h1m11 0h2m9 0h1m6 0h1m10 0h1M55 6.5h2m7 0h1m10 0h1m3 0h1m1 0h1m10 0h1m1 0h1m5 0h2m12 0h2m4 0h1m18 0h1m4 0h2m3 0h1m2 0h1m1 0h1m8 0h2m2 0h1m12 0h1m2 0h1M54 9.5h1m5 0h1m10 0h1m10 0h1m21 0h1m7 0h1m2 0h1m7 0h1m23 0h1m1 0h1m4 0h1m8 0h1m13 0h1m11 0h1M72 10.5h1m9 0h2m34 0h1m19 0h1m9 0h1m9 0h1m2 0h1m15 0h1m7 0h1M2 13.5h1m2 0h1m3 0h1m3 0h1m3 0h1m7 0h1m3 0h1m13 0h1m4 0h1M3 14.5h1m5 0h1m1 0h1m4 0h1m10 0h1m7 0h1m8 0h1m4 0h3M1 17.5h1m2 0h2m4 0h1m5 0h1m7 0h1m9 0h2M25 19.5h1m25 0h1M1 21.5h1m4 0h1m3 0h1m17 0h1m5 0h1m1 0h1M7 22.5h1m23 0h1m3 0h1m5 0h1M97 23.5h1"/><path stroke="#dbb" d="M64 0.5h1m75 0h1m10 0h1M80 1.5h1m28 0h1m12 0h2m42 0h1M117 2.5h1M120 3.5h1M85 4.5h1m10 0h1M111 5.5h1M84 9.5h1m36 0h1m3 0h1M133 10.5h1M19 13.5h1m6 0h1m26 0h1M39 14.5h1M17 17.5h1M35 21.5h1M8 22.5h1M48 23.5h1"/><path stroke="#daa" d="M65 0.5h1m7 0h1m8 0h1m1 0h1m1 0h1m12 0h1m26 0h1m3 0h1m25 0h1m13 0h1m7 0h1M59 1.5h1m9 0h1m3 0h1m1 0h2m21 0h1m25 0h1m3 0h1m6 0h1m26 0h2m10 0h1m1 0h1m6 0h1M56 2.5h2m6 0h1m4 0h1m18 0h1m19 0h1m1 0h1m38 0h1m7 0h1m19 0h1m9 0h1M58 3.5h1m7 0h1m2 0h1m28 0h1m17 0h1m8 0h1m9 0h1m2 0h1m2 0h2m5 0h1m4 0h1m10 0h1m8 0h1M91 4.5h1m23 0h1m5 0h1m18 0h1m23 0h1m8 0h1m3 0h1M58 5.5h1m12 0h1m6 0h1m15 0h1m7 0h2m11 0h1m2 0h1m23 0h1m13 0h2m18 0h1M62 6.5h1m17 0h1m27 0h1m20 0h1m12 0h1m25 0h1M67 9.5h1m1 0h1m20 0h2m13 0h1m24 0h1m8 0h1m19 0h1M87 10.5h1m82 0h1m10 0h1M40 13.5h1M12 14.5h1m19 0h1m5 0h1m14 0h1M7 17.5h2m4 0h2m11 0h1m1 0h1m14 0h1m5 0h1M4 21.5h1m15 0h1m3 0h1m14 0h1m7 0h1M5 22.5h1M15 23.5h1m1 0h1"/><path stroke="#cba" d="M68 0.5h1m9 0h2m5 0h1m16 0h1m5 0h1m12 0h1m14 0h1m26 0h1m2 0h1m2 0h1M136 1.5h1m36 0h1M68 2.5h1m4 0h1m59 0h1m30 0h1m21 0h1M79 3.5h1m14 0h1m11 0h1m49 0h1m29 0h1M65 4.5h1m11 0h1m9 0h1m1 0h1m10 0h1m23 0h1m3 0h1m1 0h1m41 0h1m7 0h1m1 0h1m6 0h1M60 5.5h1m4 0h1m40 0h1m13 0h1m14 0h1m32 0h1M58 6.5h1m14 0h1m3 0h1m19 0h1m6 0h2m59 0h1m22 0h2M62 9.5h1m23 0h1m6 0h1m4 0h1m10 0h1m7 0h1m20 0h1m9 0h1m9 0h1m21 0h1m3 0h1M56 10.5h1m19 0h1m2 0h1m11 0h1m23 0h1m14 0h1m11 0h1m3 0h1m37 0h1m1 0h1M98 12.5h1M28 13.5h1m1 0h1m13 0h1M5 14.5h1m78 0h1m10 0h1m9 0h1m6 0h1m59 0h1M55 16.5h1m54 0h1M90 17.5h1m16 0h1M157 18.5h1m22 0h1m1 0h1m1 0h1M11 19.5h1m50 0h1m30 0h1M11 20.5h1m47 0h1m14 0h1m11 0h1m24 0h1m24 0h1m9 0h1M9 21.5h1m134 0h1m22 0h1m20 0h1M12 22.5h1m7 0h1m30 0h1M7 23.5h1m19 0h1m26 0h1m127 0h1"/><path stroke="#ca9" d="M69 0.5h1m4 0h1m23 0h1m4 0h1m20 0h1m13 0h1m37 0h1m10 0h1M60 1.5h1m50 0h1m15 0h1M54 2.5h1m7 0h1m16 0h1m16 0h1m17 0h1m23 0h1m1 0h1m1 0h1m22 0h1M65 3.5h1m22 0h1m28 0h1m1 0h1m2 0h1m5 0h1m30 0h1m10 0h1m5 0h1M55 4.5h1m13 0h1m3 0h1m9 0h2m1 0h1m16 0h1m70 0h1M127 5.5h1m39 0h1M116 6.5h1m2 0h1m11 0h1m6 0h1m1 0h1m7 0h1m1 0h1m6 0h1M61 9.5h1m1 0h1m30 0h3m69 0h1m3 0h1m2 0h1m7 0h1M54 10.5h1m18 0h1m43 0h1m1 0h1m70 0h1M14 13.5h1m6 0h1m11 0h1m4 0h1m10 0h1M25 14.5h1m20 0h1M32 17.5h1m15 0h1m43 0h1M39 19.5h1M123 20.5h1M30 21.5h1M11 22.5h1m7 0h1m24 0h1m4 0h1M16 23.5h1m145 0h1"/><path stroke="#ea9" d="M87 0.5h1m5 0h1m60 0h1m3 0h1M55 1.5h1m15 0h1m31 0h1m1 0h1m14 0h1m5 0h1m32 0h1m21 0h1m2 0h1M93 2.5h1m28 0h1M55 3.5h1m3 0h1m1 0h1m9 0h2m3 0h1m10 0h1m17 0h1m12 0h1m61 0h1m9 0h1M54 5.5h1m2 0h1m18 0h1m22 0h1m31 0h1m7 0h1m6 0h1m30 0h1M55 7.5h2m1 0h1m3 0h1m1 0h2m1 0h1m2 0h1m5 0h1m3 0h1m1 0h1m3 0h1m4 0h1m3 0h1m1 0h2m6 0h1m13 0h1m2 0h1m4 0h1m1 0h1m3 0h1m4 0h2m3 0h3m1 0h1m11 0h1m1 0h2m4 0h1m9 0h1m1 0h1m1 0h1m4 0h1m2 0h1M56 8.5h1m6 0h2m4 0h1m1 0h2m2 0h1m5 0h1m1 0h1m6 0h1m1 0h1m1 0h1m12 0h1m2 0h2m3 0h2m1 0h1m3 0h1m2 0h1m1 0h1m6 0h1m6 0h2m6 0h3m5 0h2m2 0h1m1 0h1m3 0h1m4 0h1m4 0h1m1 0h1m8 0h1M0 12.5h1m1 0h1m2 0h1m4 0h1m3 0h1m2 0h1m1 0h3m5 0h1m4 0h1m5 0h1m3 0h3m1 0h5M47 13.5h1M4 14.5h1m42 0h1M3 15.5h1m17 0h1m3 0h1m16 0h1m7 0h1M30 16.5h1m1 0h1m1 0h1m17 0h1M0 17.5h1m1 0h1m3 0h1m12 0h1m3 0h1m3 0h1m2 0h1m7 0h1m7 0h1M1 18.5h1m2 0h1m10 0h1m7 0h2m5 0h1m7 0h1m2 0h1m9 0h1M2 21.5h1m10 0h1m32 0h1m3 0h1m1 0h1"/><path stroke="#aab" d="M88 0.5h1m43 0h1M16 2.5h2m4 0h1m1 0h2m1 0h2m6 0h1m2 0h1m5 0h1m6 0h1m82 0h1M123 4.5h1m35 0h1m19 0h1M136 6.5h1M15 8.5h1m14 0h1m6 0h1m1 0h2m4 0h2M57 9.5h1m22 0h1m32 0h1m69 0h1M68 10.5h1m25 0h1m18 0h1m29 0h1m3 0h1m31 0h1M54 11.5h1m7 0h1m9 0h2m8 0h1m4 0h1m6 0h1m2 0h1m3 0h1m4 0h1m7 0h2m7 0h1m1 0h1m1 0h1m5 0h3m4 0h1m7 0h1m4 0h1m5 0h2m15 0h1M54 12.5h1m5 0h1m10 0h1m1 0h1m13 0h1m8 0h1m7 0h2m18 0h1m2 0h1m4 0h1m4 0h1m1 0h2m3 0h3m1 0h1m3 0h1m8 0h1m2 0h2m2 0h1m4 0h1m4 0h2m4 0h1m3 0h1M3 13.5h1m61 0h2m1 0h1m1 0h2m5 0h1m2 0h1m7 0h1m7 0h1m1 0h1m2 0h2m10 0h1m1 0h1m9 0h1m8 0h1m11 0h1m7 0h1m1 0h1m2 0h1m1 0h1m3 0h1m1 0h1m9 0h2m4 0h2m4 0h1M56 14.5h1m3 0h1m3 0h2m2 0h3m4 0h1m2 0h1m2 0h1m4 0h1m1 0h1m1 0h1m1 0h1m10 0h1m4 0h1m16 0h1m6 0h1m2 0h1m9 0h2m1 0h2m6 0h1m8 0h1m5 0h1m1 0h1m4 0h2m5 0h1m2 0h1M56 15.5h1m10 0h1m1 0h1m1 0h1m14 0h1m2 0h1m1 0h1m1 0h1m4 0h1m5 0h2m5 0h1m5 0h1m4 0h1m8 0h1m2 0h1m11 0h1m6 0h1m5 0h1m1 0h1m1 0h1m3 0h1m10 0h1m5 0h1m2 0h1m1 0h1M57 16.5h1m4 0h1m2 0h1m2 0h1m6 0h1m3 0h2m10 0h1m1 0h1m6 0h1m3 0h1m1 0h1m1 0h1m11 0h1m1 0h3m1 0h1m1 0h1m3 0h1m1 0h1m2 0h1m1 0h1m6 0h1m1 0h2m5 0h1m1 0h1m1 0h1m3 0h1m5 0h1m1 0h1m1 0h2m5 0h1M63 17.5h1m5 0h1m2 0h1m5 0h1m9 0h1m5 0h1m1 0h1m4 0h1m1 0h1m4 0h2m2 0h1m1 0h1m7 0h1m9 0h1m6 0h2m2 0h1m1 0h1m11 0h1m4 0h3m4 0h1m5 0h3m4 0h1m2 0h1m2 0h1M58 18.5h2m10 0h1m1 0h2m8 0h1m1 0h2m2 0h1m1 0h1m7 0h1m5 0h1m7 0h1m1 0h1m2 0h1m6 0h1m5 0h1m5 0h1m6 0h2m2 0h1m2 0h1m1 0h1m2 0h1m11 0h1m2 0h1m4 0h1m2 0h2m1 0h1M1 19.5h1m12 0h1m25 0h1m4 0h1m6 0h1m5 0h1m5 0h1m7 0h2m6 0h1m5 0h1m1 0h1m3 0h1m2 0h2m2 0h1m2 0h1m4 0h1m4 0h1m6 0h1m8 0h1m5 0h1m5 0h1m4 0h1m4 0h1m1 0h1m12 0h1m21 0h1M0 20.5h1m6 0h1m2 0h1m15 0h1m10 0h1m3 0h1m1 0h1m10 0h2m9 0h1m18 0h1m5 0h1m5 0h1m1 0h1m4 0h1m2 0h1m9 0h1m17 0h2m5 0h1m18 0h1m2 0h1m15 0h1m1 0h1m4 0h1m1 0h1M58 21.5h3m3 0h2m1 0h1m5 0h1m3 0h1m3 0h1m21 0h1m9 0h1m13 0h1m1 0h1m4 0h1m1 0h1m4 0h1m3 0h1m5 0h2m3 0h1m6 0h1m5 0h1m5 0h3m1 0h1m4 0h1m2 0h1M2 22.5h1m11 0h1m30 0h1m8 0h1m3 0h1m3 0h1m1 0h1m5 0h1m4 0h1m2 0h1m5 0h1m1 0h1m3 0h1m8 0h2m2 0h1m14 0h1m3 0h1m18 0h1m1 0h1m6 0h2m5 0h1m1 0h1m14 0h1m5 0h3m4 0h2m1 0h1M2 23.5h1m5 0h1m5 0h1m18 0h1m3 0h1m2 0h1m2 0h2m2 0h1m9 0h1m1 0h1m12 0h1m4 0h1m2 0h1m11 0h1m2 0h2m7 0h1m2 0h1m1 0h1m3 0h1m7 0h1m21 0h1m1 0h1m5 0h2m4 0h1m8 0h1m4 0h1m3 0h2m6 0h1"/><path stroke="#b99" d="M91 0.5h1M102 2.5h1M187 4.5h1M65 6.5h1m43 0h1m45 0h1m28 0h1M176 9.5h1m9 0h1M91 17.5h1M21 21.5h1m65 0h1M146 22.5h1M13 23.5h1"/><path stroke="#abb" d="M113 0.5h1M31 2.5h1M1 8.5h1m22 0h1m25 0h1M69 11.5h1m7 0h1m6 0h1m18 0h1m40 0h1m2 0h1m2 0h1m34 0h1M59 12.5h1m22 0h1m5 0h1m28 0h1m39 0h1m13 0h1M69 13.5h1m9 0h1m14 0h1m13 0h1m13 0h1m32 0h1m34 0h1M91 14.5h1m9 0h1m14 0h1m10 0h1m19 0h1M59 15.5h1m30 0h1m1 0h1m17 0h1m13 0h1m26 0h1m17 0h1M73 16.5h1M84 17.5h1m41 0h1m2 0h1m16 0h1m32 0h1M100 18.5h1m12 0h1m15 0h1m58 0h1M26 19.5h1m32 0h1m22 0h1m21 0h1m21 0h1m44 0h1M6 20.5h1m23 0h1m7 0h1m6 0h1m32 0h1m9 0h1m20 0h1m12 0h1M96 21.5h1m25 0h1m24 0h1m16 0h1M60 22.5h1m19 0h1m34 0h1m3 0h1m8 0h1m3 0h2m14 0h1m37 0h1M26 23.5h1m63 0h2m44 0h1"/><path stroke="#a9a" d="M120 0.5h1M89 3.5h1M151 6.5h1M105 11.5h1M100 12.5h1m7 0h1m2 0h1M60 13.5h1M137 14.5h1M118 15.5h1m57 0h1M74 17.5h1m22 0h1m30 0h1M56 18.5h1m38 0h1m70 0h1m16 0h1M29 19.5h1m44 0h1M71 20.5h1m25 0h1m86 0h1M111 21.5h1m31 0h1M16 22.5h1m25 0h2m70 0h1m15 0h1m3 0h1m10 0h1m15 0h1M10 23.5h1m99 0h1m6 0h1"/><path stroke="#eb9" d="M125 0.5h1M63 1.5h1m27 0h1m23 0h1m66 0h1m2 0h1M71 2.5h1m40 0h1M54 3.5h1m31 0h1m37 0h1M67 5.5h1m1 0h1m53 0h1m9 0h1m29 0h1m11 0h1M66 7.5h1m6 0h1m4 0h2m14 0h1m4 0h1m1 0h2m3 0h3m1 0h2m5 0h1m6 0h1m1 0h1m1 0h1m11 0h1m1 0h1m9 0h1m2 0h1m1 0h1m11 0h1m3 0h2M54 8.5h1m5 0h1m1 0h1m2 0h1m4 0h1m2 0h1m5 0h1m2 0h1m5 0h1m8 0h1m1 0h1m2 0h1m1 0h1m3 0h2m3 0h2m8 0h1m2 0h1m2 0h1m1 0h1m4 0h1m1 0h2m4 0h1m7 0h1m7 0h1m8 0h2m3 0h1m5 0h1m2 0h1m5 0h1M4 12.5h1m2 0h1m1 0h1m2 0h2m1 0h2m8 0h1m4 0h2m2 0h2m1 0h1m3 0h1m9 0h2M4 13.5h1M15 14.5h1m2 0h1m21 0h1M37 16.5h1M3 17.5h1m14 0h1m2 0h1m29 0h1m1 0h1M3 18.5h1m2 0h2m1 0h1m18 0h1m17 0h1M27 21.5h1m14 0h2m7 0h1"/><path stroke="#bbb" d="M160 0.5h1m27 0h1M112 1.5h1M23 2.5h1m8 0h1m16 0h1m100 0h1m24 0h1M57 3.5h1m12 0h1m72 0h1M119 4.5h1m68 0h1M170 5.5h1m12 0h1M90 6.5h1m21 0h1m47 0h1M48 8.5h1m2 0h1m1 0h1M58 9.5h1m7 0h1m3 0h1m64 0h1m15 0h1m8 0h1M59 10.5h1m61 0h1m13 0h1M61 11.5h1m6 0h1m7 0h1m13 0h1m21 0h1m18 0h2m13 0h1m2 0h1m18 0h1M110 12.5h1m2 0h1m16 0h1m24 0h1m7 0h1M10 13.5h1m48 0h1m27 0h1m15 0h1m43 0h1m15 0h1m15 0h1M71 14.5h1m2 0h1m5 0h1m15 0h1m5 0h1m8 0h1m10 0h1m6 0h1m4 0h1m15 0h1m7 0h1m1 0h2m8 0h1m5 0h1m4 0h2m1 0h1m4 0h2M72 15.5h1m22 0h1m5 0h2m4 0h1m5 0h1m2 0h1m3 0h1m2 0h1m5 0h1m30 0h1m1 0h1m8 0h1m13 0h1M56 16.5h1m2 0h1m10 0h1m5 0h1m10 0h1m6 0h1m12 0h1m6 0h1m3 0h1m26 0h1m6 0h1m1 0h1m3 0h1m8 0h1m4 0h1m3 0h2m3 0h2m2 0h2m3 0h1M56 17.5h1m10 0h1m9 0h1m11 0h1m20 0h1m4 0h1m11 0h1m31 0h1m6 0h1m1 0h1m5 0h1m5 0h1M55 18.5h1m31 0h1m3 0h2m1 0h1m1 0h1m22 0h1m7 0h1m5 0h1m5 0h1m13 0h2m7 0h2m4 0h1m2 0h1M36 19.5h1m23 0h2m4 0h1m17 0h1m9 0h1m36 0h1m3 0h1m2 0h1m3 0h1m16 0h1m3 0h1m4 0h1m6 0h2m11 0h1m1 0h1M3 20.5h1m4 0h1m5 0h1m2 0h1m7 0h1m3 0h1m6 0h1m15 0h1m4 0h1m15 0h1m20 0h1m5 0h1m7 0h1m19 0h1m1 0h2m6 0h1m5 0h1m10 0h1m1 0h1m7 0h3m1 0h1m1 0h1m4 0h1M91 21.5h1m1 0h1m8 0h1m5 0h1m6 0h1m1 0h1m10 0h1m2 0h1m1 0h1m4 0h1m3 0h1m27 0h1m7 0h1m3 0h1m6 0h1M1 22.5h1m27 0h1m29 0h1m6 0h1m2 0h1m3 0h2m22 0h1m6 0h1m2 0h1m16 0h1m2 0h1m3 0h1m10 0h1m1 0h1m2 0h1m1 0h1m3 0h1m9 0h1m1 0h1m12 0h2m9 0h1M1 23.5h1m9 0h1m7 0h1m8 0h2m26 0h1m12 0h1m11 0h1m4 0h1m7 0h1m3 0h2m8 0h1m9 0h1m18 0h2m7 0h2m1 0h2m7 0h1m6 0h1m6 0h1m6 0h1m5 0h1"/><path stroke="#aaa" d="M186 0.5h1M82 1.5h1m16 0h1M39 2.5h1m122 0h1m16 0h1m3 0h1M68 3.5h1M78 4.5h1m87 0h1M121 5.5h1M78 6.5h1m4 0h1M31 8.5h1m3 0h1M106 9.5h1m19 0h1m60 0h1M96 10.5h1m26 0h1m3 0h1m8 0h1m30 0h1M71 11.5h1m9 0h1m90 0h1M102 12.5h1m4 0h1m43 0h1m2 0h1m12 0h1m12 0h1m5 0h1M61 13.5h1m20 0h1m1 0h1m24 0h2m19 0h1m14 0h1m2 0h1m3 0h1m29 0h1m3 0h1M37 14.5h1m19 0h1m15 0h1m24 0h1m16 0h1m38 0h1M57 15.5h1m56 0h1m37 0h1m1 0h1m17 0h1M54 16.5h1m30 0h1m10 0h1m16 0h1m5 0h1m18 0h1m2 0h1m22 0h1M73 17.5h1m24 0h1m20 0h1m34 0h1m6 0h1m21 0h1M62 18.5h1m5 0h1m28 0h1m4 0h1m8 0h1m11 0h1m35 0h1M0 19.5h1m14 0h1m4 0h1m11 0h2m16 0h1m28 0h1m29 0h1m10 0h1m57 0h1m6 0h1M42 20.5h1m5 0h1m52 0h1m31 0h1m16 0h1m2 0h1m4 0h1m15 0h1M71 21.5h1m3 0h1m7 0h1m21 0h1m1 0h1m1 0h1m15 0h2m23 0h1m6 0h1m4 0h1m10 0h1m7 0h1m8 0h1M40 22.5h1m11 0h1m35 0h1m16 0h1m17 0h1m1 0h1m12 0h1m16 0h1m12 0h1m15 0h1M22 23.5h1m15 0h1m6 0h1m30 0h1m25 0h2m12 0h1m11 0h2m25 0h1m4 0h1m20 0h1m8 0h1"/><path stroke="#59c" d="M1 1.5h1m1 0h1m12 0h1m5 0h1m6 0h1m2 0h1m3 0h1m3 0h1m4 0h1m1 0h2M1 10.5h1"/><path stroke="#58b" d="M4 1.5h1m9 0h1m27 0h1m1 0h1"/><path stroke="#6ac" d="M6 1.5h1m3 0h1m19 0h1m7 0h1M22 3.5h1M19 4.5h1m29 0h1M10 5.5h1M8 10.5h2m4 0h1m11 0h1m5 0h1m1 0h1m1 0h1m3 0h1"/><path stroke="#8bd" d="M7 1.5h1M1 3.5h3m2 0h4m1 0h3m2 0h2m2 0h2m2 0h2m7 0h2m4 0h1m1 0h3m2 0h4M21 4.5h2m12 0h2m11 0h1m3 0h1M2 5.5h1m1 0h1m6 0h6m1 0h1m1 0h1m1 0h1m1 0h1m1 0h1m1 0h1m1 0h2m1 0h1m5 0h2m1 0h2m4 0h3M0 6.5h1m5 0h1m29 0h1M4 9.5h1m1 0h1m14 0h1m9 0h1m2 0h1M13 10.5h1m13 0h1m7 0h1m5 0h1m6 0h1"/><path stroke="#7ad" d="M8 1.5h1M5 3.5h1m9 0h1m2 0h2m3 0h1m2 0h1m1 0h1m2 0h1m3 0h1m2 0h1m1 0h1m4 0h1m6 0h2M0 5.5h1m2 0h1m3 0h1m1 0h1m7 0h1m11 0h1m4 0h2m10 0h2m5 0h1M12 10.5h1m4 0h2m12 0h1m10 0h1m4 0h1m1 0h1"/><path stroke="#48b" d="M26 1.5h1"/><path stroke="#59b" d="M34 1.5h1m2 0h1m12 0h1"/><path stroke="#d98" d="M132 1.5h1M91 2.5h1"/><path stroke="#c99" d="M142 1.5h1M176 2.5h1M102 3.5h1M81 9.5h1M84 10.5h1M24 13.5h1"/><path stroke="#89b" d="M5 2.5h1m5 0h1M18 6.5h1M13 8.5h1m15 0h1m2 0h1M5 9.5h1m44 0h1M99 11.5h1m75 0h1M92 12.5h1m4 0h1m21 0h1m8 0h1m53 0h1M73 13.5h1m79 0h1m8 0h1m24 0h1M79 14.5h1m46 0h1M54 15.5h1m30 0h1m55 0h1m13 0h1M136 16.5h1M121 17.5h1m13 0h1M78 18.5h1M82 20.5h1m90 0h1M89 22.5h1m16 0h1m1 0h1M132 23.5h1"/><path stroke="#99a" d="M13 2.5h1M11 8.5h1M83 9.5h1M70 11.5h1m66 0h1M84 12.5h1m73 0h1M111 13.5h1m16 0h1M140 14.5h1M63 15.5h1m116 0h1M88 16.5h1m9 0h1m10 0h1M142 17.5h1m6 0h1m23 0h1M75 18.5h1m56 0h1M39 20.5h1m18 0h1m13 0h1m95 0h1M101 21.5h1m12 0h1M34 22.5h1m125 0h1m8 0h1M106 23.5h1m70 0h1"/><path stroke="#ba9" d="M81 2.5h1m23 0h1m20 0h1m25 0h1M145 3.5h1M158 4.5h1M67 6.5h1m119 0h1M155 9.5h1M70 12.5h1M184 17.5h1M47 19.5h1"/><path stroke="#7bd" d="M30 3.5h1M19 5.5h1M2 10.5h1m2 0h1m5 0h1m38 0h1"/><path stroke="#8ad" d="M51 3.5h1M28 4.5h1m4 0h1m16 0h1M21 5.5h1"/><path stroke="#b9a" d="M101 4.5h1M171 6.5h1M78 10.5h1M80 17.5h1M38 19.5h1m71 0h1M27 20.5h1m159 0h1M118 21.5h1M111 23.5h1"/><path stroke="#a99" d="M132 4.5h1M156 6.5h1M30 7.5h1M54 17.5h1"/><path stroke="#9cd" d="M51 5.5h1"/><path stroke="#d99" d="M169 5.5h1M146 6.5h1"/><path stroke="#db9" d="M173 5.5h1M176 6.5h1M101 9.5h1m60 0h1"/><path stroke="#78a" d="M0 7.5h1m2 0h1m2 0h1m1 0h1m4 0h1m11 0h1m12 0h1m3 0h1M76 12.5h1"/><path stroke="#57a" d="M1 7.5h1m7 0h1m9 0h1m11 0h1m4 0h1m8 0h1m6 0h1"/><path stroke="#579" d="M2 7.5h1m17 0h1m8 0h1m20 0h1"/><path stroke="#89a" d="M4 7.5h1m10 0h2m11 0h1M64 12.5h1M131 13.5h1m56 0h1M75 15.5h1m27 0h1M113 19.5h1m18 0h1"/><path stroke="#889" d="M5 7.5h1m11 0h2m3 0h1m4 0h1m15 0h1m5 0h1"/><path stroke="#68a" d="M7 7.5h1m18 0h1m13 0h1m12 0h1"/><path stroke="#67a" d="M10 7.5h1m21 0h1m1 0h2m8 0h1"/><path stroke="#989" d="M11 7.5h1"/><path stroke="#679" d="M12 7.5h1m8 0h1m24 0h1m4 0h1"/><path stroke="#779" d="M14 7.5h1m9 0h1m14 0h1m1 0h1m5 0h2"/><path stroke="#569" d="M23 7.5h1m9 0h1"/><path stroke="#789" d="M37 7.5h1"/><path stroke="#e98" d="M54 7.5h1m19 0h1m17 0h1m38 0h1m18 0h1m21 0h1m11 0h1M58 8.5h1M43 15.5h1M0 16.5h1m1 0h4m4 0h1m1 0h2m2 0h1m6 0h2m2 0h1m5 0h1m4 0h1m1 0h1m1 0h1m3 0h1m1 0h1m1 0h1"/><path stroke="#fba" d="M57 7.5h1m2 0h1m16 0h1m7 0h1m2 0h1m24 0h1m7 0h1m1 0h1m11 0h1m10 0h1m13 0h1m9 0h1m12 0h1M59 8.5h1m6 0h3m9 0h1m6 0h1m1 0h1m5 0h1m9 0h1m15 0h1m17 0h1m2 0h1m4 0h1m1 0h1m5 0h1m8 0h1m1 0h1m1 0h1m18 0h1M53 12.5h1M19 18.5h1m6 0h1m7 0h1m1 0h2m4 0h1m2 0h1m3 0h1m2 0h2"/><path stroke="#ea8" d="M59 7.5h1m1 0h1m9 0h2m2 0h1m8 0h1m2 0h1m24 0h1m5 0h1m18 0h1m11 0h1m4 0h1m8 0h1m4 0h1m7 0h1m3 0h1m1 0h1m2 0h1m2 0h1m1 0h1M55 8.5h1m18 0h1m9 0h1m13 0h1m2 0h1m3 0h2m21 0h1m1 0h1m23 0h1m29 0h1M1 12.5h1m27 0h1m9 0h2M0 15.5h1m3 0h1m2 0h1m3 0h3m3 0h1m1 0h2m2 0h2m2 0h1m2 0h2m1 0h1m1 0h1m1 0h3m4 0h1m1 0h3m2 0h1M1 16.5h1m4 0h1m1 0h2m4 0h1m2 0h1m1 0h1m2 0h1m3 0h1m1 0h1m2 0h1m4 0h1m4 0h1m1 0h3M42 17.5h1M13 18.5h1m7 0h1m5 0h1m11 0h2m6 0h1"/><path stroke="#fb9" d="M63 7.5h1m4 0h2m11 0h1m1 0h1m6 0h1m2 0h1m10 0h1m4 0h1m5 0h2m3 0h1m4 0h1m4 0h1m1 0h1m1 0h1m1 0h1m4 0h1m11 0h1m4 0h1m5 0h3m4 0h1m6 0h1m8 0h1M77 8.5h1m2 0h1m39 0h1m14 0h1m12 0h1m16 0h1m2 0h1m2 0h1m9 0h2m4 0h1m2 0h1M3 12.5h1m2 0h1m1 0h1m2 0h1m10 0h3m1 0h1m1 0h1m4 0h1m2 0h1M6 15.5h1m1 0h2m6 0h1m1 0h1m3 0h1m3 0h1m1 0h2m6 0h1m8 0h1M0 18.5h1m1 0h1m2 0h1m2 0h1m1 0h3m1 0h1m1 0h3m1 0h1m4 0h1m5 0h3m1 0h1m14 0h1"/><path stroke="#fa9" d="M103 7.5h1M1 15.5h2m2 0h1m4 0h1m3 0h2m16 0h1m1 0h1m5 0h2m7 0h1m2 0h2M43 18.5h2"/><path stroke="#ecb" d="M175 7.5h1M86 8.5h1m34 0h1"/><path stroke="#abd" d="M36 8.5h1"/><path stroke="#bbc" d="M41 8.5h1M126 10.5h1M66 11.5h1m37 0h1m66 0h1m7 0h1m4 0h1M115 12.5h1M76 13.5h1m18 0h1m1 0h1M62 14.5h2m36 0h1M65 15.5h1m99 0h1M130 16.5h1m52 0h1M106 18.5h1m28 0h1M24 20.5h1m41 0h1M132 21.5h1m13 0h1M109 22.5h1m25 0h1M142 23.5h1"/><path stroke="#fca" d="M57 8.5h1m38 0h1m79 0h1M29 18.5h1"/><path stroke="#fcb" d="M91 8.5h1"/><path stroke="#e76" d="M0 11.5h2m2 0h1m2 0h4m1 0h2m2 0h2m1 0h6m3 0h7m1 0h2m1 0h3m1 0h1m4 0h3m2 0h1"/><path stroke="#d65" d="M2 11.5h1m24 0h1"/><path stroke="#e75" d="M3 11.5h1m1 0h2m4 0h1m3 0h1m9 0h1m9 0h1m2 0h1m5 0h4"/><path stroke="#e86" d="M14 11.5h1m3 0h1m7 0h1m15 0h1"/><path stroke="#d75" d="M51 11.5h1"/><path stroke="#e87" d="M52 11.5h1M49 16.5h1m1 0h1"/><path stroke="#cab" d="M173 13.5h1M61 17.5h1"/><path stroke="#9aa" d="M117 14.5h1m25 0h1M90 16.5h1M187 23.5h1"/><path stroke="#e97" d="M7 16.5h1m3 0h1m3 0h1m2 0h1m1 0h2m3 0h1m3 0h1m5 0h1m3 0h1m7 0h1m5 0h1"/></g><rect x="26.3" y="402.5" width="53.7" height="2.5" fill="#e8605a"/><rect x="80" y="402.5" width="137.3" height="2.5" fill="#19a9b4"/><text x="24.3" y="411.43" font-size="5.1" text-anchor="end" fill="#111">Ifitm3</text><text x="24.3" y="416.69" font-size="5.1" text-anchor="end" fill="#111">Pf4</text><text x="24.3" y="421.95" font-size="5.1" text-anchor="end" fill="#111">Nkg7</text><text x="24.3" y="427.21" font-size="5.1" text-anchor="end" fill="#111">Mif</text><text x="24.3" y="432.47" font-size="5.1" text-anchor="end" fill="#111">Ppa1</text><text x="24.3" y="437.73" font-size="5.1" text-anchor="end" fill="#111">Cox5a</text><text x="24.3" y="442.99" font-size="5.1" text-anchor="end" fill="#111">Dctpp1</text><text x="24.3" y="448.25" font-size="5.1" text-anchor="end" fill="#111">Vwf</text><text x="24.3" y="453.51" font-size="5.1" text-anchor="end" fill="#111">Scd2</text><text x="24.3" y="458.77" font-size="5.1" text-anchor="end" fill="#111">Cbx5</text><text x="24.3" y="464.03" font-size="5.1" text-anchor="end" fill="#111">Cd9</text><text x="24.3" y="469.29" font-size="5.1" text-anchor="end" fill="#111">Cd48</text><text x="24.3" y="474.55" font-size="5.1" text-anchor="end" fill="#111">Apoe</text><text x="24.3" y="479.81" font-size="5.1" text-anchor="end" fill="#111">Runx1</text><text x="24.3" y="485.07" font-size="5.1" text-anchor="end" fill="#111">Gp5</text><text x="24.3" y="490.33" font-size="5.1" text-anchor="end" fill="#111">Gpx3</text><text x="24.3" y="495.59" font-size="5.1" text-anchor="end" fill="#111">Itm2b</text><text x="24.3" y="500.85" font-size="5.1" text-anchor="end" fill="#111">Il10rb</text><text x="24.3" y="506.11" font-size="5.1" text-anchor="end" fill="#111">Pcdh7</text><text x="24.3" y="511.37" font-size="5.1" text-anchor="end" fill="#111">Ucp2</text><text x="24.3" y="516.63" font-size="5.1" text-anchor="end" fill="#111">Car2</text><text x="24.3" y="521.89" font-size="5.1" text-anchor="end" fill="#111">Itgb2</text><text x="24.3" y="527.15" font-size="5.1" text-anchor="end" fill="#111">Cd81</text><text x="24.3" y="532.41" font-size="5.1" text-anchor="end" fill="#111">Itga2b</text><text x="224.8" y="462.3" font-size="4.95" fill="#222">Expression</text><defs><linearGradient id="eg" x1="0" y1="0" x2="0" y2="1"><stop offset="0" stop-color="#173f7a"/><stop offset="0.09" stop-color="#1f5fa8"/><stop offset="0.193" stop-color="#2b7bba"/><stop offset="0.296" stop-color="#4f9fd2"/><stop offset="0.399" stop-color="#9ccbe5"/><stop offset="0.49" stop-color="#e8f0f5"/><stop offset="0.541" stop-color="#fbede5"/><stop offset="0.606" stop-color="#f9c5aa"/><stop offset="0.709" stop-color="#f0835f"/><stop offset="0.812" stop-color="#dd4a3a"/><stop offset="0.915" stop-color="#c8242c"/><stop offset="1" stop-color="#b01828"/></linearGradient></defs><rect x="224.6" y="466.1" width="7.2" height="37.9" fill="url(#eg)"/><text x="234" y="470.8" font-size="5" fill="#222">2</text><text x="234" y="478.6" font-size="5" fill="#222">1</text><text x="234" y="486.4" font-size="5" fill="#222">0</text><text x="234" y="494.2" font-size="5" fill="#222">&#8722;1</text><text x="234" y="502" font-size="5" fill="#222">&#8722;2</text><text x="269.2" y="384" font-size="11.2" font-weight="bold" textLength="6.6" lengthAdjust="spacingAndGlyphs" fill="#000">E</text><text x="317.5" y="388.2" font-size="7.8" font-style="italic" fill="#3f6f9f" stroke="#3f6f9f" stroke-width="0.22" textLength="21.9" lengthAdjust="spacingAndGlyphs">Runx1</text><text x="340.5" y="384.5" font-size="5.6" font-style="italic" fill="#3f6f9f" textLength="9.3" lengthAdjust="spacingAndGlyphs">F/F</text><text x="425.9" y="388.2" font-size="7.8" font-style="italic" fill="#c6304f" stroke="#c6304f" stroke-width="0.22" textLength="21.7" lengthAdjust="spacingAndGlyphs">Runx1</text><text x="449.3" y="384.4" font-size="5.6" font-style="italic" fill="#c6304f" textLength="8.7" lengthAdjust="spacingAndGlyphs">&#8722;/&#8722;</text><path d="M296.8 394.1V471.3H370M315.6 471.3v2.4M334.5 471.3v2.4M353.1 471.3v2.4M296.8 396.9h-2.4M296.8 417.4h-2.4M296.8 438.3h-2.4M296.8 459.1h-2.4" stroke="#2b2b2b" stroke-width="1.05" fill="none"/><text x="315.6" y="484.3" font-size="6.3" text-anchor="middle" fill="#333">&#8722;10</text><text x="334.5" y="484.3" font-size="6.3" text-anchor="middle" fill="#333">0</text><text x="353.1" y="484.3" font-size="6.3" text-anchor="middle" fill="#333">10</text><text x="291.4" y="399.17" font-size="6.3" text-anchor="end" fill="#333">20</text><text x="291.4" y="419.67" font-size="6.3" text-anchor="end" fill="#333">10</text><text x="291.4" y="440.57" font-size="6.3" text-anchor="end" fill="#333">0</text><text x="291.4" y="461.37" font-size="6.3" text-anchor="end" fill="#333">&#8722;10</text><text x="333.3" y="496.1" font-size="7.7" text-anchor="middle" textLength="22.5" lengthAdjust="spacingAndGlyphs" fill="#222" stroke="#222" stroke-width="0.15">UMAP_1</text><text transform="translate(275.3 435.3) rotate(-90)" font-size="7.7" text-anchor="middle" textLength="22" lengthAdjust="spacingAndGlyphs" fill="#222" stroke="#222" stroke-width="0.15">UMAP_2</text><g filter="url(#ub)"><path d="M312.4 420.7L313.3 417.4L315.7 416.2L317.9 416.7L319.8 419.2L321.7 424.3L323.9 429.5L326.2 433.4L325.4 435.6L323 437.5L320.7 437.1L317.9 433.8L315.7 430.1L313.8 426.5L312.7 423.3Z" fill="#e09382" fill-opacity="0.5"/><path d="M312.4 420.7L312.7 423.3L313.8 426.5L315.7 430.1L317.9 433.8L320.7 437.1L322.1 438.9L324.3 442.1L327 445.9L326 446.6L323.1 442.8L320.6 439.9L318.1 438.3L315.3 437L312.9 435.5L310.1 432.4L309.2 429.5L310.1 425.8L311.3 422.8Z" fill="#e1907e" fill-opacity="0.5"/><path d="M328.6 438L331.3 435.4L335.9 434.6L341.6 435.8L345.7 435.8L348.9 434.8L351.3 439.2L349.2 444L348.8 448.4L346.9 451.3L343.7 450.9L342.8 448.4L338.1 446.2L332.6 445.4L328.9 445.4L327.7 441.8Z" fill="#e09382" fill-opacity="0.5"/><path d="M327.3 445.6L332.6 445.4L338.1 446.2L342.8 448.4L343.7 451.3L340.9 453.5L336.3 454.9L331.7 454.2L328.9 452L326.9 448.7Z" fill="#e38d79" fill-opacity="0.5"/><path d="M349.1 449L351.9 450.5L352.5 455.5L350.3 460.5L346.2 464.4L342 465.1L339 462.9L340 459.2L343.5 457.6L344.6 459.9L346 458.4L347.2 456.1L347.6 452.7Z" fill="#cabab6" fill-opacity="0.5"/><path d="M310.6 445.8L312.4 445.1L313.7 446.8L313.8 450.6L314.3 455L312.5 456.2L310.8 454.8L310.1 450Z" fill="#c9bcba" fill-opacity="0.5"/><ellipse cx="353.4" cy="434.9" rx="4.7" ry="3.6" fill="#c9bcba" fill-opacity="0.75"/><path transform="scale(.1)" d="M3383 4016h0m4 1h0m33 10h0m0 4h0m-5-4h0m-2 2h0m0-1h0m-1 0h0m-2-1h0m0 2h0m-1-1h0m0-4h0m-1 5h0m0-3h0m0 3h0m-1 1h0m-2 0h0m-1 1h0m-2-6h0m0 5h0m-1-1h0m-13-4h0m0-1h0m-1 0h0m-1 5h0m0 0h0m-1 0h0m-1 0h0m0-3h0m0-1h0m-3-4h0m0 0h0m-1 3h0m-3-3h0m2 12h0m1 1h0m3-1h0m1 3h0m1-2h0m0 1h0m1-1h0m0 8h0m0 1h0m0-10h0m1 6h0m0-1h0m1 2h0m1-2h0m0 2h0m2-5h0m5 3h0m6 0h0m4-4h0m8-1h0m3 0h0m0 0h0m2 2h0m0 3h0m3-4h0m0 0h0m0 0h0m1 1h0m1 1h0m2 1h0m0-3h0m3 0h0m2-1h0m-37 18h0m-37 8h0m-1 0h0m-1-1h0m0 1h0m-1-1h0m-4 1h0m0-3h0m0 1h0m-2-1h0m-1-1h0m3 7h0m2-2h0m0 8h0m1-7h0m0 5h0m1 3h0m2-7h0m0 4h0m2 0h0m1-2h0m0-3h0m0 2h0m0 4h0m1-2h0m0 1h0m1 1h0m1 0h0m1-1h0m1-2h0m2 4h0m1 1h0m1-2h0m0-3h0m1 9h0m0 0h0m5 14h0m-5-4h0m0-5h0m-3-4h0m-3 13h0m6 3h0m5 11h0m290-6h0m4 4h0m-287 16h0m-6-10h0m-1 10h0m-3-12h0m-1 8h0m-4 13h0m0-8h0m3 5h0m3 1h0m0 3h0m1 0h0m0 2h0m0-9h0m2 10h0m4-5h0m82 15h0m0-8h0m-2 1h0m-7 4h0m-1 6h0m-2 2h0m0-12h0m-1 10h0m-6 1h0m0 1h0m-1 0h0m-7 0h0m-52-10h0m0 9h0m-4 1h0m0-6h0m0 4h0m-3-8h0m-3-3h0m0 2h0m-3-1h0m-1 2h0m5 15h0m3-3h0m1 0h0m1 1h0m0 0h0m1 3h0m0-1h0m1-4h0m1 10h0m4-7h0m0 9h0m1-7h0m0 4h0m0 2h0m1-4h0m0-3h0m2 3h0m0 4h0m0-1h0m2-7h0m1 6h0m0 3h0m0-6h0m1 5h0m4 2h0m4-8h0m3 2h0m2 3h0m3 2h0m1 1h0m5-2h0m2-3h0m0 3h0m5-5h0m2 2h0m2 1h0m1-3h0m0 3h0m1-7h0m1 3h0m0 4h0m2 1h0m2-1h0m0-4h0m1 2h0m0-2h0m2 4h0m2-9h0m0 2h0m2-1h0m5 1h0m2-2h0m104 7h0m-118 8h0m-2 0h0m-4 0h0m0 0h0m0 3h0m-1-3h0m-6 2h0m-3 7h0m0-6h0m-2-1h0m-1 6h0m0-6h0m-1 3h0m-1-2h0m0-4h0m-1 7h0m-1 4h0m0 0h0m0-3h0m-1 5h0m0-10h0m0 7h0m-1-8h0m0 6h0m0-5h0m0 6h0m-1-1h0m0-3h0m-1-2h0m0-3h0m0 7h0m0 1h0m-1-6h0m0 11h0m0-6h0m-1 0h0m0-1h0m0 4h0m-2-5h0m0 5h0m-1-1h0m0 4h0m0-8h0m0-3h0m-1 9h0m0 0h0m-1-2h0m0-1h0m0-2h0m0-1h0m-1 1h0m0 7h0m-1-5h0m0-4h0m0 7h0m0-9h0m0 0h0m0-1h0m-1 6h0m-1-5h0m-1 4h0m0 6h0m0-4h0m-1 4h0m0-7h0m0-4h0m-1 2h0m0 1h0m-1 2h0m0-4h0m-1 0h0m0 7h0m0 2h0m-1-3h0m0-8h0m0 6h0m-1 7h0m0-3h0m-1 2h0m0-8h0m-1 9h0m-2-9h0m-1 5h0m-1 1h0m0-8h0m-1 0h0m0 2h0m0 0h0m-2 9h0m-3-2h0m0 2h0m-24 0h0m-27 8h0m3 5h0m3-6h0m0 3h0m2 4h0m1-2h0m2-6h0m1 1h0m4-3h0m0 7h0m0-1h0m5-3h0m0 5h0m2-5h0m0 0h0m2-5h0m5 3h0m5 4h0m0-3h0m0-5h0m2 3h0m0-3h0m1 3h0m1-2h0m8-1h0m10 0h0m4 6h0m3-5h0m3 4h0m1-5h0m1 0h0m1 0h0m0 0h0m1 7h0m0-5h0m1 2h0m0-3h0m1 10h0m0-2h0m3-9h0m0 1h0m0 0h0m0 4h0m1 2h0m2-5h0m1-1h0m2 6h0m1-7h0m1 8h0m0-6h0m2 11h0m0-3h0m0-6h0m2 9h0m1-13h0m-4 17h0m-3 10h0m-3-2h0m-2-5h0m-1 6h0m0 1h0m-1-9h0m-2 0h0m-5-4h0m-63 0h0m-142 4h0m-18 21h0m32 2h0m200-3h0m3-1h0m0 1h0m1 0h0m0-2h0m10 14h0m-4-8h0m0 12h0m-1-8h0m-1 3h0m-3 5h0m-5-11h0m-246 19h0m251 1h0m0 3h0m3-2h0m2 2h0m2-4h0m9 21h0m-1 0h0m-4-1h0m-2-10h0m-2 2h0m-2 6h0m-1-9h0m-192 8h0m-2 1h0m-8-3h0m3 16h0m0-6h0m17 10h0m188-2h0m4-8h0m2 3h0m6 6h0m0-6h0m1 7h0m0-3h0m2 3h0m0 0h0m0-5h0m1 4h0m0-8h0m5 9h0m6 2h0m-1 11h0m-6-10h0m-1 7h0m-3-8h0m-2 3h0m-2 0h0m0 1h0m-3-4h0m-245 1h0m-12 2h0m-6 21h0m46 0h0m17 0h0m219-10h0m4 2h0m0 0h0m2 1h0m2 1h0m1 0h0m0 6h0m84 16h0m-45-8h0m0 1h0m0 6h0m-4-6h0m-9-4h0m-11 11h0m-1-7h0m-2 4h0m-1-7h0m-2 2h0m-3 0h0m-2-2h0m-4-1h0m-1-1h0m-246 9h0m-16 2h0m10 10h0m2-3h0m0 7h0m2-12h0m11 0h0m5 5h0m0-1h0m6 7h0m15 1h0m3-1h0m2-6h0m1 1h0m8 7h0m214-7h0m4-3h0m0-1h0m2-1h0m1 7h0m1-8h0m4 10h0m4 0h0m3-5h0m5 5h0m19-10h0m3 9h0m3-1h0m1-7h0m1 5h0m5 1h0m1 0h0m1-4h0m4 9h0m0-11h0m1 2h0m7 5h0m1-3h0m1-4h0m1 2h0m1 7h0m0 0h0m6-4h0m1-5h0m1 12h0m3-1h0m4-4h0m0 1h0m2 1h0m5-2h0m0 2h0m13 16h0m-2-6h0m0-1h0m-4 4h0m0 1h0m-2-3h0m-1-2h0m-2-5h0m-1 7h0m-1 3h0m0 1h0m-5 1h0m-1-10h0m0 4h0m-1 1h0m0 2h0m-1-7h0m-3-1h0m-1 0h0m-1 8h0m-4-9h0m0 6h0m-1-4h0m0 2h0m0 7h0m-1-11h0m0 12h0m-3-8h0m-1 7h0m-2 1h0m0 0h0m-1-12h0m-3 9h0m0-5h0m-1-2h0m-1 1h0m-7-1h0m0 10h0m-1-5h0m-2 4h0m-2-8h0m-1 8h0m-5-10h0m-4 8h0m-1-2h0m0 4h0m-1-10h0m-2 3h0m-1 5h0m-1-9h0m-1 6h0m-3 1h0m-1 0h0m-4-1h0m-1 0h0m-3-5h0m0 8h0m-2 4h0m-4 0h0m-2-5h0m-230-6h0m-4 1h0m-1 9h0m-7-6h0m-18 7h0m-3-2h0m-1-10h0m-2 5h0m-2 5h0m-16-9h0m-2-1h0m-14 11h0m-38 12h0m49 0h0m4-2h0m4 1h0m15-4h0m7-5h0m19 4h0m0 6h0m10-9h0m117 10h0m114-3h0m2-2h0m4 7h0m2 0h0m1-5h0m1-4h0m0 3h0m1 2h0m3-6h0m3-2h0m3 4h0m5 4h0m0-1h0m3 4h0m7-1h0m1-5h0m2-1h0m2-5h0m1 6h0m1 7h0m1-8h0m8 4h0m0 4h0m1-12h0m2 5h0m2 7h0m2-7h0m4 2h0m0-4h0m5-2h0m2 3h0m2 1h0m3 7h0m1-5h0m1 0h0m0 4h0m2-8h0m2 0h0m1-3h0m3-1h0m1 6h0m0 0h0m0-5h0m0 9h0m4-1h0m4-8h0m2 10h0m3-1h0m1-8h0m0 6h0m-2 6h0m-5 12h0m-5-5h0m-1 2h0m-1-2h0m-1 0h0m-1 2h0m-12-8h0m-3 9h0m-3-9h0m-1 7h0m-7 0h0m-4 5h0m0-13h0m-1 11h0m-2-11h0m-1 0h0m-1 12h0m-1-2h0m-4-4h0m-2 6h0m-7-7h0m0 4h0m-1 3h0m-1-10h0m0 4h0m-1 3h0m-2-2h0m-3-5h0m0 4h0m-1 1h0m-1 6h0m-1-7h0m-1-6h0m-3 5h0m0 7h0m-2 0h0m-3-7h0m-3 7h0m-1-3h0m0 1h0m-1-3h0m0 3h0m-1 2h0m-1-10h0m-3 3h0m-2 1h0m0 7h0m-6-6h0m-3-6h0m-2 0h0m-1 3h0m-6 6h0m-1-1h0m-4-4h0m0 5h0m0 2h0m-5-8h0m-2 5h0m-27 2h0m-15-3h0m-1 4h0m-9-7h0m-2 4h0m-153-8h0m-7 0h0m-5-1h0m-14 6h0m-5-2h0m138 15h0m30 7h0m9-9h0m27 9h0m2-9h0m23-2h0m4 0h0m1-1h0m1 9h0m2-4h0m2-5h0m1 3h0m2 6h0m1-8h0m1 12h0m2-11h0m5 6h0m0 5h0m2-3h0m0-9h0m3 6h0m1-4h0m1 4h0m1 1h0m5 5h0m1-7h0m11-6h0m0 4h0m1 0h0m1 6h0m0-7h0m0 3h0m1-2h0m1 1h0m5-3h0m4 11h0m3-13h0m1 7h0m1-2h0m1-2h0m1 5h0m1-7h0m0 1h0m1 0h0m0 3h0m2-1h0m3 0h0m0 9h0m3-7h0m0-1h0m0 2h0m1 6h0m5-10h0m0 4h0m1-6h0m2 4h0m0 7h0m4 1h0m6-4h0m2 4h0m5-6h0m2 5h0m4-7h0m2-1h0m2 6h0m3-5h0m-20 9h0m-1 1h0m-5 1h0m-7 1h0m-4-1h0m-13-1h0m-6 11h0m-8-4h0m-1 0h0m-7-2h0m0 2h0m-3-1h0m-2-1h0m0-3h0m-6 5h0m-5 5h0m-5-13h0m-9 6h0m-2 5h0m-5-3h0m-2-4h0m-11 5h0m0-8h0m-7 6h0m-3-4h0m-3 2h0m-5 0h0m-32-2h0m-214 10h0m-7 2h0m2 6h0m199 5h0m1-2h0m15-1h0m11 0h0m0-1h0m15 3h0m14-4h0m1 3h0m6-5h0m2-2h0m2 0h0m0-2h0m23 11h0m8-5h0m0 1h0m2 4h0m2-8h0m1-2h0m6 7h0m22-2h0m-7 10h0m0 0h0m-4 1h0m-9 8h0m-3-5h0m-1-2h0m-12 3h0m-1-1h0m-2-2h0m0-3h0m-4 6h0m-4 2h0m0 1h0m-8-5h0m-14-3h0m-1 9h0m-1-10h0m-9 4h0m-13-5h0m-2 0h0m-2 1h0m-7 6h0m-19-7h0m-5 11h0m-8-9h0m-41-3h0m-23 2h0m-135 2h0m-5-2h0m0 3h0m-8 6h0m-4 2h0m-3 7h0m4 1h0m2-2h0m0-4h0m176 0h0m14-1h0m18 2h0m20 5h0m19 6h0m1-10h0m5 1h0m6 5h0m35-9h0m4 0h0m11 11h0m6-5h0m8-1h0m12-1h0m2 4h0m-3 14h0m-4 1h0m-2-5h0m-5 2h0m-2-6h0m-3 5h0m-2 7h0m0-8h0m-5-3h0m-1 8h0m-14-3h0m-4 1h0m-4 6h0m-4 0h0m0-10h0m-7-3h0m-13 5h0m-7-3h0m-25 11h0m-1-12h0m-8 3h0m-44-3h0m-192 5h0m-1 0h0m-35 16h0m4 2h0m11 3h0m2-4h0m8-6h0m0 2h0m2 0h0m1-4h0m1 3h0m1-2h0m0-2h0m262 9h0m20 0h0m0-5h0m8 7h0m1-3h0m12-1h0m4-1h0m8 7h0m2-2h0m8-1h0m26-10h0m-5 26h0m-5-3h0m-3-4h0m-1 4h0m-1-1h0m-2-5h0m-3 9h0m-3-10h0m-8 6h0m-5-8h0m0 1h0m-1 9h0m-3-8h0m-5-2h0m-1 0h0m-1 10h0m-3-10h0m-3 2h0m-17 7h0m-1 4h0m0-8h0m-2 8h0m-1-9h0m-9-4h0m-273 11h0m-6-1h0m-13 16h0m5-8h0m0 9h0m2-11h0m2 11h0m7-12h0m298 10h0m15-3h0m15 4h0m0-2h0m2 1h0m3-8h0m1-3h0m6 1h0m4 12h0m9-12h0m8 9h0m21 15h0m0 2h0m-15-9h0m0 9h0m0 0h0m-19-8h0m-4-1h0m0 4h0m-2-2h0m-11 2h0m-1 5h0m0-10h0m-1 0h0m0 10h0m-1-5h0m-5-5h0m-4 3h0m-4 1h0m-3-1h0m-5-6h0m-300 9h0m-3 1h0m-7 3h0m-1-3h0m-2-8h0m-1 2h0m-13 5h0m-10-8h0m4 16h0m2-3h0m11 10h0m5-2h0m2-2h0m4-4h0m4 1h0m307-2h0m19 0h0m10-1h0m21 5h0m0-3h0m3-1h0m12 7h0m5-6h0m3-1h0m5 24h0m-3-10h0m0 8h0m-5-8h0m-1 3h0m0-3h0m-9 12h0m-2-1h0m-7-2h0m-1-9h0m-2 6h0m-6-2h0m-1 2h0m-340-1h0m-16-4h0m-5 4h0m-8-2h0m4 22h0m2-12h0m2 11h0m11 0h0m1-4h0m8-7h0m338 2h0m4 1h0m2 9h0m6-4h0m6 1h0m2-9h0m1 6h0m4-4h0m7 3h0m6 7h0m2-2h0m4-9h0m5 4h0m0 15h0m-3-6h0m0 6h0m-10 1h0m0 3h0m-5 1h0m-3-11h0m-6 11h0m-1-7h0m-3-2h0m-2 6h0m-1 1h0m0-4h0m-7-2h0m-1 4h0m0-1h0m-1-1h0m-356-3h0m0 7h0m-1-8h0m-1 5h0m-3 1h0m-10 1h0m-9 5h0m-34 14h0m2-1h0m13-3h0m8-4h0m3 0h0m1-3h0m6 0h0m4-2h0m1 0h0m360 6h0m4 7h0m6-7h0m6-2h0m1 2h0m2-3h0m2 0h0m6-1h0m4 1h0m6 3h0m1 6h0m2-7h0m10 1h0m-3 18h0m-9 0h0m-1-10h0m-2 13h0m-7-3h0m-2-2h0m-3-1h0m-3 2h0m-5-8h0m-4 8h0m-7-5h0m0 8h0m-1-11h0m-2 1h0m0 4h0m-12 5h0m-21 1h0m-19-1h0m-350-11h0m-4 4h0m-1-1h0m-3 2h0m-1-2h0m-2 2h0m0 2h0m-12 3h0m-7 3h0m-1-2h0m-10 3h0m2 1h0m0 1h0m4-2h0m371 11h0m2-1h0m4-3h0m3-3h0m12-2h0m1-1h0m7 0h0m1 4h0m6 8h0m14-8h0m23-5h0m3 12h0m1-1h0m8-3h0m5 3h0m5 2h0m2-8h0m3-2h0m-19 20h0m-9-6h0m-3 4h0m-9-7h0m-2 5h0m0 5h0m-7-5h0m-1-2h0m-8 3h0m-7 2h0m-5 0h0m-3 4h0m-1-9h0m-4-2h0m-9 5h0m0 0h0m-3 5h0m-1-2h0m-1 3h0m-2-6h0m-8 7h0m-3-2h0m-1-9h0m7 25h0m1-9h0m3 7h0m1-9h0m14 10h0m4-10h0m5 4h0m4-1h0m1 0h0m8-2h0m8 1h0m3 2h0m6 2h0m6-7h0m8 6h0m5 3h0m-3 5h0m-9 0h0m-1 4h0m-4-4h0m-7 10h0m-2 2h0m0-5h0m-13-1h0m-17-7h0m0 5h0m0 1h0m-6 3h0" stroke="#c7c0bf" stroke-width="8" stroke-linecap="round" fill="none"/><path transform="scale(.1)" d="M3410 4016h0m3-3h0m10 18h0m-6 0h0m-9-6h0m-20 1h0m-1-1h0m-4-7h0m2 15h0m1 5h0m1-6h0m3 6h0m1-3h0m0 6h0m3 2h0m24-9h0m1 1h0m8 3h0m5-5h0m-42 14h0m-5 1h0m0 8h0m-20 3h0m-7 0h0m-7 4h0m0-2h0m3 0h0m1 4h0m3 4h0m7-2h0m248 5h0m6-4h0m-253 28h0m8 14h0m-3 14h0m4 2h0m1 0h0m0 1h0m74 15h0m-5-1h0m-1-1h0m-60-5h0m0 0h0m-1 7h0m-1 1h0m-4-6h0m-1 4h0m3 11h0m2-3h0m7 5h0m1-2h0m2 3h0m8-7h0m4 6h0m24-1h0m9-8h0m-17 14h0m-5 3h0m-2 2h0m-1-1h0m-2 0h0m-3 3h0m0 2h0m-4 3h0m-1-5h0m-1 2h0m-1 1h0m0 1h0m-2 1h0m0-7h0m-1 5h0m-1 1h0m0-9h0m-5 3h0m0-4h0m-3 2h0m-3 8h0m-1-10h0m-3 1h0m-204 17h0m2-2h0m5 2h0m3-1h0m184-5h0m6 1h0m6 2h0m2 1h0m9 3h0m1-3h0m1-3h0m4 1h0m0-1h0m3 3h0m0 1h0m0 1h0m3 2h0m0-6h0m-8 19h0m0-1h0m-67-1h0m-144 6h0m-15-3h0m-33-3h0m19 17h0m39 3h0m0-10h0m210 15h0m-2 0h0m-217 7h0m-16-6h0m-40 21h0m43-2h0m5-7h0m6 1h0m17-1h0m0 3h0m1 4h0m203-8h0m9 9h0m9 10h0m-11 3h0m-1-7h0m-1 11h0m-243-6h0m-33 6h0m-27 2h0m45 1h0m47 9h0m5-7h0m8-1h0m9 11h0m193-4h0m5-1h0m1-2h0m3-3h0m-201 12h0m-16 5h0m-7 5h0m-8-6h0m-4-1h0m-8 7h0m-22-1h0m-8-10h0m31 15h0m3 12h0m2-9h0m2 1h0m8 4h0m10-5h0m8 8h0m0-1h0m6-10h0m7 6h0m3 2h0m259 9h0m-11 1h0m-15 2h0m-246 0h0m-2-3h0m0-4h0m-6 12h0m-32-1h0m-8-6h0m-8-5h0m-18 4h0m-39 15h0m70 5h0m6-1h0m16 4h0m5-6h0m1-4h0m15 10h0m3-13h0m7 5h0m4 6h0m1-8h0m1 3h0m1-3h0m8 8h0m7-2h0m0-8h0m213 0h0m15 5h0m25 5h0m0-7h0m2 9h0m18-4h0m5-1h0m4 1h0m2-2h0m3-5h0m1 10h0m4-7h0m1-1h0m2 7h0m0-8h0m3 3h0m8 1h0m10 4h0m0 1h0m8 13h0m-1-8h0m0 10h0m-1-7h0m-3-6h0m-3 12h0m-12 0h0m-4-12h0m-10 8h0m-4 0h0m-6-1h0m-4 0h0m-2-4h0m-1 0h0m-3-2h0m-8 5h0m-1 3h0m-6-9h0m-8 10h0m-8 2h0m-232-5h0m-1 6h0m-17-12h0m-12 0h0m-19 7h0m-10-2h0m-22 3h0m11 5h0m9 3h0m3-1h0m8 2h0m6 9h0m1-4h0m4-1h0m6-5h0m1 2h0m2 8h0m155-1h0m104-3h0m10 2h0m12 1h0m5-3h0m8-9h0m2 8h0m5-6h0m4 6h0m1-1h0m3 4h0m3-3h0m9-6h0m3 1h0m4-2h0m0 10h0m15-7h0m5 9h0m-3 14h0m-1-12h0m-1-1h0m-9 12h0m-25-12h0m-1 9h0m-1-3h0m-5 3h0m-8-9h0m-8 2h0m-19 11h0m-7-13h0m-2 4h0m-16-4h0m-1 7h0m-29 1h0m-1 2h0m-13-2h0m-38-2h0m-6-3h0m-28-3h0m-4 5h0m-9 0h0m-99 8h0m-9-12h0m-4 1h0m-1 7h0m-7-8h0m-5 0h0m-3 5h0m13 8h0m3 1h0m92 3h0m26 2h0m35-6h0m7 12h0m3-11h0m5 4h0m19 3h0m14 5h0m5-6h0m1-5h0m5 10h0m12-6h0m1-6h0m1 10h0m28-4h0m11 7h0m5-9h0m9 5h0m1 4h0m5-1h0m5-3h0m4-7h0m3 6h0m14-3h0m3 6h0m9-5h0m7 2h0m0-3h0m-32 13h0m-1-4h0m-1 5h0m-22-2h0m-25 6h0m-11 4h0m-3-8h0m-7-2h0m-6 3h0m-3 3h0m-2 3h0m-29-5h0m-5-4h0m-13-2h0m-16 9h0m0-10h0m-68 11h0m-4-9h0m-143 20h0m2-7h0m0 6h0m213 2h0m34-1h0m4 1h0m2-6h0m12-1h0m3-1h0m5 1h0m1 0h0m27 3h0m13-5h0m25 0h0m-6 26h0m-3-3h0m-7-6h0m-13 8h0m-2-4h0m-10-5h0m-4-1h0m-15 11h0m-20-9h0m-10 1h0m-12 5h0m-5-2h0m-38-1h0m-5 4h0m-5-5h0m-12-4h0m-193 25h0m179-11h0m6 3h0m23-2h0m9 2h0m24-1h0m17-3h0m5 6h0m4 0h0m6-6h0m4 9h0m7-5h0m9-4h0m9 9h0m27-3h0m8 2h0m-10 11h0m-7 0h0m0-3h0m-5 2h0m-1 0h0m-2 5h0m-5 3h0m-13-8h0m-9-1h0m-4-3h0m-1 3h0m-2 3h0m-15 3h0m-19-3h0m-10 5h0m-3-1h0m-10 1h0m-13-1h0m-2-10h0m-4 2h0m-2 4h0m-9-2h0m-191-3h0m-12 8h0m-20 11h0m5-5h0m8 0h0m1 5h0m229-1h0m3 0h0m6 7h0m20-8h0m5 1h0m10 6h0m3-2h0m10 0h0m0 2h0m7-1h0m28-3h0m0 1h0m19-6h0m13 0h0m3 9h0m-31 8h0m-5 1h0m0-6h0m-5 4h0m-12-1h0m-15 10h0m-6-2h0m-2-5h0m-281 4h0m-14-6h0m-4 19h0m2-9h0m3 0h0m18 8h0m264-1h0m37 2h0m3-5h0m2-1h0m9 9h0m1-2h0m1-10h0m21 7h0m7-3h0m12 19h0m-29 4h0m-1-9h0m-9-1h0m-17 4h0m-8-2h0m-287 6h0m-3-1h0m-19-4h0m-17-4h0m29 25h0m5-6h0m237 5h0m11-7h0m52-5h0m30 1h0m30 6h0m8-2h0m11 10h0m-14 5h0m-2-3h0m-9 10h0m-167-2h0m-185 1h0m-18-1h0m-7 9h0m380 3h0m19-7h0m3 4h0m-6 19h0m-11-10h0m-3 1h0m-6 3h0m-346-5h0m-10 7h0m-23 5h0m-35 15h0m26-12h0m374 4h0m13 5h0m10 2h0m-31 6h0m-38-2h0m-1 5h0m-363-6h0m-30 11h0m366 11h0m3-2h0m23-4h0m43 6h0m14-7h0m5 10h0m-6 10h0m-2-7h0m-1 2h0m-9-1h0m-17 7h0m-12-3h0m-10-5h0m-5-1h0m-10 7h0m-1-2h0m-22 14h0m14-1h0m1 4h0m4 1h0m49 2h0m3-5h0m-10 12h0m-6 6h0m-12-6h0m-5 8h0m-15-3h0m32 5h0" stroke="#ceb4ae" stroke-width="8" stroke-linecap="round" fill="none"/><path transform="scale(.1)" d="M3407 4025h0m-2 5h0m-2-2h0m-22-5h0m10 16h0m21-6h0m7 2h0m-39 14h0m-23 8h0m0 4h0m3 6h0m4-1h0m-1 16h0m5 17h0m5 28h0m7 10h0m-14-4h0m17 22h0m2-3h0m1 3h0m36-6h0m9 0h0m-4 9h0m-15 13h0m-4-6h0m0-3h0m-2 7h0m0 2h0m0-9h0m-6 6h0m-14-10h0m0 4h0m-4 4h0m-235 3h0m15 5h0m28 9h0m139-2h0m36-4h0m4-5h0m15 2h0m14-2h0m2 6h0m7 13h0m-213 4h0m-9-7h0m-1 4h0m-3 4h0m-9-3h0m-16-6h0m-2 6h0m-22 7h0m7 5h0m16 0h0m6 2h0m13-6h0m0 9h0m0-2h0m7 3h0m2-4h0m0-4h0m14 5h0m206 9h0m-218 0h0m-1 8h0m-2-10h0m-7 1h0m-13 2h0m0 6h0m-7 0h0m-4 0h0m-4-4h0m-26 13h0m32 8h0m30-10h0m5 5h0m5 5h0m15-1h0m1-8h0m201-1h0m4 6h0m9 18h0m-6-2h0m-3-1h0m-191-1h0m-2 4h0m-16-12h0m-1 11h0m-8-7h0m-13 7h0m-3-2h0m-8-5h0m-7 5h0m-5 3h0m-2-3h0m-11-3h0m17 18h0m1 1h0m1-12h0m3 8h0m4 1h0m9 0h0m5 4h0m8-13h0m3 7h0m6 6h0m0-7h0m9 7h0m206-11h0m7 3h0m14 22h0m-211-10h0m-5 5h0m-1 3h0m-10-3h0m-2-7h0m-4 8h0m0-1h0m-3-7h0m-10 8h0m-19 0h0m-29-5h0m0 8h0m-37-7h0m-13 0h0m6 18h0m2-5h0m40 4h0m31-3h0m10 3h0m17 5h0m7-8h0m3 7h0m0 0h0m5-12h0m0 8h0m15-3h0m237 12h0m-14-1h0m-210 11h0m-8-8h0m-1-3h0m-9-2h0m-4 4h0m-11-2h0m-10 2h0m-3 8h0m-5 1h0m-16-7h0m-32-3h0m-49-1h0m15 22h0m40-10h0m10 7h0m15 0h0m4 0h0m19 5h0m8-12h0m3 1h0m0 5h0m2 2h0m9 2h0m5-10h0m7 9h0m295 0h0m3-2h0m1 0h0m2-5h0m6 7h0m15 1h0m5-4h0m14 20h0m-17-7h0m-9 5h0m-14-10h0m-5 8h0m-15-6h0m-5 9h0m-253-7h0m-13 8h0m-2-7h0m-12-4h0m-1 11h0m-10-4h0m-9-8h0m-18 11h0m-44-7h0m-28-3h0m38 17h0m16 2h0m7 5h0m6-7h0m1 1h0m6-2h0m15 8h0m2-11h0m10 3h0m8 2h0m23-3h0m236 2h0m2-3h0m17-1h0m15 12h0m0-12h0m42 0h0m4 0h0m6 12h0m-4 12h0m-20 3h0m-5-3h0m-15 1h0m-13 0h0m-29-11h0m-16 11h0m-16 0h0m-44-1h0m-2-5h0m-13-4h0m0 11h0m-6-2h0m-9-4h0m-13 7h0m-2-8h0m-4 3h0m-11 2h0m-11-7h0m-21 3h0m-16 5h0m-64-1h0m-17 1h0m-20 2h0m-14-13h0m-14 4h0m-22 8h0m13 3h0m8 1h0m22 8h0m15-5h0m5 8h0m81-7h0m46 2h0m25 4h0m18-7h0m10-2h0m2-3h0m14 11h0m0-2h0m10 2h0m8-3h0m69-4h0m11 9h0m3-2h0m8-3h0m1 4h0m1-3h0m3-6h0m14 6h0m7 0h0m9-4h0m5-5h0m5 13h0m-44 7h0m-47 3h0m-22 2h0m-8-3h0m-2 4h0m-33-6h0m-14 3h0m-31 1h0m-49-7h0m-1 7h0m-13-4h0m-10 0h0m-4 5h0m-78-4h0m-6-3h0m16 11h0m65 3h0m21 0h0m1 1h0m40 4h0m6-6h0m5 4h0m1 1h0m5-4h0m4 2h0m9-6h0m30 8h0m8-7h0m5 8h0m2-3h0m2-1h0m36 5h0m6-1h0m25-4h0m-23 10h0m-25 6h0m-3 6h0m-52-8h0m-27 3h0m-8 4h0m-6-5h0m-2-2h0m-14-5h0m-11 0h0m-4 8h0m-10 0h0m-154 19h0m144 0h0m4-10h0m0 4h0m20 6h0m23-1h0m8-7h0m8-1h0m20-4h0m10 5h0m2-3h0m9 2h0m3 3h0m21 3h0m7 0h0m18-9h0m40 2h0m-31 22h0m-48-8h0m-1-3h0m-7 10h0m-18 2h0m-18-4h0m-38 0h0m-30-3h0m-184 10h0m166 10h0m71-6h0m24 0h0m1-5h0m1 1h0m2 9h0m2-5h0m1 1h0m18-2h0m7-2h0m1 9h0m0-10h0m7 12h0m0-4h0m19 3h0m52 13h0m-48 1h0m-65 0h0m-29-1h0m-46-6h0m-20-5h0m-155 25h0m192-8h0m41 8h0m2-6h0m113 5h0m4-5h0m28 11h0m-50-1h0m-12 0h0m-37 10h0m-86 1h0m-39-10h0m-167 7h0m12 12h0m177-6h0m26 2h0m182 16h0m-148 3h0m-230-6h0m-11 12h0m234 7h0m13-7h0m13 2h0m111 15h0m-6 0h0m-399 18h0m390 5h0m11-5h0m22 20h0m-1-6h0m-454-1h0m0 0h0m401 16h0m4 0h0m39 4h0m-16 10h0m-5-7h0m-82 3h0m8 12h0m4 5h0m64 3h0m-29 9h0m-21 8h0" stroke="#d4a89e" stroke-width="8" stroke-linecap="round" fill="none"/><path transform="scale(.1)" d="M3389 4033h0m52 110h0m-22 7h0m-1 10h0m-244 8h0m-24-1h0m-17 18h0m2-9h0m8 2h0m49 6h0m214 14h0m-81-10h0m-132 7h0m-16-1h0m-3 0h0m-33 0h0m0 0h0m-11 9h0m0 0h0m16 5h0m20 4h0m10-12h0m2 10h0m13-1h0m12-9h0m2 16h0m-22 2h0m-17 3h0m-3 5h0m-20-6h0m-14 15h0m1 1h0m10-7h0m13 12h0m1 0h0m3-5h0m10-3h0m3 8h0m40-12h0m10 16h0m-5 8h0m-13-6h0m-5-1h0m-12 5h0m-5 1h0m-2-7h0m-5-3h0m-4 8h0m-15 5h0m-28-11h0m-9 7h0m-1-5h0m-4 7h0m-11 9h0m25 3h0m1-4h0m51 7h0m7-4h0m2-5h0m26 5h0m6-8h0m-16 14h0m-6 5h0m-9-2h0m-10-2h0m-23 12h0m-4-5h0m-15-2h0m-3 1h0m-2-6h0m-13 4h0m-20 19h0m2-1h0m8-6h0m21 1h0m7 3h0m3 4h0m22 1h0m2-8h0m6 1h0m1 2h0m4 2h0m11-8h0m17 12h0m5-11h0m29 16h0m-21 7h0m-18-11h0m-16 13h0m-1-1h0m-5 0h0m-2-2h0m-7-6h0m-1 0h0m-1-3h0m-9 2h0m-6-1h0m0 3h0m-2 7h0m-6-7h0m-8 8h0m-4 0h0m-9-5h0m-10-5h0m-11 8h0m6 13h0m23-6h0m8 1h0m6-5h0m13 5h0m3-5h0m14 10h0m2-1h0m1-1h0m21-8h0m17 5h0m328 19h0m-7-9h0m-39 4h0m-289 3h0m-8-5h0m-20 0h0m-6-1h0m-14 4h0m-3 7h0m-3-11h0m-24 6h0m-11-6h0m-2 3h0m-1 7h0m-1 0h0m13 14h0m2-9h0m8-3h0m45 10h0m10-6h0m47 3h0m11-4h0m96 7h0m4 1h0m10-1h0m210-9h0m-4 25h0m-143-5h0m-11 3h0m-32 2h0m0 1h0m0 0h0m-5-2h0m-23-10h0m-11-1h0m-4 4h0m-34 7h0m-58-9h0m-35 7h0m-18-3h0m-3-1h0m-11 18h0m11-9h0m2 0h0m15 1h0m4 5h0m81 5h0m2-1h0m3 2h0m9-5h0m19 4h0m13-7h0m13 5h0m4 1h0m6-2h0m3 3h0m2-1h0m9 1h0m5 2h0m1-4h0m135-7h0m26 16h0m-113 3h0m-3-2h0m-18-5h0m-17 13h0m-4-3h0m-10-10h0m-3 12h0m-9-12h0m-1 11h0m-35-6h0m-1-3h0m-2 8h0m-3-1h0m-3-7h0m-6 11h0m-7-8h0m-4 5h0m-3 0h0m-3-9h0m-3 3h0m-67 5h0m-3 0h0m-5-3h0m-13-4h0m-11 4h0m96 19h0m10 1h0m2-7h0m14 7h0m5-12h0m5 6h0m1 7h0m18-7h0m7-4h0m0 9h0m50-2h0m68 2h0m-76 14h0m-11-4h0m-13 0h0m-2 3h0m-4-2h0m-7 2h0m-2-4h0m-37 4h0m-17 2h0m-15-4h0m23 15h0m8 2h0m8-8h0m4 1h0m4-1h0m4 1h0m5 8h0m1-6h0m4 3h0m3-2h0m5-5h0m16 10h0m3-3h0m9-7h0m26-1h0m15 4h0m36 17h0m-42 2h0m-11-10h0m-12 10h0m-14-9h0m-2 9h0m-9 0h0m-32-2h0m-5 3h0m-1-11h0m-10 0h0m-70 0h0m-2 2h0m46 17h0m28-1h0m7-4h0m1 5h0m9-5h0m0 6h0m8-3h0m4 10h0m15-13h0m14 4h0m3-4h0m1 3h0m2 0h0m35 7h0m23 12h0m-31-4h0m-5 8h0m-28 1h0m-11-4h0m-14 1h0m0-3h0m-11 5h0m-5-9h0m-7-3h0m-7 12h0m-17-6h0m-5 1h0m-4-5h0m-26 2h0m-144 15h0m166 0h0m4-1h0m4 5h0m27 2h0m4-4h0m9-5h0m69 1h0m20 6h0m71 13h0m-54 4h0m-17-1h0m-14-9h0m-41 0h0m-5 2h0m-31 0h0m-2-4h0m-21 0h0m-16 3h0m-25 0h0m-143 24h0m171-12h0m27 5h0m25 4h0m13-8h0m136 6h0m-90 13h0m-18 3h0m-3 1h0m-22-6h0m-15-3h0m-36 3h0m-8-3h0m-1 4h0m-9-4h0m-185 8h0m225 12h0m11 1h0m23-4h0m132 22h0m-23-3h0m12 31h0m-16-4h0m-1 4h0m-10-13h0m-423 7h0m362 10h0m70 1h0m-40 18h0m13 8h0m19 4h0" stroke="#db9c8d" stroke-width="8" stroke-linecap="round" fill="none"/><path transform="scale(.1)" d="M3168 4166h0m-38 10h0m4-1h0m2 0h0m29-2h0m9 0h0m25 24h0m-10 1h0m-1-1h0m-5-1h0m-11-6h0m-6-4h0m-2 10h0m0-10h0m-4 11h0m-2-10h0m-1 4h0m-3 2h0m-1 3h0m-2-1h0m-8-7h0m-6 5h0m-1-7h0m-4 12h0m-4-11h0m-2 6h0m-2 10h0m23 1h0m0 8h0m1-7h0m5 6h0m11-1h0m5-7h0m2 5h0m23 11h0m-33 6h0m-23-11h0m0 10h0m-7 7h0m0-1h0m0 2h0m28 1h0m7-4h0m7 0h0m8 1h0m1 8h0m5-7h0m20 14h0m-10 9h0m-35-7h0m-6 8h0m-24-6h0m-2 5h0m-25 15h0m1-12h0m0 2h0m4 0h0m4 0h0m1 5h0m3-1h0m13-1h0m7 2h0m1-3h0m0 5h0m8-3h0m3 5h0m8-5h0m19-2h0m36-5h0m4 20h0m-52 3h0m-4 3h0m-12-8h0m-36 4h0m-8 3h0m0-10h0m-7 14h0m13 3h0m23-3h0m20 11h0m8-9h0m3 3h0m3-6h0m7 3h0m4 2h0m49 5h0m-29 5h0m-7 9h0m-6-7h0m0 2h0m-12 2h0m-21-4h0m-15 0h0m-24 1h0m-3-4h0m-6 3h0m30 22h0m32-7h0m1 3h0m33-1h0m29 6h0m29 14h0m-76-2h0m-8-3h0m-10-4h0m-11 3h0m-7 2h0m-8-4h0m-25 1h0m3 11h0m11 5h0m4-5h0m1 11h0m22-7h0m2 0h0m5 0h0m20 1h0m8-2h0m0-1h0m1-4h0m1 9h0m24-5h0m124 6h0m163-8h0m-149 23h0m-22 1h0m-3-12h0m-5 0h0m-8 4h0m-112 0h0m-5 8h0m-1 1h0m-1 0h0m-51-8h0m6 15h0m34-3h0m0 0h0m3 7h0m14 0h0m1-6h0m5 6h0m2-7h0m95 2h0m16-4h0m14 10h0m3 1h0m2-4h0m9-2h0m15-4h0m1 7h0m3-2h0m12-3h0m6 10h0m-60 9h0m-26 4h0m-1-2h0m-16 1h0m-65-8h0m-4 14h0m1 3h0m11-7h0m61 0h0m2 8h0m4-7h0m1 5h0m11 0h0m14 2h0m35-2h0m24-3h0m42 6h0m66 14h0m-75-3h0m-44-4h0m-11 8h0m-2-2h0m-14-2h0m-11 4h0m-1-5h0m-33-3h0m-15 10h0m-59-10h0m16 15h0m0-3h0m43 4h0m3 3h0m2-4h0m0 5h0m9-7h0m1 7h0m19-8h0m44 7h0m6 3h0m27-4h0m2-6h0m47 12h0m-49 15h0m-39-9h0m-1-1h0m-16 6h0m-20 3h0m-1-11h0m0 9h0m-18-1h0m-42-8h0m-2 4h0m-1-3h0m-7-1h0m-5 0h0m26 18h0m16 1h0m8 1h0m14-2h0m7 2h0m9 3h0m0 2h0m12-11h0m6 0h0m6 7h0m16 5h0m11-13h0m31 1h0m9 24h0m-17-3h0m-2 1h0m0-1h0m-5 4h0m-9 0h0m-10 0h0m-9-6h0m-20-1h0m-1 1h0m-18 1h0m-1 3h0m-1-3h0m-4 5h0m-7 0h0m-2-3h0m-5 0h0m-2-5h0m-11 7h0m-16 15h0m31-4h0m2 2h0m1 2h0m4-10h0m13 5h0m6 5h0m8-2h0m4 3h0m3 0h0m8-6h0m14 6h0m7-10h0m2 0h0m1 10h0m14-6h0m7-5h0m6 7h0m10 4h0m0-4h0m3 4h0m11-2h0m1-5h0m-4 18h0m-42-8h0m-2 11h0m-1-4h0m-3-6h0m-2 0h0m-12 9h0m-15-5h0m-1 3h0m-21-10h0m-8 2h0m-2 8h0m-17-10h0m-5 13h0m-9-1h0m-5-4h0m-2-6h0m24 15h0m3-1h0m20 8h0m11-7h0m16 8h0m27-10h0m16 10h0m15-3h0m15-4h0m2 5h0m1-9h0m1 10h0m1-5h0m4-4h0m4 6h0m-31 20h0m-7-3h0m-16-2h0m-2-4h0m-8 6h0m-4-8h0m-18 6h0m-14 1h0m-9 3h0m-2-6h0m-12 2h0m15 8h0m8 5h0m35 0h0m1-4h0" stroke="#e28f7d" stroke-width="8" stroke-linecap="round" fill="none"/><path transform="scale(.1)" d="M3170 4165h0m-23 2h0m25 9h0m8 10h0m-12 9h0m-9 1h0m-13 0h0m-1 3h0m-7-5h0m-5-6h0m-5 11h0m6 13h0m0-2h0m1-9h0m8 12h0m3-10h0m4 9h0m10-11h0m10 2h0m17 17h0m0-6h0m-26 8h0m0 4h0m-10-4h0m-6-4h0m-10 6h0m0 3h0m-2-2h0m0-11h0m-14 2h0m-3 18h0m33-3h0m1 3h0m3 2h0m7 1h0m47-7h0m-27 24h0m-1-6h0m-19 7h0m-23-11h0m0 4h0m-2-5h0m-3 10h0m-3-8h0m-9 10h0m-14-2h0m-4 7h0m9 5h0m7 0h0m1 4h0m28-5h0m4 2h0m27-2h0m12 8h0m-34-2h0m0 1h0m-3 2h0m-4 6h0m-12 0h0m-7-1h0m-12-1h0m-2-2h0m-9 0h0m-10 4h0m-4 11h0m4 3h0m4 0h0m2-8h0m37 5h0m5-1h0m6-4h0m0 9h0m3 1h0m3 0h0m33-4h0m1 7h0m-4 10h0m0-10h0m-33 2h0m-2 10h0m-3-4h0m-8 5h0m-6-9h0m-9 7h0m-8-2h0m-10 2h0m0-7h0m-14 3h0m18 14h0m1 6h0m15-11h0m4 10h0m6-2h0m9-8h0m11-2h0m5 3h0m0 2h0m3 7h0m42 0h0m-15 3h0m-39 4h0m0-3h0m-15-1h0m-7 7h0m-1-2h0m0 2h0m-7 2h0m0 0h0m-2-8h0m-13 0h0m17 16h0m5-1h0m24-1h0m11 8h0m42 0h0m131 13h0m-21-3h0m-16 7h0m-126-9h0m-8 4h0m-12 4h0m-15-7h0m8 9h0m12 0h0m11 4h0m11-4h0m125 3h0m3 9h0m7-10h0m0 3h0m40 22h0m-11-6h0m-9 3h0m-8-6h0m-22-3h0m-1 4h0m-22 5h0m0-9h0m-68 12h0m-1-8h0m-3 17h0m8 2h0m4-2h0m71-1h0m4-1h0m10-4h0m3-1h0m50 1h0m26 6h0m-46 12h0m-26-4h0m-10 2h0m-23 1h0m-41 16h0m48-5h0m4-1h0m3 10h0m9-11h0m29 4h0m1 5h0m43-7h0m65 14h0m-107 9h0m-12-10h0m-4 1h0m0 9h0m-1-9h0m-1 3h0m-14 5h0m-11-8h0m-3 9h0m-37-4h0m-7 3h0m12 4h0m0 6h0m2 0h0m31-3h0m9 8h0m2-7h0m14 0h0m21 8h0m8-8h0m20 6h0m31 13h0m-1-4h0m-2 8h0m-14-7h0m0 7h0m-11-10h0m-2 1h0m-17-3h0m-6 11h0m-9 0h0m-6-10h0m-6-2h0m-3 12h0m-10-8h0m-14-4h0m-6 10h0m-2-3h0m0 3h0m-11 1h0m-9 8h0m3-1h0m3 6h0m1-5h0m0 0h0m4 4h0m14 0h0m1-2h0m9 4h0m4-7h0m4 4h0m0 4h0m5-12h0m15 13h0m1-10h0m11 0h0m1 9h0m4-6h0m5-5h0m3 3h0m3 7h0m2 2h0m2-5h0m1-3h0m1 2h0m3-1h0m13 4h0m10-7h0m7-2h0m21 0h0m11 20h0m-4-5h0m-4 11h0m-5-5h0m-5-5h0m-7-2h0m-3-1h0m-5 8h0m-2 1h0m-3 3h0m-2-7h0m-13 5h0m-9-8h0m-2 0h0m-6 5h0m-22 4h0m-5-11h0m0 9h0m-2 1h0m-4 1h0m0-1h0m-1-8h0m-4 0h0m-4 8h0m-2-3h0m-6-3h0m-11 5h0m-10 8h0m8 6h0m3-9h0m3 3h0m1 2h0m1 7h0m1-8h0m6 8h0m2-9h0m1 10h0m1-8h0m3 6h0m2-4h0m6 0h0m14-7h0m6 6h0m3 6h0m15-6h0m5 3h0m9-4h0m4 2h0m21 3h0m1-5h0m2-5h0m1 6h0m0-6h0m7 3h0m12 2h0m-7 10h0m-12 6h0m-14 4h0m-24 0h0m-1-11h0m0 1h0m-6 1h0m-6 0h0m-3 7h0m-1 0h0m-12-4h0m-9-1h0m-10 7h0m-1-3h0m-2 5h0m-5-7h0m-2-5h0m-1 9h0m-3-4h0m12 14h0m25-3h0m8-3h0m5 13h0m2-2h0m12-9h0m5-2h0m15 2h0m13-2h0m-380 56h0" stroke="#e8836c" stroke-width="8" stroke-linecap="round" fill="none"/></g><path d="M404.6 394.1V471.3H478M423.6 471.3v2.4M442.5 471.3v2.4M461.1 471.3v2.4M404.6 396.9h-2.4M404.6 417.4h-2.4M404.6 438.3h-2.4M404.6 459.1h-2.4" stroke="#2b2b2b" stroke-width="1.05" fill="none"/><text x="423.6" y="484.3" font-size="6.3" text-anchor="middle" fill="#333">&#8722;10</text><text x="442.5" y="484.3" font-size="6.3" text-anchor="middle" fill="#333">0</text><text x="461.1" y="484.3" font-size="6.3" text-anchor="middle" fill="#333">10</text><text x="399.2" y="399.17" font-size="6.3" text-anchor="end" fill="#333">20</text><text x="399.2" y="419.67" font-size="6.3" text-anchor="end" fill="#333">10</text><text x="399.2" y="440.57" font-size="6.3" text-anchor="end" fill="#333">0</text><text x="399.2" y="461.37" font-size="6.3" text-anchor="end" fill="#333">&#8722;10</text><text x="441.3" y="496.1" font-size="7.7" text-anchor="middle" textLength="22.5" lengthAdjust="spacingAndGlyphs" fill="#222" stroke="#222" stroke-width="0.15">UMAP_1</text><text transform="translate(383.4 435.2) rotate(-90)" font-size="7.7" text-anchor="middle" textLength="22" lengthAdjust="spacingAndGlyphs" fill="#222" stroke="#222" stroke-width="0.15">UMAP_2</text><g filter="url(#ub)"><path d="M420.4 420.7L421.3 417.4L423.7 416.2L425.9 416.7L427.8 419.2L429.7 424.3L431.9 429.5L434.2 433.4L433.4 435.6L431 437.5L428.7 437.1L425.9 433.8L423.7 430.1L421.8 426.5L420.7 423.3Z" fill="#ea8a70" fill-opacity="0.5"/><path d="M420.4 420.7L420.7 423.3L421.8 426.5L423.7 430.1L425.9 433.8L428.7 437.1L430.1 438.9L432.3 442.1L435 445.9L434 446.6L431.1 442.8L428.6 439.9L426.1 438.3L423.3 437L420.9 435.5L418.1 432.4L417.2 429.5L418.1 425.8L419.3 422.8Z" fill="#ea8a70" fill-opacity="0.5"/><path d="M436.6 438L439.3 435.4L443.9 434.6L449.6 435.8L453.7 435.8L456.9 434.8L459.3 439.2L457.2 444L456.8 448.4L454.9 451.3L451.7 450.9L450.8 448.4L446.1 446.2L440.6 445.4L436.9 445.4L435.7 441.8Z" fill="#ec866b" fill-opacity="0.5"/><path d="M435.3 445.6L440.6 445.4L446.1 446.2L450.8 448.4L451.7 451.3L448.9 453.5L444.3 454.9L439.7 454.2L436.9 452L434.9 448.7Z" fill="#ee8367" fill-opacity="0.5"/><path d="M457.1 449L459.9 450.5L460.5 455.5L458.3 460.5L454.2 464.4L450 465.1L447 462.9L448 459.2L451.5 457.6L452.6 459.9L454 458.4L455.2 456.1L455.6 452.7Z" fill="#d2aea5" fill-opacity="0.5"/><path d="M418.6 445.8L420.4 445.1L421.7 446.8L421.8 450.6L422.3 455L420.5 456.2L418.8 454.8L418.1 450Z" fill="#cabbb8" fill-opacity="0.5"/><ellipse cx="461.4" cy="434.9" rx="4.7" ry="3.6" fill="#d2aea5" fill-opacity="0.75"/><path transform="scale(.1)" d="M4463 4017h0m5 0h0m24-6h0m4-1h0m13 19h0m-3 0h0m-4-1h0m-1 2h0m0-1h0m-3 1h0m0-4h0m-4 2h0m0 3h0m-1-2h0m-1 1h0m0-2h0m-1 1h0m0-4h0m-2 0h0m0 5h0m-1-1h0m-1-1h0m-1-1h0m0-5h0m0 4h0m-14 0h0m0 3h0m-2-6h0m0 3h0m-2-3h0m0 7h0m-1 1h0m-1-8h0m-1 8h0m-1-8h0m0 1h0m-1-5h0m-1 10h0m-1-11h0m-2 13h0m0 7h0m3-6h0m2 1h0m2 7h0m0-1h0m0-4h0m0 0h0m2-1h0m0-2h0m0 2h0m1 5h0m0 1h0m0-3h0m1-2h0m1 3h0m1 0h0m0 7h0m1-4h0m0 4h0m2-6h0m0-3h0m0 9h0m6-11h0m6 6h0m1-7h0m4-1h0m1 1h0m3 3h0m0-4h0m3 4h0m0 1h0m2 0h0m0-4h0m0-1h0m0 0h0m1 8h0m7-5h0m5 3h0m-40 10h0m-3 3h0m-13 8h0m-28-1h0m-5 11h0m1-5h0m1-3h0m2 2h0m1 4h0m0 1h0m1-8h0m1 2h0m1 0h0m2 1h0m0 4h0m0-3h0m1-4h0m1 5h0m0-2h0m2 4h0m0 3h0m1-6h0m0-1h0m1 5h0m0-6h0m0 5h0m0 0h0m1 2h0m1-2h0m0 3h0m0-6h0m1 2h0m1-4h0m0 3h0m2 0h0m0 4h0m1-4h0m0 5h0m0-3h0m1 0h0m0 5h0m2-6h0m3 15h0m-4 3h0m-4 3h0m3 11h0m1 3h0m3-5h0m291-1h0m4 4h0m-290 4h0m-5-1h0m-2 3h0m-3 16h0m3 4h0m0-3h0m0 0h0m2 3h0m3-4h0m0 0h0m1 8h0m1-8h0m90 10h0m-10-1h0m0 4h0m-5 3h0m-1 1h0m0-8h0m-3 8h0m-1 4h0m-2-1h0m-3-2h0m-2 1h0m0 3h0m-1-1h0m-5 0h0m-44-1h0m-3-8h0m-1 3h0m-2 4h0m-1 2h0m-3-6h0m-1 3h0m-3-7h0m-1 4h0m0 1h0m-1-5h0m0 8h0m-4-5h0m0-4h0m-1 1h0m7 22h0m1-10h0m0 2h0m2 9h0m0 1h0m1-8h0m1 2h0m0 6h0m1-3h0m0-2h0m0 0h0m0 3h0m0-5h0m1 0h0m1 6h0m1-4h0m2-2h0m0-3h0m0 6h0m1-1h0m0-4h0m0-3h0m0 6h0m0-1h0m2 8h0m0-2h0m1-7h0m2-4h0m0 5h0m0-1h0m1 0h0m6 6h0m0 2h0m0-2h0m4 3h0m1-2h0m0-4h0m0-3h0m1 7h0m1-3h0m0 3h0m1 2h0m2 0h0m0-3h0m1 1h0m3 1h0m5-5h0m3 6h0m2-6h0m0 5h0m2-4h0m1-1h0m2-4h0m1-2h0m1 6h0m0 5h0m9-10h0m0-2h0m110 7h0m-119 7h0m-2 1h0m-5 0h0m-1-1h0m-1 0h0m-1 8h0m-3-6h0m0 2h0m-1 0h0m-1-2h0m-1 1h0m0 2h0m0-3h0m-2 0h0m0 3h0m0 2h0m-1-4h0m0 8h0m0-7h0m0-3h0m0-1h0m0 0h0m0 2h0m-1-2h0m-1 5h0m0-5h0m-1 10h0m0 3h0m0-9h0m-2 0h0m-1 1h0m0-5h0m0 12h0m0-6h0m-1-3h0m0 3h0m0-3h0m0-1h0m-2 0h0m0 11h0m0-8h0m-1 4h0m0 0h0m0 1h0m0 1h0m0-4h0m0-1h0m-1 6h0m0-5h0m0 2h0m0 1h0m-1 3h0m0-8h0m0 4h0m0-3h0m-1 4h0m0 1h0m-1 1h0m0-5h0m0 1h0m-1 1h0m-1-7h0m0-2h0m-1 8h0m0 0h0m0-7h0m0 7h0m-1 1h0m0-7h0m-1 9h0m0-1h0m0 3h0m0-8h0m-1 6h0m-1-10h0m0 2h0m0 4h0m-1-3h0m0 1h0m0-1h0m-2 1h0m0-2h0m-1 3h0m-3-3h0m-2 0h0m0 1h0m0-1h0m-1 5h0m-1-1h0m-4 2h0m-6 4h0m-3 0h0m-23 0h0m-27 14h0m2-5h0m12-2h0m2 6h0m6-4h0m3 1h0m1-2h0m0 2h0m6-7h0m2 9h0m1-6h0m1-3h0m1 3h0m2-4h0m1 7h0m12-8h0m6 0h0m5 0h0m2 3h0m1-1h0m1 2h0m2-4h0m1 2h0m1 11h0m0-7h0m2-3h0m0-1h0m0 7h0m1-5h0m1-4h0m0 1h0m1-1h0m0 0h0m2 2h0m2 9h0m1-8h0m1 6h0m1-5h0m1-3h0m1 7h0m1-8h0m0 9h0m3 2h0m1-8h0m0 1h0m1-2h0m4 0h0m2 3h0m-2 19h0m-14 1h0m0-7h0m0 3h0m0-3h0m-2-2h0m-58 1h0m-11-3h0m-4 0h0m75 16h0m1-1h0m1 7h0m2 1h0m3-7h0m2 11h0m5-1h0m4-2h0m-4 4h0m-2 9h0m-3-2h0m0-7h0m-1 9h0m-4-6h0m4 14h0m1 5h0m1-5h0m2 10h0m2-9h0m0-4h0m1 11h0m7-7h0m1 18h0m-2 0h0m-3-2h0m0 3h0m-3 0h0m-1-1h0m-3-8h0m-199 19h0m203 1h0m7 0h0m0-2h0m0 5h0m1-8h0m0 1h0m0 0h0m1 4h0m2 4h0m3-3h0m14 13h0m-1 0h0m0 2h0m-7-7h0m-1 4h0m0 1h0m0-1h0m-2-3h0m-3 2h0m-228 6h0m27 6h0m213-1h0m6 7h0m2-3h0m1 2h0m1-3h0m3 6h0m4 1h0m0-2h0m2 2h0m7 0h0m17 1h0m48 14h0m-22 1h0m-17-13h0m-3 13h0m-8-11h0m-2 11h0m-6 0h0m-3-3h0m-1 2h0m-4-1h0m0-4h0m-2-6h0m-2 7h0m-2-7h0m11 14h0m4-1h0m1 2h0m3 2h0m0 1h0m1-1h0m4-4h0m0 1h0m0 7h0m1 4h0m4-1h0m3-3h0m10 4h0m12-1h0m6 0h0m2-4h0m3 6h0m2-5h0m1 1h0m3-1h0m0-7h0m27 9h0m11-5h0m6 7h0m1 10h0m-5-7h0m-2 2h0m-3 8h0m-9-7h0m-3 5h0m-8 3h0m-7-5h0m-3 1h0m-1-8h0m-2 6h0m0 2h0m-10-2h0m-8-2h0m-3-4h0m-1 2h0m-2-2h0m-8 12h0m0 1h0m-1-7h0m0-3h0m-3 5h0m-1-8h0m-6 7h0m-2-7h0m-253 20h0m4 4h0m248-4h0m4 6h0m1-4h0m9-2h0m2-2h0m1 2h0m5 7h0m1-3h0m15-7h0m0 10h0m0 0h0m14-12h0m5-1h0m1 1h0m13 9h0m18-8h0m2-2h0m2 5h0m1-1h0m0 8h0m4 5h0m-15-1h0m-8 11h0m-12-2h0m-3-4h0m-1 4h0m-2-5h0m-8-5h0m-1 5h0m-3-6h0m-3 2h0m0 8h0m-5 2h0m-1 1h0m-3-6h0m-5-6h0m-4 10h0m0-10h0m0 1h0m-1 10h0m-1-2h0m-5-6h0m-9 0h0m-1 0h0m-7-2h0m-32 11h0m7 6h0m9 7h0m9-9h0m8 6h0m7-7h0m5 2h0m0 6h0m7-3h0m2 5h0m8-3h0m3 1h0m3 3h0m12-7h0m3-4h0m6 3h0m1 3h0m9-5h0m1 7h0m2-5h0m7 2h0m-11 8h0m-6 1h0m-4 1h0m-52 7h0m-28-9h0m-46 5h0m-26-5h0m-214 12h0m-7 6h0m6 5h0m267-3h0m2 6h0m8-4h0m31-4h0m21 13h0m-9 1h0m-12 0h0m-36 7h0m-279-5h0m-5-2h0m0 1h0m-1 0h0m-12 10h0m3 0h0m6 3h0m3-5h0m270 6h0m56 16h0m-4-6h0m-15 1h0m-20 4h0m-34 6h0m-268-13h0m-3 3h0m-2-1h0m-2 5h0m0 3h0m-2-4h0m-3 1h0m-29 12h0m6 3h0m5-2h0m2 7h0m12-1h0m3-10h0m339-1h0m1 3h0m-1 22h0m-24-3h0m-315-1h0m-11-4h0m0 8h0m-22 0h0m4 14h0m3-8h0m6 4h0m9-3h0m4 0h0m2 6h0m0-8h0m318 8h0m56 14h0m-4-5h0m-3-2h0m-3 6h0m-378-1h0m-10 0h0m-2-3h0m0 8h0m12 2h0m18-2h0m3 9h0m357 1h0m3-9h0m21 16h0m-20 3h0m-1 7h0m-2-8h0m-3 7h0m0-7h0m-4-5h0m-4 8h0m-7 2h0m-337-1h0m-10 0h0m-1 3h0m-9 1h0m-3-4h0m-3 3h0m0-4h0m-1 3h0m-4-8h0m1 16h0m0 2h0m10-2h0m10 8h0m9-6h0m341-1h0m3 0h0m23 0h0m13-4h0m-3 17h0m-2-1h0m-8 8h0m-4-8h0m-13 5h0m-363-4h0m-2 0h0m-3 0h0m-1 2h0m-2 2h0m-1-1h0m-1 2h0m-2-1h0m-4 3h0m-1-2h0m-2 2h0m-37 14h0m6 1h0m6-4h0m4-2h0m3 0h0m3-2h0m4 0h0m3-1h0m4-3h0m413 10h0m-12 16h0m-5-12h0m-18 11h0m-3-7h0m-2-5h0m-44 13h0m-1-5h0m-361-7h0m-9 4h0m-1-2h0m-1 0h0m-1 0h0m-6 0h0m-7 6h0m-1 2h0m-21 3h0m385 8h0m7 3h0m14 0h0m5-4h0m4 0h0m1 0h0m20 0h0m11-4h0m6 4h0m1 0h0m1 0h0m1 6h0m9-10h0m-2 22h0m-17-2h0m-6-2h0m-18-1h0m-10-1h0m-3 7h0m-14 0h0m-4-4h0m-13 5h0m10 6h0m19-1h0m14 1h0m5-5h0m16 6h0m10-1h0m-18 12h0m-6 7h0m-1-6h0m-2 9h0m-11-10h0m-7 4h0m-11-7h0m20 15h0" stroke="#c7c0bf" stroke-width="8" stroke-linecap="round" fill="none"/><path transform="scale(.1)" d="M4498 4012h0m0 16h0m-3 0h0m-1 2h0m-3 0h0m-4-8h0m-24 9h0m-1-5h0m-1 10h0m1-4h0m6 4h0m5 8h0m15-8h0m13-3h0m9 2h0m-36 13h0m-14 3h0m-33 11h0m8 5h0m2 4h0m5-2h0m257-1h0m-249 7h0m-2 17h0m4 22h0m2 11h0m78 8h0m-2 4h0m-68 4h0m-1-11h0m-1 19h0m4 3h0m6-4h0m0 3h0m3-3h0m9 2h0m14 1h0m9-3h0m5 3h0m-8 11h0m0-3h0m-3 2h0m-2 1h0m0 2h0m-8 2h0m-2 1h0m-3-6h0m0 3h0m-2 0h0m0 1h0m-1 1h0m0 3h0m0-1h0m-1 2h0m0 0h0m0-11h0m-2 6h0m0-3h0m-2 3h0m-1 2h0m0-9h0m-2 5h0m-1-5h0m0 1h0m-1 3h0m-1 9h0m-2-7h0m-3 0h0m-3 3h0m-2 3h0m-2-1h0m-196 7h0m156-1h0m9 7h0m12-5h0m7-2h0m2 3h0m18 0h0m4-2h0m7-3h0m1 5h0m1 6h0m2-5h0m3-6h0m-3 25h0m-255 11h0m253 1h0m10-5h0m2 0h0m-4 19h0m-6-6h0m8 12h0m4-1h0m6 9h0m-11 5h0m-233 4h0m240 11h0m9 4h0m16 16h0m-260-2h0m-34 17h0m57-6h0m32 7h0m303 12h0m-48-4h0m-241 0h0m-5 3h0m-44 2h0m18 5h0m19 1h0m239 4h0m6 5h0m17 2h0m1 1h0m15-2h0m4-7h0m14 7h0m0 1h0m0-2h0m9-1h0m9 3h0m5 0h0m3-4h0m5 1h0m0 1h0m2-3h0m20 17h0m-6 3h0m-6-12h0m-4 10h0m-3-7h0m-10-1h0m-4-2h0m-9 5h0m-17-2h0m-4 7h0m-1-9h0m-8 1h0m-2 7h0m-3 3h0m-11-12h0m-2 12h0m-7-7h0m-238 2h0m-131 4h0m93 13h0m11 0h0m23-6h0m238 8h0m18-4h0m1 1h0m3-2h0m3-4h0m2 2h0m0 0h0m9 0h0m2 5h0m6 0h0m1-11h0m5 11h0m4-11h0m10 3h0m1 7h0m1 2h0m6-2h0m4-1h0m8 3h0m9 12h0m-5-3h0m-1 4h0m-1 1h0m-5-11h0m-1 11h0m-1-12h0m-1 11h0m-10-10h0m-1 2h0m-7-3h0m-4 13h0m-8-11h0m0 10h0m-2-2h0m-5-3h0m0 5h0m-4-10h0m-5 8h0m0-8h0m-2 7h0m-4 3h0m0-1h0m-12-5h0m-1 3h0m0 0h0m-8-9h0m-3 0h0m-5 11h0m-15-8h0m-55 8h0m-166-4h0m-23 3h0m-23-8h0m225 20h0m4 3h0m18-5h0m10 3h0m17-4h0m20-2h0m3 3h0m1 3h0m3 3h0m1-7h0m4-1h0m1 0h0m8 9h0m4-11h0m3 8h0m17 1h0m0-9h0m11 6h0m1-1h0m4 5h0m5-5h0m4 5h0m-13 3h0m-5 1h0m-29-1h0m-7 12h0m-1-5h0m-9 1h0m-7 0h0m-5-5h0m-6 5h0m-26-7h0m0 3h0m0 8h0m-1-7h0m-2 6h0m-13-8h0m-7-4h0m-5 4h0m-250 3h0m-6 15h0m2-4h0m198 8h0m57-11h0m69 1h0m1 6h0m7-2h0m-21 13h0m-4-4h0m-2 2h0m0-3h0m-5 2h0m-3 10h0m-62-9h0m-105 8h0m56 7h0m62 8h0m11-9h0m11 8h0m20-9h0m30 3h0m5-1h0m-13 20h0m-14-7h0m0 3h0m-25-2h0m-13 3h0m-15-3h0m-17 4h0m-258-2h0m-2-2h0m-26 14h0m3 7h0m6-6h0m6 7h0m247-5h0m26 5h0m33-10h0m39 5h0m2-1h0m3-3h0m3 7h0m-8 13h0m-43 3h0m-302-4h0m-6 1h0m-3-8h0m-3 11h0m9 3h0m2 8h0m318 0h0m58 17h0m-391-6h0m20 19h0m2-9h0m307-2h0m12 2h0m42 10h0m2-12h0m11 3h0m3-1h0m-4 17h0m-3 5h0m-7-9h0m-23 10h0m-342 1h0m-28-1h0m34 4h0m343 1h0m25 3h0m4 3h0m2 1h0m4 3h0m4 1h0m0 11h0m-4-4h0m-20-4h0m-7-2h0m-11 0h0m-2 3h0m-363 5h0m-34 14h0m15-5h0m339 10h0m37-9h0m15 0h0m25-1h0m3 2h0m-12 14h0m0 4h0m-27 1h0m-18-1h0m-17-4h0m-4 8h0m-13-4h0m-3 3h0m-361-8h0m0 0h0m-25 8h0m-4 1h0m364 7h0m12 2h0m5-1h0m2 0h0m4 3h0m7-5h0m4 6h0m3-3h0m21-6h0m2 4h0m15 3h0m15-1h0m2-4h0m1 5h0m-2 12h0m-5-6h0m-4 0h0m-19 4h0m-6 1h0m-38-2h0m-18 2h0m-3 7h0m4 5h0m51-1h0m11 1h0m11 0h0m-7 14h0m-46-4h0m-4 3h0m-2 7h0m0-6h0m16 10h0m17 1h0" stroke="#cfb4ad" stroke-width="8" stroke-linecap="round" fill="none"/><path transform="scale(.1)" d="M4490 4021h0m-4 2h0m-19-5h0m-7 4h0m4 19h0m42-5h0m2-2h0m-75 29h0m14 3h0m89 58h0m-82 11h0m0 6h0m42 10h0m9 9h0m-30 3h0m-1 8h0m-3-10h0m-5 5h0m-12 0h0m-223 6h0m20 13h0m170-5h0m55-3h0m7 4h0m-235 15h0m-24-7h0m27 19h0m7-6h0m222-1h0m1 3h0m-208 21h0m-69 8h0m52 8h0m22-9h0m2-3h0m213 21h0m-1-1h0m-208-4h0m-15 9h0m-12 0h0m-62 5h0m14-3h0m59 10h0m2-2h0m29-8h0m220 21h0m-215-4h0m-15 0h0m-4 4h0m-4 2h0m-8 2h0m-43-6h0m-52 13h0m61 2h0m0 7h0m11-10h0m20-1h0m0-1h0m253 0h0m39 20h0m-11 0h0m-232-4h0m-1 2h0m-18-1h0m-13 5h0m-5-2h0m-37 5h0m-65 1h0m21 9h0m24-2h0m46-2h0m15-1h0m2 0h0m26 3h0m11 5h0m5 1h0m2-1h0m1-1h0m226-9h0m34 10h0m0-2h0m3 0h0m6-9h0m1 12h0m0-3h0m8-4h0m14-4h0m7 9h0m5-3h0m10-2h0m11 10h0m-11 2h0m-3 1h0m-2 6h0m0-8h0m-4 9h0m-4 2h0m-6-1h0m-6-1h0m-6 1h0m-1-4h0m0-1h0m-2-2h0m-2-2h0m-13-1h0m-6 8h0m-7 1h0m-8-2h0m-2-5h0m-2-4h0m-11 12h0m-257-12h0m-5 8h0m-4-4h0m-7 8h0m-7-6h0m0 3h0m-10-9h0m-3 11h0m-11-8h0m-28 15h0m68 0h0m8 0h0m9 2h0m13 3h0m4-7h0m2 6h0m2-1h0m119 1h0m117 4h0m0 1h0m6-7h0m6 7h0m25-12h0m1 3h0m8-2h0m4 8h0m21-1h0m0-4h0m10 7h0m9-2h0m1-10h0m1 13h0m1 1h0m-8 8h0m-2 2h0m-1-4h0m0 0h0m-1-4h0m-7 7h0m-4-1h0m-4-1h0m-3-1h0m-6 2h0m-2 4h0m-3-1h0m0-8h0m-1-3h0m-3 1h0m-2 4h0m-2-5h0m-5 12h0m-4-11h0m-1 1h0m-1 9h0m-2-3h0m-4 5h0m-2-4h0m-4-7h0m-1 5h0m-1 1h0m-9-7h0m0 12h0m-5-10h0m-7 0h0m-15 0h0m-4 3h0m-1 6h0m-82 1h0m-148-13h0m-7 4h0m-1-4h0m-30 11h0m-4 2h0m-14 7h0m29-6h0m26 2h0m58-1h0m3 3h0m34-1h0m6-1h0m12-1h0m5 6h0m41-1h0m22-2h0m3 1h0m17-5h0m1 0h0m21 4h0m1 4h0m18 3h0m4-3h0m4-5h0m0 6h0m9 2h0m4 0h0m2-9h0m1 0h0m0 3h0m1-1h0m9 3h0m0 2h0m0 1h0m2-2h0m1 5h0m10-7h0m1 1h0m1-6h0m5 11h0m2-8h0m1-2h0m8 7h0m1-3h0m20 0h0m10-6h0m1 0h0m-18 14h0m-24 3h0m-3-2h0m-10 3h0m-23 0h0m-30 1h0m-20 7h0m-10-5h0m-1-6h0m0 6h0m-8-7h0m-1 8h0m-24 5h0m-18-7h0m-2-2h0m-8 2h0m-10-2h0m-6 0h0m-28-2h0m-9 9h0m-121-1h0m-39 9h0m219 3h0m22-1h0m3 5h0m14-3h0m34-5h0m6 7h0m8-4h0m4 6h0m1-10h0m0 0h0m4 1h0m6 2h0m0-2h0m4-3h0m0 2h0m4 10h0m4-12h0m2 8h0m1 0h0m0 3h0m-7 2h0m-20 4h0m-36-2h0m-24 8h0m-1-9h0m-32-1h0m0 0h0m-150 0h0m0 6h0m-82 12h0m1 3h0m171 1h0m69 0h0m25 0h0m2 4h0m14-4h0m16-8h0m1 3h0m4 3h0m2-3h0m2-1h0m14 0h0m5-2h0m13 2h0m3 14h0m-9 8h0m-7-6h0m0 8h0m-9-4h0m-2 5h0m-23-7h0m-7-3h0m-10-1h0m-25 9h0m-10-1h0m-6-1h0m-61-6h0m-180 9h0m-18 8h0m167 5h0m84-6h0m15 1h0m20-5h0m28 7h0m5 0h0m21-8h0m0 2h0m14 0h0m6 4h0m-8 21h0m-1-10h0m-5 9h0m-7-12h0m-13 10h0m-10-2h0m-3 0h0m-7-3h0m-4-5h0m-8 12h0m-9-12h0m-21 1h0m-274 24h0m258-11h0m8 12h0m34-2h0m23-10h0m1 9h0m3-3h0m0 2h0m3 2h0m0 3h0m1-5h0m24 4h0m8-12h0m7 1h0m0-1h0m30 25h0m-13 2h0m-8-13h0m-3 10h0m-3-2h0m-1 1h0m-11-6h0m-27 8h0m-330 11h0m233-8h0m10 5h0m160 21h0m-15-12h0m-24 10h0m-96 1h0m-255-2h0m-1-1h0m-19-8h0m26 23h0m357 0h0m21-4h0m4-5h0m-40 16h0m-344-2h0m-22 0h0m357 25h0m4-5h0m8-3h0m11 3h0m13-2h0m0-1h0m-21 12h0m-59 8h0m-362-7h0m-11 3h0m349 21h0m14-9h0m0 8h0m7-8h0m3-1h0m10 3h0m3-4h0m13 8h0m1-4h0m14-1h0m2-2h0m9 6h0m2-5h0m6 3h0m9-2h0m8-3h0m-14 14h0m-1 12h0m-10 0h0m-7-2h0m-2-7h0m-8 2h0m-10 4h0m-15-1h0m-11-4h0m-23 1h0m-3 10h0m38-1h0m1 11h0m30-2h0m1 7h0m-13 5h0m-6-4h0m-5 8h0m-7-3h0m-21-9h0m-11 1h0m21 17h0" stroke="#d7a89c" stroke-width="8" stroke-linecap="round" fill="none"/><path transform="scale(.1)" d="M4447 4068h0m246 4h0m-244 2h0m6 66h0m13 17h0m18 3h0m-224 9h0m-8-1h0m-3 2h0m-39 15h0m14-7h0m5 4h0m9-3h0m7 2h0m11-3h0m5 1h0m155-1h0m31 1h0m38 8h0m-205 11h0m-27-11h0m-7 5h0m-3 5h0m-21 9h0m2-2h0m24-1h0m0 7h0m11 3h0m5-5h0m21 15h0m-1-2h0m-5-3h0m-5 0h0m-1 5h0m-10-7h0m-2 10h0m-58-8h0m-13 7h0m-2 10h0m20-7h0m2 1h0m19 9h0m0 1h0m4-6h0m0 5h0m18-8h0m17 11h0m5-4h0m12 2h0m8 8h0m-11 3h0m-10 1h0m-18 1h0m-2-6h0m-4 2h0m-5 6h0m-8 1h0m-9 0h0m-4-10h0m-3 8h0m-4-8h0m-12-1h0m-11 5h0m-6 12h0m36-1h0m2 0h0m19-3h0m5 0h0m28 11h0m8-10h0m1 7h0m1-4h0m2 1h0m14 6h0m5 14h0m-10-11h0m-16 8h0m0-7h0m0-1h0m-2 3h0m-4 6h0m0 1h0m0-10h0m-5 9h0m-17-4h0m-6 4h0m-2-10h0m-30 3h0m-12-3h0m-17 14h0m41 12h0m17-10h0m4 11h0m11-5h0m4 5h0m3-11h0m5 6h0m11 1h0m2-9h0m6 13h0m21-7h0m0 5h0m258 4h0m-249 4h0m-10 0h0m-5 5h0m-1-7h0m-11 10h0m-8-4h0m-6-8h0m-2 8h0m-2-5h0m0 5h0m-2-2h0m-7 5h0m-3-5h0m-52 1h0m-3-2h0m-5-1h0m-5 5h0m-3 0h0m-14 3h0m35 9h0m18-5h0m10 8h0m10-4h0m0 6h0m12-11h0m1 4h0m13 0h0m7 5h0m19-10h0m290 9h0m2-1h0m2 2h0m10 2h0m9-2h0m17-5h0m19 21h0m-6-9h0m-1-4h0m-7 8h0m-7-5h0m-2-1h0m-6 9h0m-2-6h0m-14-1h0m-5-1h0m-19 3h0m-2 7h0m-16-6h0m-1-4h0m-227 1h0m-37 2h0m-4-1h0m-2 5h0m0 0h0m0 3h0m-2 0h0m-8-11h0m-1 6h0m-11 4h0m-5-10h0m-4 8h0m-63 0h0m13 10h0m5-6h0m11 11h0m12-3h0m4 1h0m22 4h0m18-4h0m17-4h0m13-5h0m8 6h0m1 4h0m135 1h0m105 0h0m10-4h0m1 2h0m24-4h0m4 7h0m4-3h0m5-5h0m8 5h0m18-5h0m10 4h0m-1 13h0m-28-7h0m-18 2h0m-7 8h0m-25-7h0m-2 10h0m-1-8h0m-1 1h0m-25 0h0m-8-1h0m-7 8h0m-11-6h0m-1-1h0m-10 7h0m-10-2h0m-3-6h0m-2 5h0m-18-3h0m-6-4h0m-17 9h0m-4-1h0m-17-6h0m-97-2h0m-2 1h0m-20 0h0m0 6h0m-28-10h0m-1 12h0m6 2h0m25 1h0m84-1h0m29 6h0m14-5h0m9 8h0m11 1h0m6-10h0m13 0h0m0 9h0m7 3h0m3-5h0m10-3h0m35-3h0m30 4h0m7-5h0m13 6h0m19 6h0m14-4h0m6-7h0m16 3h0m1 4h0m6-3h0m1 2h0m-28 7h0m-5 3h0m-41 7h0m-25 1h0m-12-4h0m-12 6h0m-4-1h0m-31-11h0m-4 6h0m0-3h0m-9-1h0m-4-1h0m-3 0h0m-16 7h0m-9-7h0m-36 5h0m-17-1h0m-11 6h0m-7-9h0m-101 0h0m118 16h0m2 4h0m20 1h0m10-1h0m5-8h0m18 5h0m26 1h0m19-7h0m2 3h0m5 7h0m6 0h0m9-4h0m1 7h0m6-4h0m2 0h0m3 0h0m13-8h0m20 6h0m5-6h0m10 21h0m-9-8h0m-10 0h0m-2 6h0m-11 4h0m-39-7h0m-18 6h0m-6-9h0m-4 0h0m-12 5h0m-2 0h0m-11-2h0m-9 2h0m0-2h0m-3 4h0m-26 5h0m-3 0h0m-46-7h0m-40 6h0m4 13h0m39-3h0m3 4h0m35-11h0m14 10h0m24-5h0m11 6h0m2-5h0m0 2h0m12 2h0m12-2h0m4 5h0m24-12h0m16 0h0m12 4h0m3 5h0m9-6h0m4-3h0m9 11h0m5-4h0m-11 16h0m-5 0h0m-9 1h0m-23-10h0m-8 4h0m-2-5h0m-6 9h0m-3 1h0m-2-5h0m-3 6h0m-1-6h0m-5-3h0m-7 6h0m-1 4h0m-11-7h0m-6 7h0m-5-2h0m-5-10h0m-30 11h0m-5-8h0m0 2h0m-1 8h0m-18-10h0m-12-3h0m-66 3h0m26 15h0m44 6h0m36-8h0m30 9h0m6-1h0m16-4h0m17 3h0m14 4h0m4-4h0m13-2h0m17 4h0m14-10h0m11 11h0m-7 5h0m-13-3h0m-2 9h0m-7 0h0m-9-4h0m-2 2h0m-38 1h0m-14 2h0m-7-8h0m-43 10h0m-12-12h0m-37 9h0m-183-7h0m0 14h0m24 7h0m135-9h0m25 13h0m6 0h0m87-9h0m51 7h0m2-1h0m1-7h0m10 3h0m4 1h0m1-5h0m28 4h0m-1 12h0m-10-2h0m0 3h0m-9 6h0m-15-3h0m-3-2h0m-40-3h0m-2 3h0m-43 4h0m-24-3h0m-25 5h0m-2 1h0m-10-2h0m-196-8h0m179 13h0m9 3h0m39-4h0m42-1h0m27 12h0m16 0h0m7-2h0m23-10h0m15 1h0m50 24h0m-38 16h0m30-12h0m12 10h0m7 13h0m-41-7h0m-361 3h0m349 16h0m19 3h0m11 15h0m-98-1h0m-11 14h0m25 2h0m23-9h0m6 3h0m15-7h0m13 6h0m18-5h0m3 4h0m-38 20h0m-5-2h0m-5 3h0m-47-8h0m-4 3h0m44 14h0m1 1h0m-13 19h0m-3-5h0m-1 2h0" stroke="#de9c8a" stroke-width="8" stroke-linecap="round" fill="none"/><path transform="scale(.1)" d="M4492 4029h0m-20 129h0m-230 1h0m-15 11h0m-4 1h0m11 4h0m2 3h0m1-6h0m3 10h0m3-3h0m10 1h0m10-1h0m4 1h0m6 5h0m159-2h0m-159 14h0m-11 1h0m-23 0h0m-14-8h0m0 7h0m-6-2h0m-4-7h0m-10 21h0m2-2h0m34 3h0m10-2h0m2 1h0m4 3h0m1-9h0m3 2h0m0 1h0m24 16h0m-14-6h0m-28 0h0m-9 6h0m-9-3h0m-4 6h0m-17-11h0m8 25h0m1-3h0m5 3h0m7-11h0m5 5h0m1 8h0m18-8h0m3 6h0m3-3h0m19-4h0m16 5h0m9 12h0m-17-1h0m-4 2h0m-12-3h0m-10-1h0m-11 0h0m-9 0h0m-4 8h0m-1-11h0m-2 4h0m-3 2h0m-12-6h0m-1 11h0m-3-12h0m-10 1h0m-2 9h0m-10 13h0m20 3h0m21-4h0m19-6h0m6 10h0m4-6h0m19-1h0m4 8h0m3-13h0m1 11h0m11 2h0m4 4h0m-2 3h0m-10 5h0m-7-8h0m-20 2h0m-4-3h0m0 10h0m-2-3h0m-16-9h0m-5 6h0m0 3h0m-31 0h0m-7-8h0m-6-1h0m-2 5h0m-2 5h0m2 13h0m17-4h0m7 4h0m4 2h0m34-6h0m28 0h0m4-4h0m18 8h0m1 3h0m5-7h0m5 5h0m6-5h0m-2 19h0m-5-9h0m-1 0h0m-24 11h0m-3-4h0m-2-3h0m-2 6h0m-8-11h0m-8 7h0m-16-7h0m-5 7h0m-22-1h0m-20 18h0m17 1h0m13 1h0m1-9h0m17 4h0m5 1h0m3-6h0m16 8h0m2 2h0m6-7h0m13 8h0m8-5h0m6-4h0m0-4h0m0 13h0m10 0h0m1-2h0m7-9h0m278 25h0m-1-2h0m-36-2h0m-237-8h0m-21 7h0m-4-8h0m-2 12h0m-8-5h0m-4-6h0m-2 4h0m-4 1h0m0-5h0m-5-1h0m-5 5h0m-1-4h0m-25 2h0m-8 3h0m-12 7h0m-7-12h0m-21 11h0m0-12h0m-6 12h0m12 3h0m4 0h0m14 0h0m2 10h0m19-1h0m11-7h0m5-1h0m21 11h0m7-7h0m8-6h0m6 6h0m4 3h0m10-2h0m2-6h0m7 0h0m1 6h0m3 6h0m9-12h0m79 11h0m27 1h0m170-2h0m16-10h0m30 19h0m-55 1h0m-63-2h0m-14 2h0m-6 0h0m-38 1h0m-2 2h0m-29-5h0m-1 0h0m-6-1h0m-3 2h0m-2 4h0m-5-3h0m-10 0h0m-3-6h0m-5 10h0m-7-9h0m-7 8h0m-6-7h0m-3-1h0m-82 10h0m-2-6h0m-6-3h0m-41-1h0m-2-2h0m-13 5h0m-16-2h0m-9-1h0m18 19h0m34-3h0m4-3h0m2 7h0m2 3h0m98-4h0m26-5h0m31 2h0m12 6h0m2-7h0m6 10h0m72-5h0m3 3h0m31 0h0m5-10h0m6 12h0m15-5h0m43 5h0m-33 2h0m-56 10h0m-7-10h0m-10 12h0m-25-13h0m-24 0h0m-9 12h0m-10-6h0m0 2h0m-16-4h0m0 2h0m-26-5h0m-3 11h0m-28-9h0m-4 7h0m-4-9h0m-87 5h0m-6 2h0m-29-8h0m-12 26h0m6-10h0m120 4h0m3 7h0m1 0h0m3 0h0m13-2h0m34-2h0m4-9h0m2 3h0m1 0h0m3 3h0m13 4h0m3-4h0m2 0h0m9 2h0m3 4h0m9 1h0m6-13h0m24 3h0m7-3h0m67 8h0m12-2h0m-22 11h0m-14 8h0m-7-4h0m-6-1h0m-31 3h0m-22 4h0m-8-4h0m-14-6h0m-27 9h0m-6-4h0m-11-5h0m-1 0h0m-9 6h0m-1-2h0m-14 3h0m-6-9h0m-12 10h0m-2-11h0m-14 13h0m-5-13h0m-35 12h0m-7-1h0m-1-3h0m-14-4h0m66 19h0m5 0h0m18 1h0m20-10h0m14 6h0m21-5h0m7 6h0m5-3h0m27 0h0m0-3h0m21 11h0m2 1h0m5-8h0m2 4h0m9-6h0m8 8h0m29 3h0m-51 7h0m-1 2h0m-1-1h0m-5 3h0m-3 0h0m-9-8h0m-27 8h0m-12-7h0m-13 8h0m-25 0h0m-2 1h0m-5-2h0m-3-9h0m-1-2h0m-1 10h0m-5-8h0m-4 10h0m-53-1h0m-24-11h0m50 23h0m3-9h0m6 5h0m2 2h0m8 2h0m2-5h0m26-2h0m2 1h0m3-1h0m0 8h0m2 3h0m5-3h0m3-1h0m12-6h0m9 8h0m20-6h0m18-3h0m0-2h0m29 4h0m4-2h0m24 4h0m0 1h0m9 1h0m-4 17h0m-8-4h0m-3 3h0m-5-10h0m-7 6h0m-9-2h0m-8 6h0m-12-7h0m-2 4h0m-14 6h0m-32-10h0m-17 0h0m-21 9h0m-10-2h0m-5-6h0m-11 5h0m-4-7h0m-3 10h0m-36-10h0m15 17h0m4 3h0m1 5h0m12-9h0m8 6h0m22-6h0m8 6h0m8-1h0m30-1h0m17-1h0m5 1h0m8-1h0m25-7h0m16 4h0m39 8h0m35 14h0m-34 0h0m-57-2h0m-10 1h0m-10 2h0m-19-8h0m-1-2h0m-2 4h0m-8 2h0m-9-7h0m-15 6h0m-30-1h0m-26-1h0m-8-3h0m0 15h0m44 3h0m27 6h0m2 0h0m1-8h0m21 0h0m35 2h0m8 6h0m9-9h0m44 18h0m-83 5h0m-8-5h0m-4 5h0m-1-4h0m-10-7h0m-20-2h0m-5 9h0m-29-5h0m-1 3h0m-3-3h0m35 19h0m3-3h0m19-3h0m30 0h0m75 8h0m12 13h0m0 13h0m-85 20h0m30 21h0m28 24h0" stroke="#e68f78" stroke-width="8" stroke-linecap="round" fill="none"/><path transform="scale(.1)" d="M4263 4170h0m-7-1h0m-29 0h0m-9 11h0m4-3h0m20-3h0m1 5h0m0-6h0m2 4h0m2-5h0m15 0h0m1 16h0m-10 3h0m-5 8h0m-9 0h0m-1-1h0m-4-7h0m-16-2h0m-2 0h0m-3-2h0m-1 20h0m3 3h0m1-6h0m5 0h0m1-3h0m2 2h0m1-2h0m0 6h0m4-1h0m3 3h0m1 2h0m0-5h0m5 0h0m0 7h0m19-1h0m9-4h0m13-3h0m-9 18h0m-14-7h0m-4 0h0m-6 5h0m-9 1h0m-1 1h0m-5 4h0m-1-8h0m-8 2h0m-5 6h0m-18 0h0m-1-2h0m-3-1h0m-8 16h0m12-6h0m0 2h0m0-8h0m9 0h0m3 12h0m3-6h0m11-2h0m1 7h0m4-1h0m4 3h0m9-7h0m8-4h0m6 11h0m11-13h0m1 0h0m2 5h0m6 6h0m22 15h0m-25-3h0m-1-7h0m-33 5h0m-1 6h0m-2-1h0m-3 1h0m0-13h0m-7 12h0m-9-3h0m0-6h0m-9 9h0m-2-11h0m0-1h0m-2 9h0m-8-7h0m-1 6h0m-2-5h0m-6 8h0m-2-7h0m-7 16h0m7 5h0m0-11h0m3 2h0m4 5h0m2 4h0m15-10h0m10 0h0m5 3h0m5 6h0m2-10h0m3 8h0m4-2h0m1-6h0m5 11h0m3 1h0m2 0h0m16-11h0m6 9h0m27-8h0m18 25h0m-13-13h0m-21 9h0m-30 0h0m-2-2h0m-5-5h0m-1 6h0m-1-4h0m-3 8h0m-4-2h0m-4 2h0m-11-7h0m-3-1h0m-6 2h0m-5 6h0m-1 0h0m0 1h0m-6-13h0m-6 9h0m-5 4h0m-14-12h0m-4 24h0m6-9h0m3 4h0m17 3h0m9-2h0m10-5h0m12 7h0m4-9h0m1 0h0m8 7h0m2-7h0m0 6h0m2 5h0m6-1h0m3-7h0m9 8h0m3-9h0m0 4h0m1-5h0m5 4h0m10 6h0m16-5h0m16 19h0m-19-2h0m-12-6h0m-4 10h0m-3-8h0m-3-5h0m-2 4h0m-4 3h0m-3 0h0m-6 5h0m-8-6h0m-4 0h0m-7 3h0m-1 0h0m-6-7h0m-7 3h0m0-2h0m-10 1h0m-1 9h0m-4-9h0m-3-4h0m-4 8h0m0-8h0m-17 10h0m-2-5h0m-3-5h0m-2 26h0m6-10h0m6 11h0m2 0h0m11-11h0m4 6h0m9-7h0m4 10h0m3-10h0m1 6h0m1 2h0m1 0h0m9-9h0m8 7h0m3 3h0m7 0h0m0-7h0m3 3h0m2-2h0m11 0h0m12 8h0m7-11h0m18-1h0m1 2h0m-20 12h0m-1 10h0m-20-9h0m-20 1h0m-10-2h0m-3 2h0m-10 4h0m-15-6h0m-6 5h0m-1 2h0m0 1h0m-5-8h0m-3 5h0m-2-4h0m20 21h0m2-8h0m1 12h0m1-10h0m6 8h0m2-9h0m2 9h0m17-8h0m5 5h0m2 1h0m12 2h0m2 0h0m7-9h0m3-1h0m4 13h0m12-13h0m7 6h0m31 3h0m84 1h0m14 1h0m25 2h0m123-2h0m-47 8h0m-16 3h0m-49-3h0m-7 1h0m-12-4h0m-1 2h0m-23 5h0m-2-9h0m-12 5h0m-1 4h0m-1-8h0m-6 11h0m-8-2h0m-1-2h0m-4 5h0m-7-2h0m-63-1h0m-2-4h0m-25 1h0m-6 5h0m-1-10h0m-1 11h0m-1-7h0m-6 3h0m-7-1h0m-7-5h0m-6-1h0m-2 10h0m-1 1h0m-4-1h0m-1-5h0m-2 1h0m-5 2h0m-12-2h0m22 8h0m1 1h0m2 4h0m2-4h0m10 8h0m21-8h0m1 2h0m88 8h0m6-9h0m14-2h0m13 5h0m6 4h0m5-5h0m14 2h0m8-3h0m4-1h0m1 2h0m13 3h0m5-6h0m17 2h0m28 4h0m77 6h0m-10 0h0m-34 10h0m-10-4h0m-25 3h0m-2-1h0m-5-6h0m-2 2h0m-11 5h0m-8-2h0m-27 3h0m-2-8h0m-3 8h0m-29-6h0m-1-2h0m0-2h0m-13 7h0m-4 0h0m-4 4h0m-14-6h0m-11 4h0m-1-10h0m-2 4h0m0-4h0m-81 3h0m-4-3h0m15 14h0m3 9h0m64-1h0m0-5h0m12 1h0m9-2h0m7 7h0m1-1h0m1 5h0m7-3h0m1 3h0m1-5h0m10-5h0m1 6h0m22-5h0m2 8h0m7-6h0m11 0h0m0 4h0m5 3h0m68-5h0m22 19h0m-34 0h0m-11-10h0m-5 1h0m-3 7h0m-7 2h0m0-5h0m-4 4h0m-7-4h0m-11-6h0m-19 3h0m-4 6h0m0-10h0m-8 6h0m-2 4h0m-9-4h0m-7-1h0m-2 6h0m-3 0h0m-9-5h0m-7-5h0m-8 6h0m-1-8h0m-4 0h0m-8 10h0m-2-3h0m-7-1h0m0 2h0m-8-1h0m-32 6h0m-19-6h0m-5-6h0m-2 2h0m21 15h0m2 5h0m42-8h0m13 0h0m3 6h0m5 6h0m5-5h0m7 3h0m5-1h0m11 3h0m20-12h0m7 9h0m0-3h0m12 0h0m1-6h0m13 11h0m8-2h0m2-6h0m33-4h0m1 1h0m2 4h0m40 2h0m-4 20h0m-80-13h0m-1 4h0m-4 7h0m-14-2h0m-2-5h0m-9 9h0m0-5h0m-6 3h0m-9-1h0m-14-7h0m-5 3h0m-5-1h0m0-4h0m-1 8h0m-5-5h0m-1 2h0m-3 6h0m-11 1h0m-1-7h0m-8 5h0m0-4h0m-2-7h0m-26 13h0m-4-9h0m-9 8h0m-2-10h0m-4 0h0m-2 14h0m21 7h0m8 4h0m2 0h0m7-9h0m3 5h0m0-2h0m4 0h0m5 2h0m2-8h0m4 5h0m7-4h0m7 10h0m10-10h0m4-1h0m0 2h0m0 1h0m19 1h0m0 6h0m2-9h0m5 8h0m6-8h0m1 7h0m1 2h0m16-8h0m75 4h0m32 15h0m-9-4h0m-53 5h0m-4 1h0m-2-5h0m-3 7h0m-6 1h0m-8-8h0m-1 4h0m-2 4h0m-6-2h0m-3-6h0m-4 3h0m-1 2h0m-22-9h0m-2 3h0m-4-4h0m-7 12h0m-9-11h0m-9 11h0m-2-1h0m-4-9h0m-6 1h0m-2 6h0m-2-9h0m-3 1h0m0 10h0m-3-4h0m-5-7h0m0 0h0m-2 7h0m-2 1h0m-2-6h0m0 0h0m-3-1h0m-1 9h0m-4 2h0m-4-5h0m-5 6h0m-8 0h0m-2-4h0m3 10h0m12-1h0m2 6h0m8-6h0m7 1h0m2-3h0m1-2h0m15 2h0m0 2h0m5 9h0m7-1h0m1-5h0m1-4h0m6 7h0m0-3h0m1 4h0m1-1h0m3 2h0m4-1h0m6 0h0m5-10h0m3 12h0m0-12h0m3 11h0m10 1h0m4 0h0m0-8h0m3 5h0m2 3h0m1-10h0m4 9h0m1-12h0m5 12h0m1-4h0m26-2h0m17 9h0m-4 7h0m-1-1h0m-5-6h0m0 2h0m-1-3h0m-9 0h0m0 11h0m-2-3h0m-4-5h0m0 0h0m-2 4h0m-2-7h0m-2 1h0m-6 4h0m-3-4h0m-1 0h0m-12 12h0m-1-12h0m-2-1h0m-1 0h0m-10 7h0m-1-6h0m-2 12h0m-5-5h0m-11 5h0m0-1h0m-8 1h0m-1 0h0m-4-6h0m-1 2h0m-6-1h0m-1-1h0m-4-3h0m-17 9h0m-2-3h0m-8-2h0m-2-6h0m-1 0h0m-2 3h0m-6 2h0m-10-2h0m11 13h0m1 8h0m9-2h0m3-10h0m7 12h0m5-9h0m0 7h0m3-5h0m3 5h0m7-1h0m13 1h0m3 2h0m1-2h0m7-4h0m0-5h0m0 8h0m3 4h0m7-6h0m5 2h0m1 0h0m1-8h0m4 8h0m0-8h0m3 12h0m0-7h0m1 7h0m1-2h0m8-7h0m0-4h0m3 13h0m2-3h0m6-1h0m8-3h0m2-6h0m10 2h0m6 4h0m4 1h0m8-2h0m10-3h0m64-1h0m-90 13h0m-3 1h0m-2 1h0m-1 5h0m-2 6h0m-8-6h0m-3-7h0m0 12h0m-7-3h0m-3-2h0m-1 0h0m-1-1h0m0-4h0m-6 2h0m-5 1h0m0 1h0m-5 0h0m-2 4h0m-7-9h0m-19 2h0m-6-1h0m-3 10h0m-2-7h0m-6-1h0m-1 2h0m-1 1h0m-1-2h0m-5 3h0m0 2h0m-8-3h0m-9-1h0m-3-1h0m-2 1h0m36 16h0m4 4h0m11-9h0m7 8h0m1-2h0m2-5h0m1-1h0m8 7h0m8-10h0m2 1h0m4 8h0m66 74h0m-15 17h0" stroke="#ee8367" stroke-width="8" stroke-linecap="round" fill="none"/></g><text x="482.7" y="435.4" font-size="6.3" fill="#222">Itga2b</text><path d="M296.8 509.1V581.2H367M314.2 581.2v2.4M331.9 581.2v2.4M349.7 581.2v2.4M296.8 511.3h-2.4M296.8 531h-2.4M296.8 550.8h-2.4M296.8 570.6h-2.4" stroke="#2b2b2b" stroke-width="1.05" fill="none"/><text x="314.2" y="594.2" font-size="6.5" text-anchor="middle" textLength="13.6" lengthAdjust="spacingAndGlyphs" fill="#333">&#8722;10</text><text x="331.9" y="594.2" font-size="6.5" text-anchor="middle" textLength="4.6" lengthAdjust="spacingAndGlyphs" fill="#333">0</text><text x="349.7" y="594.2" font-size="6.5" text-anchor="middle" textLength="9" lengthAdjust="spacingAndGlyphs" fill="#333">10</text><text x="291.4" y="513.64" font-size="6.5" text-anchor="end" fill="#333">20</text><text x="291.4" y="533.34" font-size="6.5" text-anchor="end" fill="#333">10</text><text x="291.4" y="553.14" font-size="6.5" text-anchor="end" fill="#333">0</text><text x="291.4" y="572.94" font-size="6.5" text-anchor="end" fill="#333">&#8722;10</text><text x="331.8" y="606.5" font-size="7.7" text-anchor="middle" textLength="23" lengthAdjust="spacingAndGlyphs" fill="#222" stroke="#222" stroke-width="0.15">UMAP_1</text><text transform="translate(275.5 545.4) rotate(-90)" font-size="7.7" text-anchor="middle" textLength="22" lengthAdjust="spacingAndGlyphs" fill="#222" stroke="#222" stroke-width="0.15">UMAP_2</text><g filter="url(#ub)"><path d="M311 533.9L311.9 530.8L314.1 529.6L316.2 530.1L318 532.5L319.8 537.4L321.9 542.3L324.1 546.1L323.3 548.3L321.1 550L318.9 549.7L316.2 546.5L314.1 543L312.3 539.5L311.3 536.4Z" fill="#d6a79c" fill-opacity="0.5"/><path d="M311 533.9L311.3 536.4L312.3 539.5L314.1 543L316.2 546.5L318.9 549.7L320.1 551.4L322.3 554.4L324.8 558.1L323.9 558.7L321.1 555.1L318.7 552.3L316.3 550.8L313.7 549.6L311.4 548.1L308.8 545.1L307.9 542.3L308.8 538.8L309.9 536Z" fill="#d7a599" fill-opacity="0.5"/><path d="M326.3 550.5L328.9 548L333.3 547.3L338.6 548.4L342.5 548.4L345.6 547.5L347.8 551.7L345.9 556.2L345.4 560.5L343.7 563.2L340.6 562.9L339.7 560.5L335.3 558.4L330.1 557.6L326.6 557.6L325.5 554.1Z" fill="#d5a99f" fill-opacity="0.5"/><path d="M325.1 557.8L330.1 557.6L335.3 558.4L339.7 560.5L340.6 563.2L338 565.3L333.6 566.7L329.2 566L326.6 563.9L324.7 560.8Z" fill="#d7a599" fill-opacity="0.5"/><path d="M345.8 561L348.4 562.5L348.9 567.3L346.9 572L343 575.8L339 576.4L336.1 574.3L337.1 570.8L340.4 569.3L341.5 571.5L342.8 570L343.9 567.8L344.3 564.6Z" fill="#c8bdbb" fill-opacity="0.5"/><path d="M309.3 558L311 557.3L312.2 559L312.3 562.6L312.8 566.8L311.1 567.9L309.4 566.6L308.8 562Z" fill="#c8bebd" fill-opacity="0.5"/><ellipse cx="349.8" cy="547.5" rx="4.4" ry="3.4" fill="#c8bebd" fill-opacity="0.75"/><path transform="scale(.1)" d="M3386 5149h0m-36 14h0m1 1h0m2 1h0m1 0h0m2-11h0m1 11h0m0-3h0m1 2h0m1-2h0m1 1h0m0-1h0m15-2h0m1-1h0m1 5h0m3-4h0m2 0h0m1 0h0m1-4h0m1 8h0m0 0h0m14 12h0m-1 0h0m-1-5h0m0 8h0m0-2h0m0-4h0m-2-1h0m-1-1h0m-1 0h0m-1-2h0m0 0h0m0 9h0m0-4h0m-1-1h0m-1 3h0m0-7h0m-1 5h0m-1-4h0m-1-1h0m0 4h0m-1-2h0m-1 1h0m-1-4h0m0-2h0m0 8h0m0-7h0m-3 6h0m0-7h0m-3 5h0m-1-2h0m-1-1h0m-11 3h0m-1 2h0m-2 0h0m0 5h0m0-2h0m-1-7h0m0 9h0m0-1h0m-2 2h0m0-6h0m-1 4h0m-2-10h0m0 3h0m0 7h0m-5-9h0m-1 5h0m0 18h0m7 1h0m3-11h0m0 4h0m1 8h0m0-13h0m0 4h0m1-4h0m1 2h0m1 0h0m1 0h0m2 2h0m30-4h0m181 27h0m-233-8h0m-2 6h0m0-1h0m-3 0h0m-1-1h0m-1-3h0m-1 6h0m0 1h0m0-2h0m0 2h0m-1 0h0m-1-2h0m-1 1h0m-1-2h0m0-6h0m-1 7h0m0-6h0m-1 5h0m-1-4h0m-1 2h0m-1 3h0m-1-2h0m-2-5h0m0 4h0m0-2h0m0 3h0m-1-3h0m0-4h0m0 9h0m-1-6h0m0 2h0m0-2h0m0-3h0m-1 4h0m-1 1h0m8 7h0m6 1h0m3 2h0m2 1h0m2 6h0m5-10h0m4 7h0m222-4h0m48 22h0m-272 0h0m-5-7h0m0 6h0m-3 1h0m-1-9h0m0-1h0m-3 4h0m5 10h0m7 2h0m275-2h0m-270 21h0m-6 4h0m-3-10h0m-4 6h0m-4 5h0m-1-12h0m6 20h0m1 5h0m2-10h0m2 7h0m2-8h0m1 10h0m2-3h0m1 3h0m0-8h0m1 8h0m0-7h0m2 6h0m2 2h0m49-3h0m7-2h0m4 5h0m0-6h0m2-6h0m0 6h0m3 2h0m1-3h0m1 1h0m0-3h0m89 19h0m-102-4h0m-1 4h0m-4-8h0m-2 7h0m-1-4h0m-4 7h0m0-7h0m-1 10h0m-2-3h0m0-1h0m-2-3h0m-2 5h0m-2-3h0m-1 5h0m0 0h0m-1-1h0m0-1h0m-2 2h0m-4-3h0m-4 3h0m0-5h0m-8-5h0m-1 3h0m-1 7h0m-2-6h0m0 4h0m-3-3h0m-2-4h0m0 9h0m0-4h0m0 1h0m-1 0h0m0 0h0m-1 1h0m0 1h0m-1-2h0m0-3h0m0 2h0m-1 3h0m0-8h0m0 3h0m0-2h0m-1-5h0m0 3h0m0 3h0m-3 1h0m-1-6h0m-2 3h0m0 5h0m-2-2h0m-204 18h0m190 2h0m2-2h0m7 2h0m4 0h0m3-2h0m0-1h0m2 1h0m0 1h0m1-1h0m2-8h0m0 8h0m1-1h0m0-3h0m0-3h0m1 3h0m1-5h0m0-1h0m1 0h0m0 8h0m0-6h0m0 7h0m2-9h0m0 6h0m1-2h0m0 5h0m0-10h0m0 5h0m0-3h0m1-1h0m0 6h0m1 0h0m0-5h0m0 5h0m1-1h0m1 7h0m1-3h0m0-2h0m1-1h0m0 3h0m0-2h0m0-4h0m0 9h0m1-1h0m0-3h0m0 0h0m0-5h0m1 0h0m0 7h0m0-2h0m0 2h0m0-2h0m1-6h0m0 7h0m0 0h0m1-4h0m0 6h0m0-12h0m0 12h0m0-12h0m2 9h0m1-1h0m0-1h0m2-3h0m1 0h0m0-2h0m0-1h0m1 4h0m1 4h0m1-7h0m0 5h0m0-3h0m0 2h0m1-4h0m0-2h0m0 1h0m1 4h0m0-5h0m0 4h0m1-3h0m1 2h0m1 2h0m1-5h0m0 9h0m1-7h0m1 0h0m0 1h0m1-3h0m1 0h0m0 0h0m1 0h0m1 2h0m1-2h0m2 1h0m0 4h0m5-2h0m-18 11h0m0 12h0m-3-9h0m0 10h0m-3-11h0m-1 6h0m0-7h0m-1 5h0m0 0h0m0 5h0m-1 2h0m0-1h0m-2-3h0m-1-1h0m0-3h0m0-3h0m0-2h0m-1 2h0m0 6h0m0 0h0m-1-4h0m-1-4h0m0 3h0m-1-3h0m0 2h0m-1 6h0m0 3h0m-2 1h0m0-10h0m-1 2h0m-1-4h0m-4 2h0m0 3h0m-2-1h0m-6 2h0m-6-4h0m-3 0h0m0 2h0m-3 2h0m-3-4h0m-1 0h0m-5 4h0m0 0h0m-4 2h0m-3 1h0m-3-1h0m-7-3h0m-2 4h0m-2-3h0m-3-1h0m-4 6h0m-3-1h0m0 0h0m-150 1h0m-2-5h0m-29 9h0m47 10h0m13-7h0m120-3h0m6-1h0m5 0h0m59 3h0m0-2h0m2 0h0m1 8h0m1 2h0m1-8h0m0 7h0m0-7h0m0 6h0m0 2h0m2-3h0m0 2h0m3 1h0m2 0h0m0 14h0m-2-5h0m-1 6h0m0-4h0m-3-8h0m-3 8h0m-2-7h0m-182 3h0m-37-4h0m-3 6h0m-11 0h0m-9-2h0m37 20h0m6-4h0m18 4h0m0 0h0m3 0h0m182-7h0m2-3h0m2 5h0m2 3h0m2-7h0m3 11h0m2-2h0m3 16h0m-1-7h0m-2 7h0m-1 0h0m-1-4h0m0 0h0m-1 3h0m0-3h0m-5-7h0m-193 2h0m-2 2h0m-8 6h0m-15-7h0m0 22h0m8-6h0m12 7h0m2 0h0m1-2h0m1-1h0m1-1h0m17-6h0m181-1h0m1 0h0m1 4h0m0-5h0m2 3h0m2 4h0m1-2h0m7 6h0m9 13h0m0-1h0m-3 0h0m-1 0h0m-1 2h0m-3-6h0m-3-5h0m-2 7h0m0-5h0m-5 0h0m-183 4h0m-1 3h0m-12 0h0m-9-6h0m-6-2h0m-4 0h0m2 13h0m16-1h0m14 11h0m1-7h0m0-2h0m2 5h0m2 6h0m194-12h0m1-1h0m1 1h0m1 1h0m3 11h0m2-7h0m3 2h0m1 3h0m43 14h0m-8-3h0m-5 2h0m-20 0h0m-2-2h0m-4-6h0m-1 4h0m-1-2h0m-208-1h0m-2 0h0m-26 8h0m-6-11h0m-16 2h0m-4 3h0m28 19h0m1-6h0m5 8h0m12-12h0m2 3h0m10-1h0m3 7h0m10-1h0m209-2h0m3-5h0m1 12h0m1-6h0m0 5h0m1-5h0m4 5h0m4-6h0m7-6h0m22 12h0m0-1h0m4 1h0m3-1h0m6 2h0m9-9h0m2 6h0m6 2h0m0 0h0m3-4h0m3 3h0m19 13h0m0 2h0m-5 1h0m0-6h0m-2 4h0m-2-1h0m-6 3h0m-2-9h0m-1-4h0m-1 1h0m-1 2h0m-1 5h0m0 5h0m-3-6h0m-1-6h0m-4 0h0m-2 10h0m-4-3h0m0-5h0m-1 9h0m-2 0h0m-1-2h0m-5 0h0m-2-4h0m-4-4h0m0 7h0m-1 0h0m-1-1h0m-1 0h0m-1-2h0m-1 0h0m0 5h0m-1-10h0m-1 1h0m-2-2h0m-2 2h0m-1 6h0m-2 5h0m0-9h0m0-2h0m-1 10h0m-1-9h0m-1-3h0m-3 13h0m-1-4h0m-10-7h0m-2-2h0m-1 2h0m-3 3h0m-3 0h0m-1-4h0m0 0h0m-209 12h0m-1-3h0m0-7h0m-6 2h0m-1 8h0m-2-12h0m-1 6h0m-4-3h0m-9 2h0m-2-5h0m-24 0h0m-10 4h0m-2 16h0m11 0h0m6 5h0m12-7h0m1 4h0m4-2h0m3-7h0m4 2h0m1 3h0m2 7h0m1 1h0m3-2h0m0-9h0m1 6h0m4 0h0m14-4h0m211 9h0m4-9h0m1-2h0m1 8h0m0-4h0m1 4h0m3-1h0m0-9h0m6 8h0m1-3h0m1 0h0m6 7h0m1-5h0m1-1h0m1-6h0m4 2h0m1 4h0m3 0h0m0-5h0m0 1h0m2 7h0m3-2h0m2-4h0m1 1h0m1 4h0m2 2h0m2 1h0m1-10h0m2 0h0m4 0h0m1 6h0m0 3h0m2 2h0m1-2h0m0 2h0m1-10h0m1 3h0m0 0h0m1 2h0m1-7h0m0 12h0m3-11h0m2 3h0m0 1h0m2-1h0m1 7h0m0-4h0m5-1h0m2 5h0m4-8h0m1-3h0m3 13h0m6-3h0m2-2h0m0-1h0m2 4h0m-6 16h0m-1-8h0m-1 6h0m-2-8h0m0 6h0m-1-5h0m0 1h0m-1 5h0m0-2h0m-8-7h0m-1-1h0m0 11h0m-3 1h0m-1-12h0m-2 1h0m0 2h0m-1 1h0m0 4h0m0 4h0m-3-2h0m-2-4h0m-1 0h0m-1 7h0m-2-2h0m-4-1h0m0-10h0m-1 7h0m-1 0h0m0-1h0m0 4h0m-1-10h0m-6 9h0m-1 4h0m-3 0h0m-2-5h0m0-7h0m0 11h0m-4-6h0m-1 4h0m-5 0h0m-2 1h0m-2-7h0m0 8h0m0-7h0m-2 5h0m0-3h0m0 6h0m-1-11h0m-1 2h0m-2 0h0m-1-2h0m0 8h0m-1 0h0m-1-2h0m0-5h0m-3 7h0m-1 0h0m-1-10h0m-2 6h0m-6-3h0m-3 10h0m-5-5h0m-2 3h0m-2-2h0m-6 2h0m0 2h0m-5-3h0m-12-3h0m-1 4h0m-28 0h0m-1-2h0m-30 2h0m-2-1h0m0-5h0m-2 6h0m-1-5h0m-5 2h0m-4-5h0m-1 10h0m-1-10h0m-111 1h0m-11-3h0m-4 4h0m-3 7h0m0-6h0m-8 6h0m-3-5h0m-16 6h0m-9-12h0m-1 7h0m-59 1h0m90 11h0m5 0h0m59 7h0m21-9h0m5 7h0m38-3h0m4 2h0m2-7h0m42 0h0m5 8h0m1 2h0m5-5h0m1-1h0m10 2h0m0-7h0m6-1h0m4 4h0m5-1h0m4 0h0m0 4h0m1 5h0m2-4h0m1 3h0m22 1h0m0-12h0m1 9h0m2-8h0m5 5h0m2-3h0m2 1h0m1 6h0m0-11h0m0 5h0m4 1h0m4 0h0m1-2h0m1 6h0m1-3h0m0 6h0m2-6h0m0 6h0m0-11h0m0 8h0m0-1h0m1-1h0m3-4h0m0 2h0m1-6h0m0 1h0m3 2h0m2 3h0m3 0h0m5 4h0m2 0h0m4-1h0m3 0h0m1-1h0m2 5h0m1-3h0m1 1h0m3-2h0m1 0h0m1-6h0m1 7h0m5 0h0m0-1h0m2-9h0m1 5h0m0-2h0m2-1h0m3 10h0m2-3h0m2-5h0m2-4h0m1 9h0m0-7h0m2 6h0m2-7h0m-11 14h0m-2 6h0m-2-4h0m-5-1h0m-2-2h0m-5 6h0m0 2h0m-3-4h0m-2-4h0m-12 3h0m0-3h0m-3 2h0m0 4h0m0-2h0m0 0h0m-1 3h0m-5-3h0m-1 3h0m0-5h0m0 1h0m0-1h0m-4 1h0m-3-1h0m0 3h0m-1-3h0m-1 1h0m0 6h0m-1-7h0m-5 6h0m0 4h0m-1 0h0m-9-9h0m-6 0h0m-3-1h0m-10 4h0m0-2h0m-8 8h0m-4-1h0m-4 1h0m-6-2h0m0-1h0m-8-9h0m-1 6h0m-3-1h0m-2-3h0m-1 4h0m-5 1h0m0 2h0m0 1h0m-8 3h0m-6-4h0m-3-8h0m-2 10h0m-6-6h0m-12-4h0m-7 6h0m-7-1h0m-6-1h0m0 5h0m-1 1h0m-10-6h0m-6 6h0m-2-11h0m-16 2h0m-160-1h0m4 24h0m5-5h0m3-2h0m1-3h0m135 6h0m6-7h0m16 4h0m1 4h0m8 5h0m11-7h0m1 2h0m9-7h0m15 10h0m1-2h0m1-2h0m3 6h0m12-13h0m5 0h0m4 1h0m0 11h0m4 0h0m1-6h0m8-4h0m3 8h0m1-1h0m3-7h0m0 1h0m0 2h0m3 0h0m7 4h0m1-9h0m1 2h0m10 4h0m2 7h0m6 0h0m2-9h0m3-4h0m1 8h0m8-7h0m2 0h0m1-1h0m0 8h0m2-5h0m5 7h0m4-9h0m6-1h0m-8 20h0m-1-3h0m-3 5h0m-4 4h0m-1-3h0m0-9h0m0 5h0m-6 1h0m0 4h0m-2-1h0m-2-4h0m-8 6h0m0-1h0m-10-4h0m-8-3h0m0 4h0m-1 6h0m-1-3h0m-6-10h0m-9 7h0m0-3h0m-2 4h0m0 1h0m-4 2h0m0-4h0m-2 2h0m-12-2h0m-3 5h0m0-7h0m-8 6h0m-3 0h0m-1-4h0m-10-6h0m-14 0h0m-29 1h0m-29 11h0m-2-11h0m-11 5h0m-119-4h0m-1 7h0m-3-10h0m-3 3h0m-1 6h0m-17 17h0m7-6h0m3 3h0m4-3h0m0-1h0m202 3h0m20 0h0m6-4h0m0-3h0m3 8h0m3 0h0m6-4h0m7 7h0m1 0h0m9-9h0m7-1h0m2 3h0m0 6h0m4-7h0m1 9h0m2-2h0m4-7h0m0 9h0m1-9h0m2 5h0m1-4h0m2-5h0m3 7h0m7 3h0m1 3h0m1-9h0m8 6h0m5-7h0m1 7h0m5 2h0m3-9h0m3 7h0m1-10h0m-2 18h0m-11-1h0m-11 4h0m-2-2h0m-2 5h0m0-7h0m0 1h0m-6 7h0m-1-8h0m-7 4h0m-4 2h0m-2-8h0m-1 5h0m-2 3h0m0 1h0m-1 3h0m-1-7h0m-1-2h0m0-2h0m-1-1h0m-2 1h0m0 8h0m-1-3h0m-7-4h0m-1 10h0m0-1h0m-16-3h0m-7 1h0m-22-10h0m-58 5h0m-164 4h0m-3 2h0m-3-4h0m-1 2h0m-23 18h0m1-7h0m1 5h0m7-1h0m3 2h0m6-4h0m2-7h0m235 1h0m9 1h0m10-3h0m1 13h0m0-4h0m2-5h0m15 3h0m6 1h0m0 4h0m1-6h0m1 1h0m2 5h0m7-11h0m0 3h0m3 2h0m5-1h0m1 4h0m1 1h0m1-5h0m1 5h0m1-7h0m2-2h0m0 3h0m8 7h0m2-11h0m1 8h0m1-7h0m15 0h0m4 11h0m2 13h0m-1 1h0m-2-7h0m-5-5h0m-6 10h0m-21-5h0m-1 0h0m-10 6h0m-1-4h0m-14 0h0m0-2h0m-9-1h0m0-2h0m-3 6h0m-5-2h0m-2-5h0m-42 10h0m-15-7h0m-208 9h0m-4-12h0m-3 10h0m-3-6h0m-3 4h0m-1 1h0m-5 2h0m-2 4h0m6 10h0m0-7h0m1-5h0m6 10h0m3-1h0m6 3h0m8-1h0m288-4h0m3-7h0m1 10h0m15-3h0m5 3h0m5-7h0m4-3h0m0 9h0m32 18h0m0-6h0m-2 0h0m-4 3h0m-1-1h0m-2-2h0m-2-7h0m-1 1h0m0 12h0m-3-1h0m-3 0h0m-15-9h0m-3 10h0m-3-8h0m-4 2h0m0 2h0m-4-5h0m-1 6h0m-8 3h0m-7-5h0m-2-3h0m-1 5h0m-1-6h0m-292-4h0m-8 6h0m-1-2h0m-1 3h0m-1-5h0m-2 1h0m-11 4h0m-1 16h0m2-9h0m9 1h0m0 3h0m1-3h0m8-1h0m3 13h0m9-6h0m149 3h0m81-3h0m17-6h0m43 3h0m16-4h0m1 1h0m20 0h0m0 5h0m8 0h0m3 2h0m1-3h0m4 3h0m0 5h0m0-12h0m0 2h0m9 0h0m0 8h0m1 2h0m1-5h0m1-3h0m8 1h0m-1 16h0m-19 1h0m-4-8h0m-4 7h0m-7 1h0m-1-9h0m0 2h0m-1-1h0m-3 4h0m-1 6h0m-320-5h0m0 1h0m-2-6h0m-2 7h0m-2-5h0m-8 1h0m-17-2h0m1 24h0m3 0h0m7-2h0m4-8h0m8 6h0m334-6h0m2-1h0m4 9h0m1-8h0m6 8h0m1 0h0m0 3h0m1-4h0m6 0h0m2 2h0m6 1h0m3-4h0m0-2h0m-4 10h0m-9-2h0m-3 1h0m-4 3h0m-9-2h0m-5 11h0m-4-11h0m-1-2h0m-330 6h0m-2-4h0m0 3h0m0-4h0m-5 2h0m0-2h0m-1 3h0m0-2h0m-1 1h0m0 2h0m-1-1h0m-2 3h0m-3 1h0m-8 4h0m-6 1h0m-33 14h0m2-2h0m9-3h0m1 0h0m2 0h0m0-1h0m1-1h0m6-1h0m3-2h0m4-1h0m2 0h0m356 10h0m7-8h0m9 3h0m0-4h0m2 7h0m5-1h0m5-3h0m0 7h0m3-7h0m0 4h0m2-6h0m3-1h0m-4 12h0m0 8h0m-2-2h0m-6-3h0m-4 1h0m-2 6h0m-1-7h0m-3 5h0m-10-8h0m-6 11h0m-6-4h0m-3 3h0m-18 2h0m-1-4h0m-10 2h0m-1-2h0m-4 1h0m0-3h0m-1 6h0m-2-12h0m-346 1h0m-3-1h0m0 1h0m-9 6h0m-13 2h0m-4 2h0m365 4h0m3 10h0m8-10h0m10 9h0m4-5h0m1-2h0m4 4h0m3-5h0m0 8h0m2-10h0m0 7h0m10-3h0m2-5h0m1 2h0m3 4h0m0-2h0m4-3h0m10 4h0m1-4h0m1 4h0m1-3h0m0 2h0m0 0h0m4 3h0m4 6h0m2-7h0m-3 15h0m-5-1h0m-5-1h0m-5 8h0m-1-5h0m-6-2h0m-2 2h0m-4 3h0m-2-5h0m-3-3h0m-22-1h0m-4 1h0m-2 5h0m-1-8h0m-5 3h0m-2 5h0m0 5h0m-5-7h0m-2 6h0m-4-8h0m-6 7h0m2 11h0m1 5h0m7-3h0m8-9h0m8 4h0m23-4h0m3 5h0m0-1h0m8-4h0m12 6h0m-17 12h0m-4-5h0m-12 1h0m-3 0h0m-3 4h0m-6 1h0m-2-6h0m-3 5h0m-13 1h0" stroke="#c7c0bf" stroke-width="8" stroke-linecap="round" fill="none"/><path transform="scale(.1)" d="M3349 5162h0m2 1h0m0 1h0m49 14h0m-1-4h0m-6-7h0m-1 6h0m-9 3h0m-1-8h0m-2 4h0m-1-2h0m-21 3h0m-1-5h0m-2-1h0m0 11h0m-1-7h0m-5 19h0m9-8h0m8 0h0m2 3h0m-35 19h0m0-1h0m-3-2h0m-4 1h0m-3-2h0m14 10h0m7 52h0m6 12h0m1-7h0m59 5h0m4 5h0m1-4h0m6 1h0m-31 8h0m-3 9h0m-11-5h0m-14 2h0m-3 3h0m-3-9h0m-216 18h0m208 4h0m10-4h0m2 4h0m3-12h0m0 10h0m4-10h0m1 3h0m1-3h0m0 8h0m2-5h0m1 7h0m0 2h0m2-1h0m1 1h0m0-8h0m1-2h0m4 2h0m1-1h0m0-2h0m4 3h0m1-1h0m11-1h0m-16 13h0m-9 6h0m-1-2h0m-21-5h0m-3 1h0m-13-1h0m-1 7h0m-1-5h0m-8 5h0m-4 0h0m-1-2h0m-20 4h0m-181 9h0m30 3h0m1-1h0m12 3h0m220 13h0m-8 4h0m-219-5h0m-4 5h0m-3-8h0m-17-2h0m-2 10h0m23 4h0m21 1h0m6 0h0m207 14h0m0 0h0m-1-2h0m0 1h0m-4 2h0m-186 4h0m-18 1h0m-7-3h0m-6 5h0m-9-4h0m-21-3h0m-12 5h0m-15-3h0m21 18h0m10-10h0m16 6h0m6-5h0m6 2h0m15 3h0m2 7h0m2-10h0m11 5h0m195-3h0m0 6h0m1 2h0m0-1h0m7 3h0m-5 0h0m-2 1h0m-180 11h0m-7-2h0m-1-9h0m-1-2h0m-51 5h0m-2 5h0m-32-4h0m22 9h0m14-1h0m24 8h0m4-1h0m6-1h0m2 6h0m3-11h0m214 0h0m2 8h0m10 0h0m-198 16h0m-5-1h0m-16-8h0m-12 8h0m-3-2h0m-1 3h0m-88 4h0m21 10h0m14-5h0m22 5h0m32-10h0m16 2h0m1 8h0m11-2h0m12 0h0m207-2h0m8 3h0m45-4h0m8 6h0m8 0h0m17 10h0m-3 3h0m-1-1h0m-1 0h0m-2 0h0m-3 2h0m0-11h0m-13 4h0m-9-5h0m0 10h0m-1-4h0m0 3h0m-1-7h0m-3 11h0m-1-13h0m-1 10h0m-1 1h0m-37-11h0m-213 8h0m-11 0h0m-28 5h0m-3-5h0m-38 0h0m12 15h0m4-4h0m1 2h0m6-4h0m0 2h0m2-5h0m5 12h0m1-12h0m20 0h0m1 13h0m2-3h0m3-1h0m1 3h0m5-3h0m4-1h0m8 0h0m16-4h0m91 9h0m127-5h0m1-7h0m20 6h0m4-7h0m4 6h0m7 7h0m7-10h0m2 3h0m1-2h0m1 1h0m4 6h0m30-2h0m4 1h0m0-8h0m0 6h0m5 5h0m0-6h0m-7 7h0m-1 3h0m-13 5h0m-31-2h0m-3 1h0m-1 1h0m-4-5h0m-4 7h0m0-5h0m-2 0h0m-1 8h0m-14-6h0m0-3h0m-4 0h0m-4 1h0m-1 8h0m-3 0h0m0-10h0m-6 9h0m-36-2h0m-40 2h0m-30-7h0m-16-2h0m-12 5h0m-10 0h0m-5-5h0m-10 7h0m-56-7h0m-13-1h0m0 0h0m-7 3h0m-10 7h0m-23-7h0m-4 6h0m0-10h0m-4 0h0m-21 12h0m-19-3h0m-4-6h0m20 21h0m28-5h0m4-1h0m7-3h0m1 6h0m2-5h0m1-2h0m7 10h0m4-11h0m11 13h0m65-7h0m16-1h0m10 5h0m17 3h0m2-10h0m9 9h0m1 1h0m3-10h0m1 5h0m2-3h0m1 4h0m2 0h0m33-3h0m1 6h0m10-7h0m21 3h0m11 0h0m5-5h0m5 0h0m9-1h0m6 7h0m0-5h0m10-2h0m5 1h0m8-1h0m6 5h0m0-4h0m18-3h0m3 12h0m4-4h0m5-4h0m4-3h0m4 6h0m3-3h0m10-2h0m3 11h0m-12 2h0m-6 1h0m-13 7h0m-11-3h0m-9-6h0m0 13h0m-4-12h0m-12 12h0m-30-4h0m-4-2h0m-23-6h0m-18-1h0m-6 5h0m-40 1h0m-11-2h0m-19 7h0m-8-11h0m-33 4h0m0 4h0m-66 2h0m-5 3h0m101 9h0m0 5h0m34 0h0m15-10h0m18 1h0m6 9h0m6-10h0m36 4h0m3 1h0m5 5h0m2-8h0m10-4h0m12 10h0m7-9h0m12 11h0m2-7h0m-1 20h0m-3-5h0m-5 6h0m-6-7h0m-14 0h0m-9 1h0m-11-2h0m-18-5h0m-7 11h0m-3-1h0m-7-3h0m-10-4h0m-4 5h0m-9-3h0m-41-4h0m-11 8h0m-14-7h0m-23-1h0m-1 7h0m-5-4h0m-119 0h0m130 21h0m10-5h0m5 0h0m8 0h0m11-3h0m24 7h0m4-1h0m0-3h0m7 4h0m15-6h0m2 5h0m30-7h0m15 1h0m19 10h0m33-11h0m-2 12h0m-54 5h0m-32-3h0m0 7h0m-20-7h0m0-1h0m-2 10h0m0 2h0m-2-8h0m-15-4h0m-6 10h0m-5 0h0m-52-3h0m-137 5h0m0-7h0m-2-1h0m129 21h0m51-10h0m1 9h0m22-7h0m8-1h0m4-3h0m8 9h0m15-7h0m9 11h0m5-5h0m1 3h0m2-6h0m0-3h0m4 3h0m20-4h0m0 7h0m3 5h0m18-8h0m2 8h0m14-11h0m12 8h0m-7 16h0m-30-7h0m-16 7h0m-8-2h0m0-4h0m-18 0h0m-1 0h0m-2-6h0m-71 3h0m-21-3h0m-19 10h0m1 16h0m34-5h0m19 4h0m10-2h0m74 2h0m40-4h0m4-1h0m-7 8h0m-9 5h0m-2 6h0m-13 2h0m-3-1h0m-7 1h0m-60-11h0m-83 4h0m-138 2h0m-35-2h0m12 8h0m12 6h0m249 7h0m17-7h0m29-6h0m56 12h0m4-8h0m18 0h0m-9 11h0m-6 11h0m-1-7h0m-4-3h0m0 7h0m-103-6h0m-5 3h0m-22 3h0m-213-9h0m-9 4h0m-1-4h0m219 23h0m146-9h0m2 3h0m1 5h0m7 5h0m-7 4h0m-16 3h0m-4 1h0m-7 2h0m-12 4h0m-350-3h0m-6 3h0m-21 10h0m9-6h0m361 9h0m2-2h0m17-7h0m6 6h0m14-8h0m1 14h0m-6 5h0m-5 4h0m-3-5h0m-8 4h0m-62 2h0m-340-10h0m-9 2h0m330 12h0m7-1h0m18 12h0m5-12h0m26 13h0m0-9h0m3 5h0m27 10h0m-6 0h0m-8 8h0m0-2h0m-1 1h0m-33-10h0m-5 10h0m-33-12h0m-2 4h0m3 17h0m14-3h0m5-3h0m4 8h0m20 1h0m7-3h0m10 10h0m-25 2h0" stroke="#ccb8b4" stroke-width="8" stroke-linecap="round" fill="none"/><path transform="scale(.1)" d="M3361 5165h0m31 5h0m-5-1h0m-6 1h0m-26-1h0m4 24h0m-7 9h0m-25 0h0m20 7h0m-3 14h0m-5 8h0m8 27h0m-1-7h0m-6 12h0m16 8h0m59 9h0m-3-2h0m-9 2h0m-37 5h0m-1-2h0m-3 4h0m-5 4h0m-1-6h0m-1-1h0m-221 18h0m218-2h0m2 4h0m3-3h0m2-7h0m3 2h0m0-4h0m1 0h0m1 3h0m4-2h0m2 8h0m0-8h0m2 12h0m4-11h0m2-2h0m2 12h0m7-9h0m1-1h0m-8 23h0m-19-3h0m0-6h0m-6 1h0m-189-1h0m-2 4h0m-4-1h0m-6 6h0m-14-10h0m-4 4h0m-24 21h0m5-2h0m25-1h0m4-2h0m1-6h0m8 4h0m1-4h0m5 5h0m0-5h0m20 12h0m193 12h0m-2-4h0m-187 4h0m-17 1h0m-3-4h0m-2-8h0m-3 2h0m-1 6h0m-6-7h0m-2 0h0m-18-1h0m-1 9h0m-10-9h0m-12 10h0m-1 1h0m-9-1h0m10 9h0m6-3h0m19 4h0m7 0h0m15-2h0m8 2h0m17-2h0m8 6h0m196-6h0m-201 17h0m-2-4h0m-9 7h0m-8-10h0m-3 4h0m0 4h0m-5-2h0m-6 5h0m-2-2h0m-23-7h0m-6 4h0m-5-1h0m-8 8h0m-1-1h0m28 15h0m8-4h0m9-7h0m2 4h0m2-5h0m8 9h0m0 1h0m7-9h0m9-1h0m7-1h0m208 0h0m-3 15h0m-191 6h0m-19 5h0m-4 1h0m-2-1h0m-19-6h0m-11-4h0m-5 5h0m-2 1h0m-8 4h0m-15-12h0m-3 12h0m-4-9h0m-4 10h0m-22 5h0m16 8h0m3-11h0m7 1h0m6 2h0m6-3h0m1 7h0m10-8h0m1 8h0m1-6h0m12 3h0m4-4h0m3 0h0m1 1h0m3 6h0m2 2h0m3-2h0m1-1h0m1 3h0m2-6h0m6 9h0m10-13h0m30 13h0m224 13h0m-12-2h0m-200-7h0m-8 5h0m-23-8h0m-7 8h0m-1-7h0m-6 9h0m-2 1h0m-4-2h0m-19-3h0m-9 1h0m-2-1h0m-12-1h0m-29 4h0m-2-9h0m-13 5h0m5 9h0m20 7h0m24-5h0m16-1h0m18 10h0m2-7h0m12-1h0m2 7h0m2-9h0m16 7h0m9-5h0m3 3h0m238-6h0m8 1h0m54 10h0m21 16h0m-28-13h0m-296 8h0m-10 4h0m-1 0h0m-4-12h0m-27 11h0m-1-9h0m-2 7h0m-3-7h0m-8-2h0m-5 4h0m-32-3h0m-2 9h0m-3-1h0m71 8h0m9 8h0m14-8h0m0 8h0m1 0h0m0-3h0m243-2h0m13 1h0m22 5h0m2-8h0m3 3h0m8 1h0m4 1h0m26-1h0m-16 18h0m-5-3h0m-8-6h0m-11 0h0m-40 9h0m-13-3h0m-3 0h0m-56 3h0m-39-10h0m-28 7h0m-120 1h0m-10-7h0m-33 5h0m-6-1h0m-1-2h0m-3 4h0m-15-6h0m13 13h0m47 8h0m4-8h0m4 11h0m12-5h0m82-5h0m4 8h0m1-1h0m4 1h0m5-10h0m5-1h0m15 13h0m15 0h0m2-12h0m1 1h0m12-2h0m2 2h0m2 8h0m2-9h0m15 3h0m2 6h0m4-2h0m5 5h0m14-2h0m3-1h0m2-6h0m23 1h0m14 2h0m6-7h0m25 10h0m8-10h0m8 9h0m1-6h0m1-2h0m17 6h0m1 1h0m20 5h0m7-3h0m2-9h0m-64 24h0m-29-6h0m-32 2h0m-9-3h0m-15-1h0m-17 10h0m-5-9h0m-2 0h0m-11 4h0m-6 4h0m-10-12h0m-14 8h0m-16-2h0m-1 7h0m-31-1h0m-1-11h0m-2 0h0m-80 4h0m72 9h0m7 2h0m4-1h0m27 10h0m1 1h0m2-1h0m5-10h0m1 7h0m11 0h0m11 0h0m5 1h0m9-7h0m4 1h0m21 3h0m5 5h0m10-8h0m28-3h0m32 19h0m-54 5h0m0 2h0m-15-9h0m-4 0h0m-6 1h0m-12 4h0m-13-2h0m-26 5h0m-3-1h0m-4-8h0m-3 7h0m-8-7h0m-10 6h0m-6-3h0m-6-4h0m-4 7h0m-63 4h0m-61 1h0m-5 7h0m96 6h0m38 0h0m2-10h0m9-1h0m1 10h0m15-4h0m5-7h0m5 5h0m14 3h0m38-2h0m13 2h0m8-4h0m20-3h0m54 25h0m-19-1h0m-7-8h0m-6 0h0m-3 6h0m-59 3h0m-5-9h0m-1 1h0m-5 3h0m-16 0h0m-3-2h0m-8-2h0m-7 6h0m-16-8h0m-1 5h0m-65 6h0m-5-8h0m0 2h0m-3-3h0m-109 9h0m0 4h0m186 8h0m22-2h0m9-8h0m8 11h0m2 0h0m7 1h0m3-2h0m13-2h0m1-7h0m10 6h0m3 2h0m53-2h0m10-6h0m-87 22h0m-32 2h0m-4-3h0m-3-3h0m-2 0h0m-6 0h0m-1-2h0m-6-1h0m-26-1h0m-176 0h0m144 23h0m29 0h0m17 3h0m18-2h0m9-6h0m1 3h0m7 5h0m34-4h0m32-7h0m52-2h0m-54 19h0m-21-4h0m-67 0h0m-12 1h0m-20 3h0m-5 3h0m-161 4h0m-6-1h0m184 6h0m31 6h0m41-8h0m9 9h0m0-6h0m5 5h0m1 0h0m20-8h0m28 0h0m26 7h0m-72 11h0m-33-1h0m-23-1h0m-11-3h0m-16 5h0m-200 2h0m244 15h0m15 0h0m98 5h0m32 5h0m-381 3h0m0-1h0m-8 3h0m310 15h0m35-4h0m8 2h0m9 2h0m30-9h0m-10 21h0m-14 2h0m-28 1h0m-26-8h0m-362-1h0m-7 2h0m387 20h0m29-6h0m-38 20h0m-24 0h0m-19-7h0m-3 6h0m-2 7h0m12 2h0m54 11h0m-46 0h0" stroke="#d0b0a9" stroke-width="8" stroke-linecap="round" fill="none"/><path transform="scale(.1)" d="M3360 5286h0m-207 15h0m203 2h0m13 1h0m-6 5h0m-214 2h0m-16 6h0m-2-7h0m0-1h0m-9-2h0m-1 7h0m-2-2h0m-5 9h0m6 4h0m17 3h0m7-5h0m11 9h0m11-6h0m1 3h0m6-2h0m1 17h0m-5-1h0m-13-1h0m-2 1h0m-14 4h0m-6-10h0m-12-3h0m-6 10h0m0 3h0m-5 3h0m10 3h0m16 8h0m1-3h0m3-8h0m0 3h0m3-3h0m6 8h0m16-4h0m2-1h0m12 3h0m8 16h0m-14-3h0m-7 4h0m-10-9h0m-10 10h0m-1-11h0m-4 7h0m-4 1h0m-4 1h0m-4-1h0m-6-9h0m-1 8h0m-35 19h0m6-7h0m1 1h0m13 0h0m0 6h0m3-7h0m4 2h0m6 0h0m4 3h0m16-7h0m0 7h0m12-3h0m6 5h0m5-11h0m1 11h0m8-7h0m5-5h0m13 12h0m12 2h0m-7 2h0m0-3h0m-2 10h0m-19-2h0m-2 5h0m-7-11h0m-4 2h0m-6 0h0m-10-3h0m-11 12h0m-8-2h0m-3-2h0m-2-5h0m-2 6h0m0-3h0m-28-2h0m-4 22h0m2-3h0m15 0h0m32 2h0m0-12h0m4 6h0m22 3h0m8 2h0m28 4h0m-3 10h0m-9-2h0m-3-4h0m-4-4h0m-4 5h0m-2 6h0m-3 1h0m-21-1h0m-11-3h0m-1-4h0m-11-1h0m-16 5h0m-16 3h0m-13-2h0m-1-7h0m1 11h0m6 4h0m2-4h0m1 3h0m10 3h0m4 0h0m6 2h0m1 2h0m1-2h0m1 0h0m6 1h0m7-1h0m2-8h0m19 1h0m1 10h0m7-9h0m0 0h0m3-1h0m5-1h0m1 12h0m6-8h0m11 5h0m4-7h0m27-2h0m263 12h0m20-2h0m3 3h0m-14 4h0m-264 10h0m-23-13h0m-10 2h0m-25 0h0m-8 7h0m-3 2h0m-3-10h0m-13 1h0m-20 11h0m0-10h0m-11 3h0m-4 5h0m-3-11h0m-9 0h0m62 14h0m13 13h0m13-2h0m34 1h0m296-3h0m-93 13h0m-14 2h0m-25 3h0m-44-1h0m-4-7h0m-6 7h0m-2-11h0m-13 12h0m-4-6h0m-4 2h0m-8 4h0m-93-1h0m-3-3h0m-6-1h0m-14-4h0m-9-3h0m-1 9h0m-1-10h0m-3 7h0m-4-5h0m-1 2h0m-13-4h0m-6 13h0m-11-4h0m-5-4h0m23 15h0m2-5h0m1 9h0m9-8h0m6 11h0m15-7h0m126-5h0m16 10h0m13-11h0m40 9h0m4-1h0m7-4h0m135-3h0m17 0h0m-49 22h0m-104-8h0m-41-1h0m-5 4h0m-14 5h0m-48-8h0m-11 11h0m-65-1h0m-7-5h0m-3-2h0m-1 8h0m-18-5h0m-3 6h0m15 1h0m18 1h0m69 7h0m21-2h0m10-1h0m3 7h0m2-5h0m9-7h0m7 5h0m9-5h0m1 8h0m21 0h0m17-3h0m105-4h0m-130 19h0m-24 1h0m-6-2h0m-23 8h0m-2-12h0m-1 6h0m-10 4h0m-2-10h0m-18 6h0m-53 1h0m-67 11h0m126 1h0m4 6h0m6-5h0m3 5h0m11-2h0m6-8h0m3 11h0m8-13h0m9 6h0m27-2h0m15 3h0m13 3h0m70 12h0m-80 5h0m-18 0h0m-16-8h0m-49 6h0m-44-9h0m-10 5h0m19 12h0m20 4h0m41 3h0m26-4h0m4 4h0m1-4h0m5-8h0m21 7h0m24 16h0m-10-6h0m-33-2h0m-1 9h0m-6-4h0m-15-4h0m-1 5h0m-3 2h0m-6-8h0m-7 9h0m-5-2h0m-11-7h0m-19 6h0m-1-2h0m-2 3h0m-157 1h0m145 10h0m4 5h0m34-10h0m1 0h0m8 7h0m9 6h0m4-2h0m14-9h0m11 6h0m6 5h0m7-1h0m7 0h0m4-10h0m5 11h0m1-10h0m17 10h0m73-11h0m-55 25h0m-2-13h0m0 6h0m-7 4h0m-6-1h0m-5-8h0m-38 5h0m0 1h0m-8 4h0m-7-6h0m-11 0h0m-5-4h0m0 5h0m-1 6h0m-9-4h0m-7-3h0m-8 7h0m-3-5h0m0 6h0m-1-10h0m-7 21h0m6 0h0m2-2h0m4-4h0m10-2h0m7 3h0m6 8h0m1-8h0m0 0h0m5-3h0m13 10h0m0 0h0m6-4h0m10-7h0m6 8h0m1 3h0m1-11h0m1 1h0m11 11h0m7-10h0m2 6h0m0-3h0m14 7h0m2-10h0m1 6h0m15-1h0m-23 13h0m-30-5h0m-14 2h0m-4 5h0m-10-9h0m-2 5h0m0 0h0m0 7h0m-1-3h0m-1 2h0m-7-2h0m-3-4h0m-17 8h0m-6-5h0m-172-8h0m-5 2h0m17 19h0m175-3h0m25-1h0m11 3h0m0 6h0m10-11h0m9 3h0m3 2h0m120 28h0m-78 30h0m10-6h0m45 4h0" stroke="#d5a89d" stroke-width="8" stroke-linecap="round" fill="none"/><path transform="scale(.1)" d="M3133 5301h0m26 15h0m-16-1h0m-15 0h0m-11 8h0m6 7h0m7 0h0m11-7h0m16 7h0m10 15h0m-13-6h0m-11 2h0m-5-5h0m-9 3h0m-7 7h0m-7-10h0m-2 3h0m-2 5h0m-4 6h0m8 10h0m57 3h0m-6 8h0m-7-9h0m-2 13h0m-4-4h0m-20-9h0m-12 4h0m-5-2h0m-6 10h0m-5-8h0m-3-3h0m-2 0h0m-5 18h0m1 4h0m7 1h0m30 1h0m6-10h0m3-1h0m53 17h0m-13 4h0m0-7h0m-5 11h0m-6-4h0m-9-3h0m-1-3h0m-14 2h0m0-1h0m-25 7h0m0-6h0m0-1h0m-7 3h0m-3 4h0m-19-1h0m4 7h0m18 8h0m33-2h0m4 6h0m0-13h0m32 6h0m-33 17h0m-8-9h0m-13 2h0m-4 3h0m-1 3h0m-12 4h0m-5-9h0m-2-3h0m-9 0h0m-4 8h0m-4 15h0m12-4h0m4 2h0m5 3h0m0-4h0m1-4h0m2 0h0m29 4h0m68 16h0m-40 4h0m-3-12h0m-13 0h0m-16 1h0m-14 5h0m-7 4h0m0-10h0m-8 0h0m-11 4h0m6 15h0m24 7h0m8-10h0m21 0h0m1-2h0m12 13h0m27-7h0m12 3h0m122 6h0m-2 3h0m-24 8h0m-2-8h0m-142 0h0m0-4h0m-15 18h0m1 2h0m4 6h0m13 1h0m22-12h0m1 8h0m89 1h0m11 0h0m4-8h0m8 11h0m20-6h0m24 10h0m-54 5h0m-1-2h0m-1-6h0m-7 12h0m-15-9h0m-75 6h0m-11 2h0m-7-9h0m-1-1h0m-3-1h0m34 27h0m52-4h0m9-5h0m4 2h0m6 5h0m7-8h0m1 1h0m2 6h0m7-4h0m6-5h0m1 1h0m44 1h0m5 8h0m5-1h0m-7 13h0m-2-6h0m-14 0h0m-32 10h0m-15-12h0m-15 11h0m-5-1h0m0-2h0m-52 1h0m-13-7h0m31 23h0m3 1h0m36-7h0m82-2h0m-27 18h0m-4 4h0m-86 1h0m-1-2h0m-2-1h0m-4-4h0m-1 7h0m5 1h0m39 3h0m1-2h0m43 3h0m23 9h0m7-5h0m0 1h0m7 0h0m29 14h0m-33 2h0m-5-1h0m-3 3h0m-1-12h0m-4-1h0m-2 1h0m-16 5h0m-3 0h0m-4 5h0m-16-6h0m-15 6h0m-6-7h0m-7 3h0m-11 3h0m16 16h0m0-1h0m38-9h0m1 4h0m1-5h0m6 9h0m16-10h0m2 3h0m26 2h0m23 8h0m4-5h0m1-5h0m2-2h0m3 15h0m-6 0h0m-34 7h0m-14 1h0m-3-9h0m-2 2h0m-9 6h0m-2 3h0m-3 0h0m-3-1h0m-6-11h0m-1 10h0m-3-7h0m-2 0h0m-2-3h0m-5 12h0m-25-9h0m-8 14h0m14 9h0m13 0h0m3-11h0m0 2h0m2 2h0m13-5h0m5 7h0m12 4h0m8-11h0m0 1h0m19 10h0m8-8h0m3 4h0m4-7h0m15 13h0m3-12h0m18 2h0m-23 16h0m-7 3h0m-16-5h0m-23 3h0m-4-5h0m0 12h0m-54-8h0m31 13h0m14 0h0m12-3h0m105 31h0" stroke="#daa092" stroke-width="8" stroke-linecap="round" fill="none"/><path transform="scale(.1)" d="M3134 5316h0m-2 1h0m0-5h0m-3 0h0m-5-1h0m36 11h0m-20 19h0m-4 3h0m-21-4h0m-1 2h0m17 12h0m15-3h0m2 4h0m24 12h0m-23 7h0m-1-5h0m-13 6h0m-1-6h0m-29 12h0m11 5h0m47 12h0m-45 3h0m-20-5h0m-14 17h0m8 0h0m7 3h0m13-10h0m33 10h0m-5 6h0m-2-4h0m-23 4h0m-14 2h0m-11 16h0m9-2h0m16-2h0m16 1h0m25-3h0m9 8h0m-9 5h0m-11 5h0m-27-3h0m-24 0h0m36 11h0m24 22h0m-1 0h0m-19 0h0m-8-5h0m-3-3h0m-6 2h0m28 17h0m4 2h0m16-1h0m165 0h0m2-1h0m-44 22h0m-110-8h0m-4-2h0m16 15h0m3 0h0m7 5h0m103-5h0m-10 14h0m-4 9h0m-14-5h0m-59 2h0m-4 4h0m8 4h0m46 6h0m25-6h0m24 8h0m62 8h0m-38 7h0m-27-9h0m-23 2h0m-7-3h0m-17 2h0m-36 2h0m38 20h0m4-4h0m8 0h0m3 4h0m30-2h0m64 13h0m-11 2h0m-8 0h0m-12-1h0m-17-1h0m-2 1h0m-21-11h0m-8 3h0m-7 9h0m-28-4h0m-1-6h0m-10 15h0m3 10h0m8-10h0m5 0h0m0-3h0m4 7h0m45 0h0m1-1h0m12-3h0m1 2h0m18 6h0m3-2h0m9-1h0m10-7h0m14 7h0m4-3h0m5 14h0m-3 6h0m-4-2h0m-15-1h0m-4-8h0m-4 13h0m-4-11h0m0 10h0m-3-11h0m-13 3h0m-10 9h0m-16-1h0m-8-11h0m-13 12h0m-7-11h0m-6 18h0m28 1h0m15 1h0m0 3h0m46-7h0m2 6h0m4-6h0m2 0h0m6 8h0m3-8h0m1 9h0m7-1h0m-15 11h0m-12-3h0m-55 4h0m-7-9h0m-2 3h0m-14 9h0m14 3h0m0-2h0m28 7h0m134-1h0" stroke="#df9887" stroke-width="8" stroke-linecap="round" fill="none"/></g><path d="M404.8 508.8V580.1H479.3M423.6 580.1v2.4M442.5 580.1v2.4M461.7 580.1v2.4M404.8 526.4h-2.4M404.8 547.3h-2.4M404.8 568.4h-2.4" stroke="#2b2b2b" stroke-width="1.05" fill="none"/><text x="423.6" y="592.7" font-size="6.5" text-anchor="middle" textLength="13.2" lengthAdjust="spacingAndGlyphs" fill="#333">&#8722;10</text><text x="442.5" y="592.7" font-size="6.5" text-anchor="middle" textLength="4.5" lengthAdjust="spacingAndGlyphs" fill="#333">0</text><text x="461.7" y="592.7" font-size="6.5" text-anchor="middle" textLength="8.8" lengthAdjust="spacingAndGlyphs" fill="#333">10</text><text x="399.4" y="528.74" font-size="6.5" text-anchor="end" fill="#333">10</text><text x="399.4" y="549.64" font-size="6.5" text-anchor="end" fill="#333">0</text><text x="399.4" y="570.74" font-size="6.5" text-anchor="end" fill="#333">&#8722;10</text><text x="439.8" y="605.3" font-size="7.7" text-anchor="middle" textLength="23" lengthAdjust="spacingAndGlyphs" fill="#222" stroke="#222" stroke-width="0.15">UMAP_1</text><text transform="translate(383.4 544.4) rotate(-90)" font-size="7.7" text-anchor="middle" textLength="22" lengthAdjust="spacingAndGlyphs" fill="#222" stroke="#222" stroke-width="0.15">UMAP_2</text><g filter="url(#ub)"><path d="M420 529.4L421 526.1L423.4 524.9L425.6 525.4L427.6 527.9L429.5 533.1L431.8 538.3L434.1 542.4L433.2 544.6L430.9 546.5L428.5 546.1L425.6 542.7L423.4 539L421.5 535.3L420.4 532Z" fill="#e19383" fill-opacity="0.5"/><path d="M420 529.4L420.4 532L421.5 535.3L423.4 539L425.6 542.7L428.5 546.1L429.9 547.9L432.2 551.1L434.8 555.1L433.9 555.7L430.9 551.9L428.3 548.9L425.8 547.3L423 546L420.5 544.4L417.7 541.3L416.8 538.3L417.7 534.6L418.9 531.6Z" fill="#e19383" fill-opacity="0.5"/><path d="M436.5 547L439.2 544.4L444 543.6L449.7 544.7L453.9 544.7L457.2 543.8L459.6 548.3L457.5 553.1L457 557.6L455.1 560.4L451.9 560.1L450.9 557.6L446.2 555.3L440.5 554.5L436.8 554.5L435.6 550.8Z" fill="#e19383" fill-opacity="0.5"/><path d="M435.2 554.7L440.5 554.5L446.2 555.3L450.9 557.6L451.9 560.4L449 562.7L444.3 564.2L439.7 563.5L436.8 561.2L434.8 557.9Z" fill="#e3907f" fill-opacity="0.5"/><path d="M457.4 558.1L460.2 559.7L460.8 564.8L458.6 569.8L454.4 573.8L450.1 574.5L447 572.3L448 568.5L451.6 566.9L452.8 569.2L454.2 567.7L455.4 565.4L455.8 561.9Z" fill="#d8a49a" fill-opacity="0.5"/><path d="M418.2 554.9L420 554.2L421.3 556L421.5 559.8L422 564.3L420.2 565.4L418.4 564L417.8 559.2Z" fill="#ccb8b4" fill-opacity="0.5"/><ellipse cx="461.7" cy="543.8" rx="4.8" ry="3.6" fill="#d6a79d" fill-opacity="0.75"/><path transform="scale(.1)" d="M4457 5105h0m6-1h0m0 4h0m0 0h0m1-1h0m2-1h0m0 2h0m2-5h0m1 5h0m1-3h0m12 3h0m8-7h0m1 3h0m2-2h0m2-1h0m1-4h0m4 2h0m0-3h0m4 6h0m5 21h0m-4-3h0m-1-3h0m0-1h0m0 2h0m-1 3h0m0 2h0m0-8h0m-1 5h0m0-3h0m0 1h0m-1-7h0m-1 7h0m-3 1h0m0-1h0m0-4h0m-1 0h0m0 0h0m-2 4h0m0-2h0m0 2h0m0-4h0m-2 3h0m0-6h0m0 2h0m-2 3h0m0 1h0m-3-5h0m0 2h0m0 7h0m-1-5h0m0 1h0m-1 1h0m-1-6h0m-5-2h0m-1 12h0m-1 0h0m-6-2h0m-1-1h0m0-8h0m0 7h0m-1 5h0m-1-7h0m0-4h0m0 4h0m0 1h0m-1-3h0m-2-3h0m-3 5h0m-2-6h0m4 24h0m1-4h0m0-6h0m2 1h0m1-1h0m1 2h0m2 9h0m0-9h0m0 0h0m2-1h0m1 6h0m1-4h0m32-2h0m-39 14h0m-10 0h0m-4 7h0m-1 2h0m-2 3h0m-1 0h0m0-2h0m-2 2h0m-4-3h0m-1 2h0m-1-1h0m0-1h0m-1-1h0m-1 2h0m-1 0h0m0 2h0m-1-7h0m-1 6h0m0 0h0m-1-4h0m-3 1h0m0-1h0m0-1h0m-1 1h0m-3 0h0m9 8h0m2-2h0m0 3h0m3 0h0m1-2h0m3 2h0m1-2h0m0-1h0m0 0h0m2 4h0m247 2h0m-245 9h0m-6 12h0m5 9h0m10-2h0m288-5h0m4 4h0m-299 21h0m-1-2h0m-3 0h0m0-3h0m-4 7h0m1 6h0m5 2h0m0-2h0m5 4h0m1-8h0m1-1h0m2 7h0m3 1h0m1 0h0m65 2h0m0-2h0m3 0h0m3 4h0m6-12h0m-7 20h0m-1-6h0m-1 1h0m-2 3h0m-10 0h0m0-3h0m-1 9h0m-2-5h0m-2 7h0m-3-6h0m0 2h0m-27 4h0m-1-3h0m-7 2h0m-1-1h0m-7 1h0m-2 1h0m-3-6h0m0 2h0m-1-3h0m-2 0h0m0 2h0m-4-8h0m-1 0h0m0 5h0m-1 2h0m-4-7h0m6 20h0m3-5h0m1 6h0m1-7h0m1 2h0m1 1h0m2 5h0m1-6h0m0 5h0m1-4h0m0 1h0m0-4h0m1 13h0m0-9h0m1 4h0m1 3h0m0 0h0m1 0h0m0-4h0m0-2h0m0-2h0m1 5h0m1-3h0m0 0h0m1 8h0m0-12h0m2 4h0m1 0h0m1 6h0m0 0h0m0-5h0m2 7h0m1-1h0m0-5h0m1 0h0m3-2h0m0 6h0m0-7h0m1 7h0m1-4h0m1 4h0m2 2h0m1-4h0m1 3h0m0-1h0m2 0h0m3-3h0m0 3h0m0-1h0m0-3h0m0 1h0m1-5h0m2 1h0m1 2h0m0-2h0m1 3h0m0-2h0m1-4h0m1 9h0m0-9h0m1 1h0m0 3h0m1 0h0m1 2h0m2 0h0m2-1h0m122-4h0m-124 17h0m-9-3h0m-7 4h0m0-4h0m-1 3h0m-2 5h0m0-9h0m0 8h0m0-5h0m0 3h0m-1-7h0m0 11h0m0-10h0m-1 4h0m0-1h0m0-4h0m-2 2h0m-2 10h0m0-12h0m-1 13h0m0-7h0m0-6h0m-1 8h0m0-5h0m-1 3h0m0-6h0m0 9h0m-1-1h0m0-7h0m0 0h0m0 6h0m-1-6h0m-1 10h0m0-7h0m0 0h0m-1-1h0m0 3h0m0-2h0m0 0h0m-1 9h0m-1-4h0m0-1h0m-1 0h0m0-6h0m-1 8h0m-1 2h0m0-9h0m0-2h0m0 5h0m0-5h0m-1 2h0m0 9h0m-1 0h0m0-2h0m0-8h0m0 10h0m-2-9h0m0 4h0m0-3h0m-2 9h0m0-2h0m-1-4h0m-3-1h0m-1 0h0m-1 6h0m-3-6h0m-5-3h0m0 5h0m-12 3h0m-9 2h0m-193 4h0m160 6h0m4-2h0m3 1h0m1-5h0m0 4h0m5-6h0m3 3h0m0-1h0m8 1h0m2 0h0m0-2h0m1 6h0m4-8h0m3 3h0m2-2h0m0 0h0m1 3h0m8-2h0m6-2h0m5 0h0m0 2h0m19-1h0m2 2h0m0 5h0m5-4h0m0 1h0m0-3h0m1 0h0m1 3h0m1 2h0m1-6h0m0 1h0m1 2h0m1 3h0m0-6h0m3 6h0m2 13h0m-7 4h0m0-10h0m-1 0h0m-1 0h0m-1 8h0m0-6h0m-1 2h0m-1-4h0m-1 3h0m0 6h0m-1-1h0m-198 7h0m2 10h0m198-1h0m4-9h0m1 10h0m5 2h0m11 13h0m-7-1h0m-2 1h0m-1 0h0m0 6h0m0-3h0m2 1h0m2-2h0m4 12h0m4-2h0m-2 8h0m-3-4h0m-1 12h0m-1-7h0m0-5h0m-1 0h0m-4 12h0m-223 1h0m226 6h0m10-3h0m0 3h0m2 5h0m2 1h0m1-4h0m0-3h0m0-1h0m1 5h0m3 5h0m1 0h0m1-2h0m10 6h0m0 0h0m-3 4h0m0 2h0m-1-1h0m-1 3h0m0-1h0m-2-5h0m-6-4h0m-278 14h0m298-1h0m0 5h0m2-2h0m1 6h0m3 2h0m7-1h0m27 1h0m3 0h0m41 11h0m-39-4h0m-18 9h0m-5-8h0m-3-1h0m-3 5h0m-5 0h0m-7 0h0m0-9h0m-213 11h0m-10-2h0m-21 0h0m260 6h0m5 3h0m1-1h0m5-1h0m1 0h0m0 4h0m3 7h0m3-9h0m1 3h0m7 3h0m4 3h0m17 0h0m13-13h0m12 12h0m7-8h0m13 5h0m-2 10h0m-3 0h0m-2 5h0m-1-10h0m-10 2h0m-12 0h0m-25-2h0m-3 7h0m-7 4h0m-1-2h0m-12-5h0m-236 7h0m-5-3h0m-42-2h0m-61 13h0m113-4h0m249 1h0m12 11h0m0 0h0m5-11h0m23 9h0m1-1h0m7-1h0m8 4h0m3 0h0m7 6h0m-20-3h0m-13 3h0m-2-3h0m-24-1h0m-10 9h0m-13-10h0m-12 7h0m-50 7h0m92 4h0m6 1h0m6 7h0m3-7h0m3 7h0m33-6h0m-60 18h0m-32-4h0m-190-3h0m-117 13h0m-10 21h0m-1-9h0m-1 6h0m-8 1h0m-2 18h0m6-11h0m317 19h0m-5-3h0m-21 1h0m-10 7h0m-291-10h0m-6 1h0m-2 7h0m-5 3h0m0-2h0m-5 11h0m336 5h0m5-4h0m-29 11h0m-305 9h0m-8 0h0m-7 0h0m-6-8h0m-4 5h0m-1-6h0m-7-4h0m29 21h0m0 0h0m360 14h0m-359-4h0m-5-3h0m0 3h0m-18 4h0m-1 6h0m-1-9h0m-1 4h0m3 12h0m2-5h0m5 10h0m2-7h0m2 3h0m4 3h0m4 2h0m372 15h0m-380-12h0m-2-1h0m0 9h0m0-3h0m-4 4h0m-4 2h0m4 3h0m368 9h0m-346 4h0m-17 8h0m-1 1h0m-1-3h0m-4-6h0m-4 9h0m-42 17h0m3 1h0m3 0h0m1-1h0m1-1h0m1 0h0m17-8h0m2-1h0m1 0h0m0 0h0m3-1h0m408 24h0m-440-10h0m-3-1h0m-6 3h0m0-1h0m-6 4h0m-8 2h0m-2 1h0m-2 1h0m-7 1h0m-2 1h0m-4 0h0m0 0h0m-3 3h0m4-1h0m378 2h0m11 1h0m66 5h0m18-3h0m-33 22h0m-3-6h0m-45 11h0m52 12h0m-56 1h0" stroke="#c7c0bf" stroke-width="8" stroke-linecap="round" fill="none"/><path transform="scale(.1)" d="M4462 5101h0m25 7h0m16 11h0m-3-4h0m-2 4h0m-3-3h0m0 4h0m-2-5h0m-1 0h0m-3-3h0m-3 0h0m-9 2h0m-3 1h0m-5 8h0m-1-6h0m-4 2h0m-3 12h0m10-4h0m3-1h0m-13 16h0m-18 5h0m-7 0h0m0-1h0m-3 2h0m0 3h0m-8-3h0m25 6h0m253 0h0m-250 19h0m-9 36h0m5 2h0m5 3h0m2-1h0m4 8h0m2-13h0m76 15h0m-5 0h0m-9 4h0m0 6h0m-1-2h0m-3 3h0m-9-6h0m-2 5h0m-47 1h0m0-1h0m-3 1h0m-5 1h0m6 7h0m1 0h0m4 0h0m1 2h0m1 0h0m2-5h0m1 10h0m1-4h0m3-2h0m1 4h0m3-6h0m3 8h0m2-5h0m1-3h0m5-3h0m2 6h0m2 1h0m0 4h0m4-2h0m1-2h0m1 2h0m2 0h0m6-5h0m-15 13h0m-4-4h0m-1 1h0m-4 6h0m-2-4h0m-4-1h0m-2 2h0m0-5h0m0 4h0m-2 0h0m-1-1h0m-1-1h0m-6 0h0m-13 9h0m-32 12h0m2-6h0m1 1h0m50-1h0m13 13h0m-6 18h0m5 4h0m2-1h0m-2 14h0m-209 0h0m-13-6h0m-35 0h0m-12 23h0m52-7h0m14 2h0m211 3h0m0-7h0m2 5h0m11 18h0m-8 0h0m-1-6h0m-1-3h0m-227 7h0m-1-4h0m-37 6h0m46 14h0m14-3h0m11 2h0m201-4h0m5-5h0m10 9h0m6 8h0m-2-2h0m0 5h0m-6-3h0m-8-3h0m-200 5h0m-5-2h0m-13 6h0m-13 0h0m0-5h0m-81 19h0m3-2h0m83 2h0m25-10h0m224 4h0m3 1h0m85 20h0m-13-2h0m-35-6h0m-8-1h0m-7 5h0m-3-3h0m-2 6h0m-232-6h0m-21 7h0m-7-2h0m-20-3h0m-38 1h0m-49 1h0m83 9h0m3-4h0m5 9h0m40-9h0m7 11h0m2-10h0m0 9h0m1-5h0m9 4h0m233-3h0m1-5h0m31 8h0m14 4h0m1-2h0m0-1h0m12-2h0m2 5h0m1 0h0m12-13h0m18 27h0m-12-6h0m-5 6h0m-1-8h0m-10 7h0m-10-7h0m-2-3h0m-5 11h0m-6-12h0m0 7h0m-7 0h0m-3 5h0m-21-9h0m-2 9h0m-7-7h0m-251-1h0m-3-1h0m-95 7h0m80 6h0m22-1h0m6 2h0m6 7h0m231 2h0m2-6h0m5 1h0m0 4h0m1-1h0m2 0h0m22-7h0m1 8h0m3-5h0m2 2h0m1 3h0m0-7h0m3 2h0m4 2h0m18-9h0m6 6h0m1 3h0m3-1h0m2-3h0m8 8h0m10 0h0m5-3h0m-4 17h0m-5 0h0m-4-7h0m0-3h0m-2 6h0m-16 0h0m-2 1h0m-16-5h0m-3 7h0m-8-3h0m0 4h0m-3-7h0m-3 6h0m-4-2h0m0-10h0m-1 2h0m-4 9h0m-5-4h0m-10-5h0m-6-2h0m-20 13h0m-7-12h0m-50 9h0m-161-9h0m-9 3h0m-24 7h0m-17-5h0m182 10h0m125 3h0m1 6h0m5-1h0m9 0h0m3 1h0m0-5h0m2-6h0m1 9h0m3-8h0m4 9h0m0-9h0m6 7h0m5-1h0m1 5h0m3 0h0m3-10h0m2 11h0m4-7h0m0 3h0m8-5h0m-94 19h0m-30 0h0m-263-3h0m-5 4h0m-11 17h0m7-12h0m266 12h0m24-13h0m6 2h0m34 11h0m-22 3h0m-6 5h0m-2-3h0m-15 7h0m-10-11h0m0 3h0m-46 4h0m-242-3h0m-1 9h0m-14 9h0m297-8h0m2 2h0m14 5h0m19 1h0m-14 6h0m-10 8h0m-18-8h0m-138 5h0m-152-5h0m-2 8h0m-8 4h0m-1-3h0m345 16h0m6 9h0m-7 1h0m-6 6h0m-43-5h0m-291 2h0m-16-2h0m7 10h0m8 2h0m300 6h0m40-5h0m25 20h0m-32-7h0m-7 5h0m-137-1h0m-221-1h0m-3 4h0m19 1h0m1 3h0m367 6h0m33 15h0m-14-3h0m-20 2h0m-372-2h0m-9 6h0m-3-2h0m9 6h0m0 3h0m10 3h0m2 1h0m8-10h0m5 11h0m202-4h0m159 0h0m13-2h0m10 17h0m-5 0h0m-13 4h0m-375-3h0m-45 14h0m20-8h0m385 0h0m8 19h0m-32 2h0m-23 3h0m-6 2h0m-12-8h0m-4 8h0m-351-13h0m-14 4h0m-1 1h0m-3 2h0m-1 1h0m-3 0h0m-10 3h0m364 12h0m16 0h0m57-4h0m16-4h0m15 13h0m-73 6h0m-8-3h0m-11 4h0m-5 4h0m-2 6h0m25 10h0m6-1h0m33 5h0m-36 5h0m-11-5h0m-9 9h0m-14-12h0" stroke="#cdb5b1" stroke-width="8" stroke-linecap="round" fill="none"/><path transform="scale(.1)" d="M4462 5102h0m34 0h0m19 17h0m-23 1h0m-5-6h0m-23 6h0m5 5h0m-23 25h0m-14 0h0m0-1h0m-1-3h0m8 10h0m1-2h0m6-1h0m3 6h0m7 47h0m-6 10h0m75 19h0m-36 0h0m-5-3h0m-23-9h0m-8 0h0m11 22h0m7-3h0m3-1h0m13 7h0m1 0h0m14 0h0m-8 13h0m-4 2h0m-1-11h0m-1 11h0m-5-9h0m-6 1h0m-1 1h0m-3-2h0m-12 6h0m-3-3h0m-10 6h0m-185 0h0m-9-3h0m-10-3h0m-20 6h0m-7 9h0m18-8h0m19 3h0m1 6h0m4-6h0m8 5h0m143-4h0m16-2h0m58 11h0m-6 3h0m-210 9h0m-2-11h0m-20 12h0m-12-5h0m-1 2h0m-10-5h0m-24 20h0m5 0h0m18-1h0m32 3h0m25-5h0m6 3h0m199 1h0m2-5h0m-201 15h0m-5 1h0m-7 1h0m-8 0h0m-1-6h0m-11 5h0m-8-2h0m-56 2h0m107 26h0m-8-5h0m-6 2h0m-8 5h0m-25-2h0m-48 17h0m37-7h0m19 6h0m21 3h0m5-8h0m2-2h0m225 8h0m4 1h0m0-7h0m10 19h0m-8-6h0m-208 1h0m-18-1h0m-21 6h0m-62-3h0m-19 17h0m51 2h0m28-7h0m1 5h0m7 2h0m0-4h0m15-1h0m1-5h0m243 2h0m73 25h0m-36-6h0m-18 0h0m-238 0h0m-27 0h0m-2 2h0m-1-1h0m-4-3h0m-5 7h0m-3-9h0m-12 5h0m-1 1h0m-6-4h0m-21 4h0m-68-9h0m17 18h0m4 7h0m81 2h0m10-6h0m16-7h0m2 4h0m9 6h0m2-3h0m3-7h0m273 3h0m9-3h0m3 10h0m1-1h0m22-5h0m1 6h0m0-3h0m5-6h0m1 4h0m2-5h0m12 11h0m5-7h0m12 2h0m-1 18h0m-1-8h0m0 8h0m-7 2h0m-13-9h0m-4 4h0m-14-7h0m-3 11h0m-2-6h0m-2 3h0m-4-3h0m-4 7h0m-2-4h0m-7-2h0m-6 6h0m-2-10h0m-3 6h0m-257 3h0m-7-11h0m-4 4h0m-3-3h0m-4 7h0m-3 3h0m-8-11h0m-2 8h0m0-2h0m-16-2h0m-3 5h0m-6-8h0m-36 10h0m-1-5h0m-13-6h0m11 27h0m24-4h0m6 4h0m22-13h0m5 12h0m1 0h0m6-2h0m2-9h0m5 6h0m5-4h0m2 3h0m1-3h0m26 1h0m235 6h0m2-10h0m1 11h0m4-9h0m1 8h0m2-5h0m5 8h0m1-2h0m6-9h0m3 9h0m10-6h0m6 6h0m5-4h0m3-4h0m6-3h0m2 3h0m1 4h0m3 6h0m3-2h0m2-1h0m4-5h0m2-4h0m1 7h0m2-7h0m25-1h0m-7 20h0m-1 0h0m-3-1h0m-4 1h0m-10-5h0m-3 8h0m-1-1h0m-3-5h0m-5-2h0m-1 3h0m-2 9h0m-4-4h0m-2 0h0m-14-7h0m0 8h0m-8 3h0m-6-7h0m-2-5h0m-1 3h0m-3-4h0m-2 4h0m-10 0h0m-11 1h0m-11 7h0m-17-11h0m-15 5h0m-15-3h0m-9 1h0m-9 8h0m-11-3h0m-1-1h0m-15-7h0m-49 6h0m-1-3h0m-22 3h0m-6 3h0m-1 1h0m-69-1h0m-2 3h0m-17-4h0m-1 0h0m-3-6h0m0 2h0m-42 4h0m37 14h0m116 3h0m47-12h0m13 5h0m2 6h0m10-7h0m19-2h0m6 9h0m11-1h0m34-5h0m7 4h0m24-8h0m6-1h0m2 1h0m5 6h0m4 1h0m1 3h0m2-9h0m1 10h0m4-11h0m2-1h0m3 4h0m10-1h0m6-3h0m2 6h0m1 0h0m4-5h0m5 8h0m2 3h0m1-8h0m5 7h0m9-11h0m1 4h0m0 1h0m-114 11h0m-4 9h0m-11-7h0m-34-1h0m-31 7h0m-16-7h0m-15 3h0m-141-6h0m0 4h0m-34 17h0m231 3h0m12-4h0m10 1h0m44 0h0m9-1h0m28 16h0m-16-4h0m-3 1h0m-22-4h0m-9 2h0m-29 1h0m-8 9h0m-3-12h0m-7 11h0m-22-5h0m-6 2h0m-6 0h0m-71-8h0m-8 9h0m-3-9h0m-63 2h0m-72 2h0m-16 22h0m15-5h0m190 0h0m32 0h0m47-6h0m16-1h0m12 3h0m1 2h0m11-6h0m19 22h0m-2-1h0m-11-4h0m-26 4h0m-14 4h0m-4 1h0m-52-2h0m-56-1h0m-187 7h0m161 7h0m88-3h0m18 7h0m10-5h0m18-2h0m10 3h0m18-4h0m4 2h0m2-5h0m4 9h0m16 0h0m10-10h0m-2 20h0m-42-4h0m-6 10h0m-24-12h0m-78 2h0m-59 8h0m-144-3h0m-34-4h0m16 21h0m9-4h0m4-1h0m203 0h0m8-5h0m17 3h0m59-4h0m25 9h0m12-4h0m3-2h0m3 7h0m3 0h0m47 15h0m-11 0h0m-25-8h0m-30 6h0m-52-3h0m-99 6h0m-177-5h0m-8 5h0m-4 1h0m4 3h0m13 11h0m163-6h0m8 2h0m54-1h0m12-2h0m21-6h0m12 9h0m23-2h0m70-4h0m11-2h0m24 17h0m-11 3h0m-25 3h0m-363 7h0m242 8h0m116 0h0m5-3h0m1-3h0m4 8h0m10-13h0m1 2h0m10 9h0m5 9h0m0-1h0m-9 5h0m-2-10h0m-9 5h0m-9 4h0m-121-9h0m-240 0h0m-5 6h0m-6 4h0m391 8h0m6-3h0m9 4h0m0-4h0m-29 23h0m-3 2h0m0 1h0m-4-4h0m-19-6h0m-41 2h0m-16 20h0m2 2h0m15-8h0m19 2h0m20-2h0m43 5h0m-7 10h0m-9 2h0m-2-5h0m-13 10h0m-12-2h0m-20-10h0m-3-1h0m-6 10h0m-12 9h0m2-4h0m2 9h0m13-1h0m0-4h0m31-2h0m9 2h0m-32 21h0m-7-11h0m-4 5h0m-6-5h0m-3 13h0" stroke="#d4aba2" stroke-width="8" stroke-linecap="round" fill="none"/><path transform="scale(.1)" d="M4465 5116h0m-16 32h0m7 28h0m-6 34h0m66 25h0m-42 10h0m2 1h0m16 0h0m9 0h0m3-5h0m-26 14h0m-219 5h0m-24-6h0m-20 14h0m18 6h0m5-10h0m14 11h0m2 1h0m2 1h0m3-7h0m11 15h0m-28 5h0m-7-7h0m-32 19h0m23-5h0m8 7h0m1 0h0m2-11h0m7 9h0m6 3h0m2-2h0m2-11h0m11 9h0m3-9h0m3 8h0m11 12h0m-1 7h0m0-9h0m-3 3h0m-1-3h0m-3 1h0m-12 8h0m-12-5h0m-4 5h0m-1-10h0m-35 10h0m-2 0h0m-1 14h0m37-13h0m49 8h0m0-6h0m1 19h0m-4 1h0m-2-4h0m-3-2h0m-4 3h0m-8 1h0m-4 3h0m-8 0h0m-15 2h0m-2-7h0m-26 6h0m-22 8h0m29-3h0m21 11h0m11-2h0m5-7h0m6-2h0m0 7h0m6 0h0m3-5h0m2 5h0m11-2h0m4 5h0m3-4h0m5-4h0m8 21h0m-12 1h0m-1-5h0m-2 0h0m-2 1h0m0-5h0m-15 3h0m-8-5h0m-73 13h0m-5-2h0m-14 2h0m0-3h0m-6 1h0m14 13h0m4-9h0m29 3h0m1-3h0m33 1h0m8-2h0m5 2h0m14 1h0m10-1h0m3 10h0m0-7h0m10 2h0m272 3h0m40 17h0m-292-4h0m-2-5h0m0 8h0m-9-1h0m-1-4h0m-7 0h0m-15 4h0m-4 1h0m-13-2h0m0-3h0m-13 2h0m-19-1h0m-19-2h0m-44-3h0m6 19h0m2-5h0m21 1h0m9 2h0m15-4h0m14 0h0m8-2h0m2 13h0m10-10h0m2 5h0m4-8h0m12 2h0m3 10h0m5 1h0m4-5h0m5-5h0m21 0h0m5 10h0m9-2h0m241 2h0m13-4h0m6 1h0m2 3h0m2-8h0m26 3h0m1 1h0m9-4h0m22 12h0m-13-2h0m-3 6h0m-2-6h0m0 11h0m0-4h0m-14-8h0m-2 0h0m-14 5h0m-3-2h0m-16 3h0m-20 3h0m-244-7h0m-42 10h0m-8-8h0m-6 6h0m-2 3h0m-4-8h0m-2 8h0m-3-3h0m-1-2h0m-5 5h0m-20-11h0m-26 21h0m39 4h0m0-13h0m30 12h0m7-9h0m11 0h0m5 9h0m6-4h0m9 1h0m98 1h0m25 3h0m9-4h0m64 4h0m5 0h0m65-9h0m6-2h0m7 7h0m9-5h0m3 3h0m8 0h0m3 0h0m2-4h0m3 10h0m4-3h0m8-8h0m2 10h0m0-6h0m5 1h0m2-1h0m9 0h0m6-6h0m9 15h0m-4 1h0m-2 5h0m-3-5h0m-1 11h0m-9-12h0m-6 5h0m0 7h0m-2-7h0m-7 5h0m-11-6h0m-6 4h0m-2-1h0m-4 3h0m-2-5h0m-1-5h0m-4 2h0m-9 4h0m-3 1h0m-8 4h0m-27 1h0m-3-10h0m-1 6h0m-15-9h0m-7 13h0m-29-2h0m-20-11h0m-3 9h0m0-2h0m-6 1h0m-10-7h0m-5 4h0m-21 5h0m-9-9h0m-31 9h0m-12 3h0m-61-7h0m-21 0h0m-10 6h0m-6-10h0m-11-1h0m-1 2h0m-18-2h0m-7 9h0m-35-9h0m52 20h0m6-1h0m8-1h0m20-5h0m3 1h0m5 4h0m81 7h0m18-5h0m2 0h0m10-6h0m25 2h0m6 9h0m5-2h0m1 2h0m5-11h0m20 10h0m4 2h0m19-9h0m14 4h0m0 5h0m4-10h0m17 5h0m6-7h0m6 2h0m25 6h0m5-7h0m2 7h0m11-8h0m13 4h0m10-1h0m3 4h0m3 3h0m3-2h0m14-2h0m2 6h0m2-2h0m2-5h0m5-3h0m-16 12h0m-15 0h0m-9-1h0m-13 0h0m-6 10h0m-16-5h0m-2 4h0m-2-2h0m-22 5h0m-1-4h0m-2-2h0m-20-5h0m-3 6h0m-6-6h0m-12 12h0m-7-1h0m-7-8h0m-3-3h0m-3-1h0m-21 4h0m-25 5h0m-26-4h0m-5 2h0m-19-2h0m-120 1h0m-19 2h0m137 6h0m36 6h0m12-6h0m1 10h0m11-4h0m31-4h0m5 2h0m7 3h0m4-1h0m6-2h0m16-3h0m3 6h0m21-7h0m12 3h0m14 10h0m1-13h0m-2 18h0m-1 0h0m-4 7h0m-2 1h0m-7-11h0m-7 9h0m-20-2h0m-12 2h0m0 3h0m-17-12h0m-17 8h0m-1 3h0m-2-6h0m-4 2h0m-32-1h0m-2-5h0m-18 11h0m-25-13h0m-13 13h0m-17-10h0m-6 17h0m4 6h0m30 1h0m2-7h0m23-5h0m38 2h0m1-2h0m12 8h0m1-5h0m2-2h0m13 8h0m4-4h0m2-5h0m11 1h0m3 4h0m16 7h0m11-6h0m9 0h0m7-4h0m11 8h0m19-11h0m-5 19h0m-12-5h0m-6 11h0m-19-1h0m-7 3h0m-3-3h0m-24-8h0m-19 2h0m-4 3h0m-27-4h0m-10 8h0m-17 1h0m-5 0h0m-5-5h0m-19-5h0m-1 1h0m-27-3h0m-46 0h0m43 23h0m4-4h0m4 8h0m6-2h0m5-4h0m45 3h0m4-8h0m30 4h0m2 0h0m7 1h0m8 0h0m1-7h0m5 12h0m12-9h0m7 3h0m16-1h0m5 2h0m23 5h0m4-8h0m16 13h0m-2 5h0m-9-6h0m-6-1h0m-10 1h0m-7 5h0m-8 1h0m-1-1h0m-44-6h0m-2 2h0m-4 2h0m-10 1h0m-2 6h0m-13-2h0m-39 2h0m-46 2h0m21 3h0m52-3h0m1 3h0m29 4h0m24 0h0m23 0h0m25-2h0m5-2h0m6 2h0m12 1h0m2 5h0m28 8h0m-44 7h0m-22 0h0m-45-5h0m-25-5h0m-11 10h0m-33-6h0m-39-5h0m-12 9h0m24 10h0m2-4h0m2-2h0m20 8h0m7-4h0m31 0h0m58 4h0m13-8h0m9 5h0m7-5h0m2 1h0m9 1h0m6 1h0m27-1h0m0-2h0m11 9h0m1 1h0m10-9h0m-21 26h0m-10-10h0m-1 5h0m-7 5h0m-64-5h0m-63-7h0m-6 6h0m-22 1h0m-13 5h0m-194-1h0m-6 5h0m215 1h0m11-1h0m13 7h0m36-8h0m90-2h0m5 8h0m7-5h0m13 1h0m13 17h0m-6 6h0m-3-2h0m-21-1h0m-10-1h0m-362-8h0m364 23h0m13-5h0m12-3h0m10 7h0m1-8h0m-44 17h0m-6 7h0m-2-3h0m-58 19h0m8-12h0m10 3h0m4 7h0m16 2h0m1-2h0m2-10h0m1 5h0m3 5h0m4-7h0m8 7h0m11 0h0m19-6h0m9 0h0m5-4h0m-40 21h0m-9 4h0m-3-5h0m-11-5h0m-2 9h0m-3-9h0m-11 5h0m-4 6h0m-7-11h0m-21 25h0m6-4h0m8-5h0m0 0h0m43 6h0m6-10h0m6 13h0m2-3h0m4 2h0m5 1h0m-13 6h0m-1-5h0m-16 1h0m-20 12h0m-9-10h0m26 11h0m7 0h0" stroke="#daa094" stroke-width="8" stroke-linecap="round" fill="none"/><path transform="scale(.1)" d="M4252 5263h0m-38-2h0m4 9h0m14-6h0m1 4h0m12 1h0m5 17h0m-1-4h0m-4-4h0m-15 9h0m-2 1h0m-2-9h0m-13 2h0m-5 18h0m14 4h0m0-5h0m11-6h0m11 12h0m1-6h0m2-1h0m8-4h0m23 7h0m-12 6h0m-3 4h0m-13-4h0m-1 13h0m0-9h0m-1 8h0m-5-12h0m-7 6h0m-1 1h0m-1-1h0m-16 4h0m-3-6h0m-12 5h0m1 17h0m5-12h0m16 3h0m0 0h0m17 6h0m9-9h0m7 9h0m16 1h0m5-9h0m11 21h0m-9-8h0m-2 8h0m-25-5h0m-13 2h0m-2 2h0m-9 3h0m-24-2h0m-13-8h0m-1 5h0m-21 14h0m5 8h0m5-11h0m4 3h0m6 7h0m3-11h0m6 5h0m2-6h0m12 0h0m6 2h0m2 1h0m1 10h0m5-2h0m2-5h0m0-1h0m4 6h0m3-3h0m4 4h0m25 1h0m4-7h0m12-6h0m3 9h0m0 1h0m16 0h0m220 14h0m-221-5h0m-29 6h0m-2-1h0m-11 0h0m-3-6h0m-2 7h0m-5-10h0m-2 12h0m0-2h0m-15-8h0m-1 10h0m-9-4h0m0-6h0m-4 7h0m-17-4h0m-8-1h0m-1 2h0m-5 16h0m14-5h0m26-4h0m6 0h0m5 9h0m1-6h0m2 9h0m7 1h0m17-3h0m5-5h0m16 5h0m8-6h0m5-1h0m15 10h0m291 14h0m-319 0h0m-9-3h0m-11 3h0m-9-12h0m-1 6h0m-5 5h0m-13-5h0m0-5h0m-5 3h0m-3 8h0m-26-2h0m-14-9h0m-3 10h0m-7-10h0m0-1h0m0 18h0m4-2h0m7 6h0m3-4h0m3 4h0m2-7h0m2 7h0m11-9h0m35 5h0m25-2h0m19-3h0m15 5h0m6 2h0m11 0h0m258 3h0m16-1h0m8 4h0m6-12h0m14 4h0m4 1h0m10 5h0m12-1h0m14 14h0m-14-6h0m-5 2h0m-7-2h0m-21 8h0m-9-8h0m-11 7h0m-7-8h0m-8 10h0m-250-2h0m-11 1h0m-77-1h0m-1-9h0m-6 9h0m-4-8h0m-41 7h0m-7-8h0m30 25h0m42-6h0m5-5h0m6 11h0m5-1h0m5-5h0m5-6h0m9 2h0m1-2h0m9 8h0m11-7h0m7 0h0m127 4h0m28 6h0m97-12h0m9 1h0m45 7h0m20 5h0m2-6h0m5 4h0m4-7h0m6 0h0m3-3h0m-13 24h0m-4-11h0m-9 10h0m-9 3h0m-2-6h0m-3 5h0m-37-4h0m-17-3h0m0-3h0m0 0h0m-9 9h0m-12-10h0m-42 4h0m-6-2h0m-4 6h0m-6-6h0m-17-2h0m-8 1h0m-5 5h0m-6-6h0m-3 7h0m-2-8h0m-8 6h0m-5-4h0m-4 4h0m-7 1h0m-19 4h0m-10-3h0m-84 2h0m-5-3h0m-18 4h0m-15-6h0m-2-4h0m-12 12h0m-7-7h0m-6 2h0m-29-3h0m20 9h0m17 3h0m7 0h0m3 6h0m4-7h0m1 1h0m5 2h0m91 2h0m6-4h0m0 8h0m10-11h0m1 10h0m0 0h0m9 2h0m12-6h0m1-4h0m0 0h0m25 8h0m13 3h0m16-4h0m5-1h0m3 5h0m9-5h0m20-2h0m3 5h0m12-9h0m1 5h0m8 6h0m24-5h0m26 4h0m8-2h0m5 2h0m9-7h0m5 0h0m7 6h0m2-10h0m21 7h0m0-3h0m1 6h0m1-8h0m1-1h0m17 1h0m-73 20h0m-12 2h0m-29-2h0m-9-3h0m-7 7h0m-14-8h0m-2 6h0m-7-2h0m-3-9h0m-6 12h0m-6-5h0m-10 1h0m-2 5h0m-9-8h0m0 7h0m-9-7h0m-20 3h0m0 3h0m-18-4h0m-4 6h0m-12-6h0m-5-5h0m-15 4h0m-7-2h0m-87 5h0m-10-5h0m-9-2h0m99 16h0m22 9h0m6-3h0m23 0h0m0-1h0m4-3h0m4 1h0m7 1h0m7-5h0m3 7h0m8-10h0m3 5h0m13-3h0m2 8h0m6-7h0m5 8h0m62-6h0m19-4h0m16 2h0m6 8h0m10-10h0m-20 22h0m-38-8h0m-7 5h0m-7 1h0m-16 4h0m-3 1h0m-8-10h0m-5 6h0m-9-6h0m-5 10h0m-2-10h0m-14 11h0m-3-1h0m-4-7h0m-13 5h0m-2 3h0m-16-4h0m-8-4h0m-12 1h0m-4 2h0m-35-8h0m-43 10h0m-9 1h0m-5-4h0m-1-6h0m15 21h0m0-1h0m6 4h0m3-4h0m52 5h0m14-12h0m6 8h0m4-7h0m0 6h0m11-1h0m3 1h0m3 0h0m0-2h0m7 8h0m3-6h0m2-6h0m7 1h0m14-2h0m12 1h0m0 10h0m11-4h0m7 2h0m4-4h0m2-5h0m1 4h0m27 4h0m2 2h0m11-10h0m1 3h0m8 9h0m20-3h0m5 3h0m12-1h0m-12 14h0m-34-6h0m-23 4h0m-2 2h0m-1-8h0m-6 5h0m-18 4h0m-9-1h0m-37-6h0m-11-1h0m-16 8h0m-3-7h0m-2-4h0m-9 12h0m-2-4h0m-1-2h0m-14 1h0m-3 1h0m-6 1h0m-40-6h0m-13 0h0m15 14h0m16-3h0m26 3h0m7 6h0m9-9h0m17 2h0m26 10h0m1 0h0m5-1h0m28-6h0m11-5h0m0 4h0m0 2h0m2-7h0m2 10h0m0 0h0m4-9h0m6 11h0m13-5h0m7-4h0m10 0h0m9 0h0m4 4h0m10-4h0m13-2h0m5 9h0m5-5h0m-31 15h0m-30-2h0m-19 0h0m-7-1h0m-27-1h0m-14 10h0m-2-1h0m-20-8h0m-36-1h0m-6 6h0m-9-7h0m-3 5h0m-10-2h0m43 16h0m4 4h0m24-7h0m11-3h0m23 6h0m3 6h0m1-7h0m9-5h0m16 5h0m1-1h0m0-2h0m13 3h0m39 0h0m13-4h0m5 1h0m8 5h0m0-3h0m2 0h0m11 23h0m-14-11h0m-14 5h0m-25-1h0m-6 4h0m-1 0h0m-3 2h0m-3 0h0m-11-12h0m-3 5h0m-21 4h0m-13-2h0m-7-1h0m-2-5h0m-11 3h0m-9 3h0m-17-5h0m-8-1h0m-8 0h0m-2-1h0m-10 5h0m-2-1h0m-18 6h0m-6 3h0m4 2h0m6 8h0m7-5h0m1 0h0m5 9h0m0-5h0m9 2h0m5-2h0m12 2h0m5-4h0m4 7h0m30-1h0m8 1h0m24-7h0m12 7h0m1-1h0m3-6h0m6 3h0m63-7h0m2 8h0m6-10h0m11 3h0m2 21h0m-3 0h0m-9-6h0m-14 8h0m-74-9h0m-14 8h0m-4-8h0m-7 1h0m-2 9h0m-2-4h0m-5-5h0m-6-1h0m-1 10h0m-8-9h0m-4 4h0m-1 4h0m-1-3h0m-6-1h0m-9-3h0m-8 3h0m-16 5h0m6 2h0m13 8h0m10-5h0m2 2h0m20 6h0m10-1h0m96-1h0m38-6h0m14 7h0m7 3h0m-15 13h0m-23-12h0m0 8h0m-4-3h0m-5 5h0m-1-1h0m-2 2h0m0-4h0m-4 3h0m2 14h0m0-2h0m35 1h0m-8 7h0m-17 8h0m-5 0h0m-2-1h0m-8 0h0m-7 3h0m-49 12h0m21 2h0m15-5h0m5-3h0m43-2h0m1-3h0m-5 15h0m-6 3h0m-31 3h0m-47 17h0m11-7h0m7-3h0m24 8h0m10 2h0m0 0h0m2-10h0m-24 21h0m-26 0h0m20 7h0" stroke="#e09586" stroke-width="8" stroke-linecap="round" fill="none"/><path transform="scale(.1)" d="M4230 5249h0m28 12h0m-5-6h0m-8-3h0m-7 3h0m-2 8h0m-2-10h0m-11 4h0m-17 18h0m3 2h0m7-5h0m9-1h0m3 3h0m2-3h0m4 5h0m7 1h0m13-9h0m26 22h0m-14-7h0m-3 5h0m-6-5h0m-5 6h0m-10-4h0m-9-6h0m-4 6h0m-24-4h0m4 24h0m6-6h0m4 2h0m17-2h0m1-1h0m2 0h0m3 6h0m4-12h0m0 6h0m1 4h0m0 2h0m2-9h0m6-3h0m16 7h0m12 3h0m-15 14h0m-15 0h0m-11-5h0m0-4h0m-5-1h0m-12 13h0m-26-8h0m-3-5h0m-5 9h0m-1-2h0m-2 12h0m22-5h0m4 11h0m0-1h0m2-1h0m1 3h0m3-8h0m2 2h0m1-1h0m10 5h0m1-3h0m1 5h0m13-6h0m1 7h0m2-5h0m2-3h0m2 5h0m3-4h0m1-4h0m34 12h0m-33 8h0m-5-3h0m-2-5h0m-3 8h0m-2-4h0m-6 9h0m-38-8h0m-1-3h0m0 6h0m-6 3h0m-6 0h0m-12 0h0m-1-2h0m5 11h0m3 1h0m9 3h0m13-6h0m12 1h0m18 8h0m10-6h0m11 1h0m8 1h0m29 0h0m6-4h0m-16 21h0m-6-10h0m-30 0h0m-8 7h0m-17 2h0m-2-7h0m0 0h0m-1-2h0m-9 2h0m-10-1h0m0 3h0m-8-4h0m-9-2h0m-15 20h0m2 2h0m7-5h0m5 10h0m0-12h0m10 11h0m3-7h0m8 7h0m7-9h0m19-2h0m7 8h0m23 2h0m5-4h0m45 9h0m-17 3h0m-27-4h0m-11 11h0m-19 0h0m-24-2h0m-4 1h0m-5 0h0m0-4h0m-4 2h0m-2-8h0m-4 3h0m-3 1h0m-1 6h0m0-3h0m-3-3h0m-5 5h0m-7 11h0m11 1h0m10-1h0m7-5h0m1 0h0m4 7h0m16 3h0m22-1h0m25-10h0m3 4h0m3 4h0m26-8h0m322 19h0m-6-6h0m-33 12h0m-5-2h0m-266-9h0m-32 5h0m-17-4h0m-13-2h0m-1 12h0m-14-2h0m-7-2h0m-3-4h0m-5 7h0m-3-5h0m-1 0h0m-11 2h0m-4 2h0m-9-7h0m20 17h0m11 6h0m5-11h0m2 10h0m18-2h0m3 4h0m79-13h0m71 10h0m10 2h0m36-8h0m160-4h0m32 14h0m-8 9h0m-3-8h0m-18 1h0m-6 9h0m-3 1h0m-25-9h0m-24 8h0m-2 0h0m-2 0h0m-24 0h0m-44-10h0m0 6h0m-2 5h0m-17 0h0m-1-4h0m-7 1h0m-2-4h0m-32 7h0m-17-4h0m0-4h0m-7 2h0m-16 3h0m-76 1h0m-22-9h0m-10-1h0m-1 12h0m-5-6h0m-5 2h0m-19-1h0m-6 2h0m-17-8h0m-10 2h0m25 11h0m4 3h0m23-3h0m9 11h0m4-4h0m2 5h0m10-5h0m1 1h0m84-3h0m4 0h0m3 4h0m5-6h0m14 4h0m10-1h0m6 3h0m0-5h0m8 0h0m45 7h0m6 2h0m17-1h0m12-7h0m11 1h0m79 0h0m19 4h0m17-8h0m-34 22h0m-8 0h0m-1 2h0m-22-4h0m-18-6h0m-13 4h0m-22 0h0m-46-6h0m-1 5h0m-6 3h0m0 2h0m0-3h0m-5 2h0m-6-7h0m-2 6h0m-34 1h0m-2-5h0m-6 4h0m-7 1h0m-4 1h0m-5-8h0m-6-1h0m-5 8h0m-3-9h0m-2 2h0m0 2h0m-1-2h0m-3 7h0m-4-1h0m-69-5h0m-7 5h0m-6-1h0m-4-6h0m-2 2h0m-2 6h0m27 7h0m2 10h0m62-10h0m4 2h0m1 1h0m4 7h0m9-1h0m44-7h0m3 9h0m24-4h0m2-8h0m13 8h0m7 4h0m2-5h0m40 3h0m1-5h0m54 4h0m-24 8h0m-42 0h0m-3-2h0m-10 0h0m-21 9h0m-4-4h0m-20-7h0m-5 9h0m-6-3h0m-2 4h0m-9-3h0m-2 5h0m-7 0h0m0-5h0m0-2h0m-1 4h0m-5-6h0m-3-1h0m-5 7h0m-1-6h0m-1 1h0m-8 4h0m-2-3h0m-3 0h0m-7 6h0m-5-5h0m-13 2h0m-49 0h0m-15-5h0m-4-2h0m17 14h0m18 9h0m36 1h0m2-4h0m3-2h0m18-5h0m8 7h0m0 2h0m4 1h0m4-6h0m18 8h0m36-3h0m15 2h0m2-1h0m45-7h0m1 0h0m1-1h0m4 6h0m3-4h0m15-2h0m1 3h0m8 2h0m2-6h0m3 4h0m9 2h0m-8 13h0m-18 6h0m-13-10h0m-26 5h0m-5 0h0m-10 1h0m-1 1h0m-1 3h0m-14 1h0m-19-5h0m-15-1h0m-8 2h0m-15-3h0m-5 2h0m-3 3h0m-12-11h0m0 6h0m-4-4h0m-6 3h0m0-1h0m-6 6h0m-4 1h0m-2-11h0m0 8h0m-1 3h0m-1-7h0m-45 3h0m-2-1h0m29 10h0m11 10h0m6-9h0m10 9h0m6-5h0m16 3h0m8-1h0m3 0h0m5 0h0m4-5h0m2-3h0m8 7h0m6-1h0m4-1h0m11 2h0m4-7h0m24-1h0m8 10h0m3 0h0m3-3h0m7-5h0m47 10h0m1-4h0m7 17h0m-2-10h0m-5 4h0m-4 3h0m-12 5h0m-6-6h0m-7-3h0m-6-3h0m-7 5h0m-23-6h0m-1 8h0m-1 3h0m-5-7h0m-2 8h0m-1-3h0m-9-2h0m-3 0h0m-13 0h0m-17 4h0m-1-1h0m-6 1h0m-2-9h0m-3 8h0m-4-9h0m-5 3h0m-11-4h0m-4 1h0m0 8h0m-11-4h0m-14 2h0m-6-5h0m-6 9h0m0-1h0m-1-2h0m-10 0h0m8 8h0m7 4h0m15 1h0m2-1h0m8-1h0m13 5h0m0 1h0m16-6h0m8-5h0m4 0h0m1 13h0m4-11h0m13 3h0m12-5h0m9 6h0m2 6h0m2-8h0m3-3h0m1 5h0m3-2h0m7 4h0m1-3h0m1-1h0m1 0h0m4 7h0m1-11h0m1 11h0m1 2h0m1-10h0m21 4h0m29 0h0m1 3h0m3 7h0m-32 5h0m-6 0h0m-1-2h0m-2 4h0m-9-1h0m-10 3h0m-4-9h0m-4-2h0m0 8h0m-10-9h0m-2 0h0m-1 2h0m-4 3h0m-6 2h0m-13-2h0m-9-5h0m-7 2h0m-4-1h0m-7 3h0m-2-2h0m-2 8h0m-4-3h0m-9-4h0m-14 4h0m-7-2h0m-3-1h0m-1 8h0m-1-11h0m0 2h0m-8 5h0m0-8h0m0 8h0m-1 2h0m-3 0h0m-4-9h0m-5-1h0m-2 3h0m18 21h0m13-2h0m11-8h0m2 7h0m1-3h0m7 7h0m1-2h0m1 1h0m2 3h0m2-8h0m1-4h0m6 6h0m1 6h0m14-10h0m5 9h0m2-9h0m0 3h0m3 2h0m10-1h0m1-4h0m4 8h0m3-7h0m21-4h0m7 12h0m0 0h0m2-10h0m6 8h0m1 0h0m2-3h0m5 1h0m63 2h0m24 3h0m-11 13h0m-93-6h0m0-5h0m-1 7h0m-2 5h0m-1-7h0m-1-3h0m-10 3h0m-8 2h0m-2 2h0m-2-2h0m-2 5h0m0-10h0m-8 5h0m0 3h0m-9-11h0m-8 9h0m-7 4h0m0-9h0m-7-4h0m-9 4h0m-31 3h0m8 9h0m2-1h0m3-1h0m24 1h0m2 9h0m4-8h0m5 5h0m5-1h0m17 2h0m25-7h0m85 5h0m21 18h0m-23-7h0m2 17h0m33 1h0m-30 11h0m-26 17h0m23 19h0m-66-7h0m55 18h0m-60 6h0" stroke="#e68b78" stroke-width="8" stroke-linecap="round" fill="none"/></g><text x="479.6" y="544.9" font-size="6.5" fill="#222">Gp5</text>
<path d="M0 .5H520" stroke="#5c5c5c" stroke-width="1"/><path d="M.5 0V615" stroke="#3a3a3a" stroke-width="1"/><path d="M519.35 0V615" stroke="#585858" stroke-width="1.3"/><path d="M0 614.4H520" stroke="#2a2a2a" stroke-width="1.2"/>
</svg>
</body></html>
